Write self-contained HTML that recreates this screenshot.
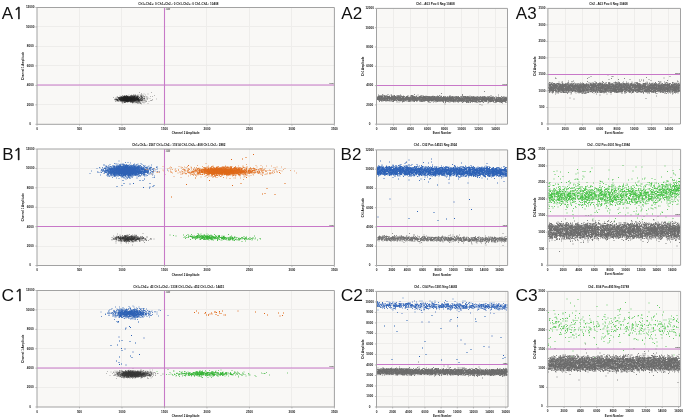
<!DOCTYPE html>
<html><head><meta charset="utf-8"><title>Droplet digital PCR plots</title>
<style>html,body{margin:0;padding:0;background:#fff;width:685px;height:419px;overflow:hidden}svg{display:block}</style>
</head><body><svg width="685" height="419" viewBox="0 0 685 419" font-family="'Liberation Sans', Arial, sans-serif"><defs><filter id="bl" x="-5%" y="-20%" width="110%" height="140%"><feGaussianBlur stdDeviation=".6"/></filter></defs><rect x="37" y="7.5" width="297.4" height="116.8" fill="#f9f8f6"/><path d="M79.5 7.5V124.3M121.5 7.5V124.3M164.5 7.5V124.3M206.5 7.5V124.3M249.5 7.5V124.3M291.5 7.5V124.3M37 104.5H334.4M37 85.5H334.4M37 65.5H334.4M37 46.5H334.4M37 26.5H334.4" stroke="#eeedeb" stroke-width="1" fill="none"/><text x="30.19" y="125.15" font-size="3.1" text-anchor="middle" fill="#1a1a1a" font-weight="bold">0</text><text x="30.19" y="105.68" font-size="3.1" text-anchor="middle" fill="#1a1a1a" font-weight="bold">2000</text><text x="30.19" y="86.22" font-size="3.1" text-anchor="middle" fill="#1a1a1a" font-weight="bold">4000</text><text x="30.19" y="66.75" font-size="3.1" text-anchor="middle" fill="#1a1a1a" font-weight="bold">6000</text><text x="30.19" y="47.28" font-size="3.1" text-anchor="middle" fill="#1a1a1a" font-weight="bold">8000</text><text x="30.19" y="27.82" font-size="3.1" text-anchor="middle" fill="#1a1a1a" font-weight="bold">10000</text><text x="30.19" y="8.35" font-size="3.1" text-anchor="middle" fill="#1a1a1a" font-weight="bold">12000</text><text x="37" y="129.95" font-size="3.1" text-anchor="middle" fill="#1a1a1a" font-weight="bold">0</text><text x="79.49" y="129.95" font-size="3.1" text-anchor="middle" fill="#1a1a1a" font-weight="bold">500</text><text x="121.97" y="129.95" font-size="3.1" text-anchor="middle" fill="#1a1a1a" font-weight="bold">1000</text><text x="164.46" y="129.95" font-size="3.1" text-anchor="middle" fill="#1a1a1a" font-weight="bold">1500</text><text x="206.94" y="129.95" font-size="3.1" text-anchor="middle" fill="#1a1a1a" font-weight="bold">2000</text><text x="249.43" y="129.95" font-size="3.1" text-anchor="middle" fill="#1a1a1a" font-weight="bold">2500</text><text x="291.91" y="129.95" font-size="3.1" text-anchor="middle" fill="#1a1a1a" font-weight="bold">3000</text><text x="334.4" y="129.95" font-size="3.1" text-anchor="middle" fill="#1a1a1a" font-weight="bold">3500</text><path d="M35.4 124.3h1.6M35.4 104.83h1.6M35.4 85.37h1.6M35.4 65.9h1.6M35.4 46.43h1.6M35.4 26.97h1.6M35.4 7.5h1.6M37 124.3v1.4M79.49 124.3v1.4M121.97 124.3v1.4M164.46 124.3v1.4M206.94 124.3v1.4M249.43 124.3v1.4M291.91 124.3v1.4M334.4 124.3v1.4" stroke="#9a9a9a" stroke-width=".7" fill="none"/><text x="178.4" y="4.8" font-size="3.4" text-anchor="middle" fill="#111" textLength="80.3" lengthAdjust="spacingAndGlyphs" font-weight="bold">Ch1+Ch2+: 0 Ch1+Ch2-: 0 Ch1-Ch2+: 0 Ch1-Ch2-: 10408</text><text x="185.7" y="134.3" font-size="3.1" text-anchor="middle" fill="#111" textLength="27.8" lengthAdjust="spacingAndGlyphs" font-weight="bold">Channel 2 Amplitude</text><text x="0" y="0" font-size="3.1" font-weight="bold" text-anchor="middle" fill="#111" transform="translate(24.4 65.9) rotate(-90)" textLength="28" lengthAdjust="spacingAndGlyphs">Channel 1 Amplitude</text><path transform="scale(.5)" filter="url(#bl)" d="M226 195h2m0 4h2m-1-1h2m-2 2h2m-1-1h2m-2 0h2m-2 1h2m-2 3h2m-1-8h2m-2 2h2m-2 1h2m-2 0h2m-2 4h2m-1-4h2m-2 1h2m-2 0h2m-2 0h2m-2 1h2m-1-6h2m-2 5h2m-2 0h2m-2 1h2m-2 0h2m-2 1h2m-2 1h2m-1-8h2m-2 0h2m-2 5h2m-2 0h2m-2 1h2m-2 0h2m-2 0h2m-2 1h2m-2 0h2m-2 0h2m-2 1h2m-1-7h2m-2 1h2m-2 2h2m-2 0h2m-2 1h2m-2 0h2m-2 3h2m-1-7h2m-2 1h2m-2 0h2m-2 1h2m-2 0h2m-2 2h2m-2 2h2m-2 0h2m-2 1h2m-1-7h2m-2 0h2m-2 0h2m-2 1h2m-2 1h2m-2 2h2m-2 3h2m-2 1h2m-1-8h2m-2 0h2m-2 1h2m-2 0h2m-2 0h2m-2 1h2m-2 0h2m-2 1h2m-2 0h2m-2 0h2m-2 0h2m-2 0h2m-2 1h2m-2 0h2m-2 0h2m-2 0h2m-2 0h2m-2 0h2m-2 1h2m-2 0h2m-1-8h2m-2 2h2m-2 1h2m-2 1h2m-2 1h2m-2 2h2m-2 1h2m-2 0h2m-2 0h2m-2 1h2m-1-7h2m-2 0h2m-2 1h2m-2 0h2m-2 0h2m-2 1h2m-2 1h2m-2 0h2m-2 0h2m-2 0h2m-2 1h2m-2 0h2m-2 0h2m-2 0h2m-2 1h2m-2 0h2m-2 0h2m-2 0h2m-2 0h2m-2 1h2m-2 0h2m-2 0h2m-2 0h2m-2 1h2m-2 0h2m-2 2h2m-1-9h2m-2 1h2m-2 1h2m-2 1h2m-2 1h2m-2 0h2m-2 0h2m-2 0h2m-2 1h2m-2 0h2m-2 0h2m-2 1h2m-2 0h2m-2 0h2m-2 1h2m-2 0h2m-2 2h2m-1-10h2m-2 1h2m-2 0h2m-2 0h2m-2 1h2m-2 0h2m-2 0h2m-2 0h2m-2 1h2m-2 0h2m-2 0h2m-2 0h2m-2 0h2m-2 1h2m-2 0h2m-2 0h2m-2 0h2m-2 0h2m-2 0h2m-2 1h2m-2 0h2m-2 0h2m-2 0h2m-2 0h2m-2 0h2m-2 1h2m-2 0h2m-2 0h2m-2 0h2m-2 1h2m-2 0h2m-2 0h2m-2 0h2m-2 1h2m-2 0h2m-2 0h2m-2 1h2m-2 2h2m-1-11h2m-2 2h2m-2 0h2m-2 0h2m-2 1h2m-2 0h2m-2 0h2m-2 0h2m-2 1h2m-2 0h2m-2 0h2m-2 0h2m-2 1h2m-2 0h2m-2 0h2m-2 0h2m-2 0h2m-2 1h2m-2 0h2m-2 0h2m-2 1h2m-2 0h2m-2 0h2m-2 1h2m-2 0h2m-2 0h2m-2 1h2m-2 0h2m-2 0h2m-2 1h2m-1-11h2m-2 0h2m-2 3h2m-2 0h2m-2 1h2m-2 0h2m-2 0h2m-2 0h2m-2 0h2m-2 1h2m-2 0h2m-2 1h2m-2 0h2m-2 0h2m-2 0h2m-2 0h2m-2 0h2m-2 0h2m-2 1h2m-2 0h2m-2 1h2m-2 0h2m-2 0h2m-2 0h2m-2 1h2m-2 0h2m-2 0h2m-2 1h2m-2 0h2m-2 0h2m-2 2h2m-2 2h2m-1-15h2m-2 2h2m-2 1h2m-2 0h2m-2 0h2m-2 1h2m-2 0h2m-2 0h2m-2 0h2m-2 0h2m-2 0h2m-2 0h2m-2 1h2m-2 0h2m-2 0h2m-2 0h2m-2 1h2m-2 0h2m-2 0h2m-2 0h2m-2 0h2m-2 0h2m-2 1h2m-2 0h2m-2 0h2m-2 0h2m-2 0h2m-2 0h2m-2 0h2m-2 0h2m-2 0h2m-2 0h2m-2 0h2m-2 0h2m-2 1h2m-2 0h2m-2 0h2m-2 0h2m-2 0h2m-2 0h2m-2 1h2m-2 0h2m-2 0h2m-2 0h2m-2 1h2m-2 0h2m-2 0h2m-2 2h2m-2 2h2m-2 1h2m-1-13h2m-2 0h2m-2 1h2m-2 0h2m-2 0h2m-2 0h2m-2 1h2m-2 0h2m-2 1h2m-2 0h2m-2 0h2m-2 0h2m-2 0h2m-2 1h2m-2 0h2m-2 0h2m-2 0h2m-2 0h2m-2 0h2m-2 0h2m-2 1h2m-2 0h2m-2 0h2m-2 0h2m-2 0h2m-2 1h2m-2 0h2m-2 0h2m-2 0h2m-2 0h2m-2 0h2m-2 0h2m-2 1h2m-2 1h2m-2 0h2m-2 0h2m-2 0h2m-2 0h2m-2 0h2m-2 1h2m-2 0h2m-2 1h2m-1-10h2m-2 1h2m-2 0h2m-2 1h2m-2 0h2m-2 0h2m-2 0h2m-2 0h2m-2 1h2m-2 0h2m-2 0h2m-2 0h2m-2 0h2m-2 0h2m-2 1h2m-2 0h2m-2 0h2m-2 0h2m-2 0h2m-2 0h2m-2 0h2m-2 1h2m-2 0h2m-2 0h2m-2 0h2m-2 0h2m-2 0h2m-2 0h2m-2 0h2m-2 1h2m-2 0h2m-2 0h2m-2 0h2m-2 0h2m-2 0h2m-2 0h2m-2 0h2m-2 0h2m-2 0h2m-2 1h2m-2 0h2m-2 0h2m-2 0h2m-2 0h2m-2 0h2m-2 0h2m-2 0h2m-2 1h2m-2 0h2m-2 0h2m-2 0h2m-2 0h2m-2 0h2m-2 0h2m-2 0h2m-2 2h2m-2 1h2m-1-13h2m-2 1h2m-2 0h2m-2 1h2m-2 0h2m-2 0h2m-2 0h2m-2 0h2m-2 0h2m-2 1h2m-2 0h2m-2 1h2m-2 0h2m-2 0h2m-2 0h2m-2 0h2m-2 0h2m-2 1h2m-2 0h2m-2 0h2m-2 0h2m-2 0h2m-2 0h2m-2 0h2m-2 0h2m-2 1h2m-2 0h2m-2 0h2m-2 0h2m-2 0h2m-2 0h2m-2 0h2m-2 0h2m-2 1h2m-2 0h2m-2 0h2m-2 0h2m-2 0h2m-2 1h2m-2 0h2m-2 0h2m-2 0h2m-2 0h2m-2 0h2m-2 0h2m-2 0h2m-2 0h2m-2 1h2m-2 0h2m-2 0h2m-2 0h2m-2 0h2m-2 1h2m-2 0h2m-2 1h2m-2 1h2m-2 1h2m-2 0h2m-2 1h2m-2 0h2m-1-12h2m-2 0h2m-2 1h2m-2 0h2m-2 0h2m-2 1h2m-2 0h2m-2 0h2m-2 0h2m-2 0h2m-2 0h2m-2 0h2m-2 0h2m-2 0h2m-2 0h2m-2 1h2m-2 0h2m-2 0h2m-2 0h2m-2 0h2m-2 0h2m-2 0h2m-2 1h2m-2 0h2m-2 0h2m-2 0h2m-2 0h2m-2 0h2m-2 0h2m-2 0h2m-2 0h2m-2 1h2m-2 0h2m-2 0h2m-2 0h2m-2 0h2m-2 0h2m-2 0h2m-2 0h2m-2 0h2m-2 0h2m-2 1h2m-2 0h2m-2 0h2m-2 0h2m-2 0h2m-2 0h2m-2 0h2m-2 0h2m-2 1h2m-2 0h2m-2 0h2m-2 0h2m-2 0h2m-2 1h2m-2 0h2m-2 0h2m-2 0h2m-2 0h2m-2 0h2m-2 1h2m-2 0h2m-2 0h2m-2 0h2m-2 1h2m-2 2h2m-2 0h2m-1-13h2m-2 1h2m-2 0h2m-2 1h2m-2 0h2m-2 0h2m-2 0h2m-2 0h2m-2 0h2m-2 1h2m-2 0h2m-2 0h2m-2 0h2m-2 0h2m-2 0h2m-2 1h2m-2 0h2m-2 0h2m-2 0h2m-2 0h2m-2 0h2m-2 0h2m-2 1h2m-2 0h2m-2 0h2m-2 0h2m-2 0h2m-2 0h2m-2 0h2m-2 0h2m-2 0h2m-2 0h2m-2 1h2m-2 0h2m-2 0h2m-2 0h2m-2 0h2m-2 0h2m-2 0h2m-2 0h2m-2 0h2m-2 0h2m-2 1h2m-2 0h2m-2 0h2m-2 1h2m-2 0h2m-2 0h2m-2 0h2m-2 0h2m-2 0h2m-2 0h2m-2 0h2m-2 1h2m-2 0h2m-2 0h2m-2 0h2m-2 0h2m-2 0h2m-2 0h2m-2 1h2m-2 1h2m-2 0h2m-2 1h2m-2 0h2m-2 0h2m-1-13h2m-2 2h2m-2 0h2m-2 1h2m-2 1h2m-2 0h2m-2 0h2m-2 1h2m-2 0h2m-2 0h2m-2 0h2m-2 0h2m-2 0h2m-2 0h2m-2 1h2m-2 0h2m-2 0h2m-2 0h2m-2 0h2m-2 0h2m-2 0h2m-2 0h2m-2 0h2m-2 0h2m-2 0h2m-2 0h2m-2 0h2m-2 0h2m-2 0h2m-2 1h2m-2 0h2m-2 0h2m-2 0h2m-2 0h2m-2 0h2m-2 0h2m-2 0h2m-2 0h2m-2 0h2m-2 0h2m-2 0h2m-2 0h2m-2 0h2m-2 0h2m-2 1h2m-2 0h2m-2 0h2m-2 0h2m-2 0h2m-2 0h2m-2 0h2m-2 0h2m-2 1h2m-2 0h2m-2 0h2m-2 0h2m-2 0h2m-2 0h2m-2 0h2m-2 1h2m-2 0h2m-2 0h2m-2 1h2m-2 2h2m-1-13h2m-2 1h2m-2 0h2m-2 1h2m-2 0h2m-2 0h2m-2 1h2m-2 1h2m-2 0h2m-2 0h2m-2 0h2m-2 1h2m-2 0h2m-2 0h2m-2 0h2m-2 0h2m-2 0h2m-2 0h2m-2 0h2m-2 1h2m-2 0h2m-2 0h2m-2 0h2m-2 0h2m-2 0h2m-2 0h2m-2 1h2m-2 0h2m-2 0h2m-2 0h2m-2 0h2m-2 0h2m-2 0h2m-2 0h2m-2 0h2m-2 0h2m-2 0h2m-2 0h2m-2 0h2m-2 0h2m-2 1h2m-2 0h2m-2 0h2m-2 0h2m-2 0h2m-2 0h2m-2 0h2m-2 0h2m-2 0h2m-2 0h2m-2 0h2m-2 0h2m-2 0h2m-2 0h2m-2 0h2m-2 0h2m-2 0h2m-2 1h2m-2 0h2m-2 0h2m-2 0h2m-2 0h2m-2 0h2m-2 1h2m-2 0h2m-2 0h2m-2 0h2m-2 0h2m-2 0h2m-2 0h2m-2 0h2m-2 0h2m-2 1h2m-2 0h2m-2 0h2m-2 0h2m-2 0h2m-2 0h2m-2 1h2m-2 0h2m-2 0h2m-1-12h2m-2 0h2m-2 2h2m-2 0h2m-2 1h2m-2 0h2m-2 1h2m-2 0h2m-2 0h2m-2 0h2m-2 0h2m-2 1h2m-2 0h2m-2 0h2m-2 0h2m-2 0h2m-2 0h2m-2 0h2m-2 0h2m-2 1h2m-2 0h2m-2 0h2m-2 0h2m-2 0h2m-2 0h2m-2 0h2m-2 0h2m-2 1h2m-2 0h2m-2 0h2m-2 0h2m-2 0h2m-2 0h2m-2 0h2m-2 0h2m-2 0h2m-2 0h2m-2 1h2m-2 0h2m-2 0h2m-2 0h2m-2 0h2m-2 0h2m-2 0h2m-2 0h2m-2 0h2m-2 0h2m-2 0h2m-2 0h2m-2 1h2m-2 0h2m-2 0h2m-2 0h2m-2 0h2m-2 0h2m-2 0h2m-2 0h2m-2 0h2m-2 1h2m-2 0h2m-2 0h2m-2 0h2m-2 0h2m-2 0h2m-2 1h2m-2 0h2m-2 0h2m-2 0h2m-2 0h2m-2 0h2m-2 1h2m-2 0h2m-2 1h2m-1-11h2m-2 0h2m-2 0h2m-2 0h2m-2 0h2m-2 0h2m-2 0h2m-2 1h2m-2 0h2m-2 0h2m-2 0h2m-2 0h2m-2 1h2m-2 0h2m-2 0h2m-2 0h2m-2 0h2m-2 0h2m-2 0h2m-2 0h2m-2 0h2m-2 0h2m-2 0h2m-2 0h2m-2 1h2m-2 0h2m-2 0h2m-2 0h2m-2 0h2m-2 0h2m-2 0h2m-2 0h2m-2 0h2m-2 0h2m-2 0h2m-2 0h2m-2 1h2m-2 0h2m-2 0h2m-2 0h2m-2 0h2m-2 0h2m-2 0h2m-2 0h2m-2 0h2m-2 0h2m-2 0h2m-2 0h2m-2 0h2m-2 1h2m-2 0h2m-2 0h2m-2 0h2m-2 0h2m-2 0h2m-2 0h2m-2 0h2m-2 0h2m-2 0h2m-2 0h2m-2 1h2m-2 0h2m-2 0h2m-2 0h2m-2 0h2m-2 0h2m-2 0h2m-2 0h2m-2 0h2m-2 0h2m-2 0h2m-2 0h2m-2 0h2m-2 1h2m-2 0h2m-2 0h2m-2 0h2m-2 0h2m-2 0h2m-2 0h2m-2 0h2m-2 0h2m-2 0h2m-2 0h2m-2 0h2m-2 0h2m-2 0h2m-2 0h2m-2 1h2m-2 0h2m-2 0h2m-2 0h2m-2 0h2m-2 0h2m-2 0h2m-2 1h2m-2 0h2m-2 0h2m-2 0h2m-2 0h2m-2 0h2m-2 0h2m-2 1h2m-2 1h2m-1-11h2m-2 0h2m-2 1h2m-2 1h2m-2 0h2m-2 1h2m-2 0h2m-2 0h2m-2 0h2m-2 0h2m-2 0h2m-2 1h2m-2 0h2m-2 0h2m-2 0h2m-2 0h2m-2 0h2m-2 0h2m-2 0h2m-2 0h2m-2 0h2m-2 1h2m-2 0h2m-2 0h2m-2 0h2m-2 0h2m-2 0h2m-2 0h2m-2 0h2m-2 0h2m-2 0h2m-2 0h2m-2 0h2m-2 0h2m-2 0h2m-2 1h2m-2 0h2m-2 0h2m-2 0h2m-2 0h2m-2 1h2m-2 0h2m-2 0h2m-2 0h2m-2 0h2m-2 0h2m-2 0h2m-2 0h2m-2 0h2m-2 2h2m-2 0h2m-2 0h2m-2 0h2m-2 0h2m-2 0h2m-2 1h2m-2 2h2m-1-13h2m-2 1h2m-2 1h2m-2 0h2m-2 0h2m-2 1h2m-2 0h2m-2 0h2m-2 0h2m-2 0h2m-2 1h2m-2 0h2m-2 0h2m-2 0h2m-2 0h2m-2 1h2m-2 0h2m-2 0h2m-2 0h2m-2 0h2m-2 0h2m-2 0h2m-2 0h2m-2 0h2m-2 0h2m-2 1h2m-2 0h2m-2 0h2m-2 0h2m-2 0h2m-2 0h2m-2 1h2m-2 0h2m-2 0h2m-2 0h2m-2 0h2m-2 0h2m-2 0h2m-2 0h2m-2 0h2m-2 1h2m-2 0h2m-2 0h2m-2 0h2m-2 0h2m-2 0h2m-2 0h2m-2 1h2m-2 0h2m-2 0h2m-2 1h2m-2 0h2m-2 0h2m-2 1h2m-2 0h2m-2 0h2m-1-13h2m-2 3h2m-2 1h2m-2 1h2m-2 0h2m-2 0h2m-2 0h2m-2 0h2m-2 1h2m-2 0h2m-2 0h2m-2 0h2m-2 1h2m-2 0h2m-2 0h2m-2 0h2m-2 0h2m-2 0h2m-2 1h2m-2 0h2m-2 0h2m-2 0h2m-2 0h2m-2 0h2m-2 1h2m-2 0h2m-2 0h2m-2 0h2m-2 1h2m-2 0h2m-2 0h2m-2 1h2m-2 0h2m-2 0h2m-2 0h2m-2 1h2m-2 0h2m-2 0h2m-2 1h2m-1-10h2m-2 0h2m-2 2h2m-2 0h2m-2 0h2m-2 1h2m-2 0h2m-2 0h2m-2 0h2m-2 0h2m-2 0h2m-2 1h2m-2 0h2m-2 0h2m-2 0h2m-2 0h2m-2 0h2m-2 0h2m-2 0h2m-2 0h2m-2 0h2m-2 1h2m-2 0h2m-2 0h2m-2 0h2m-2 0h2m-2 0h2m-2 0h2m-2 1h2m-2 0h2m-2 0h2m-2 0h2m-2 0h2m-2 0h2m-2 0h2m-2 0h2m-2 1h2m-2 0h2m-2 0h2m-2 0h2m-2 0h2m-2 1h2m-2 0h2m-2 0h2m-2 0h2m-2 0h2m-2 1h2m-2 0h2m-2 0h2m-1-9h2m-2 0h2m-2 1h2m-2 0h2m-2 0h2m-2 0h2m-2 0h2m-2 1h2m-2 0h2m-2 0h2m-2 0h2m-2 0h2m-2 0h2m-2 0h2m-2 0h2m-2 1h2m-2 0h2m-2 0h2m-2 0h2m-2 0h2m-2 1h2m-2 0h2m-2 0h2m-2 1h2m-2 0h2m-2 0h2m-2 0h2m-2 0h2m-2 0h2m-2 0h2m-2 0h2m-2 0h2m-2 1h2m-2 0h2m-2 0h2m-2 0h2m-2 0h2m-2 0h2m-2 0h2m-2 0h2m-2 0h2m-2 1h2m-2 0h2m-2 0h2m-2 0h2m-2 0h2m-2 0h2m-2 0h2m-2 1h2m-2 0h2m-2 0h2m-2 0h2m-2 1h2m-2 0h2m-2 1h2m-2 0h2m-2 1h2m-1-12h2m-2 0h2m-2 2h2m-2 1h2m-2 0h2m-2 0h2m-2 0h2m-2 0h2m-2 1h2m-2 0h2m-2 0h2m-2 0h2m-2 1h2m-2 0h2m-2 0h2m-2 0h2m-2 1h2m-2 0h2m-2 0h2m-2 0h2m-2 0h2m-2 0h2m-2 0h2m-2 0h2m-2 1h2m-2 0h2m-2 0h2m-2 1h2m-2 0h2m-2 1h2m-2 0h2m-2 0h2m-2 0h2m-2 0h2m-2 1h2m-2 0h2m-2 0h2m-2 0h2m-2 1h2m-2 0h2m-2 2h2m-1-13h2m-2 0h2m-2 0h2m-2 0h2m-2 2h2m-2 0h2m-2 0h2m-2 0h2m-2 0h2m-2 1h2m-2 0h2m-2 0h2m-2 0h2m-2 0h2m-2 0h2m-2 1h2m-2 0h2m-2 0h2m-2 0h2m-2 0h2m-2 1h2m-2 0h2m-2 0h2m-2 0h2m-2 0h2m-2 0h2m-2 0h2m-2 0h2m-2 0h2m-2 0h2m-2 1h2m-2 0h2m-2 0h2m-2 0h2m-2 0h2m-2 0h2m-2 0h2m-2 0h2m-2 0h2m-2 0h2m-2 0h2m-2 0h2m-2 1h2m-2 0h2m-2 0h2m-2 0h2m-2 0h2m-2 0h2m-2 0h2m-2 0h2m-2 1h2m-2 0h2m-2 0h2m-2 0h2m-2 0h2m-2 0h2m-2 0h2m-2 0h2m-2 1h2m-2 0h2m-2 0h2m-2 0h2m-2 1h2m-2 0h2m-2 0h2m-2 1h2m-2 2h2m-1-15h2m-2 2h2m-2 1h2m-2 1h2m-2 0h2m-2 1h2m-2 1h2m-2 0h2m-2 0h2m-2 0h2m-2 0h2m-2 1h2m-2 0h2m-2 0h2m-2 0h2m-2 0h2m-2 0h2m-2 1h2m-2 0h2m-2 0h2m-2 0h2m-2 0h2m-2 0h2m-2 1h2m-2 0h2m-2 0h2m-2 1h2m-2 0h2m-2 1h2m-2 0h2m-2 0h2m-2 1h2m-2 0h2m-2 0h2m-2 1h2m-2 0h2m-2 0h2m-2 1h2m-1-13h2m-2 1h2m-2 0h2m-2 0h2m-2 1h2m-2 0h2m-2 1h2m-2 1h2m-2 1h2m-2 0h2m-2 0h2m-2 1h2m-2 0h2m-2 0h2m-2 0h2m-2 1h2m-2 0h2m-2 1h2m-2 0h2m-2 0h2m-2 0h2m-2 0h2m-2 0h2m-2 0h2m-2 0h2m-2 0h2m-2 0h2m-2 1h2m-2 0h2m-2 1h2m-2 0h2m-2 1h2m-2 0h2m-2 1h2m-2 1h2m-2 1h2m-1-13h2m-2 1h2m-2 0h2m-2 0h2m-2 1h2m-2 1h2m-2 0h2m-2 0h2m-2 1h2m-2 0h2m-2 0h2m-2 0h2m-2 0h2m-2 1h2m-2 0h2m-2 0h2m-2 0h2m-2 1h2m-2 0h2m-2 0h2m-2 0h2m-2 0h2m-2 1h2m-2 0h2m-2 0h2m-2 0h2m-2 1h2m-2 0h2m-2 0h2m-2 0h2m-2 0h2m-2 1h2m-2 0h2m-2 1h2m-2 0h2m-2 0h2m-2 0h2m-2 0h2m-2 1h2m-2 0h2m-2 2h2m-2 0h2m-2 1h2m-1-14h2m-2 0h2m-2 1h2m-2 1h2m-2 0h2m-2 1h2m-2 0h2m-2 0h2m-2 1h2m-2 0h2m-2 0h2m-2 1h2m-2 0h2m-2 0h2m-2 1h2m-2 0h2m-2 0h2m-2 0h2m-2 0h2m-2 1h2m-2 0h2m-2 0h2m-2 0h2m-2 0h2m-2 0h2m-2 0h2m-2 1h2m-2 0h2m-2 0h2m-2 1h2m-2 1h2m-2 1h2m-2 1h2m-2 0h2m-2 2h2m-1-16h2m-2 1h2m-2 1h2m-2 1h2m-2 1h2m-2 0h2m-2 0h2m-2 0h2m-2 1h2m-2 0h2m-2 0h2m-2 1h2m-2 0h2m-2 0h2m-2 0h2m-2 0h2m-2 0h2m-2 0h2m-2 0h2m-2 0h2m-2 1h2m-2 1h2m-2 0h2m-2 0h2m-2 0h2m-2 1h2m-2 0h2m-2 0h2m-2 1h2m-2 0h2m-2 0h2m-2 0h2m-2 1h2m-2 0h2m-2 0h2m-2 1h2m-2 0h2m-2 0h2m-2 0h2m-2 1h2m-2 1h2m-2 0h2m-1-15h2m-2 3h2m-2 1h2m-2 0h2m-2 1h2m-2 0h2m-2 1h2m-2 0h2m-2 0h2m-2 0h2m-2 1h2m-2 0h2m-2 0h2m-2 0h2m-2 0h2m-2 1h2m-2 0h2m-2 0h2m-2 1h2m-2 0h2m-2 0h2m-2 0h2m-2 0h2m-2 0h2m-2 0h2m-2 1h2m-2 0h2m-2 0h2m-2 1h2m-2 0h2m-2 0h2m-2 1h2m-2 0h2m-2 1h2m-2 1h2m-2 1h2m-2 1h2m-1-13h2m-2 0h2m-2 0h2m-2 0h2m-2 1h2m-2 0h2m-2 1h2m-2 0h2m-2 0h2m-2 0h2m-2 0h2m-2 1h2m-2 1h2m-2 1h2m-2 0h2m-2 0h2m-2 0h2m-2 1h2m-2 0h2m-2 0h2m-2 0h2m-2 1h2m-2 0h2m-2 1h2m-2 0h2m-2 0h2m-2 0h2m-2 0h2m-2 0h2m-2 1h2m-2 0h2m-2 0h2m-2 0h2m-2 1h2m-2 0h2m-2 0h2m-2 1h2m-1-11h2m-2 0h2m-2 1h2m-2 1h2m-2 0h2m-2 0h2m-2 1h2m-2 0h2m-2 0h2m-2 1h2m-2 0h2m-2 0h2m-2 1h2m-2 0h2m-2 0h2m-2 1h2m-2 0h2m-2 0h2m-2 0h2m-2 0h2m-2 0h2m-2 1h2m-2 0h2m-2 0h2m-2 1h2m-2 0h2m-2 1h2m-2 0h2m-2 1h2m-2 0h2m-2 2h2m-2 2h2m-1-16h2m-2 0h2m-2 1h2m-2 1h2m-2 1h2m-2 1h2m-2 0h2m-2 2h2m-2 0h2m-2 1h2m-2 0h2m-2 1h2m-2 0h2m-2 0h2m-2 0h2m-2 1h2m-2 0h2m-2 0h2m-2 1h2m-2 0h2m-2 0h2m-2 1h2m-2 0h2m-2 0h2m-2 0h2m-2 1h2m-2 0h2m-2 3h2m-1-13h2m-2 3h2m-2 1h2m-2 0h2m-2 0h2m-2 0h2m-2 1h2m-2 0h2m-2 1h2m-2 0h2m-2 0h2m-2 0h2m-2 0h2m-2 0h2m-2 1h2m-2 1h2m-2 0h2m-2 1h2m-2 0h2m-2 1h2m-2 1h2m-2 0h2m-2 1h2m-1-12h2m-2 1h2m-2 1h2m-2 0h2m-2 1h2m-2 0h2m-2 0h2m-2 1h2m-2 0h2m-2 1h2m-2 0h2m-2 0h2m-2 1h2m-2 0h2m-2 0h2m-2 0h2m-2 1h2m-2 0h2m-2 0h2m-2 1h2m-2 0h2m-2 0h2m-2 0h2m-2 1h2m-2 0h2m-2 2h2m-2 2h2m-2 0h2m-1-14h2m-2 2h2m-2 1h2m-2 0h2m-2 1h2m-2 0h2m-2 0h2m-2 0h2m-2 1h2m-2 1h2m-2 0h2m-2 0h2m-2 0h2m-2 1h2m-2 0h2m-2 0h2m-2 0h2m-2 1h2m-2 0h2m-2 0h2m-2 1h2m-2 2h2m-2 0h2m-2 2h2m-2 2h2m-1-16h2m-2 2h2m-2 0h2m-2 1h2m-2 1h2m-2 0h2m-2 0h2m-2 0h2m-2 0h2m-2 1h2m-2 1h2m-2 1h2m-2 0h2m-2 1h2m-2 1h2m-2 0h2m-2 0h2m-2 0h2m-2 0h2m-2 0h2m-2 0h2m-2 0h2m-2 0h2m-2 0h2m-2 0h2m-2 0h2m-2 1h2m-2 0h2m-2 0h2m-2 1h2m-2 0h2m-2 2h2m-2 0h2m-2 2h2m-2 1h2m-2 0h2m-1-13h2m-2 1h2m-2 0h2m-2 1h2m-2 0h2m-2 1h2m-2 1h2m-2 0h2m-2 0h2m-2 0h2m-2 1h2m-2 0h2m-2 0h2m-2 1h2m-2 1h2m-2 0h2m-2 0h2m-2 1h2m-2 1h2m-1-12h2m-2 2h2m-2 1h2m-2 1h2m-2 2h2m-2 1h2m-2 0h2m-2 0h2m-2 1h2m-2 0h2m-2 0h2m-2 0h2m-2 1h2m-2 0h2m-2 0h2m-2 1h2m-2 0h2m-2 0h2m-2 1h2m-2 0h2m-2 1h2m-2 0h2m-2 2h2m-2 0h2m-2 0h2m-2 3h2m-1-10h2m-2 1h2m-2 0h2m-2 1h2m-2 1h2m-2 0h2m-2 1h2m-2 0h2m-2 0h2m-2 1h2m-2 0h2m-2 0h2m-2 0h2m-2 1h2m-2 2h2m-1-20h2m-2 10h2m-2 0h2m-2 0h2m-2 4h2m-2 2h2m-2 0h2m-2 1h2m-2 1h2m-2 2h2m-1-15h2m-2 4h2m-2 0h2m-2 2h2m-2 0h2m-2 2h2m-2 1h2m-2 0h2m-2 0h2m-2 0h2m-2 1h2m-2 0h2m-2 0h2m-2 1h2m-2 2h2m-2 2h2m-2 1h2m-2 1h2m-1-13h2m-2 3h2m-2 3h2m-2 0h2m-2 2h2m-2 3h2m-2 2h2m-1-17h2m-2 1h2m-2 1h2m-2 0h2m-2 0h2m-2 1h2m-2 4h2m-2 0h2m-2 0h2m-2 3h2m-2 0h2m-2 1h2m-2 0h2m-2 6h2m-1-20h2m-2 3h2m-2 3h2m-2 0h2m-2 0h2m-2 1h2m-2 1h2m-2 1h2m-2 0h2m-2 2h2m-2 0h2m-2 2h2m-2 0h2m-2 0h2m-2 1h2m-2 0h2m-2 1h2m-2 6h2m-1-19h2m-2 2h2m-2 2h2m-2 2h2m-2 1h2m-2 0h2m-2 1h2m-2 7h2m-1-10h2m-2 0h2m-2 1h2m-2 0h2m-2 2h2m-2 2h2m-2 0h2m-2 1h2m-2 0h2m-2 1h2m-1-10h2m-2 7h2m-2 1h2m-2 2h2m-2 1h2m-2 2h2m-2 1h2m-1-13h2m-2 1h2m-2 3h2m-2 1h2m-1-9h2m-2 9h2m-2 1h2m-2 3h2m-2 5h2m-1-13h2m-2 1h2m-2 0h2m-2 3h2m-2 0h2m-2 0h2m-2 3h2m-1-1h2m-2 3h2m-2 0h2m-2 3h2m-1-15h2m-1 3h2m-2 3h2m-2 6h2m-2 0h2m-1-6h2m-2 7h2m-1-10h2m-2 6h2m-1-3h2m-2 2h2m-1-10h2m-2 8h2m-2 11h2m0-4h2m0-6h2m-1-4h2m-2 8h2m0-16h2m-2 16h2m-1 0h2m-1-8h2m-2 6h2m2-8h2m2 7h2" stroke="#222" stroke-width="2" stroke-opacity=".3" fill="none"/><path d="M37 85H334.4" stroke="#c878c8" stroke-width="1.15" fill="none"/><text x="331.4" y="84.4" font-size="2.3" text-anchor="middle" fill="#3a3a3a" textLength="4.8" lengthAdjust="spacingAndGlyphs" font-weight="bold">4000</text><path d="M164.5 7.5V124.3" stroke="#c77ac7" stroke-width="1.1" fill="none"/><text x="167.9" y="10.1" font-size="2.7" text-anchor="middle" fill="#505050" textLength="4.6" lengthAdjust="spacingAndGlyphs" font-weight="bold">1500</text><path d="M37 7.5H334.4V124.3H37Z" stroke="#a2a2a2" stroke-width="1" fill="none"/><rect x="376.5" y="8.4" width="131" height="115.8" fill="#f9f8f6"/><path d="M393.5 8.4V124.2M410.5 8.4V124.2M427.5 8.4V124.2M444.5 8.4V124.2M461.5 8.4V124.2M478.5 8.4V124.2M495.5 8.4V124.2M376.5 104.5H507.5M376.5 85.5H507.5M376.5 66.5H507.5M376.5 47.5H507.5M376.5 27.5H507.5" stroke="#eeedeb" stroke-width="1" fill="none"/><text x="369.69" y="125.05" font-size="3.1" text-anchor="middle" fill="#1a1a1a" font-weight="bold">0</text><text x="369.69" y="105.75" font-size="3.1" text-anchor="middle" fill="#1a1a1a" font-weight="bold">2000</text><text x="369.69" y="86.45" font-size="3.1" text-anchor="middle" fill="#1a1a1a" font-weight="bold">4000</text><text x="369.69" y="67.15" font-size="3.1" text-anchor="middle" fill="#1a1a1a" font-weight="bold">6000</text><text x="369.69" y="47.85" font-size="3.1" text-anchor="middle" fill="#1a1a1a" font-weight="bold">8000</text><text x="369.69" y="28.55" font-size="3.1" text-anchor="middle" fill="#1a1a1a" font-weight="bold">10000</text><text x="369.69" y="9.25" font-size="3.1" text-anchor="middle" fill="#1a1a1a" font-weight="bold">12000</text><text x="376.5" y="129.85" font-size="3.1" text-anchor="middle" fill="#1a1a1a" font-weight="bold">0</text><text x="393.51" y="129.85" font-size="3.1" text-anchor="middle" fill="#1a1a1a" font-weight="bold">2000</text><text x="410.53" y="129.85" font-size="3.1" text-anchor="middle" fill="#1a1a1a" font-weight="bold">4000</text><text x="427.54" y="129.85" font-size="3.1" text-anchor="middle" fill="#1a1a1a" font-weight="bold">6000</text><text x="444.55" y="129.85" font-size="3.1" text-anchor="middle" fill="#1a1a1a" font-weight="bold">8000</text><text x="461.56" y="129.85" font-size="3.1" text-anchor="middle" fill="#1a1a1a" font-weight="bold">10000</text><text x="478.58" y="129.85" font-size="3.1" text-anchor="middle" fill="#1a1a1a" font-weight="bold">12000</text><text x="495.59" y="129.85" font-size="3.1" text-anchor="middle" fill="#1a1a1a" font-weight="bold">14000</text><path d="M374.9 124.2h1.6M374.9 104.9h1.6M374.9 85.6h1.6M374.9 66.3h1.6M374.9 47h1.6M374.9 27.7h1.6M374.9 8.4h1.6M376.5 124.2v1.4M393.51 124.2v1.4M410.53 124.2v1.4M427.54 124.2v1.4M444.55 124.2v1.4M461.56 124.2v1.4M478.58 124.2v1.4M495.59 124.2v1.4" stroke="#9a9a9a" stroke-width=".7" fill="none"/><text x="435.4" y="4.8" font-size="3.4" text-anchor="middle" fill="#111" textLength="38.6" lengthAdjust="spacingAndGlyphs" font-weight="bold">Ch1 - A03 Pos:0 Neg:10408</text><text x="442" y="134.2" font-size="3.1" text-anchor="middle" fill="#111" textLength="18.7" lengthAdjust="spacingAndGlyphs" font-weight="bold">Event Number</text><text x="0" y="0" font-size="3.1" font-weight="bold" text-anchor="middle" fill="#111" transform="translate(364.3 66.3) rotate(-90)" textLength="19.3" lengthAdjust="spacingAndGlyphs">Ch1 Amplitude</text><path transform="scale(.5)" filter="url(#bl)" d="M754 194h2m-2 2h2m-2 0h2m-2 0h2m-2 1h2m-2 0h2m-2 1h2m-2 0h2m-2 1h2m-2 0h2m-1-5h2m-2 1h2m-2 0h2m-2 3h2m-2 0h2m-2 0h2m-1-8h2m-2 3h2m-2 0h2m-2 1h2m-2 0h2m-2 0h2m-2 0h2m-2 2h2m-2 2h2m-2 1h2m-2 0h2m-2 1h2m-1-9h2m-2 3h2m-2 0h2m-2 2h2m-2 0h2m-2 1h2m-2 0h2m-2 1h2m-2 0h2m-2 0h2m-2 1h2m-2 0h2m-2 1h2m-1-7h2m-2 1h2m-2 0h2m-2 1h2m-2 0h2m-2 1h2m-2 0h2m-2 0h2m-2 1h2m-2 0h2m-2 1h2m-2 1h2m-2 1h2m-2 0h2m-2 2h2m-2 1h2m-1-11h2m-2 0h2m-2 1h2m-2 0h2m-2 0h2m-2 2h2m-2 3h2m-2 1h2m-2 0h2m-2 1h2m-1-7h2m-2 3h2m-2 1h2m-2 0h2m-2 1h2m-2 2h2m-2 0h2m-2 0h2m-1-9h2m-2 2h2m-2 1h2m-2 0h2m-2 0h2m-2 0h2m-2 1h2m-2 1h2m-2 1h2m-2 3h2m-1-8h2m-2 1h2m-2 0h2m-2 2h2m-2 0h2m-2 0h2m-2 0h2m-2 1h2m-2 0h2m-2 2h2m-2 1h2m-2 1h2m-2 1h2m-2 1h2m-1-9h2m-2 0h2m-2 0h2m-2 1h2m-2 1h2m-2 0h2m-2 1h2m-2 0h2m-2 1h2m-2 1h2m-2 0h2m-2 4h2m-1-12h2m-2 0h2m-2 3h2m-2 1h2m-2 0h2m-2 3h2m-2 2h2m-2 1h2m-1-10h2m-2 6h2m-2 2h2m-2 0h2m-2 1h2m-2 1h2m-2 1h2m-2 1h2m-1-8h2m-2 2h2m-2 1h2m-2 0h2m-2 1h2m-2 3h2m-1-10h2m-2 1h2m-2 3h2m-2 1h2m-2 1h2m-2 1h2m-2 1h2m-2 1h2m-2 1h2m-1-9h2m-2 1h2m-2 0h2m-2 1h2m-2 0h2m-2 2h2m-2 1h2m-2 2h2m-2 0h2m-2 1h2m-2 1h2m-1-9h2m-2 0h2m-2 0h2m-2 2h2m-2 0h2m-2 2h2m-2 0h2m-2 0h2m-2 0h2m-2 1h2m-2 4h2m-1-8h2m-2 1h2m-2 2h2m-2 2h2m-2 1h2m-2 2h2m-1-8h2m-2 1h2m-2 2h2m-2 1h2m-2 0h2m-2 0h2m-2 0h2m-2 1h2m-2 1h2m-2 2h2m-2 2h2m-1-11h2m-2 2h2m-2 0h2m-2 2h2m-2 1h2m-2 0h2m-2 1h2m-2 3h2m-1-10h2m-2 6h2m-2 2h2m-2 1h2m-2 0h2m-1-7h2m-2 0h2m-2 0h2m-2 1h2m-2 1h2m-2 0h2m-2 2h2m-2 0h2m-2 2h2m-2 0h2m-2 2h2m-2 0h2m-1-12h2m-2 4h2m-2 1h2m-2 1h2m-2 1h2m-2 0h2m-2 0h2m-2 4h2m-2 0h2m-2 1h2m-2 1h2m-1-9h2m-2 1h2m-2 0h2m-2 0h2m-2 1h2m-2 1h2m-2 0h2m-2 5h2m-1-7h2m-2 2h2m-2 1h2m-2 1h2m-2 0h2m-2 0h2m-1-6h2m-2 1h2m-2 0h2m-2 1h2m-2 1h2m-2 0h2m-2 1h2m-2 0h2m-2 1h2m-2 0h2m-2 2h2m-2 0h2m-2 1h2m-2 1h2m-1-7h2m-2 1h2m-2 0h2m-2 0h2m-2 2h2m-2 2h2m-2 2h2m-2 2h2m-1-8h2m-2 0h2m-2 1h2m-2 0h2m-2 1h2m-2 0h2m-2 3h2m-1-10h2m-2 5h2m-2 0h2m-2 0h2m-2 0h2m-2 0h2m-2 2h2m-2 0h2m-2 0h2m-2 0h2m-2 1h2m-2 1h2m-2 1h2m-1-10h2m-2 2h2m-2 1h2m-2 1h2m-2 0h2m-2 1h2m-2 2h2m-2 0h2m-2 2h2m-2 0h2m-2 3h2m-1-10h2m-2 0h2m-2 2h2m-2 0h2m-2 2h2m-2 3h2m-2 0h2m-2 1h2m-2 0h2m-2 1h2m-1-8h2m-2 1h2m-2 2h2m-2 0h2m-2 0h2m-2 2h2m-2 1h2m-2 4h2m-1-10h2m-2 1h2m-2 0h2m-2 1h2m-2 2h2m-2 0h2m-2 0h2m-2 1h2m-2 0h2m-2 0h2m-2 1h2m-2 0h2m-1-5h2m-2 0h2m-2 0h2m-2 3h2m-2 0h2m-2 1h2m-2 0h2m-2 0h2m-2 1h2m-2 1h2m-2 1h2m-2 1h2m-2 0h2m-2 1h2m-1-12h2m-2 1h2m-2 2h2m-2 1h2m-2 0h2m-2 1h2m-2 0h2m-2 0h2m-2 2h2m-2 1h2m-2 1h2m-2 1h2m-1-10h2m-2 1h2m-2 1h2m-2 0h2m-2 2h2m-2 2h2m-2 1h2m-2 0h2m-2 0h2m-2 0h2m-2 2h2m-2 1h2m-2 0h2m-1-8h2m-2 1h2m-2 1h2m-2 2h2m-2 0h2m-2 0h2m-2 1h2m-2 0h2m-2 1h2m-2 1h2m-2 1h2m-1-8h2m-2 0h2m-2 0h2m-2 2h2m-2 0h2m-2 1h2m-2 0h2m-2 1h2m-2 1h2m-2 1h2m-1-5h2m-2 1h2m-2 1h2m-2 0h2m-2 1h2m-2 0h2m-2 0h2m-2 1h2m-2 0h2m-2 1h2m-2 1h2m-2 1h2m-1-7h2m-2 1h2m-2 1h2m-2 0h2m-2 1h2m-2 4h2m-1-10h2m-2 2h2m-2 3h2m-2 2h2m-2 3h2m-2 1h2m-2 2h2m-1-11h2m-2 2h2m-2 0h2m-2 0h2m-2 0h2m-2 1h2m-2 0h2m-2 0h2m-2 0h2m-2 2h2m-2 1h2m-2 0h2m-1-8h2m-2 1h2m-2 3h2m-2 2h2m-2 2h2m-2 0h2m-2 0h2m-1-7h2m-2 1h2m-2 1h2m-2 0h2m-2 1h2m-2 2h2m-2 3h2m-2 0h2m-2 0h2m-2 0h2m-2 1h2m-2 0h2m-1-9h2m-2 2h2m-2 0h2m-2 2h2m-2 1h2m-2 2h2m-2 0h2m-2 0h2m-2 1h2m-2 0h2m-2 0h2m-2 4h2m-1-10h2m-2 0h2m-2 0h2m-2 1h2m-2 1h2m-2 1h2m-2 3h2m-2 0h2m-2 1h2m-1-10h2m-2 1h2m-2 3h2m-2 2h2m-2 4h2m-2 1h2m-1-12h2m-2 4h2m-2 0h2m-2 1h2m-2 0h2m-2 1h2m-2 1h2m-2 1h2m-2 0h2m-2 0h2m-2 1h2m-2 1h2m-2 1h2m-2 0h2m-1-8h2m-2 1h2m-2 1h2m-2 3h2m-2 0h2m-2 0h2m-2 1h2m-2 0h2m-2 1h2m-2 0h2m-2 2h2m-1-10h2m-2 1h2m-2 4h2m-2 0h2m-2 0h2m-2 2h2m-2 0h2m-2 1h2m-2 1h2m-1-7h2m-2 3h2m-2 0h2m-2 0h2m-2 1h2m-2 1h2m-1-5h2m-2 1h2m-2 1h2m-2 1h2m-2 0h2m-2 2h2m-2 1h2m-2 3h2m-2 1h2m-1-11h2m-2 0h2m-2 0h2m-2 1h2m-2 1h2m-2 0h2m-2 3h2m-2 1h2m-2 1h2m-2 1h2m-2 0h2m-1-9h2m-2 1h2m-2 1h2m-2 0h2m-2 1h2m-2 0h2m-2 1h2m-2 1h2m-2 0h2m-2 0h2m-2 0h2m-2 1h2m-2 0h2m-2 1h2m-2 1h2m-2 1h2m-2 2h2m-1-10h2m-2 2h2m-2 2h2m-2 1h2m-2 1h2m-2 0h2m-2 0h2m-2 3h2m-2 0h2m-1-9h2m-2 5h2m-2 0h2m-2 1h2m-2 0h2m-2 3h2m-1-8h2m-2 2h2m-2 1h2m-2 0h2m-2 0h2m-2 1h2m-2 1h2m-2 0h2m-2 0h2m-2 1h2m-2 0h2m-2 1h2m-1-6h2m-2 1h2m-2 1h2m-2 1h2m-2 1h2m-2 2h2m-1-6h2m-2 1h2m-2 0h2m-2 1h2m-2 0h2m-2 0h2m-2 2h2m-2 0h2m-2 3h2m-1-8h2m-2 0h2m-2 1h2m-2 0h2m-2 0h2m-2 1h2m-2 0h2m-2 0h2m-2 2h2m-2 0h2m-2 0h2m-2 0h2m-2 2h2m-2 0h2m-1-7h2m-2 0h2m-2 1h2m-2 0h2m-2 0h2m-2 2h2m-2 1h2m-2 0h2m-2 2h2m-2 0h2m-2 3h2m-1-10h2m-2 1h2m-2 0h2m-2 1h2m-2 0h2m-2 1h2m-2 1h2m-2 0h2m-2 1h2m-2 1h2m-2 0h2m-2 1h2m-2 0h2m-2 1h2m-1-5h2m-2 1h2m-2 0h2m-2 0h2m-2 2h2m-2 4h2m-1-10h2m-2 4h2m-2 0h2m-2 0h2m-2 0h2m-2 0h2m-2 1h2m-2 1h2m-2 1h2m-2 1h2m-2 2h2m-2 0h2m-1-7h2m-2 2h2m-2 0h2m-2 0h2m-2 0h2m-2 1h2m-2 0h2m-2 1h2m-2 0h2m-2 0h2m-2 0h2m-2 1h2m-2 2h2m-2 0h2m-1-6h2m-2 1h2m-2 1h2m-2 1h2m-2 0h2m-2 0h2m-2 1h2m-2 1h2m-2 2h2m-1-9h2m-2 2h2m-2 0h2m-2 0h2m-2 0h2m-2 0h2m-2 0h2m-2 2h2m-2 0h2m-2 0h2m-2 1h2m-2 0h2m-2 1h2m-2 1h2m-2 0h2m-2 0h2m-2 0h2m-1-7h2m-2 0h2m-2 1h2m-2 1h2m-2 1h2m-2 1h2m-2 0h2m-2 1h2m-2 3h2m-2 0h2m-1-11h2m-2 4h2m-2 0h2m-2 1h2m-2 0h2m-2 1h2m-2 0h2m-2 1h2m-2 1h2m-1-8h2m-2 1h2m-2 0h2m-2 2h2m-2 3h2m-2 1h2m-2 1h2m-2 1h2m-2 0h2m-2 2h2m-1-8h2m-2 0h2m-2 2h2m-1-5h2m-2 2h2m-2 0h2m-2 1h2m-2 1h2m-2 0h2m-2 0h2m-2 0h2m-2 1h2m-2 0h2m-2 0h2m-2 0h2m-2 1h2m-2 0h2m-2 1h2m-2 0h2m-2 0h2m-2 0h2m-2 1h2m-2 2h2m-2 1h2m-1-11h2m-2 3h2m-2 0h2m-2 1h2m-2 0h2m-2 2h2m-2 0h2m-2 1h2m-2 0h2m-2 0h2m-2 1h2m-2 1h2m-1-7h2m-2 1h2m-2 1h2m-2 1h2m-2 0h2m-2 0h2m-2 1h2m-2 0h2m-2 0h2m-2 1h2m-2 2h2m-2 0h2m-2 0h2m-2 2h2m-2 0h2m-1-8h2m-2 1h2m-2 0h2m-2 1h2m-2 1h2m-2 4h2m-1-12h2m-2 4h2m-2 0h2m-2 1h2m-2 1h2m-2 1h2m-2 0h2m-2 1h2m-2 1h2m-2 0h2m-2 0h2m-2 2h2m-2 0h2m-2 3h2m-2 0h2m-1-8h2m-2 0h2m-2 1h2m-2 0h2m-2 1h2m-2 1h2m-2 1h2m-2 0h2m-2 1h2m-2 0h2m-2 1h2m-2 0h2m-2 0h2m-1-7h2m-2 2h2m-2 0h2m-2 0h2m-2 0h2m-2 1h2m-2 0h2m-2 2h2m-2 0h2m-2 1h2m-1-7h2m-2 2h2m-2 2h2m-2 0h2m-2 0h2m-2 1h2m-2 1h2m-2 0h2m-2 2h2m-1-9h2m-2 1h2m-2 4h2m-2 2h2m-2 1h2m-2 0h2m-2 0h2m-2 0h2m-2 1h2m-2 1h2m-2 0h2m-1-8h2m-2 1h2m-2 0h2m-2 1h2m-2 1h2m-2 2h2m-2 1h2m-2 1h2m-2 0h2m-1-6h2m-2 0h2m-2 1h2m-2 0h2m-2 1h2m-2 1h2m-2 2h2m-2 0h2m-2 2h2m-1-12h2m-2 6h2m-2 0h2m-2 1h2m-2 0h2m-2 1h2m-2 1h2m-2 1h2m-2 1h2m-1-6h2m-2 4h2m-1-6h2m-2 2h2m-2 1h2m-2 0h2m-2 1h2m-2 0h2m-2 0h2m-2 2h2m-2 1h2m-1-7h2m-2 2h2m-2 1h2m-2 2h2m-2 1h2m-2 1h2m-2 2h2m-1-9h2m-2 0h2m-2 2h2m-2 0h2m-2 0h2m-2 1h2m-2 0h2m-2 0h2m-2 1h2m-2 1h2m-2 2h2m-2 1h2m-2 1h2m-1-9h2m-2 2h2m-2 4h2m-2 3h2m-2 0h2m-1-11h2m-2 2h2m-2 1h2m-2 0h2m-2 1h2m-2 0h2m-2 1h2m-2 1h2m-2 1h2m-2 0h2m-2 1h2m-2 1h2m-2 1h2m-1-9h2m-2 3h2m-2 0h2m-2 0h2m-2 4h2m-2 0h2m-2 1h2m-2 0h2m-2 1h2m-2 1h2m-2 1h2m-1-8h2m-2 0h2m-2 0h2m-2 2h2m-2 1h2m-2 0h2m-2 2h2m-2 0h2m-2 1h2m-2 0h2m-2 1h2m-1-10h2m-2 2h2m-2 1h2m-2 1h2m-2 0h2m-2 1h2m-2 1h2m-2 1h2m-2 1h2m-2 3h2m-1-8h2m-2 2h2m-2 0h2m-2 1h2m-2 0h2m-2 1h2m-2 3h2m-1-10h2m-2 1h2m-2 1h2m-2 1h2m-2 0h2m-2 0h2m-2 2h2m-2 1h2m-2 0h2m-2 1h2m-2 2h2m-2 0h2m-1-8h2m-2 1h2m-2 0h2m-2 0h2m-2 1h2m-2 0h2m-2 1h2m-2 2h2m-2 2h2m-2 1h2m-2 1h2m-2 1h2m-1-10h2m-2 1h2m-2 1h2m-2 0h2m-2 0h2m-2 0h2m-2 1h2m-2 1h2m-2 1h2m-2 2h2m-2 1h2m-1-8h2m-2 2h2m-2 0h2m-2 1h2m-2 2h2m-2 0h2m-2 0h2m-2 0h2m-2 1h2m-2 1h2m-2 0h2m-2 0h2m-2 1h2m-2 1h2m-1-8h2m-2 0h2m-2 1h2m-2 1h2m-2 0h2m-2 1h2m-2 0h2m-2 0h2m-2 0h2m-2 1h2m-2 0h2m-2 1h2m-2 1h2m-2 0h2m-2 0h2m-1-8h2m-2 1h2m-2 1h2m-2 1h2m-2 1h2m-2 0h2m-2 1h2m-2 1h2m-2 0h2m-2 1h2m-2 0h2m-2 1h2m-2 0h2m-1-7h2m-2 3h2m-2 1h2m-2 0h2m-2 3h2m-2 0h2m-2 1h2m-1-7h2m-2 0h2m-2 2h2m-2 0h2m-2 2h2m-2 3h2m-1-8h2m-2 1h2m-2 0h2m-2 0h2m-2 3h2m-2 2h2m-2 0h2m-2 1h2m-2 1h2m-2 0h2m-2 0h2m-2 0h2m-1-5h2m-2 1h2m-2 0h2m-2 0h2m-2 1h2m-2 0h2m-2 0h2m-2 3h2m-2 0h2m-2 1h2m-2 1h2m-1-10h2m-2 2h2m-2 1h2m-2 0h2m-2 1h2m-2 1h2m-2 0h2m-2 0h2m-2 2h2m-2 2h2m-2 0h2m-2 2h2m-1-11h2m-2 1h2m-2 1h2m-2 0h2m-2 0h2m-2 0h2m-2 1h2m-2 2h2m-2 1h2m-2 1h2m-2 0h2m-2 0h2m-2 3h2m-1-10h2m-2 2h2m-2 0h2m-2 1h2m-2 1h2m-2 1h2m-2 0h2m-2 3h2m-2 0h2m-1-6h2m-2 1h2m-2 1h2m-2 0h2m-2 1h2m-2 1h2m-2 0h2m-2 1h2m-2 0h2m-2 4h2m-2 1h2m-1-10h2m-2 0h2m-2 2h2m-2 0h2m-2 1h2m-2 0h2m-2 2h2m-2 0h2m-1-7h2m-2 0h2m-2 1h2m-2 0h2m-2 1h2m-2 0h2m-2 0h2m-2 4h2m-2 0h2m-2 0h2m-2 0h2m-2 1h2m-2 0h2m-2 1h2m-1-7h2m-2 2h2m-2 0h2m-2 0h2m-2 0h2m-2 0h2m-2 2h2m-2 0h2m-2 0h2m-2 2h2m-2 1h2m-2 0h2m-2 0h2m-2 1h2m-1-6h2m-2 0h2m-2 0h2m-2 4h2m-2 1h2m-2 0h2m-2 1h2m-1-9h2m-2 0h2m-2 1h2m-2 0h2m-2 0h2m-2 2h2m-2 1h2m-2 2h2m-2 0h2m-2 1h2m-2 0h2m-2 0h2m-2 1h2m-1-9h2m-2 1h2m-2 3h2m-2 3h2m-2 1h2m-2 0h2m-2 1h2m-2 0h2m-2 1h2m-1-8h2m-2 0h2m-2 1h2m-2 1h2m-2 1h2m-2 0h2m-2 1h2m-2 0h2m-2 0h2m-2 1h2m-2 0h2m-2 0h2m-2 0h2m-2 5h2m-1-10h2m-2 4h2m-2 0h2m-2 0h2m-2 0h2m-2 2h2m-2 1h2m-1-8h2m-2 0h2m-2 2h2m-2 0h2m-2 1h2m-2 1h2m-2 2h2m-2 0h2m-2 3h2m-1-8h2m-2 0h2m-2 0h2m-2 0h2m-2 2h2m-2 0h2m-2 0h2m-2 0h2m-2 0h2m-2 1h2m-2 0h2m-2 0h2m-2 1h2m-2 0h2m-2 0h2m-2 1h2m-2 0h2m-2 1h2m-2 3h2m-1-7h2m-2 1h2m-2 1h2m-2 0h2m-2 1h2m-2 0h2m-2 0h2m-2 1h2m-2 1h2m-2 0h2m-1-7h2m-2 3h2m-2 2h2m-2 0h2m-2 1h2m-2 0h2m-2 1h2m-2 0h2m-2 1h2m-2 2h2m-1-10h2m-2 0h2m-2 1h2m-2 2h2m-2 0h2m-2 2h2m-2 1h2m-2 1h2m-2 0h2m-2 1h2m-1-8h2m-2 2h2m-2 0h2m-2 3h2m-2 1h2m-2 1h2m-2 1h2m-2 0h2m-1-10h2m-2 1h2m-2 2h2m-2 1h2m-2 1h2m-2 2h2m-2 1h2m-2 1h2m-2 2h2m-1-8h2m-2 2h2m-2 0h2m-2 1h2m-2 0h2m-2 0h2m-2 1h2m-2 0h2m-2 1h2m-2 0h2m-2 2h2m-2 0h2m-1-9h2m-2 0h2m-2 1h2m-2 1h2m-2 1h2m-2 2h2m-2 0h2m-2 0h2m-2 2h2m-2 0h2m-2 1h2m-2 0h2m-2 1h2m-1-6h2m-2 2h2m-2 0h2m-2 1h2m-1-8h2m-2 4h2m-2 0h2m-2 1h2m-2 1h2m-2 3h2m-2 0h2m-2 1h2m-2 0h2m-2 1h2m-1-9h2m-2 4h2m-2 0h2m-2 2h2m-2 0h2m-2 1h2m-2 0h2m-2 3h2m-1-8h2m-2 0h2m-2 1h2m-2 0h2m-2 2h2m-2 1h2m-2 1h2m-2 0h2m-2 1h2m-1-9h2m-2 1h2m-2 4h2m-2 1h2m-2 2h2m-2 0h2m-2 0h2m-2 1h2m-2 0h2m-2 2h2m-1-16h2m-2 6h2m-2 1h2m-2 0h2m-2 3h2m-2 2h2m-2 1h2m-2 0h2m-2 0h2m-2 1h2m-1-6h2m-2 0h2m-2 3h2m-2 0h2m-2 0h2m-2 0h2m-2 0h2m-2 2h2m-2 2h2m-1-7h2m-2 3h2m-2 0h2m-2 1h2m-2 0h2m-2 1h2m-2 0h2m-2 1h2m-2 0h2m-2 1h2m-1-6h2m-2 0h2m-2 0h2m-2 0h2m-2 0h2m-2 2h2m-2 0h2m-2 0h2m-2 3h2m-2 1h2m-2 1h2m-1-10h2m-2 1h2m-2 0h2m-2 1h2m-2 1h2m-2 1h2m-2 0h2m-2 1h2m-2 0h2m-2 1h2m-2 1h2m-2 2h2m-2 0h2m-2 0h2m-2 3h2m-1-12h2m-2 2h2m-2 2h2m-2 0h2m-2 1h2m-2 1h2m-2 0h2m-2 0h2m-2 1h2m-2 2h2m-1-8h2m-2 1h2m-2 0h2m-2 1h2m-2 1h2m-2 0h2m-2 1h2m-2 0h2m-2 0h2m-2 0h2m-2 2h2m-2 0h2m-1-4h2m-2 1h2m-2 1h2m-2 1h2m-2 1h2m-2 0h2m-2 1h2m-2 7h2m-1-15h2m-2 2h2m-2 1h2m-2 1h2m-2 0h2m-2 1h2m-2 1h2m-2 0h2m-2 0h2m-2 1h2m-2 1h2m-2 0h2m-2 0h2m-2 1h2m-2 1h2m-2 1h2m-2 1h2m-1-9h2m-2 0h2m-2 1h2m-2 1h2m-2 1h2m-2 0h2m-2 3h2m-1-7h2m-2 3h2m-2 0h2m-2 0h2m-2 1h2m-2 0h2m-2 0h2m-2 1h2m-2 1h2m-2 1h2m-2 0h2m-1-8h2m-2 2h2m-2 0h2m-2 1h2m-2 1h2m-2 1h2m-2 0h2m-1-5h2m-2 0h2m-2 2h2m-2 0h2m-2 0h2m-2 1h2m-2 1h2m-2 0h2m-2 1h2m-2 0h2m-2 2h2m-2 1h2m-2 1h2m-1-7h2m-2 0h2m-2 1h2m-2 0h2m-2 1h2m-2 0h2m-2 1h2m-2 3h2m-1-8h2m-2 2h2m-2 1h2m-2 0h2m-2 2h2m-2 1h2m-2 1h2m-2 2h2m-1-8h2m-2 1h2m-2 0h2m-2 1h2m-2 1h2m-2 0h2m-2 0h2m-2 1h2m-2 0h2m-2 1h2m-2 2h2m-2 2h2m-1-12h2m-2 1h2m-2 1h2m-2 2h2m-2 1h2m-2 1h2m-2 0h2m-2 3h2m-1-8h2m-2 1h2m-2 0h2m-2 1h2m-2 1h2m-2 0h2m-2 0h2m-2 2h2m-2 2h2m-2 1h2m-2 0h2m-2 0h2m-2 1h2m-2 2h2m-1-12h2m-2 3h2m-2 0h2m-2 1h2m-2 0h2m-2 0h2m-2 0h2m-2 1h2m-2 0h2m-2 0h2m-2 1h2m-2 1h2m-2 0h2m-2 1h2m-2 0h2m-2 1h2m-2 0h2m-2 1h2m-2 0h2m-1-7h2m-2 0h2m-2 1h2m-2 0h2m-2 1h2m-2 1h2m-2 0h2m-2 0h2m-2 1h2m-2 2h2m-2 0h2m-2 0h2m-2 0h2m-1-7h2m-2 1h2m-2 2h2m-2 1h2m-2 1h2m-2 0h2m-2 0h2m-2 1h2m-2 1h2m-2 2h2m-1-10h2m-2 1h2m-2 2h2m-2 0h2m-2 1h2m-2 0h2m-2 1h2m-2 1h2m-2 0h2m-2 1h2m-2 0h2m-2 1h2m-2 0h2m-1-8h2m-2 2h2m-2 1h2m-2 0h2m-2 0h2m-2 1h2m-2 3h2m-2 1h2m-2 2h2m-1-9h2m-2 2h2m-2 0h2m-2 2h2m-2 0h2m-2 3h2m-2 1h2m-1-6h2m-2 0h2m-2 1h2m-2 0h2m-2 0h2m-2 1h2m-2 0h2m-2 1h2m-2 0h2m-2 0h2m-2 1h2m-2 0h2m-2 1h2m-2 0h2m-2 0h2m-2 1h2m-2 0h2m-2 0h2m-2 1h2m-2 1h2m-1-11h2m-2 1h2m-2 1h2m-2 1h2m-2 1h2m-2 2h2m-2 0h2m-2 1h2m-2 3h2m-1-8h2m-2 5h2m-2 1h2m-2 1h2m-1-7h2m-2 0h2m-2 2h2m-2 1h2m-2 1h2m-2 0h2m-2 1h2m-2 0h2m-2 1h2m-2 0h2m-2 1h2m-2 2h2m-1-10h2m-2 2h2m-2 1h2m-2 2h2m-2 2h2m-2 1h2m-2 0h2m-1-9h2m-2 1h2m-2 0h2m-2 3h2m-2 1h2m-2 0h2m-2 1h2m-2 2h2m-2 1h2m-1-8h2m-2 0h2m-2 2h2m-2 1h2m-2 1h2m-2 1h2m-2 1h2m-2 0h2m-1-6h2m-2 0h2m-2 1h2m-2 1h2m-2 0h2m-2 1h2m-2 0h2m-2 2h2m-2 1h2m-2 0h2m-2 3h2m-2 0h2m-1-8h2m-2 1h2m-2 1h2m-2 3h2m-2 1h2m-2 0h2m-2 1h2m-1-9h2m-2 1h2m-2 1h2m-2 0h2m-2 1h2m-2 0h2m-2 1h2m-2 1h2m-2 2h2m-2 1h2m-2 0h2m-2 1h2m-2 1h2m-2 0h2m-2 1h2m-1-11h2m-2 3h2m-2 1h2m-2 1h2m-2 2h2m-2 0h2m-2 0h2m-2 0h2m-2 0h2m-2 4h2m-1-8h2m-2 0h2m-2 0h2m-2 0h2m-2 0h2m-2 2h2m-2 1h2m-2 0h2m-2 2h2m-2 0h2m-1-6h2m-2 0h2m-2 2h2m-2 1h2m-2 0h2m-2 0h2m-2 1h2m-2 1h2m-2 1h2m-2 0h2m-2 0h2m-2 1h2m-1-6h2m-2 2h2m-2 0h2m-2 1h2m-2 1h2m-2 1h2m-2 0h2m-2 0h2m-2 1h2m-2 0h2m-2 1h2m-1-9h2m-2 0h2m-2 3h2m-2 0h2m-2 2h2m-2 0h2m-2 1h2m-2 0h2m-2 1h2m-1-3h2m-2 0h2m-2 1h2m-2 2h2m-1-8h2m-2 2h2m-2 2h2m-2 2h2m-2 0h2m-2 2h2m-2 0h2m-2 0h2m-2 0h2m-2 0h2m-2 2h2m-1-8h2m-2 2h2m-2 1h2m-2 0h2m-2 0h2m-2 1h2m-2 1h2m-2 1h2m-2 2h2m-1-14h2m-2 2h2m-2 3h2m-2 3h2m-2 0h2m-2 0h2m-2 1h2m-2 2h2m-2 0h2m-2 0h2m-2 1h2m-2 0h2m-2 0h2m-2 4h2m-1-12h2m-2 1h2m-2 2h2m-2 1h2m-2 1h2m-2 2h2m-2 2h2m-2 0h2m-2 2h2m-1-11h2m-2 1h2m-2 2h2m-2 2h2m-2 1h2m-2 0h2m-2 2h2m-2 2h2m-2 0h2m-1-8h2m-2 0h2m-2 0h2m-2 3h2m-2 0h2m-2 0h2m-2 3h2m-2 1h2m-2 0h2m-1-9h2m-2 4h2m-2 0h2m-2 1h2m-2 0h2m-2 2h2m-2 0h2m-2 1h2m-2 1h2m-1-9h2m-2 1h2m-2 0h2m-2 2h2m-2 0h2m-2 1h2m-2 1h2m-2 1h2m-2 1h2m-2 0h2m-2 1h2m-2 1h2m-1-8h2m-2 0h2m-2 0h2m-2 1h2m-2 0h2m-2 1h2m-2 0h2m-2 2h2m-2 5h2m-1-10h2m-2 1h2m-2 1h2m-2 0h2m-2 1h2m-2 1h2m-2 2h2m-2 1h2m-2 1h2m-2 2h2m-1-7h2m-2 0h2m-2 0h2m-2 0h2m-2 1h2m-2 0h2m-2 2h2m-2 1h2m-2 1h2m-2 0h2m-2 1h2m-2 0h2m-2 0h2m-2 2h2m-2 0h2m-2 1h2m-1-11h2m-2 2h2m-2 0h2m-2 2h2m-2 1h2m-2 2h2m-2 1h2m-1-9h2m-2 1h2m-2 1h2m-2 0h2m-2 1h2m-2 1h2m-2 0h2m-2 1h2m-2 3h2m-2 0h2m-2 2h2m-2 1h2m-2 0h2m-1-10h2m-2 1h2m-2 2h2m-2 0h2m-2 0h2m-2 1h2m-2 0h2m-2 1h2m-2 0h2m-2 1h2m-2 2h2m-2 0h2m-1-8h2m-2 0h2m-2 1h2m-2 2h2m-2 1h2m-2 3h2m-2 2h2m-2 1h2m-2 1h2m-1-11h2m-2 1h2m-2 1h2m-2 1h2m-2 1h2m-2 2h2m-2 0h2m-2 1h2m-2 1h2m-2 2h2m-1-10h2m-2 1h2m-2 2h2m-2 1h2m-2 0h2m-2 1h2m-2 0h2m-2 1h2m-2 0h2m-2 0h2m-2 0h2m-2 1h2m-2 0h2m-1-9h2m-2 4h2m-2 0h2m-2 1h2m-2 1h2m-2 1h2m-2 0h2m-2 1h2m-2 0h2m-2 2h2m-2 2h2m-1-9h2m-2 2h2m-2 1h2m-2 1h2m-2 0h2m-2 0h2m-2 2h2m-2 0h2m-2 0h2m-2 0h2m-2 1h2m-2 0h2m-2 3h2m-1-12h2m-2 3h2m-2 1h2m-2 1h2m-2 0h2m-2 3h2m-2 2h2m-1-9h2m-2 0h2m-2 2h2m-2 0h2m-2 0h2m-2 2h2m-2 3h2m-2 0h2m-2 0h2m-2 1h2m-2 0h2m-1-7h2m-2 0h2m-2 3h2m-2 0h2m-2 1h2m-2 1h2m-2 1h2m-2 0h2m-2 2h2m-2 0h2m-1-9h2m-2 1h2m-2 0h2m-2 2h2m-2 1h2m-2 0h2m-2 1h2m-2 0h2m-2 2h2m-2 1h2m-2 0h2m-2 2h2m-1-11h2m-2 2h2m-2 1h2m-2 1h2m-2 0h2m-2 1h2m-2 0h2m-2 1h2m-2 0h2m-2 0h2m-2 1h2m-2 0h2m-2 0h2m-2 0h2m-2 0h2m-2 2h2m-2 0h2m-1-9h2m-2 2h2m-2 0h2m-2 1h2m-2 0h2m-2 2h2m-2 0h2m-2 5h2m-2 0h2m-1-8h2m-2 1h2m-2 1h2m-2 0h2m-2 1h2m-2 3h2m-2 0h2m-2 1h2m-2 0h2m-2 1h2m-1-9h2m-2 1h2m-2 0h2m-2 1h2m-2 1h2m-2 0h2m-2 0h2m-2 0h2m-2 2h2m-2 0h2m-2 0h2m-2 0h2m-2 3h2m-1-8h2m-2 2h2m-2 0h2m-2 0h2m-2 2h2m-2 1h2m-2 2h2m-2 1h2m-2 1h2m-2 0h2m-2 1h2m-1-9h2m-2 0h2m-2 0h2m-2 2h2m-2 1h2m-2 1h2m-2 0h2m-2 3h2m-2 0h2m-2 0h2m-2 1h2m-1-9h2m-2 1h2m-2 1h2m-2 0h2m-2 1h2m-2 0h2m-2 0h2m-2 1h2m-2 0h2m-2 1h2m-2 1h2m-2 1h2m-2 3h2m-1-9h2m-2 2h2m-2 0h2m-2 0h2m-2 1h2m-2 0h2m-2 0h2m-2 0h2m-2 0h2m-2 1h2m-2 2h2m-2 1h2m-2 0h2m-2 1h2m-1-10h2m-2 2h2m-2 2h2m-2 0h2m-2 1h2m-2 0h2m-2 1h2m-2 0h2m-2 0h2m-2 1h2m-2 0h2m-2 4h2m-2 1h2m-1-11h2m-2 2h2m-2 1h2m-2 1h2m-2 0h2m-2 0h2m-2 2h2m-1-7h2m-2 2h2m-2 1h2m-2 2h2m-2 2h2m-2 1h2m-2 0h2m-2 1h2m-2 2h2m-1-9h2m-2 0h2m-2 1h2m-2 3h2m-2 0h2m-2 0h2m-2 0h2m-2 3h2m-2 1h2m-1-7h2m-2 0h2m-2 2h2m-2 0h2m-2 0h2m-2 1h2m-2 1h2m-2 0h2m-2 1h2m-2 1h2m-1-7h2m-2 0h2m-2 2h2m-2 0h2m-2 3h2m-2 4h2m-1-11h2m-2 4h2m-2 1h2m-2 1h2m-2 0h2m-2 0h2m-2 1h2m-2 3h2m-2 0h2m-2 0h2m-2 0h2m-2 0h2m-2 6h2m-1-15h2m-2 0h2m-2 2h2m-2 2h2m-2 0h2m-2 1h2m-2 4h2m-2 1h2m-1-10h2m-2 1h2m-2 1h2m-2 2h2m-2 1h2m-2 2h2m-1-6h2m-2 1h2m-2 2h2m-2 0h2m-2 2h2m-2 1h2m-2 1h2m-2 0h2m-2 1h2m-1-9h2m-2 1h2m-2 1h2m-2 2h2m-2 0h2m-2 1h2m-2 0h2m-2 0h2m-2 0h2m-2 1h2m-2 1h2m-2 1h2m-2 1h2m-2 7h2m-1-16h2m-2 1h2m-2 0h2m-2 0h2m-2 1h2m-2 0h2m-2 1h2m-2 0h2m-2 1h2m-2 1h2m-2 1h2m-2 1h2m-2 1h2m-2 0h2m-2 0h2m-2 1h2m-2 0h2m-1-10h2m-2 3h2m-2 0h2m-2 3h2m-2 0h2m-2 2h2m-2 3h2m-1-10h2m-2 2h2m-2 0h2m-2 0h2m-2 1h2m-2 0h2m-2 1h2m-2 0h2m-2 1h2m-2 0h2m-2 0h2m-2 6h2m-1-11h2m-2 2h2m-2 1h2m-2 0h2m-2 3h2m-2 0h2m-2 0h2m-2 1h2m-2 1h2m-2 0h2m-1-19h2m-2 10h2m-2 1h2m-2 1h2m-2 2h2m-2 1h2m-2 1h2m-2 1h2m-2 1h2m-2 1h2m-1-7h2m-2 1h2m-2 0h2m-2 0h2m-2 1h2m-2 0h2m-2 2h2m-2 1h2m-2 0h2m-2 1h2m-2 1h2m-2 0h2m-1-8h2m-2 1h2m-2 3h2m-2 2h2m-2 0h2m-2 1h2m-2 2h2m-1-9h2m-2 2h2m-2 0h2m-2 1h2m-2 1h2m-2 2h2m-2 0h2m-2 0h2m-2 0h2m-2 1h2m-2 0h2m-2 0h2m-2 1h2m-1-7h2m-2 2h2m-2 0h2m-2 1h2m-2 0h2m-2 0h2m-2 1h2m-2 0h2m-2 0h2m-2 1h2m-2 1h2m-2 0h2m-2 1h2m-2 0h2m-2 0h2m-2 0h2m-1-5h2m-2 2h2m-2 0h2m-2 1h2m-2 1h2m-2 2h2m-1-9h2m-2 0h2m-2 2h2m-2 1h2m-2 1h2m-2 1h2m-2 0h2m-2 0h2m-2 0h2m-1-4h2m-2 2h2m-2 0h2m-2 1h2m-2 2h2m-2 6h2m-1-12h2m-2 0h2m-2 1h2m-2 0h2m-2 2h2m-2 1h2m-2 0h2m-2 0h2m-2 1h2m-2 2h2m-2 3h2m-2 0h2m-1-8h2m-2 0h2m-2 0h2m-2 0h2m-2 1h2m-2 0h2m-2 1h2m-2 0h2m-2 0h2m-2 3h2m-2 0h2m-2 1h2m-1-9h2m-2 5h2m-2 1h2m-2 0h2m-2 1h2m-2 2h2m-2 1h2m-1-8h2m-2 1h2m-2 2h2m-2 1h2m-2 0h2m-2 1h2m-2 1h2m-2 0h2m-2 3h2m-1-10h2m-2 1h2m-2 1h2m-2 1h2m-2 0h2m-2 0h2m-2 1h2m-2 1h2m-2 0h2m-2 0h2m-2 1h2m-2 1h2m-2 1h2m-2 1h2m-2 0h2m-1-12h2m-2 5h2m-2 0h2m-2 2h2m-2 0h2m-2 0h2m-2 3h2m-2 1h2m-2 0h2m-1-7h2m-2 1h2m-2 0h2m-2 1h2m-2 0h2m-2 1h2m-2 2h2m-2 0h2m-2 0h2m-2 2h2m-2 0h2m-2 1h2m-1-10h2m-2 3h2m-2 0h2m-2 0h2m-2 1h2m-2 1h2m-2 1h2m-2 1h2m-2 0h2m-2 2h2m-2 1h2m-1-8h2m-2 0h2m-2 1h2m-2 0h2m-2 1h2m-2 1h2m-2 0h2m-2 1h2m-2 0h2m-2 1h2m-2 0h2m-2 0h2m-2 1h2m-2 0h2m-2 1h2m-1-8h2m-2 2h2m-2 0h2m-2 0h2m-2 0h2m-2 1h2m-2 2h2m-2 2h2m-2 0h2m-1-7h2m-2 4h2m-2 3h2m-2 0h2m-2 2h2m-2 0h2m-2 0h2m-1-6h2m-2 2h2m-2 1h2m-2 1h2m-2 0h2m-2 1h2m-2 3h2m-1-10h2m-2 1h2m-2 0h2m-2 2h2m-2 0h2m-1 0h2m-2 0h2m-2 2h2m-2 0h2m-2 5h2m-1-6h2m-2 1h2m-2 0h2m-2 0h2m-2 1h2m-2 0h2m-2 1h2m-2 0h2m-2 2h2m-1-10h2m-2 0h2m-2 3h2m-2 2h2m-2 0h2m-2 1h2m-2 1h2m-2 1h2m-2 0h2m-2 1h2m-2 1h2m-1-9h2m-2 2h2m-2 0h2m-2 1h2m-2 1h2m-2 0h2m-2 0h2m-2 0h2m-2 1h2m-2 1h2m-2 0h2m-2 1h2m-2 1h2m-2 0h2m-2 0h2m-2 1h2m-1-5h2m-2 0h2m-2 0h2m-2 1h2m-2 0h2m-2 1h2m-2 2h2m-1-8h2m-2 1h2m-2 2h2m-2 0h2m-2 1h2m-2 1h2m-2 1h2m-2 0h2m-2 1h2m-2 0h2m-2 1h2m-1-8h2m-2 3h2m-2 1h2m-2 1h2m-2 0h2m-2 0h2m-2 1h2m-2 1h2m-2 1h2m-1-13h2m-2 4h2m-2 3h2m-2 1h2m-2 0h2m-2 1h2m-2 1h2m-2 3h2m-2 0h2m-1-8h2m-2 0h2m-2 0h2m-2 1h2m-2 2h2m-2 1h2m-2 1h2m-2 1h2m-2 1h2m-1-6h2m-2 3h2m-2 1h2m-2 1h2m-2 2h2m-2 0h2m-2 1h2m-1-8h2m-2 0h2m-2 0h2m-2 0h2m-2 1h2m-2 0h2m-2 3h2m-2 0h2m-2 2h2m-2 1h2m-2 0h2m-1-7h2m-2 1h2m-2 1h2m-2 1h2m-2 0h2m-2 0h2m-2 0h2m-2 3h2m-2 1h2m-1-8h2m-2 1h2m-2 1h2m-2 3h2m-2 1h2m-2 0h2m-2 0h2m-2 0h2m-2 0h2m-2 1h2m-2 2h2m-2 1h2m-1-12h2m-2 4h2m-2 0h2m-2 1h2m-2 1h2m-2 1h2m-2 0h2m-2 1h2m-2 1h2m-2 0h2m-2 2h2m-2 1h2m-1-8h2m-2 0h2m-2 1h2m-2 0h2m-2 3h2m-2 0h2m-2 2h2m-2 1h2m-1-9h2m-2 0h2m-2 3h2m-2 2h2m-2 0h2m-2 2h2m-2 0h2m-2 1h2m-2 0h2m-2 0h2m-2 3h2m-1-12h2m-2 4h2m-2 2h2m-2 3h2m-1-9h2m-2 2h2m-2 3h2m-2 0h2m-2 1h2m-2 0h2m-2 1h2m-2 2h2m-1-8h2m-2 1h2m-2 1h2m-2 0h2m-2 3h2m-2 0h2m-2 1h2m-2 0h2m-2 1h2m-1-8h2m-2 3h2m-2 1h2m-2 0h2m-2 1h2m-2 1h2m-2 1h2m-2 1h2m-2 0h2m-2 1h2m-1-8h2m-2 2h2m-2 1h2m-2 1h2m-2 0h2m-2 0h2m-2 2h2m-2 0h2m-2 0h2m-2 1h2m-2 0h2m-1-7h2m-2 1h2m-2 1h2m-2 0h2m-2 1h2m-2 1h2m-2 1h2m-2 1h2m-2 0h2m-2 1h2m-2 0h2m-2 0h2m-2 2h2m-1-10h2m-2 3h2m-2 1h2m-2 0h2m-2 0h2m-2 1h2m-2 0h2m-2 1h2m-2 1h2m-2 0h2m-2 1h2m-2 2h2m-2 1h2m-1-10h2m-2 2h2m-2 0h2m-2 1h2m-2 0h2m-2 2h2m-2 0h2" stroke="#6c6c6c" stroke-width="2" stroke-opacity=".78" fill="none"/><path d="M376.5 85.5H507.5" stroke="#c878c8" stroke-width="1.15" fill="none"/><text x="504.5" y="84.9" font-size="2.3" text-anchor="middle" fill="#3a3a3a" textLength="4.8" lengthAdjust="spacingAndGlyphs" font-weight="bold">4000</text><path d="M376.5 8.4H507.5V124.2H376.5Z" stroke="#a2a2a2" stroke-width="1" fill="none"/><rect x="547.9" y="8.4" width="132.6" height="115.6" fill="#f9f8f6"/><path d="M565.5 8.4V124M582.5 8.4V124M599.5 8.4V124M617.5 8.4V124M634.5 8.4V124M651.5 8.4V124M668.5 8.4V124M547.9 107.5H680.5M547.9 90.5H680.5M547.9 74.5H680.5M547.9 57.5H680.5M547.9 41.5H680.5M547.9 24.5H680.5" stroke="#eeedeb" stroke-width="1" fill="none"/><text x="541.95" y="124.85" font-size="3.1" text-anchor="middle" fill="#1a1a1a" font-weight="bold">0</text><text x="541.95" y="108.34" font-size="3.1" text-anchor="middle" fill="#1a1a1a" font-weight="bold">500</text><text x="541.95" y="91.82" font-size="3.1" text-anchor="middle" fill="#1a1a1a" font-weight="bold">1000</text><text x="541.95" y="75.31" font-size="3.1" text-anchor="middle" fill="#1a1a1a" font-weight="bold">1500</text><text x="541.95" y="58.79" font-size="3.1" text-anchor="middle" fill="#1a1a1a" font-weight="bold">2000</text><text x="541.95" y="42.28" font-size="3.1" text-anchor="middle" fill="#1a1a1a" font-weight="bold">2500</text><text x="541.95" y="25.76" font-size="3.1" text-anchor="middle" fill="#1a1a1a" font-weight="bold">3000</text><text x="541.95" y="9.25" font-size="3.1" text-anchor="middle" fill="#1a1a1a" font-weight="bold">3500</text><text x="547.9" y="129.65" font-size="3.1" text-anchor="middle" fill="#1a1a1a" font-weight="bold">0</text><text x="565.18" y="129.65" font-size="3.1" text-anchor="middle" fill="#1a1a1a" font-weight="bold">2000</text><text x="582.45" y="129.65" font-size="3.1" text-anchor="middle" fill="#1a1a1a" font-weight="bold">4000</text><text x="599.73" y="129.65" font-size="3.1" text-anchor="middle" fill="#1a1a1a" font-weight="bold">6000</text><text x="617.01" y="129.65" font-size="3.1" text-anchor="middle" fill="#1a1a1a" font-weight="bold">8000</text><text x="634.28" y="129.65" font-size="3.1" text-anchor="middle" fill="#1a1a1a" font-weight="bold">10000</text><text x="651.56" y="129.65" font-size="3.1" text-anchor="middle" fill="#1a1a1a" font-weight="bold">12000</text><text x="668.84" y="129.65" font-size="3.1" text-anchor="middle" fill="#1a1a1a" font-weight="bold">14000</text><path d="M546.3 124h1.6M546.3 107.49h1.6M546.3 90.97h1.6M546.3 74.46h1.6M546.3 57.94h1.6M546.3 41.43h1.6M546.3 24.91h1.6M546.3 8.4h1.6M547.9 124v1.4M565.18 124v1.4M582.45 124v1.4M599.73 124v1.4M617.01 124v1.4M634.28 124v1.4M651.56 124v1.4M668.84 124v1.4" stroke="#9a9a9a" stroke-width=".7" fill="none"/><text x="608.5" y="4.8" font-size="3.4" text-anchor="middle" fill="#111" textLength="38.5" lengthAdjust="spacingAndGlyphs" font-weight="bold">Ch2 - A03 Pos:0 Neg:10408</text><text x="614.2" y="134" font-size="3.1" text-anchor="middle" fill="#111" textLength="18.7" lengthAdjust="spacingAndGlyphs" font-weight="bold">Event Number</text><text x="0" y="0" font-size="3.1" font-weight="bold" text-anchor="middle" fill="#111" transform="translate(535.7 66.2) rotate(-90)" textLength="19.3" lengthAdjust="spacingAndGlyphs">Ch2 Amplitude</text><path transform="scale(.5)" filter="url(#bl)" d="M1096 170h2m-2 5h2m-1-8h2m-2 1h2m-2 4h2m-2 2h2m-2 0h2m-2 2h2m-2 0h2m-2 1h2m-2 1h2m-2 3h2m-2 0h2m-2 0h2m-2 3h2m-1-19h2m-2 4h2m-2 0h2m-2 2h2m-2 0h2m-2 0h2m-2 6h2m-2 0h2m-2 0h2m-2 1h2m-2 0h2m-2 1h2m-2 0h2m-2 0h2m-2 2h2m-2 0h2m-2 1h2m-2 1h2m-2 2h2m-1-20h2m-2 1h2m-2 3h2m-2 1h2m-2 3h2m-2 0h2m-2 1h2m-2 0h2m-2 1h2m-2 1h2m-2 3h2m-2 0h2m-2 3h2m-2 0h2m-2 2h2m-1-15h2m-2 1h2m-2 1h2m-2 0h2m-2 0h2m-2 0h2m-2 1h2m-2 2h2m-2 1h2m-2 0h2m-2 1h2m-2 1h2m-2 0h2m-2 0h2m-2 1h2m-2 2h2m-2 1h2m-2 1h2m-1-15h2m-2 2h2m-2 0h2m-2 1h2m-2 0h2m-2 3h2m-2 1h2m-2 1h2m-2 1h2m-2 2h2m-2 0h2m-2 1h2m-2 0h2m-1-12h2m-2 1h2m-2 1h2m-2 1h2m-2 3h2m-2 1h2m-2 1h2m-2 0h2m-2 0h2m-2 1h2m-2 0h2m-2 2h2m-2 1h2m-2 1h2m-2 1h2m-2 3h2m-1-19h2m-2 4h2m-2 4h2m-2 4h2m-2 0h2m-2 0h2m-2 3h2m-2 0h2m-2 0h2m-2 1h2m-2 0h2m-2 0h2m-2 1h2m-1-16h2m-2 3h2m-2 1h2m-2 1h2m-2 1h2m-2 0h2m-2 3h2m-2 0h2m-2 1h2m-2 3h2m-2 1h2m-2 0h2m-2 2h2m-2 2h2m-2 0h2m-2 2h2m-1-18h2m-2 2h2m-2 0h2m-2 3h2m-2 3h2m-2 0h2m-2 0h2m-2 1h2m-2 4h2m-2 0h2m-2 1h2m-2 1h2m-2 1h2m-2 0h2m-1-17h2m-2 1h2m-2 2h2m-2 1h2m-2 1h2m-2 0h2m-2 1h2m-2 1h2m-2 1h2m-2 2h2m-2 1h2m-2 1h2m-2 0h2m-2 1h2m-2 0h2m-2 0h2m-2 0h2m-2 1h2m-2 2h2m-2 1h2m-1-17h2m-2 2h2m-2 2h2m-2 0h2m-2 2h2m-2 2h2m-2 1h2m-2 1h2m-2 1h2m-2 0h2m-2 2h2m-2 1h2m-2 0h2m-1-14h2m-2 0h2m-2 3h2m-2 3h2m-2 1h2m-2 0h2m-2 1h2m-2 1h2m-2 1h2m-2 0h2m-2 4h2m-1-13h2m-2 1h2m-2 1h2m-2 0h2m-2 0h2m-2 0h2m-2 1h2m-2 0h2m-2 0h2m-2 0h2m-2 1h2m-2 1h2m-2 2h2m-2 0h2m-2 1h2m-2 0h2m-2 1h2m-2 0h2m-2 0h2m-2 0h2m-2 3h2m-2 0h2m-2 0h2m-1-24h2m-2 13h2m-2 2h2m-2 0h2m-2 0h2m-2 1h2m-2 1h2m-2 2h2m-2 4h2m-2 0h2m-2 1h2m-2 1h2m-2 0h2m-2 1h2m-2 2h2m-2 4h2m-1-31h2m-2 11h2m-2 2h2m-2 0h2m-2 1h2m-2 2h2m-2 0h2m-2 1h2m-2 1h2m-2 0h2m-2 0h2m-2 0h2m-2 5h2m-2 2h2m-2 0h2m-2 2h2m-1-16h2m-2 0h2m-2 2h2m-2 0h2m-2 2h2m-2 0h2m-2 0h2m-2 1h2m-2 1h2m-2 1h2m-2 1h2m-2 1h2m-2 4h2m-2 2h2m-1-13h2m-2 2h2m-2 2h2m-2 1h2m-2 1h2m-2 2h2m-2 0h2m-2 1h2m-2 5h2m-2 2h2m-1-19h2m-2 0h2m-2 1h2m-2 3h2m-2 1h2m-2 1h2m-2 4h2m-2 0h2m-2 1h2m-2 0h2m-2 4h2m-2 2h2m-1-16h2m-2 2h2m-2 1h2m-2 2h2m-2 1h2m-2 1h2m-2 1h2m-2 3h2m-2 2h2m-2 1h2m-1-15h2m-2 1h2m-2 1h2m-2 5h2m-2 1h2m-2 1h2m-2 1h2m-2 0h2m-2 1h2m-2 1h2m-2 0h2m-2 1h2m-2 1h2m-2 0h2m-2 1h2m-2 1h2m-2 0h2m-2 1h2m-2 2h2m-1-22h2m-2 4h2m-2 1h2m-2 2h2m-2 1h2m-2 1h2m-2 2h2m-2 0h2m-2 0h2m-2 0h2m-2 3h2m-2 1h2m-2 0h2m-2 1h2m-2 2h2m-2 1h2m-2 0h2m-1-15h2m-2 4h2m-2 0h2m-2 1h2m-2 0h2m-2 0h2m-2 3h2m-2 1h2m-2 1h2m-2 0h2m-2 1h2m-2 0h2m-2 1h2m-2 1h2m-1-14h2m-2 2h2m-2 0h2m-2 1h2m-2 1h2m-2 1h2m-2 1h2m-2 1h2m-2 0h2m-2 1h2m-2 0h2m-2 3h2m-2 4h2m-2 0h2m-2 2h2m-1-15h2m-2 1h2m-2 0h2m-2 1h2m-2 1h2m-2 0h2m-2 0h2m-2 0h2m-2 1h2m-2 3h2m-2 1h2m-2 0h2m-2 1h2m-2 2h2m-2 0h2m-2 2h2m-1-13h2m-2 1h2m-2 1h2m-2 3h2m-2 1h2m-2 0h2m-2 0h2m-2 1h2m-2 2h2m-2 1h2m-2 0h2m-2 0h2m-2 1h2m-2 4h2m-2 1h2m-1-16h2m-2 2h2m-2 2h2m-2 0h2m-2 1h2m-2 0h2m-2 1h2m-2 2h2m-2 0h2m-2 1h2m-2 1h2m-2 1h2m-2 0h2m-2 1h2m-2 3h2m-1-20h2m-2 2h2m-2 5h2m-2 2h2m-2 0h2m-2 1h2m-2 0h2m-2 3h2m-2 0h2m-2 0h2m-2 2h2m-2 0h2m-2 5h2m-1-20h2m-2 3h2m-2 2h2m-2 0h2m-2 1h2m-2 1h2m-2 1h2m-2 1h2m-2 0h2m-2 1h2m-2 0h2m-2 1h2m-2 1h2m-2 0h2m-2 3h2m-2 0h2m-2 0h2m-2 1h2m-2 0h2m-2 1h2m-2 1h2m-2 0h2m-1-15h2m-2 2h2m-2 2h2m-2 0h2m-2 0h2m-2 1h2m-2 2h2m-2 0h2m-2 3h2m-2 0h2m-2 1h2m-2 0h2m-2 0h2m-2 2h2m-2 0h2m-2 1h2m-2 0h2m-2 1h2m-2 1h2m-2 2h2m-1-16h2m-2 2h2m-2 1h2m-2 1h2m-2 0h2m-2 2h2m-2 0h2m-2 1h2m-2 1h2m-2 0h2m-2 2h2m-2 1h2m-2 2h2m-2 0h2m-2 1h2m-2 0h2m-2 1h2m-2 1h2m-2 0h2m-1-15h2m-2 1h2m-2 2h2m-2 0h2m-2 1h2m-2 4h2m-2 0h2m-2 1h2m-2 1h2m-2 4h2m-2 0h2m-1-15h2m-2 0h2m-2 0h2m-2 1h2m-2 2h2m-2 0h2m-2 2h2m-2 3h2m-2 3h2m-2 1h2m-2 3h2m-2 1h2m-1-17h2m-2 1h2m-2 0h2m-2 1h2m-2 1h2m-2 1h2m-2 0h2m-2 1h2m-2 0h2m-2 3h2m-2 1h2m-2 0h2m-2 2h2m-2 1h2m-2 0h2m-2 0h2m-2 1h2m-2 1h2m-1-14h2m-2 1h2m-2 1h2m-2 2h2m-2 0h2m-2 0h2m-2 3h2m-2 0h2m-2 1h2m-2 1h2m-2 0h2m-2 0h2m-2 0h2m-2 0h2m-2 1h2m-2 0h2m-2 1h2m-2 1h2m-2 4h2m-1-16h2m-2 0h2m-2 0h2m-2 1h2m-2 2h2m-2 2h2m-2 0h2m-2 1h2m-2 4h2m-2 1h2m-2 0h2m-2 2h2m-2 3h2m-2 0h2m-2 0h2m-2 1h2m-1-15h2m-2 1h2m-2 2h2m-2 3h2m-2 0h2m-2 0h2m-2 2h2m-2 1h2m-2 1h2m-2 0h2m-2 0h2m-2 0h2m-2 1h2m-2 3h2m-1-16h2m-2 0h2m-2 1h2m-2 2h2m-2 3h2m-2 1h2m-2 0h2m-2 1h2m-2 1h2m-2 0h2m-2 0h2m-2 0h2m-2 1h2m-2 2h2m-2 0h2m-2 0h2m-2 1h2m-2 1h2m-2 0h2m-1-16h2m-2 2h2m-2 0h2m-2 2h2m-2 3h2m-2 1h2m-2 1h2m-2 4h2m-2 0h2m-2 1h2m-2 5h2m-2 2h2m-1-19h2m-2 3h2m-2 1h2m-2 1h2m-2 0h2m-2 1h2m-2 1h2m-2 1h2m-2 1h2m-2 0h2m-2 0h2m-2 1h2m-2 1h2m-2 2h2m-2 1h2m-1-20h2m-2 3h2m-2 3h2m-2 1h2m-2 2h2m-2 2h2m-2 1h2m-2 0h2m-2 0h2m-2 1h2m-2 0h2m-2 1h2m-2 0h2m-2 3h2m-2 0h2m-2 0h2m-2 3h2m-2 1h2m-2 1h2m-1-17h2m-2 4h2m-2 1h2m-2 0h2m-2 0h2m-2 1h2m-2 1h2m-2 0h2m-2 1h2m-2 1h2m-2 0h2m-2 0h2m-2 1h2m-2 3h2m-2 1h2m-2 0h2m-2 0h2m-2 0h2m-2 3h2m-2 0h2m-1-13h2m-2 0h2m-2 1h2m-2 1h2m-2 0h2m-2 0h2m-2 1h2m-2 1h2m-2 0h2m-2 1h2m-2 2h2m-2 0h2m-2 2h2m-2 1h2m-1-13h2m-2 1h2m-2 0h2m-2 1h2m-2 1h2m-2 0h2m-2 1h2m-2 0h2m-2 2h2m-2 0h2m-2 2h2m-2 1h2m-2 0h2m-2 2h2m-2 1h2m-2 1h2m-2 2h2m-2 13h2m-1-28h2m-2 2h2m-2 1h2m-2 1h2m-2 2h2m-2 1h2m-2 0h2m-2 0h2m-2 2h2m-2 0h2m-2 1h2m-2 1h2m-2 2h2m-1-13h2m-2 1h2m-2 0h2m-2 1h2m-2 4h2m-2 4h2m-2 0h2m-2 0h2m-2 1h2m-2 1h2m-2 0h2m-2 4h2m-2 1h2m-2 3h2m-1-21h2m-2 4h2m-2 0h2m-2 2h2m-2 4h2m-2 0h2m-2 1h2m-2 0h2m-2 1h2m-2 0h2m-2 1h2m-2 1h2m-2 0h2m-2 5h2m-1-23h2m-2 1h2m-2 5h2m-2 1h2m-2 2h2m-2 0h2m-2 0h2m-2 1h2m-2 0h2m-2 1h2m-2 1h2m-2 1h2m-2 1h2m-2 1h2m-2 1h2m-2 2h2m-2 0h2m-2 1h2m-2 1h2m-1-15h2m-2 1h2m-2 1h2m-2 1h2m-2 1h2m-2 1h2m-2 1h2m-2 0h2m-2 2h2m-2 6h2m-2 1h2m-2 0h2m-2 0h2m-1-15h2m-2 0h2m-2 1h2m-2 2h2m-2 0h2m-2 1h2m-2 1h2m-2 1h2m-2 0h2m-2 0h2m-2 2h2m-2 1h2m-2 1h2m-2 0h2m-2 0h2m-2 1h2m-2 1h2m-2 0h2m-2 0h2m-2 1h2m-2 0h2m-2 1h2m-1-20h2m-2 5h2m-2 1h2m-2 4h2m-2 1h2m-2 1h2m-2 1h2m-2 0h2m-2 1h2m-2 0h2m-2 0h2m-2 2h2m-2 0h2m-2 1h2m-2 1h2m-2 1h2m-2 0h2m-1-10h2m-2 1h2m-2 4h2m-2 1h2m-2 3h2m-2 0h2m-2 3h2m-2 15h2m-1-32h2m-2 5h2m-2 0h2m-2 2h2m-2 0h2m-2 1h2m-2 1h2m-2 1h2m-2 0h2m-2 4h2m-2 0h2m-2 1h2m-1-13h2m-2 2h2m-2 0h2m-2 0h2m-2 1h2m-2 1h2m-2 1h2m-2 2h2m-2 0h2m-2 1h2m-2 0h2m-2 1h2m-2 0h2m-2 1h2m-2 0h2m-2 1h2m-2 1h2m-2 1h2m-2 0h2m-2 1h2m-2 2h2m-1-16h2m-2 1h2m-2 1h2m-2 1h2m-2 1h2m-2 1h2m-2 0h2m-2 0h2m-2 1h2m-2 6h2m-2 1h2m-2 0h2m-2 0h2m-2 1h2m-2 0h2m-2 0h2m-1-14h2m-2 4h2m-2 2h2m-2 2h2m-2 0h2m-2 1h2m-2 1h2m-2 5h2m-2 3h2m-1-15h2m-2 0h2m-2 1h2m-2 1h2m-2 2h2m-2 2h2m-2 1h2m-2 1h2m-2 2h2m-2 2h2m-1-16h2m-2 2h2m-2 0h2m-2 1h2m-2 3h2m-2 0h2m-2 3h2m-2 1h2m-2 1h2m-2 1h2m-1-10h2m-2 2h2m-2 1h2m-2 0h2m-2 0h2m-2 1h2m-2 1h2m-2 1h2m-2 1h2m-2 0h2m-2 2h2m-2 1h2m-2 2h2m-2 0h2m-2 2h2m-1-16h2m-2 5h2m-2 1h2m-2 1h2m-2 1h2m-2 1h2m-2 3h2m-2 2h2m-2 1h2m-2 2h2m-2 1h2m-1-14h2m-2 1h2m-2 0h2m-2 1h2m-2 1h2m-2 1h2m-2 0h2m-2 0h2m-2 2h2m-2 0h2m-2 1h2m-2 1h2m-2 0h2m-2 1h2m-2 1h2m-2 1h2m-2 1h2m-1-15h2m-2 0h2m-2 0h2m-2 1h2m-2 1h2m-2 4h2m-2 1h2m-2 0h2m-2 0h2m-2 1h2m-2 1h2m-2 1h2m-2 0h2m-2 0h2m-2 4h2m-2 1h2m-2 2h2m-2 1h2m-1-16h2m-2 0h2m-2 1h2m-2 2h2m-2 1h2m-2 0h2m-2 1h2m-2 0h2m-2 1h2m-2 1h2m-2 0h2m-2 1h2m-2 1h2m-2 0h2m-2 2h2m-2 0h2m-2 1h2m-2 1h2m-2 0h2m-2 1h2m-1-13h2m-2 0h2m-2 2h2m-2 2h2m-2 1h2m-2 0h2m-2 2h2m-2 2h2m-2 1h2m-2 1h2m-2 1h2m-2 2h2m-1-19h2m-2 3h2m-2 0h2m-2 2h2m-2 1h2m-2 1h2m-2 1h2m-2 0h2m-2 1h2m-2 0h2m-2 2h2m-2 2h2m-2 0h2m-2 1h2m-2 0h2m-2 1h2m-2 0h2m-2 1h2m-2 1h2m-2 0h2m-2 0h2m-2 0h2m-2 1h2m-2 0h2m-1-17h2m-2 4h2m-2 1h2m-2 1h2m-2 2h2m-2 2h2m-2 1h2m-2 2h2m-2 1h2m-2 2h2m-1-15h2m-2 3h2m-2 0h2m-2 1h2m-2 1h2m-2 1h2m-2 1h2m-2 1h2m-2 5h2m-2 2h2m-2 0h2m-2 3h2m-1-17h2m-2 0h2m-2 1h2m-2 0h2m-2 0h2m-2 1h2m-2 1h2m-2 1h2m-2 1h2m-2 2h2m-2 0h2m-2 2h2m-2 0h2m-2 1h2m-2 1h2m-2 2h2m-2 2h2m-2 1h2m-1-19h2m-2 3h2m-2 4h2m-2 0h2m-2 1h2m-2 1h2m-2 0h2m-2 0h2m-2 1h2m-2 1h2m-2 1h2m-2 1h2m-2 0h2m-2 2h2m-2 0h2m-2 1h2m-2 2h2m-2 3h2m-1-20h2m-2 1h2m-2 1h2m-2 2h2m-2 0h2m-2 3h2m-2 0h2m-2 3h2m-2 0h2m-2 1h2m-2 0h2m-2 1h2m-2 0h2m-2 0h2m-2 0h2m-2 2h2m-2 1h2m-2 1h2m-1-16h2m-2 1h2m-2 1h2m-2 1h2m-2 0h2m-2 1h2m-2 1h2m-2 0h2m-2 1h2m-2 0h2m-2 2h2m-2 0h2m-2 2h2m-2 2h2m-2 1h2m-2 1h2m-2 0h2m-2 1h2m-2 0h2m-2 1h2m-2 1h2m-2 0h2m-2 2h2m-1-17h2m-2 0h2m-2 1h2m-2 1h2m-2 1h2m-2 1h2m-2 0h2m-2 1h2m-2 2h2m-2 1h2m-2 1h2m-2 4h2m-1-12h2m-2 1h2m-2 0h2m-2 0h2m-2 1h2m-2 0h2m-2 0h2m-2 2h2m-2 0h2m-2 4h2m-2 1h2m-2 2h2m-2 0h2m-2 1h2m-2 2h2m-2 3h2m-1-19h2m-2 1h2m-2 1h2m-2 0h2m-2 1h2m-2 2h2m-2 0h2m-2 2h2m-2 0h2m-2 1h2m-2 0h2m-2 0h2m-2 2h2m-2 2h2m-2 0h2m-2 0h2m-2 0h2m-2 1h2m-2 3h2m-1-13h2m-2 0h2m-2 2h2m-2 2h2m-2 0h2m-2 0h2m-2 0h2m-2 2h2m-2 1h2m-2 0h2m-2 4h2m-2 2h2m-2 2h2m-2 0h2m-1-17h2m-2 0h2m-2 2h2m-2 1h2m-2 0h2m-2 2h2m-2 0h2m-2 1h2m-2 2h2m-2 5h2m-2 0h2m-2 5h2m-1-20h2m-2 2h2m-2 1h2m-2 1h2m-2 0h2m-2 1h2m-2 0h2m-2 0h2m-2 1h2m-2 3h2m-2 2h2m-2 0h2m-2 1h2m-2 0h2m-2 1h2m-2 1h2m-2 0h2m-1-11h2m-2 0h2m-2 1h2m-2 0h2m-2 5h2m-2 1h2m-2 2h2m-2 0h2m-2 0h2m-2 0h2m-2 1h2m-2 1h2m-2 0h2m-2 1h2m-2 2h2m-2 1h2m-2 0h2m-1-28h2m-2 6h2m-2 7h2m-2 2h2m-2 2h2m-2 1h2m-2 0h2m-2 1h2m-2 2h2m-2 3h2m-2 3h2m-1-16h2m-2 0h2m-2 1h2m-2 1h2m-2 3h2m-2 0h2m-2 5h2m-2 0h2m-2 1h2m-2 0h2m-2 1h2m-2 1h2m-2 1h2m-2 0h2m-1-13h2m-2 2h2m-2 1h2m-2 0h2m-2 3h2m-2 2h2m-2 5h2m-2 3h2m-2 0h2m-1-30h2m-2 10h2m-2 6h2m-2 1h2m-2 0h2m-2 1h2m-2 0h2m-2 1h2m-2 0h2m-2 0h2m-2 3h2m-2 2h2m-2 0h2m-2 1h2m-2 0h2m-2 3h2m-2 1h2m-1-14h2m-2 3h2m-2 0h2m-2 2h2m-2 5h2m-1-13h2m-2 3h2m-2 0h2m-2 5h2m-2 0h2m-2 0h2m-2 2h2m-2 1h2m-2 1h2m-2 1h2m-2 2h2m-2 0h2m-1-15h2m-2 2h2m-2 1h2m-2 1h2m-2 4h2m-2 0h2m-2 2h2m-2 1h2m-2 1h2m-2 1h2m-2 2h2m-2 1h2m-2 0h2m-1-30h2m-2 13h2m-2 2h2m-2 1h2m-2 1h2m-2 1h2m-2 0h2m-2 0h2m-2 1h2m-2 1h2m-2 2h2m-2 0h2m-2 1h2m-2 2h2m-2 0h2m-2 0h2m-2 0h2m-2 0h2m-2 1h2m-2 0h2m-2 0h2m-2 5h2m-1-16h2m-2 1h2m-2 2h2m-2 0h2m-2 2h2m-2 1h2m-2 1h2m-2 1h2m-2 1h2m-2 2h2m-2 2h2m-2 1h2m-2 0h2m-2 1h2m-1-15h2m-2 1h2m-2 2h2m-2 0h2m-2 4h2m-2 5h2m-2 0h2m-2 3h2m-1-13h2m-2 0h2m-2 1h2m-2 1h2m-2 0h2m-2 0h2m-2 2h2m-2 1h2m-2 0h2m-2 2h2m-2 2h2m-2 2h2m-2 3h2m-2 1h2m-1-20h2m-2 2h2m-2 1h2m-2 1h2m-2 2h2m-2 1h2m-2 0h2m-2 0h2m-2 1h2m-2 0h2m-2 1h2m-2 1h2m-2 2h2m-2 0h2m-2 1h2m-2 0h2m-2 2h2m-2 1h2m-2 1h2m-1-15h2m-2 1h2m-2 1h2m-2 1h2m-2 0h2m-2 1h2m-2 1h2m-2 1h2m-2 0h2m-2 1h2m-2 2h2m-2 0h2m-2 3h2m-2 0h2m-2 0h2m-2 1h2m-2 0h2m-2 0h2m-2 2h2m-2 1h2m-1-13h2m-2 4h2m-2 0h2m-2 1h2m-2 1h2m-2 0h2m-2 0h2m-2 2h2m-2 2h2m-2 2h2m-2 1h2m-2 3h2m-1-19h2m-2 2h2m-2 2h2m-2 1h2m-2 0h2m-2 1h2m-2 0h2m-2 1h2m-2 0h2m-2 4h2m-2 2h2m-1-17h2m-2 5h2m-2 1h2m-2 0h2m-2 2h2m-2 1h2m-2 0h2m-2 4h2m-2 2h2m-2 0h2m-2 2h2m-2 0h2m-2 0h2m-2 0h2m-2 1h2m-2 1h2m-2 0h2m-2 1h2m-1-17h2m-2 2h2m-2 1h2m-2 0h2m-2 2h2m-2 0h2m-2 1h2m-2 0h2m-2 1h2m-2 0h2m-2 3h2m-2 2h2m-2 4h2m-2 2h2m-2 1h2m-1-19h2m-2 2h2m-2 2h2m-2 0h2m-2 1h2m-2 1h2m-2 1h2m-2 0h2m-2 0h2m-2 1h2m-2 1h2m-2 1h2m-2 5h2m-2 1h2m-2 0h2m-1-17h2m-2 2h2m-2 5h2m-2 1h2m-2 1h2m-2 0h2m-2 1h2m-2 0h2m-2 2h2m-2 0h2m-2 1h2m-2 1h2m-2 0h2m-2 2h2m-2 7h2m-1-18h2m-2 1h2m-2 0h2m-2 0h2m-2 1h2m-2 0h2m-2 3h2m-2 1h2m-2 1h2m-2 1h2m-2 1h2m-2 2h2m-2 2h2m-2 1h2m-2 0h2m-1-16h2m-2 2h2m-2 0h2m-2 1h2m-2 3h2m-2 0h2m-2 1h2m-2 4h2m-2 3h2m-2 1h2m-2 2h2m-1-17h2m-2 0h2m-2 1h2m-2 2h2m-2 4h2m-2 0h2m-2 1h2m-2 0h2m-2 0h2m-2 2h2m-2 2h2m-2 1h2m-2 1h2m-2 3h2m-1-18h2m-2 1h2m-2 1h2m-2 2h2m-2 0h2m-2 1h2m-2 1h2m-2 1h2m-2 0h2m-2 0h2m-2 1h2m-2 1h2m-2 0h2m-2 0h2m-2 2h2m-2 0h2m-2 1h2m-2 1h2m-1-10h2m-2 1h2m-2 2h2m-2 2h2m-2 2h2m-2 3h2m-2 0h2m-2 1h2m-2 0h2m-2 0h2m-2 0h2m-2 2h2m-1-17h2m-2 2h2m-2 0h2m-2 1h2m-2 2h2m-2 1h2m-2 3h2m-2 0h2m-2 1h2m-2 1h2m-2 1h2m-2 2h2m-2 1h2m-2 0h2m-2 2h2m-1-17h2m-2 1h2m-2 1h2m-2 0h2m-2 1h2m-2 0h2m-2 1h2m-2 1h2m-2 0h2m-2 2h2m-2 1h2m-2 0h2m-2 2h2m-2 0h2m-2 0h2m-2 0h2m-2 0h2m-2 1h2m-2 1h2m-2 1h2m-2 2h2m-2 0h2m-2 3h2m-2 0h2m-2 1h2m-2 5h2m-1-23h2m-2 1h2m-2 0h2m-2 1h2m-2 0h2m-2 1h2m-2 0h2m-2 4h2m-2 1h2m-2 0h2m-2 2h2m-2 1h2m-2 0h2m-2 0h2m-2 1h2m-2 0h2m-2 1h2m-2 1h2m-2 1h2m-2 0h2m-2 3h2m-1-19h2m-2 2h2m-2 1h2m-2 2h2m-2 2h2m-2 0h2m-2 3h2m-2 1h2m-2 3h2m-2 1h2m-2 2h2m-2 0h2m-2 0h2m-2 2h2m-1-16h2m-2 2h2m-2 2h2m-2 1h2m-2 1h2m-2 1h2m-2 1h2m-2 0h2m-2 1h2m-2 0h2m-2 4h2m-2 0h2m-2 0h2m-2 0h2m-2 1h2m-2 1h2m-2 1h2m-1-18h2m-2 1h2m-2 0h2m-2 2h2m-2 0h2m-2 2h2m-2 0h2m-2 1h2m-2 0h2m-2 2h2m-2 0h2m-2 0h2m-2 1h2m-2 0h2m-2 0h2m-2 1h2m-2 3h2m-2 1h2m-2 2h2m-1-20h2m-2 4h2m-2 2h2m-2 0h2m-2 1h2m-2 0h2m-2 0h2m-2 0h2m-2 1h2m-2 0h2m-2 0h2m-2 1h2m-2 0h2m-2 1h2m-2 0h2m-2 1h2m-2 0h2m-2 1h2m-2 1h2m-2 0h2m-2 0h2m-2 1h2m-2 1h2m-2 2h2m-2 0h2m-2 0h2m-2 3h2m-2 1h2m-2 0h2m-1-19h2m-2 4h2m-2 1h2m-2 1h2m-2 2h2m-2 1h2m-2 1h2m-2 0h2m-2 0h2m-2 1h2m-2 0h2m-2 1h2m-2 3h2m-2 2h2m-2 1h2m-1-18h2m-2 5h2m-2 2h2m-2 0h2m-2 0h2m-2 0h2m-2 2h2m-2 4h2m-2 0h2m-2 4h2m-2 1h2m-2 1h2m-2 0h2m-1-16h2m-2 1h2m-2 1h2m-2 2h2m-2 0h2m-2 2h2m-2 0h2m-2 1h2m-2 1h2m-2 1h2m-2 2h2m-2 1h2m-2 1h2m-2 1h2m-2 1h2m-2 0h2m-2 0h2m-2 3h2m-1-16h2m-2 0h2m-2 0h2m-2 2h2m-2 2h2m-2 4h2m-2 0h2m-2 1h2m-2 0h2m-2 0h2m-2 0h2m-2 6h2m-1-18h2m-2 1h2m-2 1h2m-2 1h2m-2 1h2m-2 1h2m-2 0h2m-2 1h2m-2 1h2m-2 1h2m-2 0h2m-2 2h2m-2 0h2m-2 0h2m-2 0h2m-2 1h2m-2 0h2m-2 1h2m-2 1h2m-2 0h2m-2 0h2m-2 0h2m-2 1h2m-2 2h2m-2 0h2m-1-15h2m-2 2h2m-2 1h2m-2 1h2m-2 0h2m-2 4h2m-2 1h2m-2 0h2m-2 2h2m-2 0h2m-2 0h2m-2 0h2m-2 1h2m-2 0h2m-2 1h2m-2 0h2m-2 1h2m-2 1h2m-2 0h2m-1-18h2m-2 6h2m-2 0h2m-2 1h2m-2 0h2m-2 0h2m-2 1h2m-2 0h2m-2 0h2m-2 1h2m-2 2h2m-2 1h2m-2 0h2m-2 2h2m-2 0h2m-2 2h2m-2 0h2m-2 1h2m-2 1h2m-2 1h2m-2 0h2m-2 1h2m-1-19h2m-2 3h2m-2 1h2m-2 0h2m-2 1h2m-2 4h2m-2 2h2m-2 1h2m-2 0h2m-2 1h2m-2 0h2m-2 2h2m-1-12h2m-2 0h2m-2 1h2m-2 1h2m-2 1h2m-2 0h2m-2 3h2m-2 0h2m-2 1h2m-2 1h2m-2 2h2m-2 2h2m-2 0h2m-2 2h2m-2 5h2m-1-18h2m-2 2h2m-2 0h2m-2 0h2m-2 1h2m-2 1h2m-2 1h2m-2 1h2m-2 0h2m-2 0h2m-2 1h2m-2 1h2m-2 2h2m-2 0h2m-2 2h2m-2 0h2m-1-32h2m-2 20h2m-2 1h2m-2 1h2m-2 2h2m-2 0h2m-2 0h2m-2 2h2m-2 0h2m-2 1h2m-2 2h2m-2 1h2m-1-15h2m-2 2h2m-2 1h2m-2 2h2m-2 1h2m-2 1h2m-2 0h2m-2 2h2m-2 1h2m-2 0h2m-2 0h2m-2 1h2m-2 0h2m-2 0h2m-2 1h2m-2 0h2m-2 1h2m-2 2h2m-2 1h2m-2 2h2m-2 1h2m-1-25h2m-2 8h2m-2 2h2m-2 1h2m-2 1h2m-2 2h2m-2 0h2m-2 2h2m-2 0h2m-2 1h2m-2 0h2m-2 1h2m-2 2h2m-1-14h2m-2 2h2m-2 2h2m-2 0h2m-2 1h2m-2 2h2m-2 0h2m-2 1h2m-2 0h2m-2 1h2m-2 0h2m-2 2h2m-2 2h2m-2 0h2m-2 3h2m-2 0h2m-2 3h2m-1-18h2m-2 1h2m-2 1h2m-2 1h2m-2 1h2m-2 0h2m-2 1h2m-2 2h2m-2 0h2m-2 0h2m-2 1h2m-2 1h2m-2 1h2m-2 1h2m-2 1h2m-2 2h2m-2 2h2m-2 0h2m-2 0h2m-1-12h2m-2 0h2m-2 3h2m-2 0h2m-2 4h2m-2 0h2m-2 0h2m-2 0h2m-2 1h2m-2 2h2m-2 1h2m-2 0h2m-2 1h2m-2 2h2m-2 1h2m-1-15h2m-2 3h2m-2 0h2m-2 1h2m-2 0h2m-2 1h2m-2 0h2m-2 2h2m-2 0h2m-2 2h2m-2 0h2m-2 1h2m-2 0h2m-2 1h2m-2 1h2m-2 0h2m-2 6h2m-1-31h2m-2 11h2m-2 0h2m-2 1h2m-2 1h2m-2 2h2m-2 1h2m-2 1h2m-2 2h2m-2 0h2m-2 0h2m-2 1h2m-2 3h2m-2 1h2m-2 2h2m-2 2h2m-1-32h2m-2 15h2m-2 1h2m-2 1h2m-2 2h2m-2 1h2m-2 0h2m-2 0h2m-2 0h2m-2 3h2m-2 4h2m-2 1h2m-2 0h2m-2 0h2m-2 1h2m-1-15h2m-2 2h2m-2 2h2m-2 1h2m-2 1h2m-2 0h2m-2 1h2m-2 3h2m-2 1h2m-2 2h2m-2 0h2m-2 2h2m-1-29h2m-2 16h2m-2 1h2m-2 0h2m-2 2h2m-2 3h2m-2 0h2m-2 2h2m-2 0h2m-2 1h2m-2 1h2m-2 0h2m-2 2h2m-2 1h2m-2 0h2m-2 1h2m-2 0h2m-2 0h2m-1-17h2m-2 4h2m-2 1h2m-2 0h2m-2 1h2m-2 1h2m-2 1h2m-2 0h2m-2 0h2m-2 1h2m-2 2h2m-2 0h2m-2 0h2m-2 2h2m-2 1h2m-2 0h2m-2 0h2m-2 0h2m-2 1h2m-1-12h2m-2 0h2m-2 2h2m-2 0h2m-2 3h2m-2 3h2m-2 2h2m-2 0h2m-2 1h2m-2 0h2m-2 0h2m-2 0h2m-2 1h2m-2 1h2m-2 0h2m-2 1h2m-1-17h2m-2 6h2m-2 0h2m-2 1h2m-2 2h2m-2 2h2m-2 0h2m-2 1h2m-2 0h2m-2 2h2m-2 1h2m-2 1h2m-2 0h2m-2 0h2m-2 1h2m-2 1h2m-1-19h2m-2 5h2m-2 2h2m-2 0h2m-2 1h2m-2 2h2m-2 0h2m-2 3h2m-2 0h2m-2 1h2m-2 0h2m-2 0h2m-2 0h2m-2 1h2m-2 0h2m-2 1h2m-2 0h2m-2 0h2m-2 0h2m-2 1h2m-2 2h2m-2 0h2m-1-20h2m-2 1h2m-2 3h2m-2 0h2m-2 2h2m-2 1h2m-2 0h2m-2 1h2m-2 1h2m-2 0h2m-2 1h2m-2 0h2m-2 1h2m-2 1h2m-2 1h2m-2 1h2m-2 0h2m-2 1h2m-2 0h2m-2 0h2m-2 0h2m-2 1h2m-2 1h2m-2 0h2m-2 0h2m-2 2h2m-2 1h2m-1-18h2m-2 1h2m-2 2h2m-2 0h2m-2 2h2m-2 2h2m-2 0h2m-2 0h2m-2 0h2m-2 1h2m-2 0h2m-2 0h2m-2 1h2m-2 0h2m-2 1h2m-2 0h2m-2 0h2m-2 1h2m-2 1h2m-2 1h2m-2 1h2m-2 0h2m-2 0h2m-2 1h2m-2 0h2m-2 0h2m-2 1h2m-2 0h2m-2 0h2m-1-17h2m-2 3h2m-2 1h2m-2 0h2m-2 1h2m-2 2h2m-2 0h2m-2 0h2m-2 1h2m-2 2h2m-2 0h2m-2 5h2m-2 0h2m-2 1h2m-2 0h2m-2 3h2m-2 1h2m-1-17h2m-2 0h2m-2 1h2m-2 0h2m-2 1h2m-2 3h2m-2 0h2m-2 1h2m-2 1h2m-2 0h2m-2 1h2m-2 2h2m-2 1h2m-2 0h2m-2 0h2m-2 0h2m-2 1h2m-2 0h2m-2 3h2m-2 0h2m-2 0h2m-2 0h2m-2 1h2m-2 0h2m-2 1h2m-1-19h2m-2 2h2m-2 0h2m-2 1h2m-2 2h2m-2 2h2m-2 1h2m-2 1h2m-2 0h2m-2 1h2m-2 0h2m-2 2h2m-2 0h2m-2 0h2m-2 2h2m-1-14h2m-2 4h2m-2 4h2m-2 0h2m-2 1h2m-2 1h2m-2 2h2m-2 1h2m-2 1h2m-2 3h2m-2 0h2m-2 0h2m-2 1h2m-2 0h2m-2 1h2m-1-26h2m-2 5h2m-2 2h2m-2 2h2m-2 2h2m-2 1h2m-2 2h2m-2 1h2m-2 0h2m-2 0h2m-2 1h2m-2 1h2m-2 1h2m-2 2h2m-2 1h2m-2 0h2m-2 1h2m-2 1h2m-2 1h2m-1-16h2m-2 1h2m-2 0h2m-2 1h2m-2 2h2m-2 0h2m-2 0h2m-2 1h2m-2 1h2m-2 3h2m-2 3h2m-2 0h2m-2 1h2m-2 1h2m-2 1h2m-2 0h2m-1-17h2m-2 1h2m-2 1h2m-2 2h2m-2 0h2m-2 1h2m-2 2h2m-2 0h2m-2 2h2m-2 0h2m-2 4h2m-2 0h2m-2 1h2m-2 0h2m-2 3h2m-2 1h2m-2 0h2m-2 0h2m-2 1h2m-1-16h2m-2 1h2m-2 0h2m-2 1h2m-2 0h2m-2 1h2m-2 0h2m-2 1h2m-2 0h2m-2 0h2m-2 2h2m-2 0h2m-2 2h2m-2 0h2m-2 1h2m-2 1h2m-2 0h2m-2 0h2m-2 1h2m-2 1h2m-2 1h2m-2 1h2m-2 0h2m-2 1h2m-1-15h2m-2 1h2m-2 1h2m-2 2h2m-2 3h2m-2 0h2m-2 2h2m-2 0h2m-2 0h2m-2 1h2m-2 0h2m-2 1h2m-2 0h2m-2 3h2m-1-15h2m-2 2h2m-2 1h2m-2 0h2m-2 1h2m-2 1h2m-2 1h2m-2 1h2m-2 1h2m-2 0h2m-2 0h2m-2 3h2m-2 0h2m-2 1h2m-2 2h2m-2 0h2m-2 1h2m-2 1h2m-2 0h2m-2 1h2m-2 0h2m-1-16h2m-2 2h2m-2 1h2m-2 2h2m-2 0h2m-2 2h2m-2 1h2m-2 0h2m-2 1h2m-2 0h2m-2 0h2m-2 0h2m-2 1h2m-2 0h2m-2 0h2m-2 1h2m-2 1h2m-2 1h2m-2 3h2m-1-17h2m-2 2h2m-2 1h2m-2 0h2m-2 0h2m-2 1h2m-2 2h2m-2 0h2m-2 1h2m-2 2h2m-2 3h2m-2 0h2m-2 1h2m-2 0h2m-2 0h2m-2 1h2m-2 1h2m-2 1h2m-2 0h2m-2 4h2m-1-21h2m-2 4h2m-2 0h2m-2 4h2m-2 0h2m-2 1h2m-2 0h2m-2 1h2m-2 2h2m-2 0h2m-2 1h2m-2 1h2m-2 1h2m-2 0h2m-2 2h2m-2 0h2m-2 1h2m-1-13h2m-2 2h2m-2 1h2m-2 0h2m-2 4h2m-2 1h2m-2 0h2m-2 1h2m-2 0h2m-2 1h2m-2 1h2m-1-18h2m-2 3h2m-2 0h2m-2 2h2m-2 2h2m-2 1h2m-2 0h2m-2 1h2m-2 0h2m-2 2h2m-2 1h2m-2 0h2m-1-9h2m-2 2h2m-2 0h2m-2 1h2m-2 2h2m-2 0h2m-2 3h2m-2 1h2m-2 3h2m-2 1h2m-2 0h2m-2 0h2m-1-23h2m-2 10h2m-2 2h2m-2 0h2m-2 3h2m-2 1h2m-2 0h2m-2 1h2m-2 0h2m-2 1h2m-2 0h2m-2 1h2m-2 0h2m-2 0h2m-2 2h2m-2 0h2m-2 1h2m-2 3h2m-2 1h2m-2 0h2m-1-16h2m-2 1h2m-2 1h2m-2 0h2m-2 0h2m-2 2h2m-2 0h2m-2 1h2m-2 1h2m-2 0h2m-2 2h2m-2 0h2m-2 1h2m-2 2h2m-2 0h2m-2 0h2m-2 1h2m-2 0h2m-2 4h2m-2 0h2m-2 0h2m-2 1h2m-2 0h2m-2 1h2m-2 2h2m-1-18h2m-2 2h2m-2 0h2m-2 0h2m-2 3h2m-2 2h2m-2 0h2m-2 1h2m-2 2h2m-2 1h2m-2 0h2m-1-12h2m-2 0h2m-2 2h2m-2 1h2m-2 0h2m-2 1h2m-2 0h2m-2 5h2m-2 0h2m-2 1h2m-2 3h2m-2 0h2m-2 1h2m-2 1h2m-1-19h2m-2 3h2m-2 3h2m-2 3h2m-2 0h2m-2 0h2m-2 1h2m-2 0h2m-2 1h2m-2 0h2m-2 1h2m-2 0h2m-2 1h2m-2 2h2m-2 0h2m-2 1h2m-2 1h2m-2 0h2m-2 4h2m-1-19h2m-2 1h2m-2 1h2m-2 0h2m-2 1h2m-2 1h2m-2 0h2m-2 1h2m-2 2h2m-2 1h2m-2 1h2m-2 0h2m-2 4h2m-2 0h2m-2 2h2m-1-13h2m-2 3h2m-2 1h2m-2 2h2m-2 0h2m-2 0h2m-2 1h2m-2 1h2m-2 3h2m-2 3h2m-1-14h2m-2 2h2m-2 2h2m-2 0h2m-2 3h2m-2 0h2m-2 1h2m-2 0h2m-2 0h2m-2 1h2m-2 1h2m-2 0h2m-2 2h2m-2 0h2m-2 2h2m-2 0h2m-1-16h2m-2 2h2m-2 1h2m-2 1h2m-2 1h2m-2 1h2m-2 0h2m-2 3h2m-2 1h2m-2 1h2m-2 0h2m-2 4h2m-2 0h2m-2 0h2m-2 1h2m-1-14h2m-2 1h2m-2 2h2m-2 2h2m-2 1h2m-2 1h2m-2 0h2m-2 0h2m-2 3h2m-2 0h2m-2 2h2m-2 1h2m-2 1h2m-2 1h2m-2 1h2m-1-12h2m-2 0h2m-2 1h2m-2 0h2m-2 0h2m-2 1h2m-2 0h2m-2 0h2m-2 0h2m-2 2h2m-2 0h2m-2 0h2m-2 1h2m-2 0h2m-2 3h2m-2 0h2m-2 1h2m-2 0h2m-2 2h2m-2 1h2m-2 0h2m-1-25h2m-2 9h2m-2 2h2m-2 1h2m-2 3h2m-2 1h2m-2 2h2m-2 1h2m-2 0h2m-2 0h2m-2 1h2m-2 1h2m-2 0h2m-2 4h2m-2 0h2m-1-16h2m-2 1h2m-2 2h2m-2 1h2m-2 1h2m-2 1h2m-2 0h2m-2 0h2m-2 2h2m-2 1h2m-2 0h2m-2 1h2m-2 1h2m-2 3h2m-2 1h2m-2 1h2m-1-16h2m-2 0h2m-2 0h2m-2 1h2m-2 1h2m-2 2h2m-2 4h2m-2 1h2m-2 0h2m-2 1h2m-2 1h2m-2 0h2m-2 1h2m-2 1h2m-2 1h2m-1-15h2m-2 0h2m-2 2h2m-2 2h2m-2 0h2m-2 5h2m-2 0h2m-2 3h2m-2 1h2m-2 0h2m-2 1h2m-2 5h2m-1-22h2m-2 2h2m-2 4h2m-2 0h2m-2 1h2m-2 1h2m-2 1h2m-2 3h2m-2 0h2m-2 3h2m-2 1h2m-2 1h2m-2 2h2m-1-15h2m-2 2h2m-2 0h2m-2 1h2m-2 1h2m-2 2h2m-2 0h2m-2 1h2m-2 3h2m-2 1h2m-2 3h2m-2 0h2m-2 3h2m-2 0h2m-1-15h2m-2 0h2m-2 1h2m-2 2h2m-2 1h2m-2 0h2m-2 1h2m-2 0h2m-2 1h2m-2 3h2m-2 2h2m-2 2h2m-2 0h2m-2 2h2m-1-17h2m-2 1h2m-2 1h2m-2 1h2m-2 1h2m-2 4h2m-2 3h2m-2 1h2m-2 1h2m-2 0h2m-2 0h2m-2 2h2m-2 1h2m-1-13h2m-2 2h2m-2 0h2m-2 6h2m-2 2h2m-2 1h2m-1-14h2m-2 0h2m-2 3h2m-2 1h2m-2 1h2m-2 1h2m-2 2h2m-2 0h2m-2 0h2m-2 1h2m-2 0h2m-2 0h2m-2 1h2m-2 3h2m-2 0h2m-1-16h2m-2 4h2m-2 0h2m-2 1h2m-2 0h2m-2 1h2m-2 0h2m-2 3h2m-2 1h2m-2 1h2m-2 0h2m-2 0h2m-2 0h2m-2 2h2m-2 0h2m-2 1h2m-2 1h2m-2 0h2m-2 2h2m-1-13h2m-2 2h2m-2 0h2m-2 2h2m-2 1h2m-2 0h2m-2 1h2m-2 1h2m-2 4h2m-2 0h2m-2 1h2m-2 1h2m-2 1h2m-1-18h2m-2 2h2m-2 3h2m-2 2h2m-2 1h2m-2 1h2m-2 0h2m-2 1h2m-2 0h2m-2 1h2m-2 2h2m-2 2h2m-2 1h2m-2 1h2m-2 1h2m-1-17h2m-2 0h2m-2 5h2m-2 0h2m-2 1h2m-2 1h2m-2 2h2m-2 4h2m-2 1h2m-2 4h2m-1-16h2m-2 2h2m-2 1h2m-2 1h2m-2 0h2m-2 0h2m-2 2h2m-2 4h2m-2 0h2m-2 0h2m-2 0h2m-2 2h2m-2 0h2m-2 1h2m-2 0h2m-2 4h2m-1-20h2m-2 2h2m-2 0h2m-2 2h2m-2 0h2m-2 1h2m-2 1h2m-2 3h2m-2 0h2m-2 2h2m-2 2h2m-2 1h2m-2 0h2m-2 1h2m-2 2h2m-2 2h2m-2 0h2m-1-16h2m-2 0h2m-2 2h2m-2 1h2m-2 0h2m-2 2h2m-2 0h2m-2 1h2m-2 0h2m-2 0h2m-2 5h2m-2 0h2m-2 0h2m-2 1h2m-2 0h2m-2 0h2m-2 1h2m-1-14h2m-2 3h2m-2 0h2m-2 1h2m-2 0h2m-2 2h2m-2 1h2m-2 1h2m-2 0h2m-2 2h2m-2 1h2m-2 1h2m-2 2h2m-2 0h2m-2 1h2m-2 0h2m-2 1h2m-2 0h2m-2 1h2m-1-15h2m-2 1h2m-2 0h2m-2 1h2m-2 0h2m-2 1h2m-2 0h2m-2 0h2m-2 3h2m-2 0h2m-2 0h2m-2 0h2m-2 1h2m-2 1h2m-2 0h2m-2 1h2m-2 1h2m-2 1h2m-2 1h2m-1-21h2m-2 7h2m-2 1h2m-2 1h2m-2 0h2m-2 1h2m-2 2h2m-2 0h2m-2 1h2m-2 1h2m-2 1h2m-2 0h2m-2 0h2m-2 0h2m-2 1h2m-2 0h2m-2 0h2m-2 1h2m-2 0h2m-2 1h2m-2 1h2m-2 1h2m-2 1h2m-2 1h2m-2 1h2m-2 0h2m-1-20h2m-2 9h2m-2 1h2m-2 0h2m-2 1h2m-2 2h2m-2 3h2m-2 0h2m-2 0h2m-2 2h2m-2 1h2m-2 0h2m-2 1h2m-2 1h2m-1-16h2m-2 2h2m-2 0h2m-2 0h2m-2 0h2m-2 1h2m-2 0h2m-2 1h2m-2 0h2m-2 1h2m-2 2h2m-2 0h2m-2 0h2m-2 1h2m-2 0h2m-2 1h2m-2 0h2m-2 0h2m-2 1h2m-2 1h2m-2 4h2m-2 1h2m-1-10h2m-2 0h2m-2 1h2m-2 2h2m-2 1h2m-2 0h2m-2 1h2m-2 0h2m-2 2h2m-2 2h2m-1-23h2m-2 10h2m-2 2h2m-2 2h2m-2 2h2m-2 3h2m-2 0h2m-2 0h2m-2 0h2m-2 4h2m-2 2h2m-1-16h2m-2 1h2m-2 1h2m-2 1h2m-2 1h2m-2 0h2m-2 0h2m-2 2h2m-2 0h2m-2 4h2m-2 0h2m-2 0h2m-2 2h2m-1-10h2m-2 1h2m-2 0h2m-2 1h2m-2 1h2m-2 1h2m-2 1h2m-2 1h2m-2 0h2m-2 0h2m-2 0h2m-2 0h2m-2 1h2m-2 2h2m-2 2h2m-2 1h2m-2 0h2m-1-15h2m-2 0h2m-2 3h2m-2 2h2m-2 6h2m-2 0h2m-2 5h2m-2 0h2m-1-24h2m-2 2h2m-2 5h2m-2 0h2m-2 1h2m-2 1h2m-2 1h2m-2 1h2m-2 0h2m-2 2h2m-2 1h2m-2 3h2m-2 8h2m-2 1h2m-2 0h2m-1-18h2m-2 2h2m-2 1h2m-2 0h2m-2 1h2m-2 1h2m-2 0h2m-2 1h2m-2 0h2m-2 1h2m-2 1h2m-2 1h2m-2 0h2m-2 0h2m-2 2h2m-2 2h2m-2 0h2m-2 1h2m-2 1h2m-1-16h2m-2 0h2m-2 1h2m-2 4h2m-2 1h2m-2 0h2m-2 0h2m-2 0h2m-2 2h2m-2 0h2m-2 1h2m-2 0h2m-2 1h2m-2 3h2m-2 1h2m-2 1h2m-2 1h2m-1-14h2m-2 1h2m-2 0h2m-2 0h2m-2 0h2m-2 1h2m-2 1h2m-2 0h2m-2 0h2m-2 1h2m-2 4h2m-2 0h2m-2 0h2m-2 1h2m-2 1h2m-2 2h2m-2 0h2m-2 0h2m-2 1h2m-2 0h2m-1-16h2m-2 1h2m-2 1h2m-2 2h2m-2 2h2m-2 1h2m-2 1h2m-2 1h2m-2 1h2m-2 3h2m-2 1h2m-2 2h2m-2 1h2m-2 1h2m-1-17h2m-2 2h2m-2 0h2m-2 1h2m-2 3h2m-2 1h2m-2 0h2m-2 5h2m-2 1h2m-2 0h2m-2 1h2m-2 1h2m-2 1h2m-2 14h2m-1-42h2m-2 19h2m-2 0h2m-2 1h2m-2 1h2m-2 0h2m-2 2h2m-2 2h2m-2 0h2m-2 0h2m-2 2h2m-2 0h2m-2 0h2m-2 0h2m-2 0h2m-2 1h2m-2 1h2m-1-20h2m-2 2h2m-2 1h2m-2 5h2m-2 2h2m-2 0h2m-2 0h2m-2 4h2m-2 0h2m-2 2h2m-2 0h2m-2 0h2m-2 1h2m-2 1h2m-2 1h2m-2 1h2m-1-18h2m-2 4h2m-2 2h2m-2 2h2m-2 0h2m-2 2h2m-2 1h2m-2 1h2m-2 0h2m-2 0h2m-2 3h2m-2 1h2m-2 4h2m-1-18h2m-2 2h2m-2 0h2m-2 3h2m-2 1h2m-2 0h2m-2 4h2m-2 1h2m-2 0h2m-2 3h2m-2 1h2m-2 0h2m-2 1h2m-1-14h2m-2 2h2m-2 2h2m-2 0h2m-2 0h2m-2 2h2m-2 0h2m-2 1h2m-2 1h2m-2 1h2m-2 0h2m-2 0h2m-2 4h2m-1-24h2m-2 11h2m-2 4h2m-2 0h2m-2 1h2m-2 1h2m-2 1h2m-2 1h2m-2 2h2m-2 0h2m-2 0h2m-2 1h2m-2 0h2m-2 0h2m-2 2h2m-2 2h2m-2 1h2m-1-20h2m-2 1h2m-2 3h2m-2 1h2m-2 1h2m-2 0h2m-2 0h2m-2 2h2m-2 0h2m-2 1h2m-2 1h2m-2 0h2m-2 3h2m-2 0h2m-2 2h2m-2 0h2m-2 2h2m-2 3h2m-1-19h2m-2 1h2m-2 2h2m-2 2h2m-2 0h2m-2 0h2m-2 3h2m-2 2h2m-2 0h2m-2 0h2m-2 3h2m-2 2h2m-1-13h2m-2 1h2m-2 0h2m-2 0h2m-2 2h2m-2 0h2m-2 2h2m-2 1h2m-2 1h2m-2 0h2m-2 1h2m-2 3h2m-2 2h2m-2 0h2m-2 0h2m-2 1h2m-1-22h2m-2 9h2m-2 2h2m-2 3h2m-2 1h2m-2 0h2m-2 1h2m-2 1h2m-2 0h2m-2 3h2m-2 0h2m-2 1h2m-1-15h2m-2 2h2m-2 1h2m-2 0h2m-2 1h2m-2 0h2m-2 1h2m-2 3h2m-2 1h2m-2 1h2m-2 1h2m-2 0h2m-2 0h2m-2 1h2m-2 1h2m-2 1h2m-2 2h2m-2 0h2m-2 1h2m-2 0h2m-1-13h2m-2 2h2m-2 0h2m-2 1h2m-2 0h2m-2 0h2m-2 0h2m-2 2h2m-2 2h2m-2 4h2m-2 1h2m-1-16h2m-2 2h2m-2 1h2m-2 1h2m-2 1h2m-2 2h2m-2 1h2m-2 3h2m-2 0h2m-2 0h2m-2 1h2m-2 0h2m-2 4h2m-2 1h2m-1-18h2m-2 4h2m-2 1h2m-2 0h2m-2 0h2m-2 2h2m-2 1h2m-2 0h2m-2 2h2m-2 1h2m-2 0h2m-2 2h2m-2 1h2m-2 1h2m-2 2h2m-2 0h2m-2 0h2m-2 0h2m-2 2h2m-1-15h2m-2 0h2m-2 1h2m-2 3h2m-2 0h2m-2 1h2m-2 0h2m-2 1h2m-2 0h2m-2 1h2m-2 0h2m-2 3h2m-2 0h2m-2 2h2m-2 1h2m-2 1h2m-2 0h2m-1-16h2m-2 0h2m-2 2h2m-2 0h2m-2 3h2m-2 0h2m-2 3h2m-2 0h2m-2 2h2m-2 3h2m-2 0h2m-2 0h2m-2 4h2m-1-17h2m-2 1h2m-2 0h2m-2 1h2m-2 2h2m-2 0h2m-2 1h2m-2 2h2m-2 0h2m-2 1h2m-2 0h2m-2 1h2m-2 0h2m-2 1h2m-2 2h2m-2 1h2m-2 2h2m-1-16h2m-2 0h2m-2 1h2m-2 0h2m-2 1h2m-2 0h2m-2 0h2m-2 1h2m-2 0h2m-2 0h2m-2 1h2m-2 0h2m-2 3h2m-2 2h2m-2 0h2m-2 1h2m-2 1h2m-2 0h2m-2 1h2m-2 1h2m-2 0h2m-2 0h2m-2 1h2m-2 0h2m-2 0h2m-2 3h2m-1-19h2m-2 0h2m-2 4h2m-2 0h2m-2 3h2m-2 3h2m-2 0h2m-2 1h2m-2 0h2m-2 5h2m-2 0h2m-2 2h2m-2 0h2m-2 1h2m-2 1h2m-1-16h2m-2 1h2m-2 1h2m-2 0h2m-2 2h2m-2 1h2m-2 0h2m-2 1h2m-2 0h2m-2 1h2m-2 1h2m-2 0h2m-2 0h2m-2 2h2m-2 0h2m-2 0h2m-2 3h2m-2 5h2m-1-20h2m-2 3h2m-2 0h2m-2 0h2m-2 0h2m-2 3h2m-2 0h2m-2 1h2m-2 0h2m-2 1h2m-2 2h2m-2 0h2m-2 1h2m-2 1h2m-2 4h2m-2 0h2m-2 9h2m-1-24h2m-2 2h2m-2 0h2m-2 1h2m-2 2h2m-2 2h2m-2 1h2m-2 2h2m-2 0h2m-2 4h2m-2 0h2m-2 0h2m-2 5h2m-1-11h2m-2 1h2m-2 0h2m-2 0h2m-2 2h2m-2 1h2m-2 1h2m-2 1h2m-1-13h2m-2 0h2m-2 1h2m-2 0h2m-2 1h2m-2 1h2m-2 0h2m-2 1h2m-2 1h2m-2 0h2m-2 0h2m-2 4h2m-2 5h2m-1-20h2m-2 8h2m-2 0h2m-2 0h2m-2 1h2m-2 1h2m-2 0h2m-2 0h2m-2 1h2m-2 0h2m-2 2h2m-2 0h2m-2 0h2m-2 0h2m-2 2h2m-2 0h2m-2 2h2m-2 0h2m-2 1h2m-2 0h2m-1-14h2m-2 0h2m-2 1h2m-2 1h2m-2 2h2m-2 0h2m-2 2h2m-2 0h2m-2 3h2m-2 1h2m-2 0h2m-2 1h2m-2 2h2m-2 0h2m-2 1h2m-2 1h2m-2 0h2m-2 0h2m-2 2h2m-1-18h2m-2 4h2m-2 1h2m-2 1h2m-2 0h2m-2 0h2m-2 1h2m-2 1h2m-2 2h2m-2 0h2m-2 1h2m-2 1h2m-2 1h2m-2 2h2m-1-18h2m-2 2h2m-2 3h2m-2 3h2m-2 3h2m-2 0h2m-2 1h2m-2 0h2m-2 1h2m-2 1h2m-2 0h2m-2 2h2m-2 2h2m-2 0h2m-2 1h2m-2 1h2m-1-13h2m-2 1h2m-2 1h2m-2 1h2m-2 0h2m-2 1h2m-2 1h2m-2 1h2m-2 0h2m-2 1h2m-2 2h2m-2 0h2m-2 0h2m-2 2h2m-2 0h2m-2 1h2m-2 3h2m-1-21h2m-2 4h2m-2 2h2m-2 0h2m-2 3h2m-2 2h2m-2 0h2m-2 0h2m-2 0h2m-2 1h2m-2 0h2m-2 1h2m-2 3h2m-2 0h2m-2 3h2m-2 0h2m-2 0h2m-1-14h2m-2 1h2m-2 1h2m-2 0h2m-2 1h2m-2 0h2m-2 3h2m-2 0h2m-2 0h2m-2 2h2m-2 0h2m-2 1h2m-2 1h2m-2 1h2m-2 4h2m-1-17h2m-2 3h2m-2 0h2m-2 2h2m-2 1h2m-2 0h2m-2 1h2m-2 0h2m-2 4h2m-2 1h2m-2 0h2m-2 1h2m-2 1h2m-2 1h2m-2 1h2m-1-16h2m-2 3h2m-2 1h2m-2 1h2m-2 2h2m-2 1h2m-2 3h2m-2 1h2m-2 1h2m-2 2h2m-2 0h2m-2 3h2m-1-16h2m-2 0h2m-2 2h2m-2 1h2m-2 2h2m-2 0h2m-2 1h2m-2 1h2m-2 0h2m-2 1h2m-2 0h2m-2 0h2m-2 1h2m-2 1h2m-2 1h2m-2 1h2m-2 1h2m-2 0h2m-1-13h2m-2 0h2m-2 1h2m-2 2h2m-2 0h2m-2 1h2m-2 0h2m-2 2h2m-2 2h2m-2 0h2m-2 0h2m-2 1h2m-2 4h2m-2 0h2m-2 2h2m-2 1h2m-1-29h2m-2 14h2m-2 0h2m-2 0h2m-2 2h2m-2 0h2m-2 3h2m-2 1h2m-2 0h2m-2 2h2m-2 1h2m-2 0h2m-2 0h2m-2 1h2m-1-16h2m-2 4h2m-2 1h2m-2 1h2m-2 3h2m-2 2h2m-2 2h2m-2 2h2m-2 1h2m-2 1h2m-2 0h2m-2 2h2m-2 3h2m-1-17h2m-2 1h2m-2 0h2m-2 0h2m-2 1h2m-2 0h2m-2 1h2m-2 1h2m-2 1h2m-2 1h2m-2 1h2m-2 1h2m-2 1h2m-2 2h2m-2 0h2m-1-14h2m-2 2h2m-2 0h2m-2 2h2m-2 4h2m-2 2h2m-2 0h2m-2 1h2m-2 2h2m-2 1h2m-2 1h2m-2 2h2m-2 1h2m-2 2h2m-1-18h2m-2 1h2m-2 2h2m-2 0h2m-2 2h2m-2 2h2m-2 1h2m-2 0h2m-2 2h2m-2 1h2m-2 1h2m-2 3h2m-1-18h2m-2 4h2m-2 2h2m-2 3h2m-2 1h2m-2 1h2m-2 1h2m-2 0h2m-2 1h2m-2 0h2m-2 0h2m-2 1h2m-2 4h2m-2 0h2m-2 4h2m-1-22h2m-2 1h2m-2 3h2m-2 2h2m-2 2h2m-2 1h2m-2 1h2m-2 0h2m-2 2h2m-2 4h2m-2 1h2m-2 0h2m-2 1h2m-1-22h2m-2 7h2m-2 0h2m-2 1h2m-2 0h2m-2 0h2m-2 1h2m-2 1h2m-2 1h2m-2 0h2m-2 1h2m-2 0h2m-2 0h2m-2 3h2m-2 0h2m-2 1h2m-2 0h2m-2 0h2m-2 0h2m-2 2h2m-2 0h2m-2 0h2m-2 0h2m-2 0h2m-2 1h2m-2 0h2m-2 2h2m-2 1h2m-2 1h2m-2 0h2m-1-16h2m-2 3h2m-2 3h2m-2 2h2m-2 0h2m-2 1h2m-2 2h2m-2 1h2m-2 0h2m-2 1h2m-2 0h2m-2 1h2m-2 1h2m-1-14h2m-2 1h2m-2 1h2m-2 1h2m-2 2h2m-2 1h2m-2 2h2m-2 0h2m-2 2h2m-2 0h2m-2 0h2m-2 1h2m-2 2h2m-2 4h2m-1-18h2m-2 0h2m-2 1h2m-2 0h2m-2 1h2m-2 0h2m-2 1h2m-2 0h2m-2 1h2m-2 0h2m-2 0h2m-2 1h2m-2 1h2m-2 0h2m-2 1h2m-2 0h2m-2 3h2m-2 2h2m-2 0h2m-2 3h2m-1-16h2m-2 1h2m-2 1h2m-2 1h2m-2 1h2m-2 1h2m-2 0h2m-2 1h2m-2 0h2m-2 1h2m-2 1h2m-2 1h2m-2 1h2m-2 2h2m-2 2h2m-2 1h2m-2 2h2m-2 0h2m-1-31h2m-2 17h2m-2 1h2m-2 2h2m-2 0h2m-2 1h2m-2 2h2m-2 0h2m-2 0h2m-2 4h2m-2 1h2m-2 2h2m-1-16h2m-2 6h2m-2 0h2m-2 1h2m-2 0h2m-2 1h2m-2 1h2m-2 0h2m-2 0h2m-2 0h2m-2 2h2m-2 0h2m-2 1h2m-2 0h2m-2 3h2m-2 0h2m-2 4h2m-1-16h2m-2 1h2m-2 2h2m-2 1h2m-2 1h2m-2 2h2m-2 0h2m-2 1h2m-2 1h2m-2 6h2m-1-16h2m-2 0h2m-2 0h2m-2 3h2m-2 0h2m-2 0h2m-2 1h2m-2 6h2m-2 1h2m-2 2h2m-2 0h2m-1-13h2m-2 1h2m-2 1h2m-2 0h2m-2 1h2m-2 0h2m-2 1h2m-2 0h2m-2 1h2m-2 1h2m-2 0h2m-2 0h2m-2 1h2m-2 0h2m-2 0h2m-2 1h2m-1-12h2m-2 1h2m-2 4h2m-2 1h2m-2 1h2m-2 0h2m-2 0h2m-2 1h2m-2 2h2m-2 3h2m-2 1h2m-2 0h2m-2 0h2m-2 1h2m-2 2h2m-2 0h2m-2 1h2m-2 0h2m-2 0h2m-2 1h2m-2 4h2m-1-23h2m-2 1h2m-2 2h2m-2 1h2m-2 3h2m-2 0h2m-2 1h2m-2 1h2m-2 0h2m-2 0h2m-2 0h2m-2 2h2m-2 2h2m-2 0h2m-2 1h2m-2 2h2m-2 1h2m-2 1h2m-2 2h2m-2 2h2m-1-18h2m-2 2h2m-2 3h2m-2 1h2m-2 1h2m-2 1h2m-2 1h2m-2 0h2m-2 2h2m-2 1h2m-1-13h2m-2 1h2m-2 1h2m-2 0h2m-2 1h2m-2 2h2m-2 1h2m-2 2h2m-2 1h2m-2 0h2m-2 1h2m-2 0h2m-2 2h2m-2 0h2m-2 1h2m-2 0h2m-2 0h2m-2 1h2m-1-15h2m-2 2h2m-2 3h2m-2 0h2m-2 2h2m-2 0h2m-2 1h2m-2 0h2m-2 1h2m-2 0h2m-2 1h2m-2 0h2m-2 1h2m-2 0h2m-2 1h2m-2 0h2m-2 1h2m-2 0h2m-2 3h2m-2 1h2m-2 1h2m-1-19h2m-2 2h2m-2 1h2m-2 2h2m-2 1h2m-2 1h2m-2 1h2m-2 0h2m-2 1h2m-2 0h2m-2 2h2m-2 0h2m-2 0h2m-2 2h2m-2 0h2m-2 1h2m-2 0h2m-2 1h2m-2 0h2m-2 4h2m-1-17h2m-2 0h2m-2 5h2m-2 0h2m-2 2h2m-2 2h2m-2 0h2m-2 2h2m-2 0h2m-2 0h2m-2 1h2m-2 1h2m-2 1h2m-2 1h2m-2 1h2m-2 2h2m-1-17h2m-2 0h2m-2 1h2m-2 1h2m-2 1h2m-2 0h2m-2 0h2m-2 1h2m-2 1h2m-2 1h2m-2 1h2m-2 3h2m-2 0h2m-2 1h2m-2 0h2m-2 1h2m-2 0h2m-1-14h2m-2 3h2m-2 2h2m-2 0h2m-2 0h2m-2 2h2m-2 1h2m-2 0h2m-2 0h2m-2 1h2m-2 0h2m-2 0h2m-2 1h2m-2 5h2m-2 2h2m-2 0h2m-1-18h2m-2 2h2m-2 3h2m-2 0h2m-2 1h2m-2 2h2m-2 4h2m-2 0h2m-2 0h2m-2 1h2m-2 0h2m-2 2h2m-2 0h2m-2 1h2m-2 1h2m-2 0h2m-2 1h2m-1-22h2m-2 7h2m-2 3h2m-2 1h2m-2 2h2m-2 1h2m-2 1h2m-2 1h2m-1-15h2m-2 5h2m-2 1h2m-2 1h2m-2 1h2m-2 1h2m-2 2h2m-2 1h2m-2 0h2m-2 2h2m-2 0h2m-2 0h2m-2 1h2m-2 0h2m-2 0h2m-2 0h2m-2 2h2m-2 2h2m-2 1h2m-2 1h2m-2 2h2m-1-19h2m-2 4h2m-2 1h2m-2 0h2m-2 1h2m-2 1h2m-2 1h2m-2 0h2m-2 0h2m-2 1h2m-2 0h2m-2 3h2m-2 1h2m-2 2h2m-2 0h2m-2 0h2m-1-16h2m-2 2h2m-2 0h2m-2 1h2m-2 2h2m-2 2h2m-2 2h2m-2 2h2m-2 0h2m-2 1h2m-2 2h2m-2 1h2m-2 1h2m-2 0h2m-2 0h2m-1-12h2m-2 0h2m-2 1h2m-2 0h2m-2 3h2m-2 0h2m-2 2h2m-2 4h2m-2 0h2m-2 2h2" stroke="#6c6c6c" stroke-width="2" stroke-opacity=".78" fill="none"/><path d="M547.9 74.5H680.5" stroke="#c878c8" stroke-width="1.15" fill="none"/><text x="677.5" y="73.9" font-size="2.3" text-anchor="middle" fill="#3a3a3a" textLength="4.8" lengthAdjust="spacingAndGlyphs" font-weight="bold">1500</text><path d="M547.9 8.4H680.5V124H547.9Z" stroke="#a2a2a2" stroke-width="1" fill="none"/><rect x="37" y="149" width="297.4" height="116.5" fill="#f9f8f6"/><path d="M79.5 149V265.5M121.5 149V265.5M164.5 149V265.5M206.5 149V265.5M249.5 149V265.5M291.5 149V265.5M37 246.5H334.4M37 226.5H334.4M37 207.5H334.4M37 187.5H334.4M37 168.5H334.4" stroke="#eeedeb" stroke-width="1" fill="none"/><text x="30.19" y="266.35" font-size="3.1" text-anchor="middle" fill="#1a1a1a" font-weight="bold">0</text><text x="30.19" y="246.93" font-size="3.1" text-anchor="middle" fill="#1a1a1a" font-weight="bold">2000</text><text x="30.19" y="227.52" font-size="3.1" text-anchor="middle" fill="#1a1a1a" font-weight="bold">4000</text><text x="30.19" y="208.1" font-size="3.1" text-anchor="middle" fill="#1a1a1a" font-weight="bold">6000</text><text x="30.19" y="188.68" font-size="3.1" text-anchor="middle" fill="#1a1a1a" font-weight="bold">8000</text><text x="30.19" y="169.27" font-size="3.1" text-anchor="middle" fill="#1a1a1a" font-weight="bold">10000</text><text x="30.19" y="149.85" font-size="3.1" text-anchor="middle" fill="#1a1a1a" font-weight="bold">12000</text><text x="37" y="271.15" font-size="3.1" text-anchor="middle" fill="#1a1a1a" font-weight="bold">0</text><text x="79.49" y="271.15" font-size="3.1" text-anchor="middle" fill="#1a1a1a" font-weight="bold">500</text><text x="121.97" y="271.15" font-size="3.1" text-anchor="middle" fill="#1a1a1a" font-weight="bold">1000</text><text x="164.46" y="271.15" font-size="3.1" text-anchor="middle" fill="#1a1a1a" font-weight="bold">1500</text><text x="206.94" y="271.15" font-size="3.1" text-anchor="middle" fill="#1a1a1a" font-weight="bold">2000</text><text x="249.43" y="271.15" font-size="3.1" text-anchor="middle" fill="#1a1a1a" font-weight="bold">2500</text><text x="291.91" y="271.15" font-size="3.1" text-anchor="middle" fill="#1a1a1a" font-weight="bold">3000</text><text x="334.4" y="271.15" font-size="3.1" text-anchor="middle" fill="#1a1a1a" font-weight="bold">3500</text><path d="M35.4 265.5h1.6M35.4 246.08h1.6M35.4 226.67h1.6M35.4 207.25h1.6M35.4 187.83h1.6M35.4 168.42h1.6M35.4 149h1.6M37 265.5v1.4M79.49 265.5v1.4M121.97 265.5v1.4M164.46 265.5v1.4M206.94 265.5v1.4M249.43 265.5v1.4M291.91 265.5v1.4M334.4 265.5v1.4" stroke="#9a9a9a" stroke-width=".7" fill="none"/><text x="178.7" y="146.3" font-size="3.4" text-anchor="middle" fill="#111" textLength="93.6" lengthAdjust="spacingAndGlyphs" font-weight="bold">Ch1+Ch2+: 2567 Ch1+Ch2-: 11914 Ch1-Ch2+: 408 Ch1-Ch2-: 2882</text><text x="185.7" y="275.5" font-size="3.1" text-anchor="middle" fill="#111" textLength="27.8" lengthAdjust="spacingAndGlyphs" font-weight="bold">Channel 2 Amplitude</text><text x="0" y="0" font-size="3.1" font-weight="bold" text-anchor="middle" fill="#111" transform="translate(24.4 207.25) rotate(-90)" textLength="28" lengthAdjust="spacingAndGlyphs">Channel 1 Amplitude</text><path transform="scale(.5)" filter="url(#bl)" d="M179 347h2m1-5h2m9-5h2m-1 7h2m-1 0h2m0 1h2m-1-10h2m-1 1h2m-1 14h2m-1-8h2m-2 3h2m-1-6h2m-2 2h2m-2 4h2m-1-6h2m-1-4h2m-2 6h2m-2 2h2m-1-5h2m-2 0h2m-1-8h2m-2 9h2m-2 2h2m-1 1h2m-2 0h2m-2 0h2m-2 5h2m-1-17h2m-2 7h2m-2 0h2m-2 6h2m-2 3h2m-1-10h2m-2 0h2m-2 5h2m-2 3h2m-2 1h2m-1-8h2m-2 1h2m-2 0h2m-2 3h2m-2 1h2m-2 1h2m-2 2h2m-1-13h2m-2 0h2m-2 2h2m-2 2h2m-2 2h2m-2 2h2m-2 2h2m-2 3h2m-1-12h2m-2 1h2m-2 4h2m-2 3h2m-2 0h2m-2 1h2m-2 2h2m-2 1h2m-1-4h2m-2 0h2m-2 3h2m-2 0h2m-2 4h2m-2 3h2m-1-17h2m-2 2h2m-2 3h2m-2 1h2m-2 1h2m-2 1h2m-2 7h2m-2 3h2m-1-16h2m-2 0h2m-2 4h2m-2 1h2m-2 0h2m-2 2h2m-2 1h2m-2 0h2m-2 3h2m-2 0h2m-2 1h2m-2 1h2m-1-17h2m-2 4h2m-2 2h2m-2 2h2m-2 2h2m-2 1h2m-2 2h2m-2 1h2m-2 2h2m-2 2h2m-2 0h2m-1-18h2m-2 3h2m-2 1h2m-2 2h2m-2 1h2m-2 1h2m-2 2h2m-2 0h2m-2 3h2m-2 3h2m-2 5h2m-1-16h2m-2 0h2m-2 1h2m-2 1h2m-2 5h2m-2 0h2m-2 2h2m-2 0h2m-2 6h2m-1-23h2m-2 4h2m-2 2h2m-2 2h2m-2 2h2m-2 1h2m-2 0h2m-2 0h2m-2 1h2m-2 1h2m-2 1h2m-2 0h2m-2 0h2m-2 1h2m-2 2h2m-2 0h2m-2 1h2m-2 5h2m-1-19h2m-2 5h2m-2 0h2m-2 1h2m-2 1h2m-2 0h2m-2 0h2m-2 0h2m-2 1h2m-2 1h2m-2 2h2m-2 0h2m-2 0h2m-2 0h2m-2 1h2m-2 0h2m-2 1h2m-2 2h2m-2 2h2m-1-17h2m-2 3h2m-2 1h2m-2 0h2m-2 0h2m-2 2h2m-2 1h2m-2 1h2m-2 3h2m-2 0h2m-2 0h2m-2 2h2m-2 0h2m-2 0h2m-2 1h2m-2 1h2m-2 1h2m-2 1h2m-1-16h2m-2 2h2m-2 2h2m-2 1h2m-2 0h2m-2 1h2m-2 1h2m-2 1h2m-2 0h2m-2 1h2m-2 0h2m-2 0h2m-2 2h2m-2 0h2m-2 2h2m-2 1h2m-2 2h2m-1-15h2m-2 2h2m-2 0h2m-2 0h2m-2 1h2m-2 1h2m-2 2h2m-2 2h2m-2 0h2m-2 0h2m-2 1h2m-2 0h2m-2 1h2m-2 1h2m-2 1h2m-2 1h2m-2 2h2m-2 1h2m-2 1h2m-1-15h2m-2 0h2m-2 1h2m-2 0h2m-2 1h2m-2 1h2m-2 1h2m-2 0h2m-2 1h2m-2 0h2m-2 1h2m-2 0h2m-2 0h2m-2 0h2m-2 1h2m-2 0h2m-2 0h2m-2 1h2m-2 0h2m-2 1h2m-2 9h2m-1-24h2m-2 1h2m-2 1h2m-2 2h2m-2 3h2m-2 0h2m-2 1h2m-2 1h2m-2 0h2m-2 0h2m-2 1h2m-2 2h2m-2 2h2m-2 0h2m-2 1h2m-2 1h2m-2 1h2m-2 0h2m-2 0h2m-1-14h2m-2 2h2m-2 0h2m-2 1h2m-2 2h2m-2 1h2m-2 0h2m-2 0h2m-2 0h2m-2 3h2m-2 0h2m-2 1h2m-2 0h2m-2 1h2m-2 1h2m-2 1h2m-2 2h2m-2 0h2m-2 0h2m-2 3h2m-1-20h2m-2 1h2m-2 0h2m-2 2h2m-2 3h2m-2 0h2m-2 0h2m-2 2h2m-2 1h2m-2 0h2m-2 0h2m-2 2h2m-2 0h2m-2 0h2m-2 0h2m-2 0h2m-2 1h2m-2 1h2m-2 1h2m-2 0h2m-2 1h2m-2 3h2m-2 1h2m-1-24h2m-2 5h2m-2 1h2m-2 0h2m-2 2h2m-2 1h2m-2 0h2m-2 1h2m-2 0h2m-2 1h2m-2 1h2m-2 1h2m-2 0h2m-2 0h2m-2 1h2m-2 0h2m-2 0h2m-2 0h2m-2 2h2m-2 1h2m-2 1h2m-2 1h2m-2 0h2m-2 0h2m-2 0h2m-2 0h2m-2 0h2m-2 1h2m-2 1h2m-2 1h2m-2 0h2m-2 1h2m-2 0h2m-2 1h2m-2 1h2m-2 0h2m-1-18h2m-2 1h2m-2 2h2m-2 0h2m-2 1h2m-2 2h2m-2 0h2m-2 0h2m-2 1h2m-2 0h2m-2 0h2m-2 1h2m-2 0h2m-2 0h2m-2 2h2m-2 0h2m-2 1h2m-2 0h2m-2 0h2m-2 1h2m-2 1h2m-2 1h2m-2 1h2m-2 2h2m-2 1h2m-2 1h2m-1-17h2m-2 0h2m-2 2h2m-2 0h2m-2 0h2m-2 1h2m-2 1h2m-2 1h2m-2 0h2m-2 0h2m-2 0h2m-2 1h2m-2 2h2m-2 0h2m-2 1h2m-2 1h2m-2 0h2m-2 1h2m-2 2h2m-2 2h2m-1-24h2m-2 3h2m-2 3h2m-2 0h2m-2 3h2m-2 0h2m-2 1h2m-2 1h2m-2 2h2m-2 0h2m-2 1h2m-2 1h2m-2 1h2m-2 0h2m-2 0h2m-2 1h2m-2 0h2m-2 1h2m-2 0h2m-2 0h2m-2 1h2m-2 0h2m-2 2h2m-2 1h2m-2 3h2m-1-20h2m-2 2h2m-2 0h2m-2 1h2m-2 1h2m-2 0h2m-2 0h2m-2 1h2m-2 0h2m-2 2h2m-2 0h2m-2 0h2m-2 1h2m-2 0h2m-2 0h2m-2 0h2m-2 1h2m-2 0h2m-2 0h2m-2 2h2m-2 0h2m-2 0h2m-2 0h2m-2 0h2m-2 1h2m-2 0h2m-2 1h2m-2 1h2m-2 0h2m-2 1h2m-2 1h2m-2 1h2m-2 2h2m-2 5h2m-1-26h2m-2 3h2m-2 1h2m-2 1h2m-2 0h2m-2 1h2m-2 0h2m-2 1h2m-2 0h2m-2 0h2m-2 1h2m-2 1h2m-2 1h2m-2 0h2m-2 0h2m-2 1h2m-2 0h2m-2 0h2m-2 2h2m-2 0h2m-2 0h2m-2 0h2m-2 1h2m-2 2h2m-2 0h2m-2 1h2m-2 1h2m-1-16h2m-2 2h2m-2 0h2m-2 3h2m-2 1h2m-2 0h2m-2 0h2m-2 1h2m-2 0h2m-2 0h2m-2 0h2m-2 1h2m-2 0h2m-2 0h2m-2 1h2m-2 0h2m-2 1h2m-2 0h2m-2 0h2m-2 1h2m-2 0h2m-2 1h2m-2 0h2m-2 0h2m-2 1h2m-2 0h2m-2 0h2m-2 1h2m-2 0h2m-2 1h2m-2 1h2m-2 0h2m-2 3h2m-1-23h2m-2 4h2m-2 0h2m-2 2h2m-2 1h2m-2 1h2m-2 1h2m-2 0h2m-2 1h2m-2 0h2m-2 0h2m-2 0h2m-2 0h2m-2 2h2m-2 0h2m-2 0h2m-2 0h2m-2 0h2m-2 0h2m-2 0h2m-2 1h2m-2 0h2m-2 0h2m-2 1h2m-2 0h2m-2 0h2m-2 1h2m-2 0h2m-2 0h2m-2 1h2m-2 0h2m-2 0h2m-2 0h2m-2 1h2m-2 0h2m-2 2h2m-2 1h2m-2 0h2m-2 1h2m-2 4h2m-1-21h2m-2 1h2m-2 0h2m-2 1h2m-2 1h2m-2 1h2m-2 0h2m-2 1h2m-2 1h2m-2 0h2m-2 1h2m-2 0h2m-2 2h2m-2 0h2m-2 0h2m-2 0h2m-2 1h2m-2 0h2m-2 0h2m-2 1h2m-2 1h2m-2 0h2m-2 0h2m-2 0h2m-2 0h2m-2 1h2m-2 0h2m-2 0h2m-2 1h2m-2 1h2m-2 1h2m-2 1h2m-2 0h2m-2 2h2m-1-29h2m-2 10h2m-2 0h2m-2 1h2m-2 0h2m-2 1h2m-2 1h2m-2 1h2m-2 0h2m-2 0h2m-2 1h2m-2 0h2m-2 0h2m-2 1h2m-2 0h2m-2 1h2m-2 0h2m-2 1h2m-2 0h2m-2 0h2m-2 0h2m-2 1h2m-2 0h2m-2 1h2m-2 1h2m-2 0h2m-2 0h2m-2 1h2m-2 0h2m-2 0h2m-2 1h2m-2 0h2m-2 1h2m-2 0h2m-2 1h2m-2 0h2m-2 0h2m-2 1h2m-2 9h2m-1-27h2m-2 2h2m-2 2h2m-2 1h2m-2 0h2m-2 0h2m-2 0h2m-2 1h2m-2 0h2m-2 1h2m-2 0h2m-2 0h2m-2 1h2m-2 0h2m-2 0h2m-2 1h2m-2 0h2m-2 0h2m-2 1h2m-2 1h2m-2 0h2m-2 1h2m-2 0h2m-2 0h2m-2 1h2m-2 0h2m-2 0h2m-2 0h2m-2 0h2m-2 1h2m-2 0h2m-2 1h2m-2 0h2m-2 0h2m-2 0h2m-2 1h2m-2 0h2m-2 0h2m-2 2h2m-2 0h2m-2 0h2m-2 1h2m-2 1h2m-2 0h2m-2 0h2m-2 1h2m-2 0h2m-1-22h2m-2 1h2m-2 2h2m-2 0h2m-2 1h2m-2 2h2m-2 1h2m-2 0h2m-2 1h2m-2 0h2m-2 1h2m-2 0h2m-2 0h2m-2 1h2m-2 0h2m-2 0h2m-2 1h2m-2 0h2m-2 0h2m-2 1h2m-2 1h2m-2 0h2m-2 0h2m-2 0h2m-2 0h2m-2 1h2m-2 0h2m-2 0h2m-2 2h2m-2 1h2m-2 0h2m-2 0h2m-2 0h2m-2 1h2m-2 0h2m-2 0h2m-1-17h2m-2 1h2m-2 2h2m-2 0h2m-2 0h2m-2 1h2m-2 4h2m-2 0h2m-2 1h2m-2 0h2m-2 0h2m-2 0h2m-2 1h2m-2 0h2m-2 0h2m-2 0h2m-2 0h2m-2 0h2m-2 1h2m-2 0h2m-2 0h2m-2 0h2m-2 0h2m-2 0h2m-2 0h2m-2 1h2m-2 0h2m-2 0h2m-2 0h2m-2 1h2m-2 0h2m-2 0h2m-2 0h2m-2 0h2m-2 0h2m-2 0h2m-2 0h2m-2 1h2m-2 0h2m-2 0h2m-2 0h2m-2 0h2m-2 1h2m-2 0h2m-2 1h2m-2 0h2m-2 1h2m-2 1h2m-2 2h2m-2 1h2m-2 1h2m-1-24h2m-2 4h2m-2 0h2m-2 2h2m-2 0h2m-2 1h2m-2 0h2m-2 2h2m-2 0h2m-2 1h2m-2 0h2m-2 1h2m-2 0h2m-2 0h2m-2 0h2m-2 1h2m-2 0h2m-2 0h2m-2 0h2m-2 1h2m-2 0h2m-2 0h2m-2 0h2m-2 0h2m-2 0h2m-2 1h2m-2 0h2m-2 0h2m-2 0h2m-2 1h2m-2 0h2m-2 0h2m-2 1h2m-2 0h2m-2 1h2m-2 0h2m-2 1h2m-2 0h2m-2 0h2m-2 0h2m-2 1h2m-2 0h2m-2 1h2m-2 1h2m-2 2h2m-2 0h2m-1-18h2m-2 1h2m-2 2h2m-2 1h2m-2 0h2m-2 0h2m-2 0h2m-2 1h2m-2 0h2m-2 0h2m-2 0h2m-2 0h2m-2 1h2m-2 1h2m-2 0h2m-2 0h2m-2 0h2m-2 0h2m-2 0h2m-2 1h2m-2 0h2m-2 0h2m-2 0h2m-2 1h2m-2 0h2m-2 0h2m-2 0h2m-2 0h2m-2 0h2m-2 1h2m-2 0h2m-2 0h2m-2 0h2m-2 1h2m-2 0h2m-2 0h2m-2 0h2m-2 1h2m-2 0h2m-2 0h2m-2 1h2m-2 0h2m-2 0h2m-2 2h2m-2 0h2m-2 0h2m-2 1h2m-2 0h2m-2 2h2m-2 1h2m-2 2h2m-1-25h2m-2 4h2m-2 0h2m-2 1h2m-2 1h2m-2 0h2m-2 1h2m-2 0h2m-2 1h2m-2 0h2m-2 0h2m-2 0h2m-2 1h2m-2 0h2m-2 0h2m-2 0h2m-2 1h2m-2 0h2m-2 0h2m-2 0h2m-2 0h2m-2 0h2m-2 1h2m-2 0h2m-2 0h2m-2 1h2m-2 0h2m-2 1h2m-2 0h2m-2 0h2m-2 0h2m-2 1h2m-2 0h2m-2 0h2m-2 1h2m-2 0h2m-2 0h2m-2 0h2m-2 1h2m-2 1h2m-2 0h2m-2 0h2m-2 0h2m-2 0h2m-2 0h2m-2 1h2m-2 0h2m-2 1h2m-2 0h2m-2 0h2m-2 1h2m-2 0h2m-2 3h2m-1-22h2m-2 3h2m-2 3h2m-2 0h2m-2 0h2m-2 2h2m-2 0h2m-2 1h2m-2 0h2m-2 1h2m-2 0h2m-2 0h2m-2 1h2m-2 0h2m-2 0h2m-2 0h2m-2 0h2m-2 0h2m-2 0h2m-2 0h2m-2 1h2m-2 0h2m-2 0h2m-2 1h2m-2 0h2m-2 0h2m-2 0h2m-2 0h2m-2 0h2m-2 1h2m-2 0h2m-2 0h2m-2 0h2m-2 1h2m-2 0h2m-2 1h2m-2 0h2m-2 1h2m-2 3h2m-2 1h2m-2 2h2m-2 0h2m-1-25h2m-2 0h2m-2 4h2m-2 1h2m-2 1h2m-2 0h2m-2 1h2m-2 0h2m-2 2h2m-2 0h2m-2 0h2m-2 0h2m-2 0h2m-2 1h2m-2 1h2m-2 0h2m-2 0h2m-2 0h2m-2 0h2m-2 0h2m-2 0h2m-2 0h2m-2 0h2m-2 0h2m-2 1h2m-2 0h2m-2 0h2m-2 0h2m-2 0h2m-2 1h2m-2 0h2m-2 0h2m-2 1h2m-2 0h2m-2 0h2m-2 1h2m-2 0h2m-2 0h2m-2 0h2m-2 0h2m-2 0h2m-2 0h2m-2 1h2m-2 0h2m-2 1h2m-2 0h2m-2 0h2m-2 0h2m-2 0h2m-2 1h2m-2 0h2m-2 1h2m-2 1h2m-2 0h2m-2 3h2m-2 4h2m-1-25h2m-2 1h2m-2 1h2m-2 1h2m-2 2h2m-2 2h2m-2 0h2m-2 0h2m-2 0h2m-2 1h2m-2 0h2m-2 0h2m-2 0h2m-2 1h2m-2 0h2m-2 1h2m-2 0h2m-2 0h2m-2 0h2m-2 0h2m-2 1h2m-2 0h2m-2 0h2m-2 0h2m-2 1h2m-2 0h2m-2 0h2m-2 0h2m-2 0h2m-2 0h2m-2 0h2m-2 1h2m-2 0h2m-2 0h2m-2 0h2m-2 0h2m-2 0h2m-2 0h2m-2 0h2m-2 1h2m-2 0h2m-2 0h2m-2 0h2m-2 1h2m-2 0h2m-2 0h2m-2 0h2m-2 1h2m-2 0h2m-2 0h2m-2 0h2m-2 1h2m-2 0h2m-2 0h2m-2 0h2m-2 1h2m-2 0h2m-2 1h2m-2 0h2m-2 1h2m-2 1h2m-2 0h2m-2 1h2m-1-23h2m-2 0h2m-2 4h2m-2 1h2m-2 1h2m-2 0h2m-2 0h2m-2 1h2m-2 1h2m-2 0h2m-2 0h2m-2 0h2m-2 1h2m-2 0h2m-2 0h2m-2 1h2m-2 0h2m-2 0h2m-2 0h2m-2 0h2m-2 0h2m-2 1h2m-2 0h2m-2 0h2m-2 0h2m-2 0h2m-2 1h2m-2 0h2m-2 1h2m-2 0h2m-2 0h2m-2 0h2m-2 0h2m-2 0h2m-2 0h2m-2 1h2m-2 1h2m-2 1h2m-2 0h2m-2 0h2m-2 0h2m-2 1h2m-2 0h2m-2 1h2m-2 0h2m-2 0h2m-2 1h2m-2 0h2m-2 1h2m-2 0h2m-2 1h2m-2 1h2m-2 0h2m-2 3h2m-2 0h2m-2 2h2m-1-24h2m-2 0h2m-2 2h2m-2 1h2m-2 0h2m-2 1h2m-2 0h2m-2 0h2m-2 1h2m-2 1h2m-2 0h2m-2 0h2m-2 0h2m-2 0h2m-2 0h2m-2 1h2m-2 1h2m-2 0h2m-2 0h2m-2 0h2m-2 0h2m-2 0h2m-2 0h2m-2 0h2m-2 1h2m-2 0h2m-2 0h2m-2 0h2m-2 0h2m-2 0h2m-2 0h2m-2 1h2m-2 0h2m-2 0h2m-2 0h2m-2 0h2m-2 0h2m-2 0h2m-2 1h2m-2 0h2m-2 0h2m-2 0h2m-2 1h2m-2 0h2m-2 0h2m-2 0h2m-2 0h2m-2 1h2m-2 0h2m-2 1h2m-2 0h2m-2 0h2m-2 0h2m-2 0h2m-2 0h2m-2 0h2m-2 2h2m-2 1h2m-2 0h2m-2 1h2m-1-20h2m-2 0h2m-2 1h2m-2 1h2m-2 0h2m-2 1h2m-2 1h2m-2 1h2m-2 1h2m-2 1h2m-2 0h2m-2 0h2m-2 1h2m-2 0h2m-2 1h2m-2 0h2m-2 0h2m-2 0h2m-2 0h2m-2 0h2m-2 1h2m-2 0h2m-2 0h2m-2 0h2m-2 1h2m-2 0h2m-2 1h2m-2 0h2m-2 0h2m-2 1h2m-2 0h2m-2 0h2m-2 0h2m-2 1h2m-2 0h2m-2 1h2m-2 0h2m-2 0h2m-2 0h2m-2 0h2m-2 0h2m-2 0h2m-2 1h2m-2 0h2m-2 0h2m-2 0h2m-2 0h2m-2 0h2m-2 1h2m-2 1h2m-2 0h2m-2 1h2m-2 0h2m-2 1h2m-2 0h2m-2 0h2m-2 0h2m-2 6h2m-1-31h2m-2 7h2m-2 0h2m-2 1h2m-2 0h2m-2 2h2m-2 0h2m-2 1h2m-2 0h2m-2 0h2m-2 0h2m-2 0h2m-2 1h2m-2 0h2m-2 0h2m-2 0h2m-2 1h2m-2 1h2m-2 0h2m-2 0h2m-2 1h2m-2 0h2m-2 0h2m-2 0h2m-2 1h2m-2 0h2m-2 1h2m-2 0h2m-2 0h2m-2 0h2m-2 0h2m-2 0h2m-2 0h2m-2 1h2m-2 0h2m-2 0h2m-2 0h2m-2 0h2m-2 0h2m-2 0h2m-2 0h2m-2 1h2m-2 0h2m-2 0h2m-2 0h2m-2 1h2m-2 0h2m-2 1h2m-2 0h2m-2 0h2m-2 1h2m-2 0h2m-2 0h2m-2 0h2m-2 1h2m-2 1h2m-2 1h2m-2 0h2m-2 1h2m-2 0h2m-2 1h2m-2 0h2m-1-21h2m-2 0h2m-2 1h2m-2 0h2m-2 1h2m-2 2h2m-2 0h2m-2 1h2m-2 0h2m-2 0h2m-2 1h2m-2 0h2m-2 0h2m-2 0h2m-2 1h2m-2 1h2m-2 0h2m-2 0h2m-2 1h2m-2 0h2m-2 0h2m-2 1h2m-2 0h2m-2 0h2m-2 0h2m-2 0h2m-2 0h2m-2 0h2m-2 1h2m-2 0h2m-2 0h2m-2 0h2m-2 1h2m-2 0h2m-2 0h2m-2 1h2m-2 0h2m-2 0h2m-2 0h2m-2 1h2m-2 0h2m-2 1h2m-2 0h2m-2 0h2m-2 2h2m-2 1h2m-2 1h2m-2 0h2m-2 2h2m-2 1h2m-1-24h2m-2 2h2m-2 2h2m-2 0h2m-2 1h2m-2 1h2m-2 0h2m-2 1h2m-2 0h2m-2 0h2m-2 1h2m-2 0h2m-2 0h2m-2 0h2m-2 0h2m-2 0h2m-2 0h2m-2 0h2m-2 1h2m-2 0h2m-2 0h2m-2 0h2m-2 1h2m-2 0h2m-2 0h2m-2 0h2m-2 1h2m-2 1h2m-2 0h2m-2 1h2m-2 0h2m-2 0h2m-2 0h2m-2 1h2m-2 1h2m-2 0h2m-2 0h2m-2 1h2m-2 0h2m-2 0h2m-2 0h2m-2 1h2m-2 0h2m-2 1h2m-2 0h2m-2 0h2m-2 1h2m-2 1h2m-2 0h2m-2 0h2m-2 0h2m-1-19h2m-2 2h2m-2 1h2m-2 1h2m-2 0h2m-2 1h2m-2 1h2m-2 1h2m-2 1h2m-2 1h2m-2 0h2m-2 0h2m-2 1h2m-2 1h2m-2 0h2m-2 0h2m-2 1h2m-2 0h2m-2 1h2m-2 1h2m-2 0h2m-2 0h2m-2 1h2m-2 0h2m-2 1h2m-2 0h2m-2 1h2m-2 0h2m-2 0h2m-2 1h2m-2 0h2m-2 0h2m-2 1h2m-2 6h2m-2 0h2m-1-24h2m-2 0h2m-2 2h2m-2 0h2m-2 1h2m-2 0h2m-2 0h2m-2 1h2m-2 0h2m-2 1h2m-2 0h2m-2 2h2m-2 0h2m-2 0h2m-2 0h2m-2 0h2m-2 0h2m-2 0h2m-2 1h2m-2 0h2m-2 1h2m-2 0h2m-2 1h2m-2 0h2m-2 0h2m-2 0h2m-2 0h2m-2 1h2m-2 0h2m-2 0h2m-2 0h2m-2 0h2m-2 1h2m-2 0h2m-2 0h2m-2 0h2m-2 1h2m-2 0h2m-2 0h2m-2 1h2m-2 1h2m-2 0h2m-2 0h2m-2 0h2m-2 0h2m-2 0h2m-2 0h2m-2 1h2m-2 2h2m-2 2h2m-2 6h2m-1-32h2m-2 6h2m-2 1h2m-2 1h2m-2 0h2m-2 1h2m-2 1h2m-2 0h2m-2 1h2m-2 0h2m-2 0h2m-2 0h2m-2 0h2m-2 1h2m-2 1h2m-2 0h2m-2 0h2m-2 0h2m-2 1h2m-2 0h2m-2 0h2m-2 0h2m-2 0h2m-2 0h2m-2 0h2m-2 1h2m-2 0h2m-2 0h2m-2 1h2m-2 0h2m-2 0h2m-2 2h2m-2 0h2m-2 0h2m-2 0h2m-2 0h2m-2 1h2m-2 0h2m-2 0h2m-2 0h2m-2 0h2m-2 1h2m-2 0h2m-2 1h2m-2 0h2m-2 0h2m-2 0h2m-2 1h2m-2 3h2m-2 0h2m-2 3h2m-1-22h2m-2 3h2m-2 1h2m-2 0h2m-2 0h2m-2 1h2m-2 1h2m-2 0h2m-2 1h2m-2 0h2m-2 0h2m-2 1h2m-2 0h2m-2 0h2m-2 0h2m-2 0h2m-2 1h2m-2 0h2m-2 0h2m-2 0h2m-2 1h2m-2 0h2m-2 1h2m-2 0h2m-2 0h2m-2 0h2m-2 0h2m-2 0h2m-2 1h2m-2 0h2m-2 1h2m-2 0h2m-2 1h2m-2 0h2m-2 1h2m-2 0h2m-2 0h2m-2 0h2m-2 0h2m-2 1h2m-2 0h2m-2 1h2m-2 0h2m-2 0h2m-2 1h2m-2 0h2m-2 0h2m-2 1h2m-2 1h2m-2 1h2m-2 2h2m-2 0h2m-1-24h2m-2 2h2m-2 2h2m-2 1h2m-2 1h2m-2 0h2m-2 1h2m-2 1h2m-2 0h2m-2 1h2m-2 0h2m-2 0h2m-2 1h2m-2 0h2m-2 1h2m-2 0h2m-2 0h2m-2 0h2m-2 0h2m-2 1h2m-2 0h2m-2 1h2m-2 0h2m-2 0h2m-2 1h2m-2 0h2m-2 0h2m-2 0h2m-2 0h2m-2 0h2m-2 1h2m-2 1h2m-2 1h2m-2 0h2m-2 1h2m-2 0h2m-2 0h2m-2 2h2m-2 0h2m-2 1h2m-2 0h2m-2 1h2m-2 2h2m-2 0h2m-1-24h2m-2 3h2m-2 1h2m-2 0h2m-2 0h2m-2 0h2m-2 1h2m-2 1h2m-2 0h2m-2 0h2m-2 0h2m-2 1h2m-2 1h2m-2 0h2m-2 0h2m-2 0h2m-2 0h2m-2 0h2m-2 0h2m-2 1h2m-2 0h2m-2 0h2m-2 1h2m-2 0h2m-2 0h2m-2 0h2m-2 1h2m-2 1h2m-2 0h2m-2 0h2m-2 0h2m-2 1h2m-2 0h2m-2 1h2m-2 0h2m-2 0h2m-2 0h2m-2 0h2m-2 0h2m-2 0h2m-2 1h2m-2 0h2m-2 0h2m-2 1h2m-2 0h2m-2 1h2m-2 0h2m-2 0h2m-2 1h2m-2 0h2m-2 1h2m-2 1h2m-2 0h2m-2 2h2m-2 3h2m-1-21h2m-2 1h2m-2 1h2m-2 0h2m-2 0h2m-2 0h2m-2 1h2m-2 0h2m-2 0h2m-2 1h2m-2 1h2m-2 0h2m-2 0h2m-2 0h2m-2 0h2m-2 1h2m-2 0h2m-2 0h2m-2 0h2m-2 1h2m-2 0h2m-2 0h2m-2 0h2m-2 0h2m-2 1h2m-2 2h2m-2 0h2m-2 0h2m-2 0h2m-2 1h2m-2 0h2m-2 1h2m-2 2h2m-2 1h2m-2 0h2m-2 0h2m-1-23h2m-2 6h2m-2 0h2m-2 3h2m-2 0h2m-2 1h2m-2 0h2m-2 0h2m-2 0h2m-2 1h2m-2 0h2m-2 1h2m-2 0h2m-2 0h2m-2 0h2m-2 1h2m-2 0h2m-2 0h2m-2 1h2m-2 0h2m-2 1h2m-2 0h2m-2 1h2m-2 0h2m-2 0h2m-2 0h2m-2 0h2m-2 1h2m-2 0h2m-2 0h2m-2 0h2m-2 0h2m-2 0h2m-2 1h2m-2 0h2m-2 0h2m-2 0h2m-2 0h2m-2 1h2m-2 1h2m-2 0h2m-2 0h2m-2 1h2m-2 1h2m-2 1h2m-2 1h2m-2 1h2m-2 0h2m-2 0h2m-2 3h2m-1-24h2m-2 1h2m-2 1h2m-2 1h2m-2 0h2m-2 3h2m-2 1h2m-2 0h2m-2 0h2m-2 1h2m-2 0h2m-2 0h2m-2 1h2m-2 0h2m-2 0h2m-2 0h2m-2 1h2m-2 0h2m-2 0h2m-2 1h2m-2 0h2m-2 0h2m-2 1h2m-2 0h2m-2 0h2m-2 1h2m-2 0h2m-2 0h2m-2 0h2m-2 0h2m-2 1h2m-2 0h2m-2 0h2m-2 1h2m-2 0h2m-2 1h2m-2 0h2m-2 0h2m-2 0h2m-2 1h2m-2 0h2m-2 1h2m-2 1h2m-2 0h2m-2 4h2m-1-21h2m-2 1h2m-2 2h2m-2 1h2m-2 1h2m-2 0h2m-2 0h2m-2 1h2m-2 0h2m-2 0h2m-2 1h2m-2 0h2m-2 0h2m-2 0h2m-2 0h2m-2 1h2m-2 0h2m-2 0h2m-2 0h2m-2 1h2m-2 0h2m-2 1h2m-2 0h2m-2 0h2m-2 0h2m-2 0h2m-2 1h2m-2 0h2m-2 0h2m-2 0h2m-2 1h2m-2 1h2m-2 0h2m-2 0h2m-2 1h2m-2 0h2m-2 1h2m-2 0h2m-2 0h2m-2 3h2m-2 0h2m-2 2h2m-1-20h2m-2 0h2m-2 1h2m-2 0h2m-2 1h2m-2 0h2m-2 1h2m-2 0h2m-2 1h2m-2 0h2m-2 1h2m-2 0h2m-2 1h2m-2 0h2m-2 0h2m-2 0h2m-2 1h2m-2 0h2m-2 0h2m-2 0h2m-2 0h2m-2 1h2m-2 0h2m-2 0h2m-2 0h2m-2 1h2m-2 0h2m-2 0h2m-2 0h2m-2 1h2m-2 0h2m-2 0h2m-2 1h2m-2 0h2m-2 0h2m-2 0h2m-2 0h2m-2 1h2m-2 0h2m-2 0h2m-2 2h2m-2 0h2m-2 1h2m-2 1h2m-2 0h2m-2 0h2m-2 2h2m-2 2h2m-2 3h2m-1-24h2m-2 4h2m-2 0h2m-2 0h2m-2 0h2m-2 1h2m-2 0h2m-2 1h2m-2 0h2m-2 1h2m-2 0h2m-2 0h2m-2 1h2m-2 0h2m-2 1h2m-2 0h2m-2 0h2m-2 0h2m-2 1h2m-2 0h2m-2 1h2m-2 0h2m-2 0h2m-2 1h2m-2 0h2m-2 0h2m-2 0h2m-2 0h2m-2 1h2m-2 0h2m-2 0h2m-2 0h2m-2 0h2m-2 1h2m-2 0h2m-2 1h2m-2 1h2m-2 1h2m-2 1h2m-2 0h2m-2 1h2m-2 4h2m-1-21h2m-2 3h2m-2 1h2m-2 1h2m-2 0h2m-2 0h2m-2 0h2m-2 1h2m-2 1h2m-2 1h2m-2 0h2m-2 0h2m-2 1h2m-2 0h2m-2 0h2m-2 0h2m-2 0h2m-2 1h2m-2 1h2m-2 1h2m-2 0h2m-2 1h2m-2 0h2m-2 1h2m-2 0h2m-2 0h2m-2 0h2m-2 1h2m-2 0h2m-2 1h2m-2 1h2m-2 0h2m-2 2h2m-1-23h2m-2 3h2m-2 0h2m-2 0h2m-2 4h2m-2 0h2m-2 0h2m-2 1h2m-2 0h2m-2 0h2m-2 0h2m-2 2h2m-2 1h2m-2 1h2m-2 0h2m-2 0h2m-2 1h2m-2 0h2m-2 0h2m-2 0h2m-2 1h2m-2 0h2m-2 1h2m-2 0h2m-2 0h2m-2 1h2m-2 1h2m-2 0h2m-2 0h2m-2 0h2m-2 1h2m-1-16h2m-2 1h2m-2 2h2m-2 0h2m-2 0h2m-2 1h2m-2 0h2m-2 1h2m-2 1h2m-2 1h2m-2 0h2m-2 0h2m-2 1h2m-2 0h2m-2 0h2m-2 0h2m-2 0h2m-2 0h2m-2 1h2m-2 0h2m-2 0h2m-2 0h2m-2 1h2m-2 1h2m-2 0h2m-2 0h2m-2 2h2m-2 0h2m-2 1h2m-2 0h2m-2 1h2m-2 2h2m-2 1h2m-2 1h2m-2 1h2m-1-23h2m-2 2h2m-2 3h2m-2 0h2m-2 1h2m-2 0h2m-2 0h2m-2 1h2m-2 0h2m-2 2h2m-2 1h2m-2 1h2m-2 0h2m-2 0h2m-2 0h2m-2 1h2m-2 0h2m-2 1h2m-2 0h2m-2 0h2m-2 0h2m-2 0h2m-2 0h2m-2 1h2m-2 0h2m-2 0h2m-2 1h2m-2 0h2m-2 0h2m-2 0h2m-2 1h2m-2 1h2m-2 2h2m-2 0h2m-2 2h2m-1-17h2m-2 1h2m-2 2h2m-2 0h2m-2 0h2m-2 1h2m-2 0h2m-2 0h2m-2 0h2m-2 0h2m-2 0h2m-2 1h2m-2 0h2m-2 1h2m-2 0h2m-2 1h2m-2 0h2m-2 0h2m-2 0h2m-2 0h2m-2 1h2m-2 0h2m-2 1h2m-2 0h2m-2 0h2m-2 0h2m-2 1h2m-2 0h2m-2 0h2m-2 1h2m-2 0h2m-2 0h2m-2 1h2m-2 0h2m-2 0h2m-2 1h2m-2 0h2m-2 1h2m-2 1h2m-2 0h2m-2 0h2m-2 1h2m-2 0h2m-2 1h2m-2 2h2m-1-19h2m-2 2h2m-2 3h2m-2 1h2m-2 0h2m-2 1h2m-2 0h2m-2 1h2m-2 2h2m-2 1h2m-2 0h2m-2 2h2m-2 0h2m-2 0h2m-2 0h2m-2 1h2m-2 0h2m-2 1h2m-2 1h2m-2 1h2m-2 2h2m-1-21h2m-2 2h2m-2 1h2m-2 1h2m-2 1h2m-2 1h2m-2 1h2m-2 0h2m-2 0h2m-2 1h2m-2 0h2m-2 1h2m-2 1h2m-2 0h2m-2 1h2m-2 0h2m-2 0h2m-2 1h2m-2 0h2m-2 1h2m-2 5h2m-2 0h2m-2 0h2m-2 0h2m-2 0h2m-2 0h2m-2 1h2m-2 1h2m-1-20h2m-2 4h2m-2 1h2m-2 0h2m-2 0h2m-2 2h2m-2 0h2m-2 0h2m-2 0h2m-2 4h2m-2 1h2m-2 0h2m-2 1h2m-2 1h2m-2 1h2m-2 0h2m-2 1h2m-2 0h2m-2 1h2m-2 0h2m-2 0h2m-2 2h2m-1-20h2m-2 6h2m-2 0h2m-2 1h2m-2 0h2m-2 0h2m-2 0h2m-2 2h2m-2 1h2m-2 0h2m-2 0h2m-2 1h2m-2 0h2m-2 1h2m-2 1h2m-2 0h2m-2 0h2m-2 1h2m-2 0h2m-2 0h2m-2 1h2m-2 0h2m-2 0h2m-2 1h2m-2 1h2m-2 4h2m-2 1h2m-2 1h2m-1-20h2m-2 1h2m-2 1h2m-2 0h2m-2 2h2m-2 2h2m-2 0h2m-2 0h2m-2 1h2m-2 0h2m-2 2h2m-2 0h2m-2 0h2m-2 2h2m-2 0h2m-2 0h2m-2 1h2m-2 0h2m-2 1h2m-2 0h2m-2 4h2m-1-21h2m-2 7h2m-2 0h2m-2 0h2m-2 0h2m-2 1h2m-2 0h2m-2 1h2m-2 1h2m-2 0h2m-2 2h2m-2 2h2m-2 0h2m-2 1h2m-2 1h2m-2 0h2m-2 1h2m-2 1h2m-2 0h2m-2 1h2m-2 0h2m-2 1h2m-2 0h2m-2 1h2m-2 0h2m-1-18h2m-2 2h2m-2 0h2m-2 1h2m-2 2h2m-2 0h2m-2 0h2m-2 1h2m-2 1h2m-2 1h2m-2 2h2m-2 1h2m-2 1h2m-2 1h2m-2 0h2m-2 1h2m-2 0h2m-2 0h2m-2 1h2m-2 0h2m-2 1h2m-2 0h2m-2 0h2m-2 0h2m-2 1h2m-2 5h2m-1-21h2m-2 3h2m-2 1h2m-2 1h2m-2 1h2m-2 0h2m-2 0h2m-2 2h2m-2 0h2m-2 1h2m-2 1h2m-2 1h2m-2 0h2m-2 0h2m-2 1h2m-2 0h2m-2 1h2m-2 0h2m-2 1h2m-2 0h2m-2 2h2m-2 3h2m-2 1h2m-1-20h2m-2 1h2m-2 1h2m-2 1h2m-2 3h2m-2 0h2m-2 1h2m-2 0h2m-2 0h2m-2 1h2m-2 0h2m-2 0h2m-2 1h2m-2 1h2m-2 1h2m-2 0h2m-2 1h2m-2 2h2m-2 1h2m-2 3h2m-1-19h2m-2 4h2m-2 1h2m-2 2h2m-2 2h2m-2 0h2m-2 1h2m-2 2h2m-2 0h2m-2 0h2m-2 0h2m-2 1h2m-2 1h2m-2 1h2m-2 1h2m-2 0h2m-2 4h2m-2 1h2m-1-21h2m-2 3h2m-2 0h2m-2 2h2m-2 2h2m-2 2h2m-2 0h2m-2 2h2m-2 3h2m-2 0h2m-2 0h2m-2 1h2m-2 1h2m-2 5h2m-1-25h2m-2 10h2m-2 0h2m-2 3h2m-2 2h2m-2 1h2m-2 0h2m-2 1h2m-2 0h2m-2 0h2m-2 1h2m-2 1h2m-2 0h2m-2 0h2m-2 0h2m-2 0h2m-2 1h2m-1-14h2m-2 1h2m-2 1h2m-2 2h2m-2 0h2m-2 1h2m-2 0h2m-2 1h2m-2 0h2m-2 0h2m-2 3h2m-2 1h2m-2 1h2m-2 0h2m-2 0h2m-2 1h2m-2 0h2m-2 2h2m-2 2h2m-2 1h2m-1-21h2m-2 6h2m-2 1h2m-2 1h2m-2 0h2m-2 0h2m-2 1h2m-2 2h2m-2 1h2m-2 2h2m-2 0h2m-2 0h2m-2 3h2m-2 2h2m-1-11h2m-2 2h2m-2 0h2m-2 0h2m-2 1h2m-2 3h2m-2 1h2m-2 3h2m-1-13h2m-2 2h2m-2 0h2m-2 1h2m-2 0h2m-2 2h2m-2 0h2m-2 0h2m-2 1h2m-2 1h2m-2 2h2m-2 1h2m-2 0h2m-2 1h2m-2 2h2m-2 0h2m-2 3h2m-1-19h2m-2 4h2m-2 2h2m-2 2h2m-2 3h2m-2 2h2m-2 0h2m-2 1h2m-2 0h2m-2 3h2m-2 1h2m-1-15h2m-2 3h2m-2 2h2m-2 1h2m-2 3h2m-2 2h2m-2 0h2m-2 0h2m-2 1h2m-2 0h2m-2 2h2m-2 1h2m-2 2h2m-1-18h2m-2 3h2m-2 2h2m-2 1h2m-2 1h2m-2 0h2m-2 1h2m-2 0h2m-2 1h2m-2 1h2m-2 0h2m-2 2h2m-2 1h2m-2 0h2m-2 3h2m-2 3h2m-1-21h2m-2 10h2m-2 0h2m-2 0h2m-2 1h2m-2 2h2m-2 0h2m-2 1h2m-2 0h2m-2 1h2m-2 3h2m-2 1h2m-1-15h2m-2 3h2m-2 1h2m-2 0h2m-2 1h2m-2 0h2m-2 0h2m-2 1h2m-2 0h2m-2 1h2m-2 0h2m-2 0h2m-2 1h2m-2 1h2m-2 1h2m-1-11h2m-2 1h2m-2 5h2m-2 1h2m-2 1h2m-2 1h2m-2 2h2m-2 7h2m-1-17h2m-2 1h2m-2 2h2m-2 6h2m-2 0h2m-2 6h2m-1-12h2m-2 2h2m-2 1h2m-2 0h2m-2 0h2m-2 2h2m-2 0h2m-2 1h2m-2 0h2m-2 1h2m-1-10h2m-2 2h2m-2 3h2m-2 4h2m-2 1h2m-2 2h2m-2 4h2m-1-18h2m-2 10h2m-2 1h2m-2 0h2m-2 0h2m-2 2h2m-1-6h2m-2 1h2m-2 2h2m-2 1h2m-1-12h2m-2 4h2m-2 2h2m-2 2h2m-2 6h2m-2 2h2m-2 0h2m-1-12h2m-2 1h2m-1-1h2m-2 1h2m-2 1h2m-2 0h2m-2 0h2m-1-3h2m-2 6h2m-2 4h2m-2 1h2m-1-12h2m-2 2h2m-2 3h2m-2 3h2m-2 6h2m-1-18h2m-2 5h2m-1 8h2m-2 0h2m-2 3h2m-1-7h2m-2 5h2m-2 6h2m-1-12h2m-2 0h2m-2 5h2m-2 1h2m-2 4h2m-2 7h2m-1-17h2m-2 3h2m-2 3h2m-1-7h2m-1 15h2m-2 3h2m-1-13h2m0-3h2m-1-5h2m-2 1h2m0-1h2m-2 4h2m-2 5h2m2 1h2m14-4h2" stroke="#2e62b5" stroke-width="2" stroke-opacity=".7" fill="none"/><path transform="scale(.5)" filter="url(#bl)" d="M233 373h2m8-2h2m0-10h2m0 6h2m2-9h2m6-1h2m-2 11h2m5-1h2m5-11h2m4 5h2m4 0h2m-1 14h2m0-17h2m8 18h2m-1-9h2m-2 7h2m4-1h2m0-2h2" stroke="#2e62b5" stroke-width="2" fill="none"/><path transform="scale(.5)" filter="url(#bl)" d="M382 338h2m-2 7h2m-1-1h2m-2 2h2m0-2h2m-2 1h2m-1-6h2m-2 5h2m-1-1h2m0-1h2m-2 1h2m-1-2h2m0 1h2m-2 10h2m-1-15h2m-2 2h2m-2 7h2m-1-1h2m-1 3h2m-1-11h2m-1 3h2m-2 8h2m-1-7h2m-1-4h2m-2 5h2m-2 2h2m-1 5h2m-1-7h2m-2 0h2m-2 0h2m-2 3h2m-1-4h2m-2 1h2m-2 0h2m-2 1h2m-2 1h2m-2 0h2m-2 1h2m-1-6h2m-2 3h2m-2 1h2m-2 2h2m-1-3h2m-2 1h2m-2 1h2m-2 5h2m-1-11h2m-2 3h2m-2 1h2m-2 2h2m-2 1h2m-2 0h2m-1-6h2m-1 0h2m-2 0h2m-2 2h2m-2 2h2m-2 1h2m-2 0h2m-2 2h2m-1-11h2m-2 3h2m-2 3h2m-2 0h2m-2 2h2m-2 2h2m-2 1h2m-2 2h2m-2 0h2m-1-11h2m-2 1h2m-2 1h2m-2 0h2m-2 0h2m-2 1h2m-2 0h2m-2 3h2m-2 1h2m-2 2h2m-1-8h2m-2 2h2m-2 1h2m-2 0h2m-2 3h2m-2 3h2m-1-12h2m-2 1h2m-2 6h2m-2 0h2m-2 2h2m-2 0h2m-2 0h2m-2 1h2m-1-7h2m-2 0h2m-2 2h2m-2 1h2m-2 1h2m-2 1h2m-2 4h2m-2 0h2m-2 0h2m-1-7h2m-2 0h2m-2 1h2m-2 1h2m-2 1h2m-2 0h2m-2 7h2m-1-11h2m-2 1h2m-2 0h2m-2 1h2m-2 2h2m-2 0h2m-2 2h2m-2 2h2m-2 1h2m-2 1h2m-1-15h2m-2 3h2m-2 2h2m-2 1h2m-2 2h2m-2 0h2m-2 1h2m-2 0h2m-2 1h2m-2 0h2m-2 1h2m-2 0h2m-2 2h2m-2 1h2m-1-11h2m-2 0h2m-2 1h2m-2 0h2m-2 1h2m-2 1h2m-2 1h2m-2 1h2m-2 1h2m-2 1h2m-2 0h2m-2 2h2m-2 0h2m-2 1h2m-2 1h2m-2 0h2m-1-12h2m-2 1h2m-2 1h2m-2 1h2m-2 1h2m-2 0h2m-2 1h2m-2 1h2m-2 1h2m-2 1h2m-2 1h2m-2 0h2m-1-5h2m-2 1h2m-2 1h2m-2 1h2m-2 0h2m-2 0h2m-2 1h2m-2 1h2m-2 0h2m-2 1h2m-2 0h2m-2 1h2m-2 0h2m-1-9h2m-2 2h2m-2 0h2m-2 2h2m-2 1h2m-2 0h2m-2 0h2m-2 1h2m-2 1h2m-2 0h2m-2 0h2m-2 1h2m-2 0h2m-2 1h2m-2 5h2m-1-16h2m-2 2h2m-2 0h2m-2 0h2m-2 1h2m-2 0h2m-2 5h2m-2 2h2m-2 0h2m-2 1h2m-1-12h2m-2 1h2m-2 1h2m-2 0h2m-2 1h2m-2 0h2m-2 0h2m-2 1h2m-2 1h2m-2 1h2m-2 0h2m-2 0h2m-2 0h2m-2 1h2m-2 0h2m-2 1h2m-2 0h2m-2 1h2m-2 1h2m-2 0h2m-2 0h2m-2 1h2m-1-13h2m-2 3h2m-2 2h2m-2 1h2m-2 2h2m-2 1h2m-2 0h2m-2 1h2m-2 1h2m-2 0h2m-2 0h2m-2 1h2m-2 1h2m-2 0h2m-2 1h2m-2 0h2m-2 0h2m-2 2h2m-2 1h2m-2 2h2m-1-15h2m-2 0h2m-2 1h2m-2 0h2m-2 1h2m-2 2h2m-2 1h2m-2 0h2m-2 0h2m-2 1h2m-2 0h2m-2 1h2m-2 0h2m-2 1h2m-2 1h2m-2 0h2m-2 0h2m-2 0h2m-2 0h2m-2 0h2m-2 0h2m-1-8h2m-2 0h2m-2 1h2m-2 0h2m-2 0h2m-2 1h2m-2 1h2m-2 0h2m-2 1h2m-2 0h2m-2 1h2m-2 0h2m-2 2h2m-2 0h2m-2 0h2m-2 0h2m-2 0h2m-2 3h2m-2 0h2m-2 1h2m-2 2h2m-2 3h2m-1-22h2m-2 6h2m-2 0h2m-2 1h2m-2 0h2m-2 0h2m-2 0h2m-2 2h2m-2 0h2m-2 1h2m-2 1h2m-2 0h2m-2 1h2m-2 1h2m-2 1h2m-2 0h2m-2 0h2m-2 1h2m-2 1h2m-2 0h2m-2 1h2m-1-14h2m-2 3h2m-2 1h2m-2 1h2m-2 1h2m-2 0h2m-2 1h2m-2 0h2m-2 0h2m-2 0h2m-2 1h2m-2 0h2m-2 0h2m-2 0h2m-2 0h2m-2 1h2m-2 0h2m-2 2h2m-2 0h2m-2 1h2m-2 0h2m-2 1h2m-2 0h2m-1-12h2m-2 1h2m-2 1h2m-2 0h2m-2 1h2m-2 0h2m-2 2h2m-2 0h2m-2 1h2m-2 1h2m-2 1h2m-2 0h2m-2 1h2m-2 0h2m-2 1h2m-2 0h2m-2 0h2m-2 1h2m-2 2h2m-1-13h2m-2 1h2m-2 1h2m-2 0h2m-2 1h2m-2 0h2m-2 1h2m-2 0h2m-2 0h2m-2 1h2m-2 0h2m-2 0h2m-2 1h2m-2 0h2m-2 0h2m-2 0h2m-2 0h2m-2 0h2m-2 1h2m-2 0h2m-2 0h2m-2 1h2m-2 0h2m-2 0h2m-2 0h2m-2 1h2m-2 0h2m-2 0h2m-2 1h2m-2 1h2m-2 0h2m-2 0h2m-2 0h2m-2 1h2m-2 3h2m-1-15h2m-2 2h2m-2 1h2m-2 1h2m-2 1h2m-2 0h2m-2 0h2m-2 0h2m-2 1h2m-2 0h2m-2 0h2m-2 0h2m-2 1h2m-2 0h2m-2 1h2m-2 0h2m-2 1h2m-2 0h2m-2 0h2m-2 0h2m-2 2h2m-1-9h2m-2 1h2m-2 0h2m-2 0h2m-2 0h2m-2 2h2m-2 0h2m-2 1h2m-2 0h2m-2 1h2m-2 2h2m-2 1h2m-2 0h2m-2 0h2m-2 0h2m-2 4h2m-2 0h2m-2 4h2m-1-18h2m-2 1h2m-2 0h2m-2 1h2m-2 0h2m-2 0h2m-2 1h2m-2 1h2m-2 0h2m-2 0h2m-2 1h2m-2 0h2m-2 1h2m-2 0h2m-2 0h2m-2 0h2m-2 1h2m-2 0h2m-2 0h2m-2 1h2m-2 0h2m-2 0h2m-2 0h2m-2 1h2m-2 1h2m-2 1h2m-1-10h2m-2 1h2m-2 1h2m-2 1h2m-2 0h2m-2 0h2m-2 1h2m-2 1h2m-2 0h2m-2 0h2m-2 0h2m-2 1h2m-2 0h2m-2 1h2m-2 0h2m-2 0h2m-2 1h2m-2 0h2m-2 1h2m-2 0h2m-2 0h2m-2 1h2m-2 1h2m-2 1h2m-2 1h2m-2 1h2m-1-16h2m-2 1h2m-2 1h2m-2 1h2m-2 1h2m-2 0h2m-2 1h2m-2 0h2m-2 0h2m-2 0h2m-2 0h2m-2 1h2m-2 0h2m-2 1h2m-2 0h2m-2 0h2m-2 1h2m-2 1h2m-2 0h2m-2 0h2m-2 0h2m-2 0h2m-2 1h2m-2 0h2m-2 0h2m-2 0h2m-2 1h2m-2 1h2m-2 0h2m-2 1h2m-2 3h2m-2 4h2m-1-17h2m-2 0h2m-2 1h2m-2 0h2m-2 0h2m-2 1h2m-2 1h2m-2 0h2m-2 1h2m-2 0h2m-2 0h2m-2 0h2m-2 0h2m-2 1h2m-2 0h2m-2 0h2m-2 0h2m-2 0h2m-2 0h2m-2 1h2m-2 1h2m-2 0h2m-2 0h2m-2 0h2m-2 1h2m-2 0h2m-2 1h2m-2 4h2m-1-14h2m-2 1h2m-2 2h2m-2 2h2m-2 0h2m-2 0h2m-2 0h2m-2 1h2m-2 0h2m-2 0h2m-2 1h2m-2 0h2m-2 0h2m-2 0h2m-2 1h2m-2 0h2m-2 0h2m-2 0h2m-2 1h2m-2 0h2m-2 0h2m-2 4h2m-1-14h2m-2 1h2m-2 0h2m-2 1h2m-2 0h2m-2 1h2m-2 0h2m-2 1h2m-2 1h2m-2 0h2m-2 0h2m-2 0h2m-2 1h2m-2 0h2m-2 1h2m-2 0h2m-2 0h2m-2 1h2m-2 2h2m-2 0h2m-2 0h2m-2 0h2m-2 1h2m-2 1h2m-1-10h2m-2 0h2m-2 0h2m-2 0h2m-2 1h2m-2 0h2m-2 1h2m-2 2h2m-2 0h2m-2 0h2m-2 1h2m-2 0h2m-2 0h2m-2 1h2m-2 0h2m-2 2h2m-2 0h2m-2 1h2m-2 0h2m-2 0h2m-2 2h2m-1-13h2m-2 2h2m-2 0h2m-2 1h2m-2 0h2m-2 0h2m-2 1h2m-2 1h2m-2 0h2m-2 0h2m-2 1h2m-2 0h2m-2 0h2m-2 1h2m-2 0h2m-2 0h2m-2 0h2m-2 0h2m-2 0h2m-2 0h2m-2 1h2m-2 1h2m-2 0h2m-2 1h2m-2 0h2m-2 0h2m-2 1h2m-2 1h2m-2 0h2m-2 3h2m-1-15h2m-2 2h2m-2 0h2m-2 1h2m-2 0h2m-2 0h2m-2 0h2m-2 0h2m-2 1h2m-2 0h2m-2 1h2m-2 0h2m-2 0h2m-2 1h2m-2 0h2m-2 0h2m-2 0h2m-2 1h2m-2 0h2m-2 0h2m-2 0h2m-2 1h2m-2 0h2m-2 0h2m-2 0h2m-2 0h2m-2 0h2m-2 1h2m-2 0h2m-2 1h2m-2 1h2m-2 0h2m-2 0h2m-2 1h2m-1-12h2m-2 0h2m-2 3h2m-2 0h2m-2 1h2m-2 0h2m-2 0h2m-2 0h2m-2 0h2m-2 0h2m-2 0h2m-2 1h2m-2 0h2m-2 0h2m-2 0h2m-2 1h2m-2 0h2m-2 0h2m-2 1h2m-2 0h2m-2 0h2m-2 1h2m-2 0h2m-2 0h2m-2 0h2m-2 0h2m-2 1h2m-2 0h2m-2 0h2m-2 1h2m-2 0h2m-2 1h2m-2 0h2m-2 0h2m-2 1h2m-1-12h2m-2 2h2m-2 0h2m-2 0h2m-2 0h2m-2 1h2m-2 0h2m-2 1h2m-2 0h2m-2 2h2m-2 0h2m-2 1h2m-2 0h2m-2 0h2m-2 0h2m-2 0h2m-2 0h2m-2 0h2m-2 0h2m-2 0h2m-2 1h2m-2 1h2m-2 0h2m-2 0h2m-2 0h2m-2 1h2m-2 1h2m-2 0h2m-2 1h2m-2 5h2m-1-17h2m-2 1h2m-2 0h2m-2 1h2m-2 0h2m-2 1h2m-2 0h2m-2 1h2m-2 0h2m-2 0h2m-2 0h2m-2 1h2m-2 0h2m-2 1h2m-2 0h2m-2 0h2m-2 1h2m-2 0h2m-2 1h2m-2 1h2m-2 1h2m-2 1h2m-2 3h2m-1-15h2m-2 2h2m-2 3h2m-2 0h2m-2 0h2m-2 0h2m-2 0h2m-2 0h2m-2 1h2m-2 0h2m-2 0h2m-2 0h2m-2 0h2m-2 1h2m-2 0h2m-2 0h2m-2 0h2m-2 1h2m-2 0h2m-2 0h2m-2 0h2m-2 0h2m-2 1h2m-2 0h2m-2 0h2m-2 0h2m-2 1h2m-2 0h2m-2 0h2m-2 0h2m-2 1h2m-2 1h2m-2 0h2m-2 2h2m-2 0h2m-2 1h2m-1-13h2m-2 2h2m-2 0h2m-2 1h2m-2 1h2m-2 0h2m-2 1h2m-2 0h2m-2 0h2m-2 1h2m-2 0h2m-2 1h2m-2 1h2m-2 0h2m-2 0h2m-2 0h2m-2 1h2m-2 0h2m-2 0h2m-2 0h2m-2 2h2m-2 0h2m-2 2h2m-1-16h2m-2 3h2m-2 1h2m-2 2h2m-2 0h2m-2 0h2m-2 1h2m-2 0h2m-2 1h2m-2 0h2m-2 0h2m-2 1h2m-2 0h2m-2 1h2m-2 1h2m-2 1h2m-2 1h2m-2 1h2m-1-14h2m-2 1h2m-2 2h2m-2 3h2m-2 0h2m-2 1h2m-2 0h2m-2 1h2m-2 0h2m-2 0h2m-2 0h2m-2 0h2m-2 0h2m-2 0h2m-2 0h2m-2 1h2m-2 0h2m-2 0h2m-2 0h2m-2 1h2m-2 1h2m-2 0h2m-2 0h2m-2 1h2m-2 0h2m-2 9h2m-1-20h2m-2 0h2m-2 3h2m-2 2h2m-2 0h2m-2 0h2m-2 2h2m-2 1h2m-2 0h2m-2 0h2m-2 0h2m-2 0h2m-2 1h2m-2 1h2m-2 0h2m-2 2h2m-2 2h2m-1-14h2m-2 3h2m-2 1h2m-2 1h2m-2 1h2m-2 0h2m-2 1h2m-2 0h2m-2 0h2m-2 0h2m-2 1h2m-2 0h2m-2 0h2m-2 0h2m-2 1h2m-2 0h2m-2 0h2m-2 0h2m-2 0h2m-2 0h2m-2 1h2m-2 1h2m-2 0h2m-2 0h2m-2 0h2m-2 1h2m-2 0h2m-2 1h2m-2 0h2m-1-15h2m-2 3h2m-2 1h2m-2 1h2m-2 0h2m-2 1h2m-2 0h2m-2 0h2m-2 1h2m-2 0h2m-2 0h2m-2 1h2m-2 0h2m-2 1h2m-2 1h2m-2 0h2m-2 0h2m-2 0h2m-2 1h2m-2 0h2m-2 0h2m-2 0h2m-2 1h2m-2 0h2m-2 0h2m-2 0h2m-2 1h2m-2 1h2m-2 2h2m-2 0h2m-1-17h2m-2 2h2m-2 3h2m-2 1h2m-2 0h2m-2 0h2m-2 1h2m-2 0h2m-2 0h2m-2 0h2m-2 0h2m-2 1h2m-2 1h2m-2 1h2m-2 0h2m-2 0h2m-2 1h2m-2 0h2m-2 0h2m-2 0h2m-2 1h2m-2 0h2m-2 1h2m-2 1h2m-2 0h2m-2 0h2m-2 0h2m-2 0h2m-1-11h2m-2 1h2m-2 1h2m-2 2h2m-2 1h2m-2 0h2m-2 0h2m-2 0h2m-2 2h2m-2 0h2m-2 1h2m-2 0h2m-2 0h2m-2 0h2m-2 0h2m-2 1h2m-2 0h2m-2 0h2m-2 1h2m-2 0h2m-2 0h2m-2 1h2m-2 1h2m-2 1h2m-2 0h2m-2 0h2m-1-14h2m-2 1h2m-2 2h2m-2 2h2m-2 1h2m-2 0h2m-2 1h2m-2 0h2m-2 0h2m-2 2h2m-2 1h2m-2 1h2m-2 0h2m-2 1h2m-2 0h2m-2 1h2m-2 1h2m-2 1h2m-2 1h2m-1-12h2m-2 1h2m-2 1h2m-2 0h2m-2 1h2m-2 1h2m-2 0h2m-2 0h2m-2 1h2m-2 0h2m-2 0h2m-2 1h2m-2 0h2m-2 1h2m-2 0h2m-2 2h2m-2 1h2m-1-14h2m-2 1h2m-2 1h2m-2 3h2m-2 0h2m-2 1h2m-2 0h2m-2 1h2m-2 1h2m-2 0h2m-2 0h2m-2 0h2m-2 1h2m-2 0h2m-2 1h2m-2 0h2m-2 0h2m-2 0h2m-2 1h2m-2 2h2m-2 0h2m-2 2h2m-2 1h2m-1-16h2m-2 5h2m-2 1h2m-2 0h2m-2 0h2m-2 1h2m-2 0h2m-2 0h2m-2 0h2m-2 1h2m-2 0h2m-2 0h2m-2 1h2m-2 0h2m-2 1h2m-2 0h2m-2 1h2m-2 0h2m-2 2h2m-2 0h2m-2 0h2m-2 1h2m-2 1h2m-2 1h2m-1-15h2m-2 2h2m-2 2h2m-2 1h2m-2 1h2m-2 0h2m-2 0h2m-2 1h2m-2 0h2m-2 0h2m-2 0h2m-2 1h2m-2 0h2m-2 1h2m-2 0h2m-2 0h2m-2 0h2m-2 1h2m-2 0h2m-2 0h2m-2 1h2m-2 1h2m-2 2h2m-2 1h2m-1-13h2m-2 2h2m-2 1h2m-2 0h2m-2 0h2m-2 0h2m-2 1h2m-2 0h2m-2 1h2m-2 0h2m-2 0h2m-2 1h2m-2 0h2m-2 1h2m-2 0h2m-2 1h2m-2 0h2m-2 1h2m-2 3h2m-2 1h2m-1-11h2m-2 0h2m-2 1h2m-2 0h2m-2 2h2m-2 1h2m-2 0h2m-2 0h2m-2 0h2m-2 1h2m-2 0h2m-2 0h2m-2 0h2m-2 0h2m-2 0h2m-2 1h2m-2 0h2m-2 1h2m-2 1h2m-2 1h2m-2 0h2m-2 1h2m-2 0h2m-1-15h2m-2 3h2m-2 3h2m-2 0h2m-2 0h2m-2 1h2m-2 1h2m-2 1h2m-2 0h2m-2 1h2m-2 0h2m-2 0h2m-2 3h2m-2 1h2m-2 2h2m-2 7h2m-1-20h2m-2 1h2m-2 1h2m-2 0h2m-2 1h2m-2 0h2m-2 0h2m-2 1h2m-2 0h2m-2 0h2m-2 2h2m-2 1h2m-2 0h2m-2 0h2m-2 0h2m-2 1h2m-2 1h2m-2 0h2m-2 2h2m-1-11h2m-2 5h2m-2 0h2m-2 0h2m-2 0h2m-2 1h2m-2 1h2m-2 0h2m-2 0h2m-2 0h2m-2 0h2m-2 1h2m-2 0h2m-2 0h2m-2 2h2m-2 0h2m-1-12h2m-2 3h2m-2 0h2m-2 2h2m-2 1h2m-2 1h2m-2 1h2m-2 2h2m-2 1h2m-2 0h2m-1-9h2m-2 1h2m-2 1h2m-2 0h2m-2 1h2m-2 1h2m-2 0h2m-2 0h2m-2 0h2m-2 1h2m-2 0h2m-2 0h2m-2 1h2m-2 1h2m-2 0h2m-2 2h2m-2 2h2m-1-9h2m-2 1h2m-2 1h2m-2 1h2m-2 0h2m-2 1h2m-2 0h2m-2 1h2m-2 1h2m-2 1h2m-2 1h2m-2 0h2m-2 1h2m-1-11h2m-2 4h2m-2 0h2m-2 1h2m-2 0h2m-2 0h2m-2 0h2m-2 1h2m-2 0h2m-2 1h2m-2 0h2m-2 0h2m-2 0h2m-2 1h2m-2 0h2m-2 1h2m-2 0h2m-2 1h2m-2 1h2m-2 3h2m-1-14h2m-2 2h2m-2 2h2m-2 1h2m-2 0h2m-2 0h2m-2 0h2m-2 0h2m-2 0h2m-2 1h2m-2 0h2m-2 1h2m-2 0h2m-2 1h2m-2 0h2m-2 2h2m-2 0h2m-2 4h2m-1-14h2m-2 4h2m-2 0h2m-2 2h2m-2 0h2m-2 0h2m-2 1h2m-2 0h2m-2 1h2m-2 0h2m-2 1h2m-2 1h2m-2 0h2m-2 0h2m-1-12h2m-2 3h2m-2 3h2m-2 0h2m-2 0h2m-2 3h2m-2 3h2m-2 1h2m-1-13h2m-2 1h2m-2 0h2m-2 3h2m-2 0h2m-2 1h2m-2 2h2m-2 1h2m-2 3h2m-2 0h2m-2 3h2m-1-13h2m-2 1h2m-2 4h2m-2 0h2m-2 1h2m-2 1h2m-2 1h2m-2 1h2m-2 1h2m-1-9h2m-2 2h2m-2 1h2m-2 1h2m-2 0h2m-2 1h2m-2 0h2m-2 0h2m-2 0h2m-2 1h2m-2 0h2m-2 2h2m-2 1h2m-2 1h2m-2 1h2m-1-12h2m-2 1h2m-2 2h2m-2 2h2m-2 0h2m-2 0h2m-2 1h2m-2 0h2m-2 0h2m-2 0h2m-2 1h2m-2 1h2m-2 0h2m-2 2h2m-2 0h2m-2 1h2m-1-8h2m-2 1h2m-2 0h2m-2 1h2m-2 2h2m-2 0h2m-2 0h2m-2 1h2m-2 0h2m-2 1h2m-2 2h2m-1-8h2m-2 2h2m-2 1h2m-2 0h2m-2 0h2m-2 2h2m-2 2h2m-2 1h2m-2 1h2m-1-10h2m-2 0h2m-2 1h2m-2 1h2m-2 0h2m-2 2h2m-2 1h2m-2 1h2m-2 1h2m-2 0h2m-2 0h2m-2 1h2m-2 0h2m-2 1h2m-1-11h2m-2 4h2m-2 0h2m-2 1h2m-2 1h2m-2 1h2m-2 2h2m-2 1h2m-2 3h2m-1-12h2m-2 2h2m-2 0h2m-2 0h2m-2 2h2m-2 0h2m-2 1h2m-2 2h2m-2 1h2m-2 5h2m-1-11h2m-2 0h2m-2 1h2m-2 2h2m-2 1h2m-2 1h2m-2 0h2m-2 1h2m-2 5h2m-1-11h2m-2 2h2m-2 0h2m-2 0h2m-2 0h2m-2 0h2m-2 3h2m-2 3h2m-2 0h2m-1-4h2m-2 0h2m-2 1h2m-2 4h2m-1-9h2m-2 3h2m-2 1h2m-2 2h2m-2 2h2m-1-8h2m-2 0h2m-2 2h2m-2 1h2m-2 1h2m-2 0h2m-1-7h2m-2 4h2m-2 1h2m-2 0h2m-2 2h2m-2 1h2m-2 1h2m-1-8h2m-2 5h2m-2 2h2m-1-12h2m-2 10h2m-2 0h2m-2 1h2m-2 1h2m-2 1h2m-2 0h2m-2 1h2m-2 3h2m-1-14h2m-2 6h2m-2 1h2m-2 2h2m-1-9h2m-2 8h2m-2 2h2m-2 3h2m-1-5h2m-2 0h2m-2 1h2m-1-3h2m-2 1h2m-2 2h2m-2 1h2m-2 0h2m-2 1h2m-2 0h2m-1 0h2m-2 3h2m-1-6h2m-2 2h2m-2 0h2m-1-5h2m-2 3h2m-2 0h2m-2 1h2m-2 6h2m-1-12h2m-2 3h2m-2 2h2m1-2h2m-2 1h2m-2 1h2m-1-5h2m-2 3h2m-2 0h2m-2 2h2m-1-3h2m-2 5h2m-2 2h2m-1-10h2m-1 1h2m-2 6h2m-1 1h2m-2 0h2m0-1h2m-1-3h2m-2 0h2m-1 4h2m-2 3h2m-1-11h2m-2 3h2m-1 1h2m-1-1h2m-2 6h2m9-1h2m2-7h2" stroke="#e0691a" stroke-width="2" stroke-opacity=".7" fill="none"/><path transform="scale(.5)" filter="url(#bl)" d="M290 339h2m2 0h2m7 9h2m1-5h2m0-5h2m2 6h2m0 1h2m0-1h2m0 0h2m5-11h2m-2 7h2m0 2h2m0 7h2m4-12h2m-1 5h2m0-6h2m0-2h2m-2 6h2m-2 4h2m-1-6h2m-2 5h2m-1-8h2m-2 10h2m0-6h2m-2 7h2m1 7h2m0-13h2m-1-2h2m-2 5h2m-1-1h2m-1 0h2m1 4h2m-1-7h2m-2 2h2m-1-8h2m0 10h2m-2 2h2m0-11h2m-2 12h2m-2 3h2m-2 6h2m-1-19h2m-2 6h2m0-7h2m-2 8h2m-2 1h2m-2 3h2m-2 1h2m-1-9h2m-2 0h2m-1-1h2m-2 8h2m-1-4h2m-1-8h2m-2 5h2m-2 1h2m-2 6h2m-1-7h2m-2 2h2m-2 0h2m-2 3h2m-1 3h2m-1-12h2m-2 7h2m-2 5h2m-2 1h2m-1-1h2m-1-11h2m-1-3h2m-2 8h2m-2 2h2m-1-4h2m-2 3h2m-2 3h2m-2 0h2m-1-8h2m-2 4h2m-2 11h2m-1-14h2m-2 1h2m-2 4h2m-2 2h2m-2 0h2m-2 0h2m-2 1h2m-1-7h2m-2 7h2m0-1h2m-2 2h2m-2 3h2m-1-16h2m-2 8h2m-2 6h2m-1-13h2m-2 9h2m-1 0h2m-2 5h2m-1-7h2m-2 1h2m-2 6h2m-1-6h2m-2 6h2m-1-11h2m-2 5h2m-2 5h2m-2 3h2m-1-10h2m-2 1h2m-2 4h2m-1-11h2m-2 5h2m-2 6h2m-2 2h2m-1-11h2m-2 12h2m-1-10h2m-2 1h2m-2 1h2m-2 3h2m-2 7h2m-1-11h2m-2 9h2m-1-14h2m-2 6h2m-2 1h2m-1-2h2m-2 3h2m-1-12h2m-2 6h2m-2 1h2m-2 1h2m-2 4h2m-2 4h2m-2 1h2m-1-7h2m-2 0h2m-2 4h2m-2 3h2m-2 2h2m-1-12h2m-2 6h2m-2 1h2m-2 1h2m-2 1h2m-2 0h2m-1-11h2m-2 2h2m-2 4h2m-2 0h2m-1-3h2m-2 0h2m-2 1h2m-2 0h2m-2 1h2m-2 2h2m-2 0h2m-2 0h2m-2 3h2m-2 0h2m-2 2h2m-1-7h2m-1-1h2m-2 0h2m-2 2h2m-2 3h2m-2 2h2m-1-8h2m-2 15h2m-1-14h2m-1-2h2m-2 1h2m-2 0h2m-2 6h2m-2 4h2m-2 0h2m-1-16h2m-2 9h2m-2 1h2m-2 2h2m-2 0h2m-2 4h2m-1-10h2m-2 1h2m-2 0h2m-2 6h2m-2 2h2m-1-13h2m-2 4h2m-2 2h2m-1-5h2m-2 5h2m-2 2h2m-2 0h2m-1-4h2m-1-1h2m-2 3h2m-2 2h2m-2 0h2m-2 3h2m-2 7h2m-1-17h2m-2 1h2m-2 3h2m-1-13h2m-2 10h2m-2 3h2m-2 0h2m-2 1h2m-2 2h2m-2 1h2m-2 1h2m-2 6h2m-1-10h2m-2 1h2m-2 5h2m-1-13h2m-2 5h2m-2 1h2m-2 3h2m-2 1h2m-2 1h2m-2 2h2m-2 4h2m-1-15h2m-2 3h2m-2 1h2m-2 0h2m-2 0h2m-2 15h2m-1-14h2m-2 0h2m-2 3h2m-1-12h2m-2 4h2m-2 1h2m-2 0h2m-2 1h2m-2 2h2m-2 0h2m-2 5h2m-2 4h2m-2 3h2m-1-10h2m-2 0h2m-2 2h2m-2 0h2m-2 1h2m-2 1h2m-2 4h2m-1-10h2m-2 0h2m-2 9h2m-1-13h2m-2 4h2m-2 1h2m-2 1h2m-2 2h2m-2 4h2m-1-10h2m-2 1h2m-2 1h2m-2 0h2m-2 7h2m-1-9h2m-2 1h2m-2 3h2m-2 5h2m-1-8h2m-2 4h2m-2 2h2m-2 0h2m-1-9h2m-2 0h2m-2 7h2m-2 0h2m-2 7h2m-1-17h2m-2 8h2m-2 0h2m-2 0h2m-2 2h2m-2 2h2m-1-6h2m-2 3h2m-2 1h2m-2 5h2m-1-14h2m-2 6h2m-2 3h2m-2 3h2m-2 7h2m-2 1h2m-1-15h2m-2 1h2m-2 0h2m-2 1h2m-2 1h2m-2 1h2m-2 2h2m-2 2h2m-1-10h2m-2 1h2m-2 1h2m-2 8h2m-2 1h2m-2 1h2m-2 1h2m-2 3h2m-1-16h2m-2 6h2m-2 2h2m-1-8h2m-2 5h2m-2 3h2m-2 2h2m-2 4h2m-2 2h2m-1-13h2m-2 2h2m-2 1h2m-2 0h2m-1-9h2m-2 1h2m-2 0h2m-2 6h2m-2 0h2m-2 2h2m-1-8h2m-2 1h2m-2 5h2m-2 0h2m-2 1h2m-2 1h2m-2 1h2m-2 1h2m-2 2h2m-2 2h2m-1-14h2m-2 3h2m-2 3h2m-2 1h2m-2 1h2m-2 0h2m-2 8h2m-1-18h2m-2 0h2m-2 7h2m-2 3h2m-2 0h2m-2 5h2m-1-14h2m-2 4h2m-2 1h2m-2 3h2m-2 0h2m-2 1h2m-2 2h2m-1-8h2m-2 3h2m-2 0h2m-2 1h2m-2 3h2m-2 1h2m-2 7h2m-1-16h2m-2 4h2m-2 3h2m-2 1h2m-2 0h2m-1-7h2m-2 1h2m-2 1h2m-2 2h2m-2 1h2m-2 0h2m-2 1h2m-1 0h2m-2 3h2m-2 2h2m-2 0h2m-2 5h2m-1-16h2m-2 1h2m-2 3h2m-2 0h2m-2 4h2m-2 1h2m-1-10h2m-2 6h2m-2 0h2m-2 0h2m-2 1h2m-2 4h2m-2 1h2m-1-14h2m-2 3h2m-2 4h2m-2 0h2m-2 1h2m-2 0h2m-2 4h2m-2 0h2m-2 2h2m-1-14h2m-2 1h2m-2 4h2m-2 2h2m-2 1h2m-2 2h2m-2 0h2m-1-3h2m-2 1h2m-2 0h2m-1-4h2m-2 3h2m-2 5h2m-1-9h2m-2 1h2m-2 1h2m-2 0h2m-2 1h2m-2 2h2m-2 0h2m-2 1h2m-2 5h2m-2 2h2m-1-12h2m-2 1h2m-2 0h2m-2 0h2m-2 1h2m-2 0h2m-2 4h2m-2 2h2m-2 0h2m-2 2h2m-2 1h2m-1-12h2m-2 3h2m-2 1h2m-2 1h2m-2 2h2m-2 0h2m-1-5h2m-2 5h2m-2 3h2m-2 1h2m-2 0h2m-1-8h2m-2 4h2m-2 2h2m-1-5h2m-2 0h2m-2 0h2m-2 1h2m-2 6h2m-2 1h2m-2 1h2m-2 6h2m-1-15h2m-2 2h2m-2 3h2m-2 1h2m-2 1h2m-2 1h2m-2 3h2m-1-15h2m-2 2h2m-2 1h2m-2 1h2m-2 1h2m-2 0h2m-2 3h2m-2 2h2m-2 1h2m-1-14h2m-2 1h2m-2 4h2m-2 2h2m-2 1h2m-2 1h2m-2 1h2m-2 0h2m-2 1h2m-2 0h2m-2 3h2m-1-9h2m-2 4h2m-2 0h2m-2 0h2m-2 4h2m-2 1h2m-1-7h2m-2 5h2m-2 0h2m-1-11h2m-2 2h2m-2 3h2m-2 2h2m-1-3h2m-2 2h2m-2 2h2m-2 1h2m-2 3h2m-2 0h2m-1-13h2m-2 1h2m-2 2h2m-2 1h2m-2 0h2m-2 1h2m-2 0h2m-2 1h2m-2 4h2m-2 1h2m-1-12h2m-2 1h2m-2 0h2m-2 2h2m-2 1h2m-2 0h2m-2 2h2m-2 1h2m-2 2h2m-2 0h2m-2 2h2m-2 0h2m-2 4h2m-2 1h2m-2 1h2m-1-15h2m-2 0h2m-2 3h2m-2 4h2m-2 2h2m-2 1h2m-2 1h2m-2 1h2m-2 0h2m-1-14h2m-2 7h2m-2 2h2m-2 0h2m-2 0h2m-2 3h2m-1-7h2m-2 4h2m-2 0h2m-2 0h2m-2 0h2m-2 0h2m-2 3h2m-2 7h2m-1-13h2m-2 2h2m-2 1h2m-2 1h2m-2 2h2m-2 4h2m-2 1h2m-1-14h2m-2 5h2m-2 5h2m-2 0h2m-2 2h2m-2 2h2m-1-12h2m-2 0h2m-2 0h2m-2 1h2m-2 3h2m-2 2h2m-2 3h2m-2 9h2m-1-21h2m-2 2h2m-2 3h2m-2 2h2m-2 3h2m-1-8h2m-2 1h2m-2 4h2m-2 1h2m-2 2h2m-2 1h2m-2 4h2m-2 1h2m-1-18h2m-2 1h2m-2 3h2m-2 3h2m-2 0h2m-2 0h2m-2 3h2m-2 2h2m-2 1h2m-2 6h2m-2 4h2m-1-15h2m-2 1h2m-2 3h2m-2 2h2m-2 4h2m-1-14h2m-2 1h2m-2 2h2m-2 3h2m-2 2h2m-2 3h2m-1-13h2m-2 3h2m-2 3h2m-2 2h2m-1-3h2m-2 1h2m-2 0h2m-2 2h2m-2 3h2m-2 1h2m-1-12h2m-2 2h2m-2 1h2m-2 1h2m-2 7h2m-1-14h2m-2 5h2m-2 0h2m-2 2h2m-2 8h2m-2 2h2m-2 0h2m-1-11h2m-2 2h2m-2 1h2m-2 2h2m-2 5h2m-2 2h2m-1-14h2m-2 2h2m-2 3h2m-2 2h2m-2 1h2m-2 2h2m-2 3h2m-2 0h2m-1-14h2m-2 1h2m-2 1h2m-2 3h2m-2 1h2m-2 3h2m-2 1h2m-2 1h2m-2 4h2m-2 2h2m-1-9h2m-2 1h2m-2 0h2m-2 1h2m-2 0h2m-2 1h2m-2 4h2m-2 6h2m-1-19h2m-2 1h2m-2 1h2m-2 1h2m-2 5h2m-2 1h2m-1-9h2m-2 0h2m-2 1h2m-2 6h2m-2 1h2m-2 0h2m-2 0h2m-2 2h2m-2 1h2m-1-9h2m-2 5h2m-1-4h2m-2 2h2m-2 1h2m-2 4h2m-1-13h2m-2 8h2m-2 1h2m-2 0h2m-2 1h2m-2 1h2m-2 1h2m-2 3h2m-1-6h2m-2 0h2m-2 16h2m-1-19h2m-2 0h2m-2 3h2m-2 4h2m-2 1h2m-2 3h2m-2 3h2m-1-18h2m-2 3h2m-2 0h2m-2 3h2m-2 1h2m-2 5h2m-1-7h2m-2 1h2m-2 3h2m-2 2h2m-2 6h2m-1-13h2m-2 1h2m-2 3h2m-2 4h2m-2 2h2m-1-15h2m-2 2h2m-2 1h2m-2 1h2m-2 1h2m-2 1h2m-2 1h2m-2 6h2m-1-19h2m-2 8h2m-2 0h2m-2 2h2m-1-5h2m-2 0h2m-2 9h2m-2 3h2m-2 1h2m-2 4h2m-1-6h2m-2 3h2m-1-6h2m-2 3h2m-1-3h2m-2 0h2m-2 2h2m-2 2h2m-2 0h2m-1-6h2m-2 0h2m-2 5h2m-2 2h2m-2 5h2m-1-14h2m-2 4h2m-2 0h2m-2 0h2m-1-5h2m-2 5h2m-2 2h2m-2 2h2m-2 0h2m-1-11h2m-2 6h2m-2 1h2m-2 1h2m-2 1h2m-1-7h2m-2 3h2m-2 2h2m-2 4h2m-2 5h2m-1-13h2m-2 0h2m-2 4h2m-2 2h2m-2 0h2m-2 2h2m-1-6h2m-2 3h2m-2 0h2m-2 1h2m-1-7h2m-2 6h2m-1 3h2m-1-10h2m-2 5h2m-2 9h2m-1-13h2m-2 4h2m-2 1h2m-2 0h2m-2 3h2m-2 0h2m-1-8h2m-2 0h2m-1 2h2m-2 1h2m-2 0h2m-2 2h2m-2 2h2m-2 2h2m-1-8h2m-2 6h2m-2 1h2m-1-14h2m-2 10h2m-1-2h2m-2 0h2m-2 5h2m-1-10h2m-2 5h2m-1 4h2m-2 0h2m-2 1h2m-2 0h2m-2 2h2m-1-4h2m-2 3h2m-1-6h2m-2 1h2m-2 6h2m-2 1h2m-1-5h2m-2 2h2m-2 0h2m-2 2h2m-1-6h2m-2 3h2m-2 0h2m-2 2h2m-1-8h2m-2 1h2m-2 9h2m-1-9h2m-1-7h2m-2 6h2m-2 3h2m-2 1h2m-2 8h2m-1-9h2m-2 3h2m-1-6h2m-2 3h2m-2 6h2m-1-12h2m-2 7h2m-2 3h2m-2 2h2m-2 4h2m-2 1h2m-1-7h2m-2 1h2m-1-4h2m-2 5h2m-1-7h2m-2 0h2m0-2h2m-2 4h2m-2 8h2m-1-7h2m-1 0h2m-2 1h2m-2 5h2m-1-16h2m-2 10h2m-1 6h2m-1-2h2m-1-5h2m1-1h2m-2 6h2m-1-5h2m-2 5h2m-2 1h2m-2 1h2m-1-7h2m-2 5h2m0-14h2m-2 14h2m0-4h2m-2 3h2m-1 2h2m0-12h2m-2 6h2m-2 2h2m-1 2h2m-1-6h2m-1-3h2m-1 3h2m-1 3h2m-1-8h2m-2 10h2m-1 0h2m1-3h2m0 0h2m-1 6h2m0-13h2m-1 8h2m1-3h2m1-2h2m9 4h2m6 1h2m2 4h2" stroke="#e0691a" stroke-width="2" stroke-opacity=".55" fill="none"/><path transform="scale(.5)" filter="url(#bl)" d="M342 394h2m28-25h2m2-38h2m12 25h2m6-11h2m18 16h2m42-42h2m0 52h2m13-35h2m0 31h2m1-49h2m5-3h2m-1 40h2m12-46h2m16 79h2m3-1h2m2-10h2m14 12h2m7-44h2m9 22h2" stroke="#e0691a" stroke-width="2" fill="none"/><path transform="scale(.5)" filter="url(#bl)" d="M223 475h2m-2 4h2m-2 1h2m0-4h2m-1-4h2m-2 6h2m-2 0h2m-2 0h2m-1-1h2m-1 1h2m-1-4h2m-2 2h2m-2 0h2m-2 3h2m-2 0h2m-1-4h2m-2 1h2m-2 1h2m-1 0h2m-2 1h2m-2 0h2m-2 2h2m-2 3h2m-2 3h2m-1-12h2m-2 1h2m-2 2h2m-2 1h2m-2 0h2m-2 1h2m-2 1h2m-1-8h2m-2 1h2m-2 1h2m-2 1h2m-2 0h2m-2 0h2m-1-7h2m-2 6h2m-1 1h2m-2 2h2m-2 0h2m-2 2h2m-2 2h2m-1-8h2m-2 0h2m-2 0h2m-2 1h2m-2 1h2m-2 0h2m-2 1h2m-2 4h2m-2 2h2m-1-8h2m-2 1h2m-2 1h2m-2 1h2m-2 1h2m-2 3h2m-1-5h2m-2 0h2m-2 1h2m-2 0h2m-2 0h2m-2 1h2m-2 2h2m-2 1h2m-1-11h2m-2 2h2m-2 2h2m-2 1h2m-2 1h2m-2 1h2m-2 0h2m-2 6h2m-1-9h2m-2 0h2m-2 1h2m-2 1h2m-2 1h2m-2 0h2m-2 1h2m-2 0h2m-2 0h2m-2 1h2m-2 0h2m-2 1h2m-2 0h2m-2 1h2m-2 1h2m-1-9h2m-2 1h2m-2 2h2m-2 0h2m-2 0h2m-2 0h2m-2 0h2m-2 2h2m-2 1h2m-2 0h2m-2 7h2m-1-10h2m-2 4h2m-2 1h2m-2 1h2m-2 0h2m-1-8h2m-2 1h2m-2 1h2m-2 0h2m-2 1h2m-2 0h2m-2 0h2m-2 0h2m-2 1h2m-2 0h2m-2 0h2m-2 2h2m-2 2h2m-2 1h2m-1-12h2m-2 1h2m-2 2h2m-2 1h2m-2 0h2m-2 1h2m-2 0h2m-2 1h2m-2 0h2m-2 1h2m-1-4h2m-2 1h2m-2 0h2m-2 1h2m-2 0h2m-2 1h2m-2 1h2m-2 1h2m-2 1h2m-2 1h2m-1-8h2m-2 2h2m-2 0h2m-2 1h2m-2 0h2m-2 0h2m-2 0h2m-2 1h2m-2 1h2m-2 0h2m-2 0h2m-2 0h2m-2 3h2m-2 1h2m-1-8h2m-2 1h2m-2 1h2m-2 0h2m-2 0h2m-2 2h2m-2 4h2m-1-11h2m-2 1h2m-2 2h2m-2 0h2m-2 1h2m-2 1h2m-2 1h2m-2 0h2m-2 1h2m-2 0h2m-2 0h2m-2 1h2m-2 0h2m-2 2h2m-2 0h2m-2 1h2m-2 0h2m-2 0h2m-2 1h2m-1-12h2m-2 2h2m-2 0h2m-2 1h2m-2 0h2m-2 2h2m-2 0h2m-2 1h2m-2 1h2m-2 1h2m-2 0h2m-2 2h2m-2 1h2m-1-11h2m-2 1h2m-2 1h2m-2 0h2m-2 0h2m-2 2h2m-2 0h2m-2 0h2m-2 1h2m-2 1h2m-2 1h2m-2 0h2m-2 1h2m-2 1h2m-2 1h2m-2 0h2m-2 0h2m-2 1h2m-2 2h2m-1-13h2m-2 2h2m-2 0h2m-2 0h2m-2 1h2m-2 1h2m-2 1h2m-2 0h2m-2 1h2m-2 0h2m-2 1h2m-2 0h2m-2 1h2m-2 0h2m-2 0h2m-2 0h2m-2 1h2m-2 0h2m-2 0h2m-2 1h2m-2 2h2m-1-12h2m-2 2h2m-2 4h2m-2 1h2m-2 0h2m-2 0h2m-2 0h2m-2 0h2m-2 0h2m-2 1h2m-2 0h2m-2 4h2m-2 1h2m-2 2h2m-1-16h2m-2 3h2m-2 1h2m-2 0h2m-2 1h2m-2 0h2m-2 1h2m-2 0h2m-2 0h2m-2 0h2m-2 1h2m-2 0h2m-2 0h2m-2 0h2m-2 0h2m-2 1h2m-2 0h2m-2 0h2m-2 1h2m-2 0h2m-2 0h2m-2 0h2m-2 2h2m-2 0h2m-2 0h2m-2 0h2m-2 1h2m-2 1h2m-1-11h2m-2 3h2m-2 0h2m-2 0h2m-2 0h2m-2 0h2m-2 1h2m-2 0h2m-2 1h2m-2 0h2m-2 1h2m-2 0h2m-2 0h2m-2 1h2m-2 0h2m-2 0h2m-2 0h2m-2 0h2m-2 1h2m-2 0h2m-2 0h2m-2 2h2m-1-12h2m-2 1h2m-2 0h2m-2 2h2m-2 0h2m-2 2h2m-2 1h2m-2 0h2m-2 2h2m-2 0h2m-2 1h2m-2 0h2m-2 0h2m-2 0h2m-2 1h2m-2 0h2m-2 0h2m-2 2h2m-2 1h2m-1-8h2m-2 0h2m-2 0h2m-2 1h2m-2 0h2m-2 1h2m-2 0h2m-2 1h2m-2 0h2m-2 0h2m-2 0h2m-2 1h2m-2 0h2m-2 0h2m-2 1h2m-2 0h2m-2 1h2m-2 0h2m-2 1h2m-2 0h2m-2 4h2m-1-13h2m-2 0h2m-2 1h2m-2 2h2m-2 2h2m-2 0h2m-2 0h2m-2 1h2m-2 1h2m-2 2h2m-1-13h2m-2 4h2m-2 1h2m-2 1h2m-2 0h2m-2 0h2m-2 2h2m-2 1h2m-2 1h2m-2 0h2m-2 1h2m-2 2h2m-2 1h2m-2 0h2m-1-10h2m-2 1h2m-2 1h2m-2 1h2m-2 0h2m-2 1h2m-2 0h2m-2 0h2m-2 1h2m-2 0h2m-2 0h2m-2 0h2m-2 1h2m-2 0h2m-2 1h2m-2 0h2m-2 1h2m-1-8h2m-2 1h2m-2 0h2m-2 2h2m-2 2h2m-2 0h2m-2 0h2m-2 0h2m-2 0h2m-2 1h2m-2 0h2m-1-8h2m-2 2h2m-2 1h2m-2 1h2m-2 1h2m-2 0h2m-2 1h2m-2 2h2m-2 0h2m-2 0h2m-2 1h2m-2 0h2m-2 0h2m-2 2h2m-2 2h2m-1-13h2m-2 2h2m-2 0h2m-2 1h2m-2 1h2m-2 0h2m-2 1h2m-2 0h2m-2 0h2m-2 1h2m-2 0h2m-2 1h2m-2 1h2m-2 1h2m-2 1h2m-2 1h2m-1-10h2m-2 1h2m-2 1h2m-2 0h2m-2 0h2m-2 2h2m-2 0h2m-2 1h2m-2 1h2m-2 0h2m-2 1h2m-2 0h2m-2 0h2m-2 1h2m-2 0h2m-2 0h2m-2 1h2m-2 1h2m-1-12h2m-2 3h2m-2 1h2m-2 0h2m-2 1h2m-2 0h2m-2 2h2m-2 0h2m-2 0h2m-2 0h2m-2 0h2m-2 1h2m-2 1h2m-2 0h2m-2 0h2m-2 1h2m-2 3h2m-2 0h2m-2 7h2m-1-18h2m-2 1h2m-2 3h2m-2 1h2m-2 0h2m-2 1h2m-2 1h2m-2 0h2m-2 0h2m-2 2h2m-2 2h2m-2 2h2m-1-13h2m-2 2h2m-2 2h2m-2 0h2m-2 0h2m-2 1h2m-2 1h2m-2 0h2m-2 1h2m-2 0h2m-2 0h2m-2 0h2m-2 0h2m-2 1h2m-2 3h2m-1-10h2m-2 1h2m-2 1h2m-2 0h2m-2 0h2m-2 1h2m-2 0h2m-2 0h2m-2 0h2m-2 2h2m-2 1h2m-2 0h2m-2 3h2m-1-12h2m-2 3h2m-2 2h2m-2 1h2m-2 0h2m-2 1h2m-2 0h2m-2 0h2m-2 1h2m-2 2h2m-1-9h2m-2 2h2m-2 0h2m-2 2h2m-2 0h2m-2 0h2m-2 2h2m-2 0h2m-2 1h2m-2 1h2m-2 1h2m-2 1h2m-2 0h2m-2 1h2m-2 1h2m-1-9h2m-2 0h2m-2 0h2m-2 3h2m-2 1h2m-2 1h2m-2 1h2m-2 0h2m-2 1h2m-1-11h2m-2 1h2m-2 4h2m-2 3h2m-2 2h2m-2 0h2m-2 2h2m-1-11h2m-2 2h2m-2 1h2m-2 1h2m-2 3h2m-2 0h2m-2 1h2m-2 0h2m-2 1h2m-2 0h2m-1-6h2m-2 2h2m-2 0h2m-2 0h2m-2 1h2m-2 1h2m-2 1h2m-2 0h2m-2 0h2m-2 0h2m-2 1h2m-2 3h2m-1-10h2m-2 2h2m-2 1h2m-2 1h2m-2 0h2m-2 0h2m-2 1h2m-1-4h2m-2 3h2m-2 1h2m-2 0h2m-2 0h2m-2 0h2m-2 1h2m-2 0h2m-1-5h2m-2 2h2m-2 2h2m-2 0h2m-2 0h2m-1-3h2m-2 1h2m-2 0h2m-2 1h2m-2 0h2m-2 1h2m-2 0h2m-2 3h2m-1-5h2m-2 1h2m-2 0h2m-2 1h2m-2 1h2m-2 1h2m-2 1h2m-2 2h2m-1-5h2m-2 0h2m-2 3h2m-2 2h2m-1-9h2m-2 2h2m-2 2h2m-2 0h2m-1-5h2m-2 1h2m-2 1h2m-2 1h2m-2 5h2m-1-3h2m-2 2h2m-1-5h2m-2 1h2m-2 1h2m-2 0h2m-2 1h2m-1-5h2m-2 1h2m-2 3h2m-2 3h2m-1-13h2m-2 9h2m-2 1h2m-2 1h2m-2 3h2m-1-6h2m-2 0h2m-2 1h2m-2 1h2m-2 5h2m-1-6h2m-1 2h2m-2 2h2m-2 5h2m-1-8h2m-1 1h2m-2 0h2m-2 1h2m-1-1h2m-2 3h2m-1-1h2m-2 1h2m-1-7h2m-2 0h2m1 7h2m1-2h2m-1-2h2m-1 1h2m-1 0h2m3 0h2" stroke="#333" stroke-width="2" stroke-opacity=".42" fill="none"/><path transform="scale(.5)" filter="url(#bl)" d="M339 470h2m5 1h2m3 1h2m13-2h2m-1 5h2m0-2h2m-1 4h2m-1-2h2m-1-4h2m-1 4h2m0-6h2m-1 3h2m-2 3h2m-1-3h2m-2 1h2m1-1h2m-2 1h2m-2 0h2m-2 0h2m-2 6h2m0-10h2m-2 4h2m-1-1h2m-2 1h2m-2 1h2m-2 0h2m-1 1h2m-2 2h2m-1-5h2m-2 2h2m-2 2h2m-1-2h2m-2 1h2m-1 1h2m-1-4h2m-2 2h2m-1 1h2m-2 0h2m-2 1h2m-2 0h2m-1-3h2m-2 6h2m-1-5h2m-2 2h2m-2 1h2m-1-5h2m-2 1h2m-2 0h2m-2 3h2m-1-3h2m-2 0h2m-2 2h2m-2 1h2m-1-5h2m-2 0h2m-2 3h2m-2 0h2m-2 1h2m-2 1h2m-1-9h2m-2 4h2m-2 1h2m-2 2h2m-2 0h2m-2 1h2m-1-6h2m-2 3h2m-1 0h2m-2 3h2m-2 1h2m-1-4h2m-2 3h2m-1-5h2m-2 1h2m-2 2h2m-2 1h2m-2 2h2m-2 3h2m-1-6h2m-2 1h2m-2 5h2m-1-11h2m-2 5h2m-2 3h2m-2 1h2m-2 1h2m-1-7h2m-2 4h2m-2 2h2m-1-5h2m-2 1h2m-2 0h2m-2 1h2m-2 2h2m-2 1h2m-1-4h2m-2 0h2m-2 0h2m-2 1h2m-2 1h2m-2 2h2m-2 0h2m-1-6h2m-2 1h2m-2 0h2m-2 3h2m-2 1h2m-2 0h2m-1-3h2m-2 1h2m-2 1h2m-2 0h2m-2 1h2m-2 3h2m-1-9h2m-2 4h2m-2 1h2m-2 3h2m-1-8h2m-2 1h2m-2 3h2m-2 2h2m-2 1h2m-2 1h2m-2 1h2m-1-7h2m-2 2h2m-2 1h2m-2 0h2m-1-2h2m-2 0h2m-2 0h2m-2 5h2m-2 0h2m-1-7h2m-2 1h2m-2 1h2m-2 0h2m-2 0h2m-2 1h2m-2 0h2m-2 5h2m-1-6h2m-2 1h2m-2 0h2m-2 1h2m-2 1h2m-2 1h2m-1-9h2m-2 4h2m-2 0h2m-2 2h2m-2 0h2m-2 2h2m-2 0h2m-2 0h2m-2 2h2m-2 0h2m-1-6h2m-2 0h2m-2 1h2m-2 2h2m-2 0h2m-2 1h2m-2 0h2m-2 2h2m-2 0h2m-1-5h2m-2 0h2m-2 1h2m-2 1h2m-2 0h2m-2 2h2m-1-7h2m-2 3h2m-2 0h2m-2 5h2m-2 0h2m-1-4h2m-2 0h2m-2 1h2m-2 0h2m-2 1h2m-2 0h2m-2 1h2m-2 3h2m-1-9h2m-2 2h2m-2 1h2m-2 1h2m-2 1h2m-2 0h2m-2 0h2m-1-4h2m-2 5h2m-1-2h2m-2 1h2m-2 1h2m-2 0h2m-1-7h2m-2 1h2m-2 1h2m-2 1h2m-2 2h2m-2 1h2m-2 1h2m-2 1h2m-2 1h2m-1-5h2m-2 0h2m-2 1h2m-2 2h2m-2 2h2m-1-8h2m-2 4h2m-2 2h2m-2 3h2m-1-7h2m-2 1h2m-2 2h2m-2 3h2m-1-6h2m-2 0h2m-2 2h2m-2 2h2m-2 0h2m-1-3h2m-2 1h2m-2 0h2m-2 5h2m-1-6h2m-2 1h2m-1-6h2m-2 5h2m-2 1h2m-2 1h2m-2 0h2m-2 0h2m-1-1h2m-2 2h2m-2 1h2m-1-7h2m-2 3h2m-2 0h2m-2 1h2m-2 1h2m-2 0h2m-1 0h2m-1-3h2m-2 1h2m-2 3h2m-1-5h2m-2 4h2m-1-1h2m-2 3h2m-2 0h2m-2 2h2m-2 1h2m-1-5h2m-2 0h2m-2 3h2m-1-7h2m-2 0h2m-2 1h2m-2 0h2m-2 3h2m-1-4h2m-2 3h2m-2 2h2m-1-6h2m-2 1h2m-2 1h2m-2 0h2m-2 1h2m-2 5h2m-1-4h2m-1 0h2m-1 0h2m-2 5h2m-1-4h2m-2 0h2m-2 1h2m-1-5h2m-2 2h2m-2 1h2m-2 1h2m-2 4h2m-1-5h2m-2 2h2m-2 0h2m-1-2h2m-2 1h2m-2 1h2m-2 0h2m-2 0h2m-2 1h2m-1-5h2m-2 0h2m-2 0h2m-2 2h2m-2 4h2m-1-7h2m-2 1h2m-2 1h2m-2 1h2m-2 3h2m-1-3h2m-2 0h2m-2 1h2m-2 1h2m-1-2h2m-2 1h2m-2 1h2m-2 2h2m-1-4h2m-1 1h2m-2 2h2m-2 1h2m-1-3h2m-2 1h2m-1 3h2m0-5h2m-2 1h2m-2 1h2m-1-8h2m-2 7h2m-2 3h2m-2 1h2m-1-3h2m-2 2h2m-1-3h2m-2 4h2m-1-6h2m-2 1h2m-2 3h2m-2 1h2m-2 1h2m-1-6h2m-2 2h2m-2 1h2m-2 2h2m-1-5h2m-2 3h2m-1-5h2m-2 4h2m-1-2h2m-2 2h2m-2 2h2m-2 0h2m-1-3h2m-2 0h2m-2 2h2m-2 1h2m-2 0h2m-2 2h2m-1-5h2m-2 2h2m-2 1h2m-2 0h2m-1-1h2m-1 1h2m-2 3h2m-1-7h2m-2 1h2m-2 6h2m-1-7h2m-2 1h2m-2 3h2m-1 1h2m-1 0h2m-1-3h2m-1-1h2m-2 5h2m0-1h2m-1-2h2m-2 1h2m-1-2h2m-2 5h2m-1-3h2m-2 1h2m-1-2h2m-1 0h2m-2 1h2m0-3h2m-1 2h2m-2 1h2m-2 5h2m-1-8h2m-1 1h2m0-3h2m-2 4h2m-2 0h2m-1 1h2m-2 1h2m-1-3h2m-1 0h2m-2 1h2m-2 5h2m-1-7h2m-2 4h2m-1-5h2m-2 3h2m-1 1h2m0 1h2m-1-2h2m0-1h2m-1 3h2m-2 0h2m-1-3h2m0 1h2m-1 3h2m-1-4h2m-2 2h2m0-2h2m0-4h2m-1 6h2m-1-2h2m2 4h2m3-3h2m-1 1h2" stroke="#36b436" stroke-width="2" stroke-opacity=".75" fill="none"/><path d="M37 226.5H334.4" stroke="#c878c8" stroke-width="1.15" fill="none"/><text x="331.4" y="225.9" font-size="2.3" text-anchor="middle" fill="#3a3a3a" textLength="4.8" lengthAdjust="spacingAndGlyphs" font-weight="bold">4000</text><path d="M164.5 149V265.5" stroke="#c77ac7" stroke-width="1.1" fill="none"/><text x="167.9" y="151.6" font-size="2.7" text-anchor="middle" fill="#505050" textLength="4.6" lengthAdjust="spacingAndGlyphs" font-weight="bold">1500</text><path d="M37 149H334.4V265.5H37Z" stroke="#a2a2a2" stroke-width="1" fill="none"/><rect x="376.5" y="149.9" width="131.1" height="115.6" fill="#f9f8f6"/><path d="M391.5 149.9V265.5M407.5 149.9V265.5M422.5 149.9V265.5M438.5 149.9V265.5M453.5 149.9V265.5M468.5 149.9V265.5M484.5 149.9V265.5M499.5 149.9V265.5M376.5 246.5H507.6M376.5 226.5H507.6M376.5 207.5H507.6M376.5 188.5H507.6M376.5 169.5H507.6" stroke="#eeedeb" stroke-width="1" fill="none"/><text x="369.69" y="266.35" font-size="3.1" text-anchor="middle" fill="#1a1a1a" font-weight="bold">0</text><text x="369.69" y="247.08" font-size="3.1" text-anchor="middle" fill="#1a1a1a" font-weight="bold">2000</text><text x="369.69" y="227.82" font-size="3.1" text-anchor="middle" fill="#1a1a1a" font-weight="bold">4000</text><text x="369.69" y="208.55" font-size="3.1" text-anchor="middle" fill="#1a1a1a" font-weight="bold">6000</text><text x="369.69" y="189.28" font-size="3.1" text-anchor="middle" fill="#1a1a1a" font-weight="bold">8000</text><text x="369.69" y="170.02" font-size="3.1" text-anchor="middle" fill="#1a1a1a" font-weight="bold">10000</text><text x="369.69" y="150.75" font-size="3.1" text-anchor="middle" fill="#1a1a1a" font-weight="bold">12000</text><text x="376.5" y="271.15" font-size="3.1" text-anchor="middle" fill="#1a1a1a" font-weight="bold">0</text><text x="391.88" y="271.15" font-size="3.1" text-anchor="middle" fill="#1a1a1a" font-weight="bold">2000</text><text x="407.26" y="271.15" font-size="3.1" text-anchor="middle" fill="#1a1a1a" font-weight="bold">4000</text><text x="422.63" y="271.15" font-size="3.1" text-anchor="middle" fill="#1a1a1a" font-weight="bold">6000</text><text x="438.01" y="271.15" font-size="3.1" text-anchor="middle" fill="#1a1a1a" font-weight="bold">8000</text><text x="453.39" y="271.15" font-size="3.1" text-anchor="middle" fill="#1a1a1a" font-weight="bold">10000</text><text x="468.77" y="271.15" font-size="3.1" text-anchor="middle" fill="#1a1a1a" font-weight="bold">12000</text><text x="484.15" y="271.15" font-size="3.1" text-anchor="middle" fill="#1a1a1a" font-weight="bold">14000</text><text x="499.53" y="271.15" font-size="3.1" text-anchor="middle" fill="#1a1a1a" font-weight="bold">16000</text><path d="M374.9 265.5h1.6M374.9 246.23h1.6M374.9 226.97h1.6M374.9 207.7h1.6M374.9 188.43h1.6M374.9 169.17h1.6M374.9 149.9h1.6M376.5 265.5v1.4M391.88 265.5v1.4M407.26 265.5v1.4M422.63 265.5v1.4M438.01 265.5v1.4M453.39 265.5v1.4M468.77 265.5v1.4M484.15 265.5v1.4M499.53 265.5v1.4" stroke="#9a9a9a" stroke-width=".7" fill="none"/><text x="435.4" y="146.3" font-size="3.4" text-anchor="middle" fill="#111" textLength="43.2" lengthAdjust="spacingAndGlyphs" font-weight="bold">Ch1 - C02 Pos:14521 Neg:2924</text><text x="442.05" y="275.5" font-size="3.1" text-anchor="middle" fill="#111" textLength="18.7" lengthAdjust="spacingAndGlyphs" font-weight="bold">Event Number</text><text x="0" y="0" font-size="3.1" font-weight="bold" text-anchor="middle" fill="#111" transform="translate(364.3 207.7) rotate(-90)" textLength="19.3" lengthAdjust="spacingAndGlyphs">Ch1 Amplitude</text><path transform="scale(.5)" filter="url(#bl)" d="M754 334h2m-2 3h2m-2 0h2m-2 0h2m-2 1h2m-2 0h2m-2 0h2m-2 0h2m-2 1h2m-2 1h2m-2 2h2m-2 2h2m-2 0h2m-2 1h2m-2 0h2m-2 2h2m-2 2h2m-1-14h2m-2 0h2m-2 1h2m-2 0h2m-2 1h2m-2 0h2m-2 2h2m-2 1h2m-2 0h2m-2 1h2m-2 0h2m-2 1h2m-2 0h2m-2 1h2m-2 0h2m-2 2h2m-2 1h2m-2 0h2m-2 1h2m-2 0h2m-2 1h2m-1-16h2m-2 3h2m-2 1h2m-2 0h2m-2 0h2m-2 1h2m-2 1h2m-2 1h2m-2 0h2m-2 0h2m-2 0h2m-2 5h2m-2 0h2m-2 1h2m-2 3h2m-2 0h2m-2 1h2m-2 1h2m-2 2h2m-1-20h2m-2 1h2m-2 4h2m-2 0h2m-2 2h2m-2 4h2m-2 3h2m-2 2h2m-1-15h2m-2 2h2m-2 0h2m-2 1h2m-2 0h2m-2 2h2m-2 0h2m-2 4h2m-2 0h2m-2 0h2m-2 1h2m-2 2h2m-2 1h2m-2 0h2m-2 4h2m-1-16h2m-2 2h2m-2 2h2m-2 1h2m-2 2h2m-2 0h2m-2 1h2m-2 0h2m-2 1h2m-2 0h2m-2 1h2m-2 0h2m-2 0h2m-2 2h2m-2 1h2m-2 1h2m-2 2h2m-1-28h2m-2 12h2m-2 2h2m-2 0h2m-2 4h2m-2 2h2m-2 1h2m-2 1h2m-2 2h2m-2 1h2m-2 2h2m-1-15h2m-2 5h2m-2 1h2m-2 1h2m-2 1h2m-2 1h2m-2 1h2m-2 1h2m-2 1h2m-2 1h2m-2 1h2m-2 1h2m-1-15h2m-2 2h2m-2 2h2m-2 1h2m-2 0h2m-2 2h2m-2 0h2m-2 0h2m-2 4h2m-2 1h2m-2 1h2m-1-17h2m-2 2h2m-2 2h2m-2 2h2m-2 1h2m-2 1h2m-2 1h2m-2 2h2m-2 1h2m-2 0h2m-2 1h2m-2 2h2m-2 1h2m-1-11h2m-2 1h2m-2 1h2m-2 0h2m-2 2h2m-2 1h2m-2 1h2m-2 2h2m-2 0h2m-2 4h2m-1-13h2m-2 1h2m-2 1h2m-2 0h2m-2 0h2m-2 2h2m-2 0h2m-2 1h2m-2 2h2m-2 0h2m-2 2h2m-2 1h2m-2 0h2m-2 2h2m-2 3h2m-2 0h2m-1-15h2m-2 4h2m-2 0h2m-2 0h2m-2 1h2m-2 1h2m-2 4h2m-2 0h2m-2 1h2m-2 2h2m-2 1h2m-1-11h2m-2 1h2m-2 1h2m-2 1h2m-2 2h2m-2 1h2m-2 1h2m-2 0h2m-2 5h2m-2 8h2m-1-21h2m-2 2h2m-2 2h2m-2 1h2m-2 0h2m-2 0h2m-2 2h2m-2 1h2m-2 0h2m-2 0h2m-2 1h2m-2 2h2m-2 0h2m-2 3h2m-1-12h2m-2 1h2m-2 0h2m-2 1h2m-2 1h2m-2 1h2m-2 1h2m-2 2h2m-2 1h2m-2 2h2m-2 0h2m-2 0h2m-2 1h2m-2 2h2m-1-16h2m-2 1h2m-2 3h2m-2 1h2m-2 2h2m-2 1h2m-2 1h2m-2 1h2m-2 3h2m-1-14h2m-2 2h2m-2 5h2m-2 1h2m-2 2h2m-2 2h2m-2 0h2m-2 2h2m-2 0h2m-1-16h2m-2 1h2m-2 2h2m-2 1h2m-2 0h2m-2 1h2m-2 2h2m-2 3h2m-2 0h2m-2 1h2m-2 0h2m-2 4h2m-2 1h2m-2 0h2m-2 0h2m-2 1h2m-1-15h2m-2 0h2m-2 1h2m-2 0h2m-2 1h2m-2 0h2m-2 2h2m-2 1h2m-2 0h2m-2 1h2m-2 0h2m-2 0h2m-2 1h2m-2 0h2m-2 2h2m-2 0h2m-2 5h2m-1-12h2m-2 0h2m-2 2h2m-2 2h2m-2 1h2m-2 2h2m-2 0h2m-2 4h2m-2 0h2m-1-12h2m-2 0h2m-2 4h2m-2 2h2m-2 0h2m-2 1h2m-2 3h2m-2 2h2m-2 2h2m-2 1h2m-1-16h2m-2 3h2m-2 2h2m-2 4h2m-2 1h2m-2 2h2m-1-12h2m-2 0h2m-2 3h2m-2 1h2m-2 1h2m-2 3h2m-2 0h2m-2 1h2m-2 0h2m-2 0h2m-2 2h2m-2 0h2m-2 0h2m-2 1h2m-1-22h2m-2 9h2m-2 1h2m-2 1h2m-2 2h2m-2 0h2m-2 1h2m-2 3h2m-2 0h2m-2 5h2m-2 0h2m-2 4h2m-2 1h2m-1-14h2m-2 1h2m-2 1h2m-2 0h2m-2 1h2m-2 1h2m-2 1h2m-2 4h2m-2 1h2m-2 1h2m-2 0h2m-2 1h2m-2 0h2m-2 2h2m-1-16h2m-2 0h2m-2 1h2m-2 2h2m-2 1h2m-2 0h2m-2 0h2m-2 0h2m-2 1h2m-2 0h2m-2 1h2m-2 0h2m-2 1h2m-2 0h2m-2 3h2m-2 0h2m-2 0h2m-1-11h2m-2 1h2m-2 1h2m-2 0h2m-2 1h2m-2 1h2m-2 0h2m-2 2h2m-2 0h2m-2 2h2m-2 0h2m-2 0h2m-2 2h2m-2 1h2m-2 0h2m-2 2h2m-2 1h2m-2 0h2m-2 0h2m-2 1h2m-1-14h2m-2 1h2m-2 3h2m-2 0h2m-2 1h2m-2 2h2m-2 4h2m-2 1h2m-2 2h2m-2 1h2m-1-17h2m-2 1h2m-2 1h2m-2 0h2m-2 4h2m-2 1h2m-2 0h2m-2 1h2m-2 1h2m-2 1h2m-2 1h2m-2 1h2m-2 0h2m-2 0h2m-2 1h2m-2 0h2m-2 1h2m-2 0h2m-2 2h2m-1-14h2m-2 4h2m-2 1h2m-2 1h2m-2 0h2m-2 0h2m-2 3h2m-2 0h2m-2 2h2m-2 2h2m-1-18h2m-2 1h2m-2 7h2m-2 2h2m-2 3h2m-2 0h2m-2 1h2m-2 1h2m-2 0h2m-2 1h2m-2 1h2m-2 8h2m-1-23h2m-2 4h2m-2 0h2m-2 2h2m-2 1h2m-2 0h2m-2 0h2m-2 2h2m-2 1h2m-2 1h2m-2 0h2m-2 0h2m-2 3h2m-2 3h2m-2 1h2m-1-17h2m-2 1h2m-2 3h2m-2 1h2m-2 3h2m-2 0h2m-2 0h2m-2 3h2m-2 0h2m-2 2h2m-2 1h2m-2 1h2m-1-11h2m-2 2h2m-2 0h2m-2 1h2m-2 2h2m-2 0h2m-2 2h2m-2 0h2m-2 1h2m-2 0h2m-2 0h2m-2 1h2m-2 0h2m-2 0h2m-2 1h2m-2 5h2m-1-16h2m-2 3h2m-2 0h2m-2 4h2m-2 4h2m-2 2h2m-2 0h2m-1-15h2m-2 1h2m-2 2h2m-2 0h2m-2 4h2m-2 2h2m-2 0h2m-2 1h2m-2 0h2m-2 3h2m-2 1h2m-2 1h2m-2 0h2m-2 3h2m-1-21h2m-2 1h2m-2 5h2m-2 2h2m-2 1h2m-2 0h2m-2 0h2m-2 0h2m-2 1h2m-2 2h2m-2 1h2m-2 1h2m-2 0h2m-2 0h2m-2 1h2m-2 0h2m-2 2h2m-2 0h2m-2 1h2m-1-15h2m-2 2h2m-2 0h2m-2 2h2m-2 0h2m-2 2h2m-2 1h2m-2 1h2m-2 0h2m-2 3h2m-2 1h2m-2 2h2m-2 0h2m-1-14h2m-2 0h2m-2 1h2m-2 2h2m-2 2h2m-2 0h2m-2 3h2m-2 0h2m-2 1h2m-2 1h2m-2 1h2m-2 1h2m-2 1h2m-2 0h2m-2 1h2m-2 0h2m-2 0h2m-1-10h2m-2 0h2m-2 1h2m-2 0h2m-2 2h2m-2 3h2m-2 0h2m-2 0h2m-2 6h2m-2 0h2m-1-13h2m-2 1h2m-2 0h2m-2 0h2m-2 1h2m-2 2h2m-2 2h2m-2 1h2m-2 4h2m-2 2h2m-2 2h2m-1-21h2m-2 4h2m-2 4h2m-2 1h2m-2 0h2m-2 2h2m-2 1h2m-2 4h2m-2 11h2m-1-26h2m-2 4h2m-2 1h2m-2 1h2m-2 1h2m-2 2h2m-2 2h2m-1-9h2m-2 1h2m-2 2h2m-2 0h2m-2 3h2m-2 0h2m-2 0h2m-2 2h2m-2 1h2m-2 0h2m-2 1h2m-2 1h2m-2 1h2m-2 0h2m-2 2h2m-2 2h2m-1-20h2m-2 2h2m-2 0h2m-2 4h2m-2 0h2m-2 0h2m-2 1h2m-2 0h2m-2 0h2m-2 2h2m-2 1h2m-2 1h2m-2 0h2m-2 0h2m-2 0h2m-2 2h2m-2 0h2m-2 3h2m-2 0h2m-2 0h2m-2 1h2m-2 5h2m-1-19h2m-2 1h2m-2 1h2m-2 1h2m-2 1h2m-2 1h2m-2 0h2m-2 1h2m-2 0h2m-2 2h2m-2 0h2m-2 2h2m-2 0h2m-2 2h2m-2 0h2m-2 1h2m-2 3h2m-1-20h2m-2 5h2m-2 1h2m-2 2h2m-2 1h2m-2 1h2m-2 3h2m-2 0h2m-2 0h2m-2 1h2m-2 1h2m-2 0h2m-2 2h2m-2 1h2m-2 1h2m-2 0h2m-2 1h2m-1-16h2m-2 3h2m-2 3h2m-2 0h2m-2 0h2m-2 1h2m-2 1h2m-2 2h2m-2 4h2m-2 2h2m-1-16h2m-2 4h2m-2 0h2m-2 1h2m-2 7h2m-2 0h2m-2 0h2m-2 0h2m-2 1h2m-1-11h2m-2 1h2m-2 0h2m-2 1h2m-2 0h2m-2 1h2m-2 0h2m-2 1h2m-2 1h2m-2 1h2m-2 1h2m-2 0h2m-2 2h2m-1-9h2m-2 0h2m-2 1h2m-2 1h2m-2 0h2m-2 1h2m-2 0h2m-2 1h2m-2 2h2m-2 1h2m-2 0h2m-2 0h2m-2 0h2m-2 1h2m-2 1h2m-2 3h2m-2 3h2m-1-14h2m-2 1h2m-2 1h2m-2 1h2m-2 0h2m-2 0h2m-2 2h2m-2 1h2m-2 0h2m-2 2h2m-2 9h2m-1-21h2m-2 4h2m-2 0h2m-2 0h2m-2 3h2m-2 1h2m-2 1h2m-2 0h2m-2 0h2m-2 0h2m-2 2h2m-2 2h2m-2 1h2m-2 1h2m-2 0h2m-1-14h2m-2 5h2m-2 4h2m-2 1h2m-2 1h2m-2 0h2m-2 1h2m-2 2h2m-2 2h2m-2 0h2m-2 1h2m-1-23h2m-2 7h2m-2 2h2m-2 1h2m-2 4h2m-2 3h2m-2 1h2m-2 3h2m-2 0h2m-2 0h2m-1-16h2m-2 3h2m-2 3h2m-2 2h2m-2 0h2m-2 2h2m-2 1h2m-2 1h2m-2 0h2m-2 1h2m-2 0h2m-2 2h2m-2 0h2m-2 0h2m-2 2h2m-2 1h2m-1-25h2m-2 11h2m-2 3h2m-2 0h2m-2 0h2m-2 1h2m-2 2h2m-2 2h2m-2 1h2m-2 1h2m-2 2h2m-2 1h2m-1-25h2m-2 8h2m-2 2h2m-2 1h2m-2 2h2m-2 1h2m-2 2h2m-2 1h2m-2 0h2m-2 1h2m-2 1h2m-2 3h2m-2 1h2m-2 1h2m-2 1h2m-2 0h2m-1-18h2m-2 2h2m-2 2h2m-2 2h2m-2 1h2m-2 1h2m-2 1h2m-2 0h2m-2 1h2m-2 0h2m-2 0h2m-2 0h2m-2 0h2m-2 0h2m-2 2h2m-2 1h2m-2 1h2m-2 0h2m-2 1h2m-2 3h2m-2 1h2m-1-16h2m-2 1h2m-2 0h2m-2 2h2m-2 0h2m-2 1h2m-2 1h2m-2 0h2m-2 1h2m-2 4h2m-2 3h2m-2 1h2m-2 1h2m-2 1h2m-1-16h2m-2 1h2m-2 0h2m-2 1h2m-2 0h2m-2 1h2m-2 1h2m-2 0h2m-2 2h2m-2 1h2m-2 1h2m-2 0h2m-2 1h2m-2 2h2m-2 2h2m-2 0h2m-1-12h2m-2 2h2m-2 2h2m-2 0h2m-2 2h2m-2 1h2m-2 1h2m-2 1h2m-2 0h2m-2 0h2m-2 2h2m-2 0h2m-2 3h2m-1-29h2m-2 9h2m-2 2h2m-2 6h2m-2 2h2m-2 2h2m-2 1h2m-2 3h2m-2 0h2m-2 0h2m-2 1h2m-2 0h2m-2 1h2m-2 0h2m-2 6h2m-2 7h2m-1-26h2m-2 2h2m-2 1h2m-2 2h2m-2 3h2m-2 0h2m-2 1h2m-2 0h2m-2 2h2m-2 0h2m-2 1h2m-2 1h2m-2 1h2m-2 0h2m-2 1h2m-2 2h2m-1-16h2m-2 1h2m-2 2h2m-2 0h2m-2 2h2m-2 3h2m-2 0h2m-2 1h2m-2 0h2m-2 5h2m-1-13h2m-2 0h2m-2 2h2m-2 2h2m-2 1h2m-2 1h2m-2 0h2m-2 0h2m-2 3h2m-2 0h2m-2 1h2m-2 4h2m-1-19h2m-2 5h2m-2 1h2m-2 0h2m-2 1h2m-2 2h2m-2 0h2m-2 2h2m-2 2h2m-2 0h2m-2 0h2m-2 0h2m-2 1h2m-2 0h2m-2 0h2m-2 2h2m-2 2h2m-2 2h2m-2 2h2m-1-16h2m-2 1h2m-2 0h2m-2 2h2m-2 0h2m-2 2h2m-2 2h2m-2 1h2m-2 0h2m-2 1h2m-2 0h2m-2 2h2m-1-19h2m-2 6h2m-2 1h2m-2 2h2m-2 1h2m-2 0h2m-2 0h2m-2 2h2m-2 0h2m-2 0h2m-2 1h2m-2 1h2m-2 2h2m-2 2h2m-2 0h2m-2 1h2m-2 3h2m-1-15h2m-2 2h2m-2 0h2m-2 1h2m-2 3h2m-2 2h2m-2 2h2m-2 1h2m-1-8h2m-2 1h2m-2 1h2m-2 0h2m-2 1h2m-2 2h2m-2 1h2m-2 0h2m-2 2h2m-2 0h2m-2 3h2m-1-14h2m-2 2h2m-2 0h2m-2 1h2m-2 6h2m-2 4h2m-2 1h2m-1-15h2m-2 0h2m-2 3h2m-2 1h2m-2 0h2m-2 1h2m-2 1h2m-2 1h2m-2 1h2m-2 0h2m-2 1h2m-2 0h2m-2 4h2m-2 4h2m-1-19h2m-2 1h2m-2 2h2m-2 3h2m-2 1h2m-2 1h2m-2 0h2m-2 0h2m-2 1h2m-2 0h2m-2 1h2m-2 2h2m-2 5h2m-2 1h2m-1-17h2m-2 3h2m-2 2h2m-2 2h2m-2 0h2m-2 0h2m-2 1h2m-2 0h2m-2 6h2m-2 0h2m-1-12h2m-2 1h2m-2 0h2m-2 0h2m-2 1h2m-2 1h2m-2 2h2m-2 4h2m-2 0h2m-2 2h2m-2 0h2m-2 0h2m-1-14h2m-2 1h2m-2 2h2m-2 1h2m-2 3h2m-2 1h2m-2 0h2m-2 0h2m-2 1h2m-2 1h2m-2 2h2m-2 1h2m-2 0h2m-2 2h2m-2 2h2m-1-16h2m-2 0h2m-2 1h2m-2 4h2m-2 0h2m-2 0h2m-2 1h2m-2 0h2m-2 1h2m-2 1h2m-2 1h2m-2 1h2m-2 1h2m-2 1h2m-2 1h2m-2 2h2m-1-20h2m-2 7h2m-2 1h2m-2 1h2m-2 1h2m-2 1h2m-2 2h2m-2 1h2m-2 1h2m-2 2h2m-1-14h2m-2 6h2m-2 2h2m-2 1h2m-2 3h2m-2 0h2m-2 0h2m-2 9h2m-1-20h2m-2 4h2m-2 1h2m-2 0h2m-2 1h2m-2 4h2m-2 1h2m-2 2h2m-2 1h2m-2 0h2m-2 1h2m-1-12h2m-2 1h2m-2 1h2m-2 1h2m-2 2h2m-2 1h2m-2 1h2m-2 2h2m-2 4h2m-1-13h2m-2 3h2m-2 3h2m-2 1h2m-2 0h2m-2 0h2m-2 3h2m-2 3h2m-2 1h2m-2 2h2m-1-20h2m-2 5h2m-2 0h2m-2 1h2m-2 1h2m-2 2h2m-2 0h2m-2 1h2m-2 1h2m-2 0h2m-2 1h2m-2 1h2m-2 2h2m-2 1h2m-2 1h2m-2 1h2m-2 0h2m-2 11h2m-1-24h2m-2 0h2m-2 1h2m-2 0h2m-2 0h2m-2 1h2m-2 0h2m-2 2h2m-2 1h2m-2 2h2m-2 0h2m-2 4h2m-1-13h2m-2 1h2m-2 2h2m-2 0h2m-2 1h2m-2 1h2m-2 2h2m-2 1h2m-2 0h2m-2 0h2m-2 1h2m-2 0h2m-2 0h2m-2 0h2m-2 2h2m-2 1h2m-2 0h2m-2 0h2m-2 0h2m-2 2h2m-2 0h2m-2 0h2m-1-12h2m-2 7h2m-2 0h2m-2 0h2m-2 1h2m-2 3h2m-2 0h2m-2 1h2m-2 1h2m-2 8h2m-1-27h2m-2 4h2m-2 2h2m-2 1h2m-2 1h2m-2 1h2m-2 1h2m-2 1h2m-2 0h2m-2 3h2m-2 1h2m-2 5h2m-1-18h2m-2 1h2m-2 1h2m-2 5h2m-2 4h2m-2 1h2m-2 1h2m-2 2h2m-2 0h2m-2 0h2m-2 3h2m-1-18h2m-2 1h2m-2 3h2m-2 2h2m-2 4h2m-2 0h2m-2 1h2m-2 3h2m-2 1h2m-1-15h2m-2 3h2m-2 3h2m-2 1h2m-2 0h2m-2 0h2m-2 1h2m-2 0h2m-2 2h2m-2 0h2m-2 1h2m-2 1h2m-2 1h2m-1-21h2m-2 17h2m-2 1h2m-2 0h2m-2 2h2m-2 1h2m-2 2h2m-2 2h2m-1-16h2m-2 4h2m-2 0h2m-2 0h2m-2 2h2m-2 0h2m-2 1h2m-2 1h2m-2 0h2m-2 2h2m-2 0h2m-2 0h2m-2 2h2m-2 2h2m-2 1h2m-1-10h2m-2 2h2m-2 0h2m-2 6h2m-2 2h2m-2 0h2m-2 1h2m-2 9h2m-1-23h2m-2 0h2m-2 0h2m-2 1h2m-2 1h2m-2 0h2m-2 1h2m-2 0h2m-2 2h2m-2 0h2m-2 1h2m-2 2h2m-2 1h2m-2 4h2m-2 2h2m-2 3h2m-1-20h2m-2 3h2m-2 4h2m-2 1h2m-2 1h2m-2 0h2m-2 4h2m-2 0h2m-2 1h2m-2 2h2m-1-16h2m-2 5h2m-2 1h2m-2 1h2m-2 0h2m-2 1h2m-2 0h2m-2 0h2m-2 3h2m-2 0h2m-2 1h2m-2 1h2m-2 4h2m-1-15h2m-2 3h2m-2 1h2m-2 1h2m-2 1h2m-2 1h2m-2 0h2m-2 1h2m-2 0h2m-1-10h2m-2 2h2m-2 2h2m-2 1h2m-2 2h2m-2 1h2m-2 0h2m-2 2h2m-2 5h2m-2 2h2m-1-15h2m-2 0h2m-2 1h2m-2 1h2m-2 4h2m-2 1h2m-2 5h2m-2 1h2m-2 5h2m-1-17h2m-2 2h2m-2 0h2m-2 0h2m-2 1h2m-2 0h2m-2 2h2m-2 0h2m-2 1h2m-2 0h2m-2 0h2m-2 2h2m-2 0h2m-2 1h2m-2 1h2m-2 2h2m-2 1h2m-1-24h2m-2 7h2m-2 3h2m-2 2h2m-2 2h2m-2 2h2m-2 1h2m-2 0h2m-2 1h2m-2 0h2m-2 1h2m-2 0h2m-2 1h2m-2 1h2m-2 1h2m-2 0h2m-2 1h2m-2 0h2m-2 15h2m-1-28h2m-2 1h2m-2 1h2m-2 2h2m-2 2h2m-2 1h2m-2 1h2m-2 3h2m-2 1h2m-2 1h2m-1-14h2m-2 1h2m-2 2h2m-2 2h2m-2 1h2m-2 0h2m-2 0h2m-2 2h2m-2 2h2m-2 1h2m-2 0h2m-2 0h2m-2 1h2m-2 4h2m-2 7h2m-1-18h2m-2 3h2m-2 0h2m-2 1h2m-2 0h2m-2 3h2m-2 0h2m-2 0h2m-2 3h2m-1-16h2m-2 2h2m-2 3h2m-2 0h2m-2 2h2m-2 0h2m-2 0h2m-2 2h2m-2 2h2m-2 1h2m-2 1h2m-2 1h2m-2 1h2m-2 8h2m-1-20h2m-2 0h2m-2 2h2m-2 1h2m-2 0h2m-2 0h2m-2 0h2m-2 2h2m-2 1h2m-2 1h2m-2 0h2m-2 2h2m-2 1h2m-2 3h2m-2 2h2m-1-34h2m-2 6h2m-2 11h2m-2 1h2m-2 1h2m-2 0h2m-2 1h2m-2 1h2m-2 6h2m-2 0h2m-2 4h2m-2 1h2m-1-15h2m-2 2h2m-2 2h2m-2 0h2m-2 0h2m-2 2h2m-2 4h2m-2 2h2m-1-17h2m-2 3h2m-2 5h2m-2 1h2m-2 0h2m-2 1h2m-2 1h2m-2 1h2m-2 3h2m-2 4h2m-2 0h2m-2 3h2m-1-16h2m-2 1h2m-2 0h2m-2 0h2m-2 0h2m-2 1h2m-2 1h2m-2 1h2m-2 1h2m-2 1h2m-2 1h2m-2 3h2m-2 0h2m-2 0h2m-2 0h2m-2 1h2m-2 2h2m-2 0h2m-1-12h2m-2 0h2m-2 1h2m-2 0h2m-2 2h2m-2 1h2m-2 4h2m-2 4h2m-2 2h2m-1-14h2m-2 0h2m-2 3h2m-2 1h2m-2 2h2m-2 1h2m-2 1h2m-2 2h2m-2 0h2m-2 1h2m-2 0h2m-2 0h2m-2 1h2m-2 1h2m-2 0h2m-1-16h2m-2 4h2m-2 1h2m-2 5h2m-2 1h2m-2 0h2m-2 4h2m-2 1h2m-1-16h2m-2 2h2m-2 4h2m-2 3h2m-2 0h2m-2 0h2m-2 2h2m-2 2h2m-2 0h2m-2 0h2m-2 5h2m-1-15h2m-2 1h2m-2 0h2m-2 0h2m-2 1h2m-2 0h2m-2 1h2m-2 1h2m-2 0h2m-2 2h2m-2 0h2m-2 2h2m-2 0h2m-2 1h2m-2 0h2m-2 1h2m-2 1h2m-2 1h2m-2 1h2m-2 1h2m-2 1h2m-1-18h2m-2 5h2m-2 0h2m-2 0h2m-2 3h2m-2 0h2m-2 1h2m-2 1h2m-2 0h2m-2 1h2m-2 2h2m-2 1h2m-2 0h2m-2 2h2m-2 1h2m-1-17h2m-2 1h2m-2 2h2m-2 0h2m-2 2h2m-2 2h2m-2 1h2m-2 0h2m-2 1h2m-2 1h2m-2 2h2m-2 2h2m-1-9h2m-2 0h2m-2 1h2m-2 1h2m-2 0h2m-2 2h2m-2 0h2m-2 1h2m-2 0h2m-2 2h2m-2 1h2m-2 0h2m-2 1h2m-1-11h2m-2 2h2m-2 0h2m-2 1h2m-2 2h2m-2 1h2m-2 0h2m-2 1h2m-2 1h2m-2 0h2m-2 1h2m-2 4h2m-1-16h2m-2 4h2m-2 0h2m-2 1h2m-2 2h2m-2 1h2m-2 1h2m-2 2h2m-2 2h2m-2 0h2m-2 1h2m-1-11h2m-2 1h2m-2 0h2m-2 3h2m-2 0h2m-2 1h2m-2 1h2m-2 3h2m-2 0h2m-2 0h2m-2 2h2m-2 0h2m-2 1h2m-2 0h2m-1-13h2m-2 1h2m-2 0h2m-2 0h2m-2 1h2m-2 1h2m-2 0h2m-2 3h2m-2 2h2m-2 3h2m-2 0h2m-2 0h2m-2 0h2m-2 0h2m-2 1h2m-2 1h2m-2 3h2m-1-16h2m-2 1h2m-2 1h2m-2 3h2m-2 1h2m-2 3h2m-2 1h2m-2 1h2m-2 1h2m-2 2h2m-1-15h2m-2 3h2m-2 0h2m-2 4h2m-2 0h2m-2 1h2m-2 0h2m-2 1h2m-2 1h2m-2 0h2m-2 1h2m-2 0h2m-2 2h2m-2 1h2m-1-14h2m-2 3h2m-2 0h2m-2 3h2m-2 1h2m-2 1h2m-2 1h2m-2 1h2m-2 0h2m-2 2h2m-2 0h2m-1-12h2m-2 4h2m-2 0h2m-2 1h2m-2 2h2m-2 0h2m-2 1h2m-2 1h2m-2 1h2m-2 0h2m-2 1h2m-2 3h2m-1-17h2m-2 3h2m-2 1h2m-2 5h2m-2 0h2m-2 0h2m-2 3h2m-2 0h2m-2 3h2m-2 0h2m-2 1h2m-2 0h2m-1-11h2m-2 1h2m-2 0h2m-2 4h2m-2 0h2m-2 1h2m-2 0h2m-2 0h2m-2 0h2m-2 1h2m-2 0h2m-2 1h2m-2 1h2m-2 2h2m-2 2h2m-2 0h2m-2 1h2m-1-16h2m-2 1h2m-2 0h2m-2 1h2m-2 1h2m-2 1h2m-2 0h2m-2 0h2m-2 1h2m-2 0h2m-2 1h2m-2 3h2m-2 4h2m-2 1h2m-2 0h2m-2 1h2m-1-10h2m-2 0h2m-2 0h2m-2 2h2m-2 2h2m-2 1h2m-2 2h2m-2 0h2m-1-13h2m-2 4h2m-2 0h2m-2 0h2m-2 4h2m-2 0h2m-2 1h2m-2 0h2m-2 3h2m-2 0h2m-2 1h2m-2 0h2m-2 1h2m-2 2h2m-1-11h2m-2 1h2m-2 2h2m-2 3h2m-2 2h2m-2 2h2m-2 1h2m-2 0h2m-2 1h2m-1-16h2m-2 3h2m-2 0h2m-2 1h2m-2 0h2m-2 1h2m-2 1h2m-2 0h2m-2 0h2m-2 1h2m-2 1h2m-2 1h2m-2 0h2m-2 0h2m-2 2h2m-2 1h2m-2 1h2m-1-12h2m-2 0h2m-2 3h2m-2 4h2m-2 0h2m-2 3h2m-2 2h2m-2 2h2m-2 2h2m-1-18h2m-2 2h2m-2 1h2m-2 0h2m-2 2h2m-2 0h2m-2 2h2m-2 1h2m-2 0h2m-2 1h2m-2 0h2m-2 0h2m-2 0h2m-2 1h2m-2 2h2m-1-13h2m-2 2h2m-2 2h2m-2 0h2m-2 2h2m-2 2h2m-2 1h2m-2 1h2m-2 0h2m-2 0h2m-2 1h2m-2 0h2m-2 0h2m-2 8h2m-1-18h2m-2 1h2m-2 4h2m-2 1h2m-2 2h2m-2 0h2m-2 0h2m-2 1h2m-2 0h2m-2 1h2m-2 0h2m-2 1h2m-2 1h2m-2 0h2m-2 2h2m-2 0h2m-2 6h2m-1-15h2m-2 1h2m-2 0h2m-2 0h2m-2 1h2m-2 0h2m-2 0h2m-2 4h2m-2 1h2m-2 0h2m-2 2h2m-1-14h2m-2 1h2m-2 6h2m-2 0h2m-2 2h2m-2 3h2m-2 1h2m-2 0h2m-2 1h2m-2 1h2m-2 3h2m-1-15h2m-2 2h2m-2 0h2m-2 0h2m-2 1h2m-2 0h2m-2 0h2m-2 0h2m-2 0h2m-2 6h2m-2 2h2m-1-13h2m-2 0h2m-2 1h2m-2 1h2m-2 2h2m-2 1h2m-2 0h2m-2 0h2m-2 4h2m-2 1h2m-2 0h2m-2 1h2m-2 0h2m-2 1h2m-2 1h2m-2 1h2m-1-15h2m-2 4h2m-2 2h2m-2 1h2m-2 1h2m-2 1h2m-2 1h2m-2 0h2m-2 0h2m-2 2h2m-2 0h2m-2 13h2m-1-21h2m-2 2h2m-2 1h2m-2 2h2m-2 0h2m-2 1h2m-2 2h2m-2 1h2m-2 0h2m-2 1h2m-2 0h2m-2 1h2m-2 2h2m-2 1h2m-2 4h2m-1-20h2m-2 1h2m-2 3h2m-2 1h2m-2 1h2m-2 0h2m-2 2h2m-2 0h2m-2 0h2m-2 4h2m-2 4h2m-1-14h2m-2 0h2m-2 1h2m-2 2h2m-2 0h2m-2 3h2m-2 0h2m-2 1h2m-2 0h2m-2 1h2m-2 2h2m-2 0h2m-2 0h2m-2 1h2m-2 0h2m-2 0h2m-2 1h2m-2 0h2m-2 1h2m-1-16h2m-2 1h2m-2 2h2m-2 1h2m-2 2h2m-2 1h2m-2 1h2m-2 0h2m-2 1h2m-2 1h2m-2 0h2m-2 1h2m-2 1h2m-2 2h2m-2 1h2m-2 2h2m-1-15h2m-2 2h2m-2 3h2m-2 0h2m-2 1h2m-2 0h2m-2 1h2m-2 2h2m-2 3h2m-1-11h2m-2 0h2m-2 2h2m-2 1h2m-2 1h2m-2 5h2m-1-18h2m-2 8h2m-2 3h2m-2 0h2m-2 2h2m-2 0h2m-2 2h2m-2 6h2m-1-14h2m-2 0h2m-2 2h2m-2 3h2m-2 1h2m-2 1h2m-2 1h2m-2 3h2m-2 0h2m-2 1h2m-1-13h2m-2 0h2m-2 2h2m-2 0h2m-2 2h2m-2 0h2m-2 1h2m-2 0h2m-2 5h2m-2 1h2m-2 1h2m-2 1h2m-2 3h2m-1-16h2m-2 2h2m-2 1h2m-2 3h2m-2 0h2m-2 1h2m-2 0h2m-2 1h2m-2 0h2m-2 0h2m-2 1h2m-2 1h2m-2 2h2m-2 1h2m-1-17h2m-2 7h2m-2 1h2m-2 1h2m-2 0h2m-2 0h2m-2 4h2m-2 1h2m-2 0h2m-2 0h2m-2 0h2m-2 0h2m-2 1h2m-2 3h2m-2 1h2m-1-18h2m-2 1h2m-2 1h2m-2 4h2m-2 0h2m-2 4h2m-2 2h2m-2 1h2m-2 1h2m-2 2h2m-2 0h2m-1-14h2m-2 4h2m-2 0h2m-2 2h2m-2 1h2m-2 1h2m-2 2h2m-1-9h2m-2 1h2m-2 1h2m-2 1h2m-2 1h2m-2 3h2m-2 0h2m-2 2h2m-2 2h2m-2 1h2m-2 1h2m-2 4h2m-1-15h2m-2 1h2m-2 1h2m-2 2h2m-2 1h2m-2 0h2m-2 2h2m-2 1h2m-2 0h2m-2 1h2m-2 2h2m-2 1h2m-2 2h2m-2 0h2m-2 2h2m-1-14h2m-2 0h2m-2 0h2m-2 1h2m-2 1h2m-2 1h2m-2 1h2m-2 0h2m-2 1h2m-2 0h2m-2 2h2m-2 3h2m-2 0h2m-2 2h2m-1-17h2m-2 3h2m-2 1h2m-2 0h2m-2 0h2m-2 1h2m-2 0h2m-2 6h2m-2 2h2m-2 1h2m-2 1h2m-2 0h2m-1-13h2m-2 0h2m-2 4h2m-2 0h2m-2 1h2m-2 2h2m-2 1h2m-2 3h2m-2 0h2m-2 1h2m-2 0h2m-2 2h2m-2 2h2m-1-14h2m-2 2h2m-2 1h2m-2 1h2m-2 0h2m-2 3h2m-2 1h2m-2 1h2m-2 1h2m-2 5h2m-2 5h2m-1-23h2m-2 0h2m-2 3h2m-2 1h2m-2 1h2m-2 1h2m-2 1h2m-2 1h2m-2 1h2m-2 2h2m-2 0h2m-2 0h2m-2 1h2m-2 8h2m-1-19h2m-2 1h2m-2 0h2m-2 1h2m-2 1h2m-2 0h2m-2 0h2m-2 2h2m-2 2h2m-2 1h2m-2 0h2m-2 1h2m-2 1h2m-2 1h2m-2 1h2m-2 0h2m-2 0h2m-2 1h2m-2 0h2m-1-15h2m-2 4h2m-2 0h2m-2 1h2m-2 1h2m-2 1h2m-2 1h2m-2 0h2m-2 3h2m-2 2h2m-2 1h2m-2 0h2m-2 6h2m-2 0h2m-1-18h2m-2 2h2m-2 2h2m-2 0h2m-2 2h2m-2 1h2m-2 0h2m-2 1h2m-2 2h2m-2 3h2m-2 1h2m-1-17h2m-2 3h2m-2 2h2m-2 3h2m-2 1h2m-2 0h2m-2 3h2m-2 1h2m-2 1h2m-2 1h2m-2 1h2m-2 2h2m-2 2h2m-1-27h2m-2 11h2m-2 1h2m-2 1h2m-2 1h2m-2 0h2m-2 1h2m-2 1h2m-2 2h2m-2 2h2m-2 1h2m-2 2h2m-2 1h2m-1-16h2m-2 4h2m-2 0h2m-2 4h2m-2 2h2m-2 3h2m-2 0h2m-2 2h2m-2 0h2m-2 0h2m-2 1h2m-2 3h2m-1-14h2m-2 1h2m-2 2h2m-2 0h2m-2 1h2m-2 0h2m-2 2h2m-2 2h2m-2 1h2m-2 0h2m-2 1h2m-1-16h2m-2 2h2m-2 1h2m-2 4h2m-2 0h2m-2 2h2m-2 1h2m-2 0h2m-2 0h2m-2 1h2m-2 2h2m-2 0h2m-2 1h2m-2 2h2m-2 2h2m-1-17h2m-2 2h2m-2 3h2m-2 0h2m-2 1h2m-2 3h2m-2 2h2m-2 1h2m-2 0h2m-2 0h2m-2 0h2m-2 0h2m-2 1h2m-2 2h2m-2 2h2m-1-16h2m-2 4h2m-2 1h2m-2 0h2m-2 1h2m-2 1h2m-2 1h2m-2 1h2m-2 1h2m-2 0h2m-2 0h2m-2 1h2m-2 1h2m-2 0h2m-2 0h2m-2 0h2m-2 6h2m-1-18h2m-2 0h2m-2 1h2m-2 2h2m-2 0h2m-2 2h2m-2 0h2m-2 2h2m-2 3h2m-2 4h2m-2 1h2m-1-12h2m-2 0h2m-2 2h2m-2 2h2m-2 5h2m-2 0h2m-1-15h2m-2 2h2m-2 3h2m-2 1h2m-2 0h2m-2 1h2m-2 0h2m-2 0h2m-2 4h2m-2 2h2m-2 0h2m-2 0h2m-2 2h2m-2 1h2m-2 5h2m-1-19h2m-2 4h2m-2 1h2m-2 3h2m-2 0h2m-2 1h2m-2 2h2m-2 1h2m-2 0h2m-2 1h2m-2 4h2m-2 1h2m-1-15h2m-2 1h2m-2 1h2m-2 3h2m-2 0h2m-2 1h2m-2 0h2m-2 0h2m-2 2h2m-2 1h2m-2 0h2m-2 1h2m-2 0h2m-2 0h2m-2 5h2m-1-17h2m-2 0h2m-2 3h2m-2 3h2m-2 1h2m-2 1h2m-2 1h2m-2 0h2m-2 2h2m-2 1h2m-2 0h2m-2 1h2m-2 1h2m-2 2h2m-1-16h2m-2 9h2m-2 0h2m-2 1h2m-2 0h2m-2 1h2m-2 1h2m-2 2h2m-1-14h2m-2 2h2m-2 3h2m-2 1h2m-2 2h2m-2 0h2m-2 1h2m-2 0h2m-2 0h2m-2 2h2m-2 0h2m-2 1h2m-2 19h2m-1-32h2m-2 1h2m-2 3h2m-2 1h2m-2 0h2m-2 1h2m-2 0h2m-2 3h2m-2 0h2m-2 3h2m-2 1h2m-2 2h2m-2 2h2m-2 3h2m-1-18h2m-2 2h2m-2 3h2m-2 0h2m-2 0h2m-2 4h2m-2 7h2m-1-18h2m-2 1h2m-2 1h2m-2 1h2m-2 0h2m-2 0h2m-2 1h2m-2 1h2m-2 0h2m-2 1h2m-2 0h2m-2 2h2m-2 0h2m-2 2h2m-2 0h2m-2 0h2m-2 1h2m-2 0h2m-2 0h2m-2 0h2m-2 0h2m-2 2h2m-2 0h2m-2 1h2m-2 1h2m-2 2h2m-1-12h2m-2 0h2m-2 1h2m-2 2h2m-2 1h2m-2 0h2m-2 2h2m-2 1h2m-2 1h2m-2 2h2m-1-11h2m-2 0h2m-2 1h2m-2 1h2m-2 0h2m-2 1h2m-2 0h2m-2 1h2m-2 3h2m-2 2h2m-2 1h2m-2 0h2m-2 1h2m-2 2h2m-1-20h2m-2 4h2m-2 0h2m-2 1h2m-2 0h2m-2 2h2m-2 1h2m-2 0h2m-2 3h2m-2 1h2m-2 1h2m-2 1h2m-2 2h2m-2 0h2m-2 3h2m-1-16h2m-2 5h2m-2 8h2m-2 0h2m-2 1h2m-2 1h2m-2 0h2m-2 0h2m-2 2h2m-2 0h2m-2 1h2m-1-18h2m-2 5h2m-2 0h2m-2 1h2m-2 1h2m-2 3h2m-2 0h2m-2 2h2m-2 4h2m-1-15h2m-2 1h2m-2 2h2m-2 0h2m-2 1h2m-2 4h2m-2 0h2m-2 0h2m-2 0h2m-2 2h2m-2 0h2m-2 0h2m-2 1h2m-2 0h2m-2 2h2m-2 0h2m-2 2h2m-1-15h2m-2 2h2m-2 1h2m-2 2h2m-2 0h2m-2 1h2m-2 2h2m-2 1h2m-2 0h2m-2 1h2m-2 0h2m-2 0h2m-2 1h2m-2 1h2m-2 1h2m-2 1h2m-1-16h2m-2 4h2m-2 0h2m-2 1h2m-2 2h2m-2 2h2m-2 0h2m-2 0h2m-2 3h2m-2 3h2m-2 2h2m-2 1h2m-2 1h2m-2 1h2m-1-18h2m-2 1h2m-2 1h2m-2 2h2m-2 2h2m-2 2h2m-2 0h2m-2 1h2m-2 1h2m-2 1h2m-2 2h2m-2 0h2m-2 0h2m-2 2h2m-1-15h2m-2 1h2m-2 2h2m-2 1h2m-2 1h2m-2 0h2m-2 0h2m-2 2h2m-2 0h2m-2 3h2m-2 0h2m-2 1h2m-2 1h2m-2 1h2m-2 3h2m-1-15h2m-2 3h2m-2 0h2m-2 3h2m-2 1h2m-2 3h2m-2 0h2m-2 0h2m-2 1h2m-2 1h2m-2 4h2m-1-13h2m-2 1h2m-2 0h2m-2 0h2m-2 0h2m-2 0h2m-2 2h2m-2 3h2m-2 0h2m-2 2h2m-2 1h2m-2 0h2m-2 1h2m-2 0h2m-2 1h2m-2 3h2m-1-16h2m-2 2h2m-2 1h2m-2 0h2m-2 1h2m-2 0h2m-2 0h2m-2 0h2m-2 3h2m-2 2h2m-2 2h2m-2 2h2m-2 0h2m-2 1h2m-2 2h2m-1-17h2m-2 2h2m-2 1h2m-2 2h2m-2 1h2m-2 0h2m-2 1h2m-2 2h2m-2 0h2m-2 1h2m-2 2h2m-2 0h2m-1-10h2m-2 2h2m-2 1h2m-2 0h2m-2 1h2m-2 0h2m-2 0h2m-2 1h2m-2 0h2m-2 2h2m-2 1h2m-2 2h2m-2 1h2m-1-10h2m-2 1h2m-2 1h2m-2 2h2m-2 1h2m-2 4h2m-2 3h2m-2 1h2m-2 0h2m-2 3h2m-1-21h2m-2 2h2m-2 0h2m-2 1h2m-2 1h2m-2 0h2m-2 2h2m-2 1h2m-2 0h2m-2 1h2m-2 1h2m-2 2h2m-2 0h2m-2 0h2m-2 1h2m-2 1h2m-2 1h2m-2 4h2m-1-15h2m-2 3h2m-2 1h2m-2 3h2m-2 1h2m-2 1h2m-2 1h2m-2 0h2m-2 3h2m-2 1h2m-2 0h2m-1-8h2m-2 1h2m-2 1h2m-2 1h2m-2 1h2m-2 0h2m-2 1h2m-2 3h2m-1-16h2m-2 1h2m-2 2h2m-2 1h2m-2 0h2m-2 1h2m-2 1h2m-2 0h2m-2 1h2m-2 2h2m-2 0h2m-2 1h2m-2 0h2m-2 1h2m-2 2h2m-2 1h2m-2 1h2m-2 1h2m-2 4h2m-1-18h2m-2 0h2m-2 2h2m-2 1h2m-2 0h2m-2 0h2m-2 2h2m-2 0h2m-2 0h2m-2 1h2m-2 4h2m-2 0h2m-2 1h2m-2 2h2m-2 0h2m-1-14h2m-2 2h2m-2 0h2m-2 2h2m-2 1h2m-2 2h2m-2 0h2m-2 1h2m-2 0h2m-2 4h2m-2 1h2m-2 3h2m-1-16h2m-2 0h2m-2 2h2m-2 0h2m-2 1h2m-2 0h2m-2 0h2m-2 1h2m-2 0h2m-2 0h2m-2 3h2m-2 3h2m-2 1h2m-2 2h2m-1-13h2m-2 0h2m-2 1h2m-2 3h2m-2 1h2m-2 1h2m-2 0h2m-2 1h2m-2 0h2m-2 3h2m-2 2h2m-1-14h2m-2 3h2m-2 1h2m-2 0h2m-2 2h2m-2 2h2m-2 0h2m-2 1h2m-2 1h2m-2 1h2m-2 0h2m-2 1h2m-2 2h2m-2 1h2m-2 7h2m-1-18h2m-2 1h2m-2 2h2m-2 2h2m-2 1h2m-2 1h2m-2 0h2m-2 2h2m-2 2h2m-1-14h2m-2 1h2m-2 2h2m-2 2h2m-2 1h2m-2 1h2m-2 0h2m-2 3h2m-2 1h2m-2 3h2m-2 2h2m-1-14h2m-2 4h2m-2 3h2m-2 1h2m-2 1h2m-2 0h2m-2 0h2m-2 2h2m-2 0h2m-2 2h2m-2 0h2m-2 2h2m-1-15h2m-2 1h2m-2 1h2m-2 0h2m-2 0h2m-2 1h2m-2 1h2m-2 0h2m-2 1h2m-2 5h2m-2 1h2m-2 2h2m-2 1h2m-1-17h2m-2 2h2m-2 1h2m-2 2h2m-2 3h2m-2 2h2m-2 1h2m-2 3h2m-2 3h2m-2 2h2m-1-17h2m-2 4h2m-2 0h2m-2 1h2m-2 1h2m-2 1h2m-2 0h2m-2 0h2m-2 0h2m-2 2h2m-2 1h2m-2 6h2m-1-15h2m-2 0h2m-2 9h2m-2 1h2m-2 1h2m-2 1h2m-2 3h2m-2 1h2m-2 1h2m-1-22h2m-2 4h2m-2 4h2m-2 1h2m-2 2h2m-2 2h2m-2 3h2m-2 0h2m-1-14h2m-2 2h2m-2 1h2m-2 1h2m-2 0h2m-2 0h2m-2 2h2m-2 1h2m-2 3h2m-2 1h2m-2 1h2m-2 2h2m-2 1h2m-1-22h2m-2 8h2m-2 1h2m-2 2h2m-2 1h2m-2 1h2m-2 1h2m-2 1h2m-2 1h2m-2 0h2m-2 0h2m-2 2h2m-2 0h2m-2 3h2m-2 0h2m-1-14h2m-2 1h2m-2 2h2m-2 1h2m-2 1h2m-2 1h2m-2 1h2m-2 2h2m-2 0h2m-2 3h2m-2 1h2m-2 0h2m-2 3h2m-2 1h2m-2 7h2m-1-25h2m-2 8h2m-2 3h2m-2 0h2m-2 2h2m-2 3h2m-2 1h2m-2 2h2m-1-15h2m-2 0h2m-2 1h2m-2 1h2m-2 2h2m-2 2h2m-2 1h2m-2 1h2m-2 1h2m-2 1h2m-2 1h2m-2 0h2m-2 1h2m-2 1h2m-2 0h2m-2 2h2m-1-15h2m-2 1h2m-2 4h2m-2 1h2m-2 0h2m-2 0h2m-2 1h2m-2 0h2m-2 3h2m-2 0h2m-2 2h2m-2 3h2m-1-18h2m-2 1h2m-2 3h2m-2 0h2m-2 0h2m-2 0h2m-2 1h2m-2 0h2m-2 0h2m-2 0h2m-2 1h2m-2 0h2m-2 1h2m-2 1h2m-2 2h2m-2 2h2m-2 0h2m-2 1h2m-2 0h2m-2 3h2m-2 1h2m-2 1h2m-2 1h2m-1-18h2m-2 0h2m-2 4h2m-2 1h2m-2 1h2m-2 2h2m-2 0h2m-2 0h2m-2 1h2m-2 2h2m-2 2h2m-2 1h2m-2 2h2m-2 1h2m-1-12h2m-2 5h2m-2 2h2m-2 1h2m-2 0h2m-2 4h2m-1-13h2m-2 0h2m-2 2h2m-2 1h2m-2 0h2m-2 0h2m-2 2h2m-2 2h2m-1-9h2m-2 2h2m-2 3h2m-2 2h2m-2 0h2m-2 2h2m-2 4h2m-2 4h2m-1-15h2m-2 1h2m-2 0h2m-2 3h2m-2 0h2m-2 1h2m-2 1h2m-2 1h2m-2 1h2m-2 0h2m-2 3h2m-2 0h2m-1-13h2m-2 0h2m-2 2h2m-2 1h2m-2 0h2m-2 0h2m-2 2h2m-2 1h2m-2 0h2m-2 2h2m-2 0h2m-2 0h2m-2 1h2m-2 1h2m-2 1h2m-2 2h2m-2 1h2m-2 1h2m-1-17h2m-2 2h2m-2 2h2m-2 2h2m-2 0h2m-2 1h2m-2 0h2m-2 1h2m-2 0h2m-2 1h2m-2 0h2m-2 0h2m-2 2h2m-2 1h2m-2 0h2m-2 0h2m-2 2h2m-2 0h2m-2 1h2m-2 0h2m-2 2h2m-2 1h2m-1-18h2m-2 3h2m-2 0h2m-2 1h2m-2 5h2m-2 0h2m-2 1h2m-2 0h2m-2 1h2m-2 0h2m-2 1h2m-2 1h2m-2 2h2m-2 1h2m-1-13h2m-2 0h2m-2 3h2m-2 0h2m-2 0h2m-2 0h2m-2 0h2m-2 1h2m-2 0h2m-2 0h2m-2 0h2m-2 0h2m-2 1h2m-2 0h2m-2 3h2m-2 0h2m-2 0h2m-2 1h2m-2 1h2m-2 2h2m-2 2h2m-1-13h2m-2 2h2m-2 0h2m-2 2h2m-2 0h2m-2 3h2m-2 0h2m-2 2h2m-2 1h2m-2 2h2m-2 6h2m-1-20h2m-2 1h2m-2 4h2m-2 2h2m-2 0h2m-2 2h2m-2 3h2m-1-12h2m-2 2h2m-2 1h2m-2 0h2m-2 2h2m-2 1h2m-2 1h2m-2 0h2m-2 2h2m-2 0h2m-2 2h2m-2 0h2m-2 1h2m-1-12h2m-2 0h2m-2 1h2m-2 1h2m-2 1h2m-2 1h2m-2 2h2m-2 0h2m-2 0h2m-2 0h2m-2 0h2m-2 1h2m-2 1h2m-2 1h2m-2 2h2m-2 3h2m-1-15h2m-2 1h2m-2 2h2m-2 1h2m-2 0h2m-2 1h2m-2 0h2m-2 2h2m-2 1h2m-2 1h2m-2 0h2m-2 0h2m-2 0h2m-2 0h2m-2 0h2m-2 1h2m-2 1h2m-2 1h2m-2 0h2m-2 1h2m-2 3h2m-1-16h2m-2 0h2m-2 2h2m-2 0h2m-2 2h2m-2 0h2m-2 1h2m-2 0h2m-2 1h2m-2 2h2m-2 0h2m-2 1h2m-2 1h2m-2 1h2m-2 1h2m-2 0h2m-2 2h2m-1-9h2m-2 3h2m-2 0h2m-2 1h2m-2 2h2m-2 3h2m-2 1h2m-2 0h2m-2 15h2m-1-31h2m-2 0h2m-2 4h2m-2 1h2m-2 1h2m-2 1h2m-2 0h2m-2 1h2m-2 2h2m-2 0h2m-2 0h2m-2 0h2m-2 2h2m-2 0h2m-2 1h2m-2 1h2m-1-13h2m-2 5h2m-2 1h2m-2 2h2m-2 2h2m-2 1h2m-2 0h2m-2 0h2m-2 5h2m-1-14h2m-2 0h2m-2 4h2m-2 0h2m-2 1h2m-2 0h2m-2 1h2m-2 0h2m-2 2h2m-2 5h2m-2 2h2m-1-17h2m-2 2h2m-2 1h2m-2 1h2m-2 2h2m-2 0h2m-2 1h2m-2 1h2m-2 1h2m-2 1h2m-2 1h2m-2 0h2m-2 1h2m-2 3h2m-1-13h2m-2 0h2m-2 1h2m-2 1h2m-2 0h2m-2 2h2m-2 0h2m-2 2h2m-2 0h2m-2 2h2m-2 0h2m-2 1h2m-2 0h2m-2 0h2m-2 0h2m-2 1h2m-2 1h2m-2 1h2m-2 2h2m-1-14h2m-2 2h2m-2 1h2m-2 1h2m-2 0h2m-2 1h2m-2 1h2m-2 1h2m-2 0h2m-2 0h2m-2 2h2m-2 1h2m-2 1h2m-2 0h2m-2 0h2m-2 2h2m-2 0h2m-1-12h2m-2 0h2m-2 1h2m-2 1h2m-2 2h2m-2 2h2m-2 0h2m-2 2h2m-2 0h2m-2 1h2m-2 0h2m-2 0h2m-2 1h2m-2 3h2m-1-16h2m-2 4h2m-2 0h2m-2 0h2m-2 1h2m-2 1h2m-2 2h2m-2 0h2m-2 0h2m-2 1h2m-2 4h2m-2 4h2m-2 3h2m-1-17h2m-2 1h2m-2 1h2m-2 1h2m-2 2h2m-2 1h2m-2 0h2m-2 0h2m-2 1h2m-2 1h2m-2 1h2m-2 1h2m-2 0h2m-2 1h2m-1-11h2m-2 0h2m-2 1h2m-2 0h2m-2 7h2m-2 2h2m-1-9h2m-2 3h2m-2 1h2m-2 2h2m-2 1h2m-2 0h2m-2 1h2m-2 0h2m-2 2h2m-2 0h2m-2 2h2m-2 2h2m-1-15h2m-2 2h2m-2 8h2m-1-16h2m-2 1h2m-2 5h2m-2 0h2m-2 1h2m-2 0h2m-2 0h2m-2 3h2m-2 2h2m-2 1h2m-2 0h2m-2 1h2m-2 1h2m-2 1h2m-2 0h2m-2 1h2m-2 2h2m-2 11h2m-1-26h2m-2 1h2m-2 1h2m-2 1h2m-2 1h2m-1-3h2m-2 2h2m-2 0h2m-2 0h2m-2 1h2m-2 0h2m-2 2h2m-2 1h2m-2 0h2m-2 2h2m-2 0h2m-2 3h2m-2 0h2m-2 2h2m-2 2h2m-1-17h2m-2 0h2m-2 2h2m-2 1h2m-2 2h2m-2 1h2m-2 2h2m-2 3h2m-2 0h2m-2 1h2m-2 1h2m-2 1h2m-2 0h2m-2 2h2m-1-17h2m-2 0h2m-2 1h2m-2 3h2m-2 0h2m-2 1h2m-2 0h2m-2 1h2m-2 1h2m-2 0h2m-2 1h2m-2 3h2m-2 1h2m-2 0h2m-2 1h2m-2 2h2m-1-8h2m-2 1h2m-2 0h2m-2 1h2m-2 3h2m-2 2h2m-2 2h2m-2 1h2m-2 0h2m-1-10h2m-2 2h2m-2 0h2" stroke="#2e62b5" stroke-width="2" stroke-opacity=".85" fill="none"/><path transform="scale(.5)" filter="url(#bl)" d="M755 434h2m22-36h2m36 39h2m15-14h2m31 2h2m5-55h2m-1 71h2m15-3h2m3-72h2m8 38h2m-1 33h2m28-38h2m2 20h2" stroke="#2e62b5" stroke-width="2" fill="none"/><path transform="scale(.5)" filter="url(#bl)" d="M754 476h2m-2 4h2m-1-5h2m-2 4h2m-1-5h2m-2 0h2m-2 1h2m-2 1h2m-2 1h2m-2 1h2m-2 1h2m-1-4h2m-2 1h2m-2 2h2m-2 2h2m-2 2h2m-1-10h2m-2 1h2m-2 0h2m-2 2h2m-2 0h2m-2 1h2m-2 0h2m-2 1h2m-2 1h2m-2 0h2m-2 1h2m-1-3h2m-2 0h2m-2 1h2m-2 2h2m-1-6h2m-2 2h2m-2 1h2m-1 0h2m-2 2h2m-1-4h2m-2 1h2m-2 2h2m-2 2h2m-2 1h2m-1-4h2m-2 0h2m-2 2h2m-2 1h2m-2 0h2m-2 2h2m-1-9h2m-2 2h2m-2 1h2m-2 1h2m-2 1h2m-2 2h2m-1-5h2m-2 0h2m-2 0h2m-2 8h2m-1-8h2m-2 3h2m-1-6h2m-2 3h2m-2 0h2m-2 1h2m-2 3h2m-2 1h2m-1-8h2m-2 3h2m-2 1h2m-2 4h2m-2 2h2m-1-7h2m-2 3h2m-2 4h2m-1-8h2m-2 3h2m-2 3h2m-1-6h2m-2 0h2m-2 3h2m-2 1h2m-2 0h2m-2 3h2m-2 0h2m-1-8h2m-2 1h2m-2 2h2m-2 1h2m-2 2h2m-2 0h2m-2 1h2m-2 2h2m-1-5h2m-2 1h2m-2 2h2m-2 1h2m-2 1h2m-2 1h2m-1-9h2m-2 0h2m-2 4h2m-2 3h2m-1-3h2m-2 1h2m-2 1h2m-2 2h2m-1-6h2m-2 1h2m-2 1h2m-2 1h2m-2 1h2m-1-6h2m-2 0h2m-2 3h2m-1 2h2m-2 1h2m-2 0h2m-2 0h2m-2 2h2m-1-5h2m-2 0h2m-2 0h2m-2 1h2m-2 0h2m-2 0h2m-2 3h2m-2 1h2m-1-4h2m-2 3h2m-2 1h2m-2 1h2m-1-7h2m-2 1h2m-2 1h2m-2 0h2m-2 1h2m-2 1h2m-1-4h2m-2 1h2m-2 0h2m-2 3h2m-2 1h2m-2 2h2m-1-6h2m-2 1h2m-2 0h2m-2 2h2m-1-12h2m-2 6h2m-2 1h2m-2 1h2m-2 1h2m-2 1h2m-2 1h2m-2 3h2m-1-7h2m-2 1h2m-2 0h2m-2 2h2m-2 1h2m-2 1h2m-1-5h2m-2 1h2m-2 1h2m-2 1h2m-2 1h2m-2 1h2m-2 1h2m-1-7h2m-2 5h2m-2 0h2m-2 2h2m-2 0h2m-2 2h2m-1-11h2m-2 1h2m-2 2h2m-2 1h2m-2 1h2m-2 0h2m-2 1h2m-2 2h2m-1-4h2m-2 6h2m-2 0h2m-1-7h2m-2 3h2m-2 0h2m-2 1h2m-2 1h2m-2 1h2m-1-7h2m-2 3h2m-1-5h2m-2 5h2m-2 1h2m-2 1h2m-2 2h2m-1-5h2m-2 2h2m-2 5h2m-1-8h2m-2 2h2m-2 1h2m-2 0h2m-2 1h2m-2 1h2m-2 2h2m-2 1h2m-1-8h2m-2 2h2m-2 1h2m-2 2h2m-2 0h2m-1-4h2m-2 2h2m-2 1h2m-1-5h2m-2 3h2m-2 0h2m-2 1h2m-2 2h2m-2 2h2m-1-6h2m-2 1h2m-1-4h2m-2 2h2m-2 5h2m-2 2h2m-2 1h2m-1-8h2m-2 1h2m-2 1h2m-2 1h2m-2 3h2m-1-4h2m-2 0h2m-2 1h2m-2 2h2m-2 0h2m-1-7h2m-2 0h2m-2 2h2m-2 2h2m-2 0h2m-1-3h2m-2 1h2m-2 2h2m-2 2h2m-2 2h2m-2 2h2m-1-8h2m-2 1h2m-2 4h2m-1-3h2m-2 0h2m-2 0h2m-2 1h2m-2 5h2m-1-9h2m-2 2h2m-2 0h2m-2 1h2m-2 2h2m-2 1h2m-1-3h2m-2 2h2m-2 1h2m-2 6h2m-1-10h2m-2 1h2m-2 1h2m-2 1h2m-2 3h2m-1-7h2m-2 1h2m-2 0h2m-2 0h2m-2 1h2m-2 1h2m-2 2h2m-2 2h2m-1-4h2m-2 5h2m-1-7h2m-2 2h2m-2 0h2m-2 1h2m-1-6h2m-2 2h2m-2 5h2m-2 1h2m-1-8h2m-2 4h2m-2 0h2m-2 0h2m-2 2h2m-2 1h2m-2 2h2m-2 1h2m-1-6h2m-2 0h2m-2 2h2m-2 1h2m-1-4h2m-2 0h2m-2 2h2m-2 0h2m-2 2h2m-1-5h2m-2 1h2m-2 1h2m-2 1h2m-2 0h2m-2 4h2m-1-7h2m-2 2h2m-1-9h2m-2 7h2m-2 4h2m-2 1h2m-2 0h2m-2 2h2m-1-4h2m-2 5h2m-1-7h2m-2 3h2m-2 1h2m-2 0h2m-2 1h2m-1-4h2m-2 0h2m-2 1h2m-2 2h2m-2 1h2m-2 0h2m-2 1h2m-1-5h2m-2 0h2m-2 0h2m-2 0h2m-2 1h2m-2 0h2m-2 2h2m-2 3h2m-1-8h2m-2 3h2m-2 1h2m-2 3h2m-1-6h2m-2 1h2m-2 2h2m-2 1h2m-2 0h2m-2 1h2m-2 1h2m-2 1h2m-1-7h2m-2 1h2m-2 1h2m-2 1h2m-2 2h2m-1-10h2m-2 3h2m-2 3h2m-2 0h2m-2 1h2m-1-1h2m-2 0h2m-2 1h2m-2 6h2m-1-13h2m-2 5h2m-2 1h2m-2 0h2m-2 1h2m-2 0h2m-2 1h2m-2 2h2m-1-6h2m-2 6h2m-2 2h2m-1-9h2m-2 3h2m-2 1h2m-2 1h2m-2 1h2m-1-3h2m-2 1h2m-2 1h2m-2 0h2m-2 0h2m-2 1h2m-1-4h2m-2 0h2m-2 1h2m-2 2h2m-2 0h2m-1-3h2m-2 5h2m-2 0h2m-1-8h2m-2 5h2m-2 0h2m-2 1h2m-2 1h2m-2 0h2m-2 1h2m-2 2h2m-1-5h2m-2 1h2m-2 2h2m-1-2h2m-2 1h2m-2 0h2m-2 4h2m-1-10h2m-2 3h2m-2 3h2m-1-5h2m-2 9h2m-1-5h2m-2 0h2m-2 5h2m-2 3h2m-1-9h2m-2 0h2m-2 0h2m-2 0h2m-2 3h2m-2 1h2m-2 0h2m-1-4h2m-2 1h2m-2 0h2m-2 0h2m-2 2h2m-1-5h2m-2 2h2m-2 2h2m-2 1h2m-2 5h2m-1-9h2m-2 3h2m-2 1h2m-2 1h2m-1-8h2m-2 2h2m-2 0h2m-2 4h2m-2 1h2m-2 0h2m-1-5h2m-2 2h2m-2 1h2m-2 2h2m-1-6h2m-2 3h2m-2 3h2m-1-10h2m-2 3h2m-2 0h2m-2 5h2m-2 0h2m-2 0h2m-2 0h2m-2 1h2m-2 2h2m-2 0h2m-2 1h2m-1-8h2m-2 0h2m-2 2h2m-2 1h2m-2 4h2m-1-8h2m-2 2h2m-2 0h2m-2 1h2m-2 0h2m-1 0h2m-2 1h2m-2 0h2m-2 2h2m-2 1h2m-1-3h2m-2 1h2m-1-6h2m-2 5h2m-2 2h2m-2 1h2m-2 0h2m-2 1h2m-1-4h2m-2 3h2m-2 2h2m-1-7h2m-2 1h2m-2 0h2m-2 2h2m-2 1h2m-2 0h2m-1-5h2m-2 0h2m-2 2h2m-2 0h2m-2 1h2m-2 4h2m-2 0h2m-2 1h2m-1-2h2m-1-5h2m-2 1h2m-2 3h2m-2 0h2m-2 1h2m-1-5h2m-1-1h2m-2 2h2m-2 1h2m-2 1h2m-2 1h2m-2 0h2m-1-3h2m-2 3h2m-2 0h2m-2 1h2m-1-4h2m-2 0h2m-2 1h2m-2 1h2m-2 1h2m-2 0h2m-2 2h2m-2 0h2m-2 0h2m-2 0h2m-2 1h2m-1-6h2m-2 0h2m-2 0h2m-2 3h2m-2 1h2m-1-6h2m-2 1h2m-2 1h2m-2 4h2m-1-5h2m-2 4h2m-2 1h2m-2 0h2m-2 0h2m-2 1h2m-1-6h2m-2 7h2m-1-6h2m-2 2h2m-2 0h2m-2 1h2m-2 0h2m-1-4h2m-2 1h2m-2 0h2m-2 2h2m-2 2h2m-2 2h2m-1-6h2m-2 0h2m-2 1h2m-2 0h2m-2 1h2m-2 2h2m-1-4h2m-2 0h2m-2 4h2m-1-5h2m-2 0h2m-2 0h2m-2 1h2m-2 2h2m-2 3h2m-1-7h2m-2 1h2m-2 0h2m-2 0h2m-2 1h2m-2 2h2m-1 0h2m-2 2h2m-2 0h2m-2 2h2m-1-7h2m-2 7h2m-1-5h2m-2 1h2m-2 2h2m-1-6h2m-2 1h2m-2 1h2m-2 0h2m-2 3h2m-2 0h2m-2 1h2m-2 1h2m-1-7h2m-2 0h2m-2 3h2m-2 1h2m-2 0h2m-2 0h2m-2 2h2m-2 1h2m-1-7h2m-2 2h2m-2 1h2m-1-2h2m-2 4h2m-2 2h2m-2 1h2m-1-4h2m-2 2h2m-1-4h2m-2 0h2m-2 4h2m-2 2h2m-2 0h2m-1-7h2m-2 1h2m-2 1h2m-2 1h2m-2 1h2m-2 1h2m-2 2h2m-1-7h2m-2 2h2m-2 1h2m-2 1h2m-2 1h2m-1-7h2m-2 1h2m-2 1h2m-2 0h2m-2 5h2m-2 0h2m-1-8h2m-2 2h2m-2 1h2m-2 5h2m-2 2h2m-1-5h2m-2 7h2m-1-8h2m-2 0h2m-2 1h2m-2 0h2m-1-4h2m-2 4h2m-2 1h2m-2 1h2m-2 1h2m-2 2h2m-1-7h2m-2 4h2m-2 1h2m-2 0h2m-2 0h2m-1-3h2m-2 1h2m-2 1h2m-2 1h2m-2 0h2m-1-6h2m-2 1h2m-2 2h2m-2 1h2m-2 2h2m-1-4h2m-2 0h2m-2 0h2m-1-1h2m-2 2h2m-2 1h2m-2 1h2m-2 1h2m-1-5h2m-2 1h2m-2 3h2m-2 1h2m-1-2h2m-2 1h2m-2 2h2m-2 0h2m-1-7h2m-2 2h2m-2 2h2m-2 0h2m-2 3h2m-2 1h2m-1-7h2m-2 0h2m-2 2h2m-2 0h2m-2 0h2m-2 1h2m-2 0h2m-2 2h2m-2 2h2m-1-11h2m-2 4h2m-2 2h2m-2 0h2m-2 0h2m-2 1h2m-2 1h2m-2 3h2m-1-5h2m-2 1h2m-2 1h2m-2 1h2m-2 1h2m-2 4h2m-1-9h2m-2 2h2m-2 0h2m-2 0h2m-2 1h2m-2 0h2m-2 1h2m-2 0h2m-2 2h2m-1-12h2m-2 5h2m-2 3h2m-2 2h2m-2 0h2m-2 1h2m-1-7h2m-2 2h2m-2 1h2m-2 1h2m-2 0h2m-2 1h2m-2 1h2m-2 4h2m-1-9h2m-2 2h2m-2 1h2m-2 1h2m-2 0h2m-2 0h2m-2 1h2m-1-4h2m-2 1h2m-2 3h2m-1-3h2m-2 1h2m-1-8h2m-2 3h2m-2 3h2m-2 1h2m-2 1h2m-2 0h2m-2 0h2m-2 0h2m-2 1h2m-2 1h2m-2 3h2m-1-6h2m-2 0h2m-2 2h2m-2 0h2m-1-1h2m-2 2h2m-2 2h2m-1-9h2m-2 2h2m-2 5h2m-2 0h2m-1-5h2m-2 4h2m-2 0h2m-2 2h2m-1-3h2m-2 3h2m-2 1h2m-1-7h2m-2 1h2m-2 1h2m-2 1h2m-2 0h2m-2 0h2m-2 2h2m-1-7h2m-2 0h2m-2 5h2m-2 1h2m-2 2h2m-1-10h2m-1 3h2m-2 3h2m-2 1h2m-1-4h2m-2 1h2m-2 0h2m-2 1h2m-2 2h2m-2 1h2m-2 3h2m-1-8h2m-2 3h2m-2 3h2m-2 5h2m-1-9h2m-2 1h2m-2 0h2m-2 1h2m-2 3h2m-2 1h2m-1-12h2m-2 8h2m-2 0h2m-2 0h2m-2 2h2m-1-5h2m-2 6h2m-1-6h2m-2 1h2m-2 0h2m-2 1h2m-2 2h2m-2 1h2m-2 1h2m-2 0h2m-1-5h2m-2 0h2m-2 2h2m-2 0h2m-2 3h2m-1-3h2m-2 1h2m-2 1h2m-2 0h2m-2 1h2m-2 2h2m-1-6h2m-2 5h2m-1-7h2m-2 5h2m-2 3h2m-1-7h2m-2 7h2m-1-8h2m-2 1h2m-2 0h2m-2 0h2m-2 1h2m-2 2h2m-2 1h2m-2 1h2m-2 5h2m-1-13h2m-2 3h2m-2 1h2m-2 1h2m-2 1h2m-2 3h2m-1-7h2m-2 4h2m-2 2h2m-2 1h2m-1-4h2m-2 1h2m-2 0h2m-2 1h2m-1-2h2m-2 0h2m-2 1h2m-2 1h2m-2 1h2m-1-6h2m-2 3h2m-2 2h2m-2 0h2m-2 1h2m-1-5h2m-2 1h2m-2 1h2m-2 0h2m-2 1h2m-2 1h2m-1-6h2m-2 2h2m-2 0h2m-1 3h2m-1 2h2m-2 0h2m-2 1h2m-1-7h2m-2 1h2m-2 3h2m-2 4h2m-1-6h2m-2 1h2m-2 0h2m-2 3h2m-2 1h2m-2 0h2m-1-5h2m-2 3h2m-2 0h2m-2 0h2m-2 1h2m-2 2h2m-1-4h2m-2 1h2m-2 0h2m-2 1h2m-2 1h2m-1-3h2m-2 0h2m-2 1h2m-2 1h2m-1-5h2m-2 0h2m-2 5h2m-2 2h2m-1-7h2m-2 2h2m-2 0h2m-2 1h2m-2 5h2m-2 2h2m-1-11h2m-2 5h2m-2 0h2m-2 8h2m-1-12h2m-2 2h2m-2 2h2m-2 0h2m-2 0h2m-2 1h2m-1-5h2m-2 1h2m-2 2h2m-2 1h2m-2 1h2m-2 1h2m-1-7h2m-2 5h2m-2 0h2m-1-5h2m-2 3h2m-2 1h2m-2 2h2m-2 0h2m-2 1h2m-1-7h2m-2 0h2m-2 2h2m-2 1h2m-2 0h2m-2 2h2m-2 0h2m-1-4h2m-2 0h2m-2 0h2m-2 4h2m-2 2h2m-1-9h2m-2 3h2m-2 0h2m-2 1h2m-2 0h2m-2 0h2m-2 1h2m-2 1h2m-2 0h2m-2 1h2m-1-2h2m-2 0h2m-2 0h2m-2 2h2m-2 0h2m-2 4h2m-1-7h2m-2 1h2m-2 0h2m-2 0h2m-2 1h2m-2 0h2m-2 1h2m-2 0h2m-2 4h2m-1-3h2m-2 1h2m-2 1h2m-2 3h2m-1-11h2m-2 4h2m-2 0h2m-1-4h2m-2 0h2m-2 1h2m-2 2h2m-2 2h2m-2 2h2m-2 0h2m-1-7h2m-2 3h2m-2 2h2m-1-7h2m-2 5h2m-2 0h2m-2 4h2m-1-6h2m-2 6h2m-2 0h2m0-7h2m-2 3h2m-2 0h2m-2 1h2m-2 1h2m-2 1h2m-2 2h2m-2 1h2m-1-8h2m-2 2h2m-2 1h2m-2 1h2m-2 1h2m-2 2h2m-1-5h2m-2 8h2m-1-10h2m-2 0h2m-2 3h2m-2 1h2m-2 2h2m-2 1h2m-2 0h2m-1-8h2m-2 3h2m-2 1h2m-2 3h2m-2 0h2m-1-6h2m-2 2h2m-2 1h2m-2 2h2m-2 0h2m-1-3h2m-2 0h2m-2 1h2m-1-3h2m-2 3h2m-2 4h2m-1-2h2m-2 0h2m-1-4h2m-2 0h2m-2 1h2m-2 2h2m-2 0h2m-2 0h2m-2 1h2m-1-9h2m-2 4h2m-2 0h2m-2 0h2m-2 1h2m-2 1h2m-2 0h2m-2 1h2m-2 1h2m-2 0h2m-2 7h2m-1-9h2m-2 2h2m-2 3h2m-2 2h2m-2 5h2m-1-15h2m-2 4h2m-2 1h2m-2 3h2m-2 0h2m-2 1h2m-1-8h2m-2 1h2m-2 0h2m-2 1h2m-2 1h2m-1-2h2m-2 1h2m-2 1h2m-2 1h2m-2 0h2m-2 2h2m-1-6h2m-2 6h2m-2 0h2m-1-8h2m-2 4h2m-2 0h2m-2 2h2m-2 2h2m-2 3h2m-1-11h2m-2 6h2m-2 0h2m-2 1h2m-2 1h2m-1-5h2m-2 1h2m-2 1h2m-2 0h2m-2 0h2m-2 1h2m-2 1h2m-2 1h2m-1-7h2m-2 1h2m-2 1h2m-2 1h2m-1-4h2m-2 5h2m-1 1h2m-1-3h2m-2 2h2m-2 1h2m-2 1h2m-2 1h2m-2 0h2m-2 1h2m-1-9h2m-2 1h2m-2 0h2m-2 1h2m-2 2h2m-2 1h2m-2 5h2m-1-9h2m-2 2h2m-2 1h2m-2 3h2m-2 1h2m-1-4h2m-2 4h2m-1-5h2m-2 1h2m-2 0h2m-2 2h2m-2 0h2m-2 2h2m-1-6h2m-2 0h2m-2 1h2m-2 1h2m-2 6h2m-1-10h2m-2 1h2m-2 1h2m-2 1h2m-2 4h2m-2 1h2m-2 1h2m-1-8h2m-2 3h2m-2 0h2m-2 2h2m-2 1h2m-2 2h2m-2 2h2m-1-10h2m-2 1h2m-2 2h2m-2 1h2m-2 1h2m-2 1h2m-2 1h2m-2 2h2m-1-7h2m-2 2h2m-2 1h2m-2 1h2m-1-3h2m-2 0h2m-2 0h2m-2 1h2m-2 0h2m-1-4h2m-2 9h2m-1-7h2m-2 0h2m-2 1h2m-2 2h2m-2 1h2m-2 2h2m-1-5h2m-2 5h2m-1-7h2m-2 1h2m-2 3h2m-1-2h2m-2 0h2m-2 1h2m-2 0h2m-2 2h2m-1-6h2m-2 2h2m-2 1h2m-2 2h2m-1-4h2m-2 0h2m-2 5h2m-2 2h2m-1-6h2m-2 1h2m-2 2h2m-1-5h2m-2 0h2m-2 5h2m-2 0h2m-2 0h2m-2 0h2m-1-3h2m-2 1h2m-2 1h2m-2 5h2m-1-10h2m-2 3h2m-2 1h2m-2 2h2m-2 1h2m-2 0h2m-2 2h2m-1-7h2m-2 1h2m-2 1h2m-2 1h2m-2 1h2m-1-13h2m-2 11h2m-2 3h2m-2 1h2m-2 9h2m-1-13h2m-2 1h2m-2 0h2m-2 0h2m-2 3h2m-1-7h2m-2 2h2m-2 3h2m-2 3h2m-1-7h2m-2 3h2m-2 1h2m-2 0h2m-2 1h2m-2 3h2m-1-10h2m-2 3h2m-2 0h2m-2 3h2m-2 0h2m-2 1h2m-2 0h2m-2 0h2m-1-4h2m-2 1h2m-2 1h2m-2 2h2m-2 2h2m-1-10h2m-2 4h2m-2 2h2m-2 0h2m-2 0h2m-2 1h2m-1-3h2m-2 0h2m-2 5h2" stroke="#6c6c6c" stroke-width="2" stroke-opacity=".7" fill="none"/><path d="M376.5 226.5H507.6" stroke="#c878c8" stroke-width="1.15" fill="none"/><text x="504.6" y="225.9" font-size="2.3" text-anchor="middle" fill="#3a3a3a" textLength="4.8" lengthAdjust="spacingAndGlyphs" font-weight="bold">4000</text><path d="M376.5 149.9H507.6V265.5H376.5Z" stroke="#a2a2a2" stroke-width="1" fill="none"/><rect x="547.7" y="149.4" width="132.9" height="115.9" fill="#f9f8f6"/><path d="M563.5 149.4V265.3M578.5 149.4V265.3M594.5 149.4V265.3M609.5 149.4V265.3M625.5 149.4V265.3M641.5 149.4V265.3M656.5 149.4V265.3M672.5 149.4V265.3M547.7 248.5H680.6M547.7 232.5H680.6M547.7 215.5H680.6M547.7 199.5H680.6M547.7 182.5H680.6M547.7 165.5H680.6" stroke="#eeedeb" stroke-width="1" fill="none"/><text x="541.75" y="266.15" font-size="3.1" text-anchor="middle" fill="#1a1a1a" font-weight="bold">0</text><text x="541.75" y="249.59" font-size="3.1" text-anchor="middle" fill="#1a1a1a" font-weight="bold">500</text><text x="541.75" y="233.04" font-size="3.1" text-anchor="middle" fill="#1a1a1a" font-weight="bold">1000</text><text x="541.75" y="216.48" font-size="3.1" text-anchor="middle" fill="#1a1a1a" font-weight="bold">1500</text><text x="541.75" y="199.92" font-size="3.1" text-anchor="middle" fill="#1a1a1a" font-weight="bold">2000</text><text x="541.75" y="183.36" font-size="3.1" text-anchor="middle" fill="#1a1a1a" font-weight="bold">2500</text><text x="541.75" y="166.81" font-size="3.1" text-anchor="middle" fill="#1a1a1a" font-weight="bold">3000</text><text x="541.75" y="150.25" font-size="3.1" text-anchor="middle" fill="#1a1a1a" font-weight="bold">3500</text><text x="547.7" y="270.95" font-size="3.1" text-anchor="middle" fill="#1a1a1a" font-weight="bold">0</text><text x="563.27" y="270.95" font-size="3.1" text-anchor="middle" fill="#1a1a1a" font-weight="bold">2000</text><text x="578.84" y="270.95" font-size="3.1" text-anchor="middle" fill="#1a1a1a" font-weight="bold">4000</text><text x="594.41" y="270.95" font-size="3.1" text-anchor="middle" fill="#1a1a1a" font-weight="bold">6000</text><text x="609.98" y="270.95" font-size="3.1" text-anchor="middle" fill="#1a1a1a" font-weight="bold">8000</text><text x="625.56" y="270.95" font-size="3.1" text-anchor="middle" fill="#1a1a1a" font-weight="bold">10000</text><text x="641.13" y="270.95" font-size="3.1" text-anchor="middle" fill="#1a1a1a" font-weight="bold">12000</text><text x="656.7" y="270.95" font-size="3.1" text-anchor="middle" fill="#1a1a1a" font-weight="bold">14000</text><text x="672.27" y="270.95" font-size="3.1" text-anchor="middle" fill="#1a1a1a" font-weight="bold">16000</text><path d="M546.1 265.3h1.6M546.1 248.74h1.6M546.1 232.19h1.6M546.1 215.63h1.6M546.1 199.07h1.6M546.1 182.51h1.6M546.1 165.96h1.6M546.1 149.4h1.6M547.7 265.3v1.4M563.27 265.3v1.4M578.84 265.3v1.4M594.41 265.3v1.4M609.98 265.3v1.4M625.56 265.3v1.4M641.13 265.3v1.4M656.7 265.3v1.4M672.27 265.3v1.4" stroke="#9a9a9a" stroke-width=".7" fill="none"/><text x="608.5" y="145.8" font-size="3.4" text-anchor="middle" fill="#111" textLength="42.9" lengthAdjust="spacingAndGlyphs" font-weight="bold">Ch2 - C02 Pos:3001 Neg:13984</text><text x="614.15" y="275.3" font-size="3.1" text-anchor="middle" fill="#111" textLength="18.7" lengthAdjust="spacingAndGlyphs" font-weight="bold">Event Number</text><text x="0" y="0" font-size="3.1" font-weight="bold" text-anchor="middle" fill="#111" transform="translate(535.5 207.35) rotate(-90)" textLength="19.3" lengthAdjust="spacingAndGlyphs">Ch2 Amplitude</text><path transform="scale(.5)" filter="url(#bl)" d="M1096 373h2m-2 19h2m-1-25h2m-2 11h2m-2 3h2m-2 4h2m-2 2h2m-2 1h2m-2 2h2m-2 5h2m-2 1h2m-2 9h2m-2 5h2m-2 7h2m-1-51h2m-2 7h2m-2 7h2m-2 8h2m-2 3h2m-2 3h2m-2 3h2m-2 0h2m-2 1h2m-2 3h2m-2 3h2m-2 9h2m-1-48h2m-2 5h2m-2 8h2m-2 5h2m-2 0h2m-2 12h2m-2 0h2m-2 4h2m-1-17h2m-2 1h2m-2 6h2m-2 1h2m-2 1h2m-2 3h2m-2 3h2m-2 5h2m-2 0h2m-2 21h2m-1-42h2m-2 8h2m-2 2h2m-2 1h2m-2 2h2m-2 1h2m-2 10h2m-1-19h2m-2 0h2m-2 1h2m-2 3h2m-2 0h2m-2 1h2m-2 2h2m-2 1h2m-2 5h2m-2 1h2m-2 5h2m-1-17h2m-2 1h2m-2 0h2m-2 4h2m-2 2h2m-2 1h2m-2 1h2m-2 2h2m-2 14h2m-1-31h2m-2 5h2m-2 6h2m-2 0h2m-2 2h2m-2 6h2m-1-30h2m-2 11h2m-2 2h2m-2 2h2m-2 2h2m-2 2h2m-2 2h2m-2 7h2m-2 3h2m-2 14h2m-1-45h2m-2 7h2m-2 2h2m-2 8h2m-2 13h2m-2 1h2m-1-59h2m-2 15h2m-2 13h2m-2 11h2m-2 4h2m-2 2h2m-2 0h2m-2 8h2m-2 2h2m-2 0h2m-2 9h2m-1-30h2m-2 5h2m-2 2h2m-2 3h2m-2 1h2m-2 0h2m-2 4h2m-2 0h2m-2 0h2m-2 2h2m-2 5h2m-2 4h2m-2 2h2m-2 8h2m-1-64h2m-2 30h2m-2 3h2m-2 6h2m-2 5h2m-1-25h2m-2 12h2m-2 8h2m-2 4h2m-1-11h2m-2 5h2m-2 8h2m-2 6h2m-2 1h2m-2 5h2m-1-30h2m-2 9h2m-2 1h2m-2 2h2m-2 1h2m-2 4h2m-2 9h2m-1-60h2m-2 40h2m-2 1h2m-2 3h2m-2 1h2m-2 1h2m-2 10h2m-2 10h2m-1-24h2m-2 1h2m-2 1h2m-2 6h2m-2 3h2m-2 4h2m-2 0h2m-2 6h2m-1-37h2m-2 15h2m-2 5h2m-2 0h2m-2 1h2m-2 1h2m-2 2h2m-2 1h2m-2 4h2m-2 2h2m-2 2h2m-2 13h2m-1-61h2m-2 16h2m-2 6h2m-2 9h2m-2 3h2m-2 3h2m-2 2h2m-2 0h2m-2 0h2m-2 1h2m-2 6h2m-2 2h2m-1-28h2m-2 6h2m-2 6h2m-2 0h2m-2 9h2m-2 2h2m-2 1h2m-2 1h2m-2 1h2m-2 7h2m-1-29h2m-2 4h2m-2 2h2m-2 4h2m-2 5h2m-2 3h2m-2 2h2m-2 3h2m-2 1h2m-2 5h2m-1-33h2m-2 6h2m-2 3h2m-2 1h2m-2 7h2m-2 1h2m-2 2h2m-2 2h2m-2 4h2m-2 5h2m-1-60h2m-2 14h2m-2 18h2m-2 3h2m-2 4h2m-2 1h2m-2 4h2m-2 1h2m-2 2h2m-2 1h2m-2 1h2m-2 7h2m-2 11h2m-1-24h2m-2 2h2m-2 6h2m-2 2h2m-2 6h2m-2 4h2m-1-42h2m-2 17h2m-2 7h2m-2 3h2m-2 3h2m-2 0h2m-2 1h2m-2 2h2m-2 1h2m-2 4h2m-2 0h2m-2 5h2m-2 1h2m-1-23h2m-2 1h2m-2 0h2m-2 1h2m-2 0h2m-2 3h2m-2 3h2m-2 7h2m-1-18h2m-2 0h2m-2 8h2m-2 3h2m-2 4h2m-2 5h2m-2 1h2m-1-51h2m-2 20h2m-2 6h2m-2 1h2m-2 4h2m-2 5h2m-2 6h2m-2 0h2m-2 2h2m-2 10h2m-1-28h2m-2 8h2m-2 9h2m-2 3h2m-2 5h2m-1-24h2m-2 4h2m-2 0h2m-2 7h2m-1-14h2m-2 3h2m-2 7h2m-2 1h2m-2 1h2m-2 1h2m-2 1h2m-2 3h2m-2 3h2m-2 3h2m-1-26h2m-2 12h2m-2 7h2m-2 0h2m-2 5h2m-2 3h2m-2 7h2m-2 1h2m-1-26h2m-2 0h2m-2 7h2m-2 4h2m-2 1h2m-2 3h2m-2 11h2m-1-33h2m-2 8h2m-2 0h2m-2 18h2m-2 2h2m-2 15h2m-1-54h2m-2 13h2m-2 2h2m-2 8h2m-2 4h2m-2 3h2m-2 2h2m-2 1h2m-2 1h2m-2 0h2m-2 13h2m-2 2h2m-1-35h2m-2 11h2m-2 4h2m-2 7h2m-2 2h2m-2 23h2m-1-53h2m-2 11h2m-2 4h2m-2 1h2m-2 1h2m-2 1h2m-2 0h2m-2 4h2m-2 6h2m-2 4h2m-2 4h2m-2 6h2m-1-38h2m-2 1h2m-2 12h2m-2 0h2m-2 3h2m-2 0h2m-2 4h2m-2 12h2m-2 3h2m-1-67h2m-2 18h2m-2 14h2m-2 9h2m-2 1h2m-2 0h2m-2 1h2m-2 1h2m-2 0h2m-2 1h2m-2 3h2m-2 0h2m-2 6h2m-2 0h2m-2 1h2m-1-30h2m-2 14h2m-2 6h2m-2 1h2m-2 0h2m-2 6h2m-2 1h2m-1-36h2m-2 13h2m-2 11h2m-2 1h2m-2 0h2m-2 1h2m-2 5h2m-2 0h2m-2 2h2m-2 1h2m-2 1h2m-2 1h2m-1-32h2m-2 19h2m-2 4h2m-2 5h2m-2 0h2m-2 5h2m-2 3h2m-1-36h2m-2 11h2m-2 5h2m-2 1h2m-2 3h2m-2 1h2m-2 0h2m-2 4h2m-2 2h2m-2 1h2m-2 1h2m-2 5h2m-2 6h2m-1-24h2m-2 5h2m-2 2h2m-2 2h2m-2 5h2m-2 10h2m-2 3h2m-1-33h2m-2 22h2m-2 0h2m-2 1h2m-2 12h2m-1-34h2m-2 5h2m-2 2h2m-2 7h2m-2 2h2m-2 1h2m-2 0h2m-2 3h2m-1-21h2m-2 11h2m-2 1h2m-2 9h2m-2 3h2m-2 1h2m-2 4h2m-2 17h2m-1-41h2m-2 0h2m-2 1h2m-2 2h2m-2 4h2m-2 8h2m-2 2h2m-2 6h2m-2 25h2m-1-59h2m-2 6h2m-2 11h2m-2 1h2m-2 7h2m-2 1h2m-2 0h2m-2 2h2m-2 6h2m-2 13h2m-2 19h2m-1-68h2m-2 15h2m-2 4h2m-2 0h2m-2 3h2m-2 1h2m-2 11h2m-1-27h2m-2 13h2m-2 1h2m-2 1h2m-2 1h2m-2 5h2m-2 8h2m-1-45h2m-2 19h2m-2 3h2m-2 0h2m-2 5h2m-2 2h2m-2 4h2m-2 5h2m-2 1h2m-2 0h2m-1-28h2m-2 9h2m-2 13h2m-2 2h2m-2 4h2m-2 0h2m-2 5h2m-2 10h2m-1-65h2m-2 10h2m-2 15h2m-2 12h2m-2 4h2m-2 2h2m-2 3h2m-2 13h2m-2 8h2m-1-33h2m-1-5h2m-2 7h2m-2 4h2m-1-49h2m-2 19h2m-2 23h2m-2 6h2m-2 4h2m-2 2h2m-2 1h2m-2 2h2m-1-50h2m-2 13h2m-2 8h2m-2 4h2m-2 1h2m-2 5h2m-2 9h2m-2 0h2m-2 7h2m-2 4h2m-1-19h2m-2 0h2m-2 13h2m-2 8h2m-2 10h2m-1-45h2m-2 5h2m-2 15h2m-2 2h2m-2 0h2m-2 1h2m-2 10h2m-2 1h2m-1-29h2m-2 5h2m-2 3h2m-2 21h2m-2 5h2m-2 7h2m-1-29h2m-2 5h2m-2 4h2m-2 2h2m-2 4h2m-2 13h2m-1-33h2m-2 6h2m-2 1h2m-2 5h2m-2 6h2m-2 1h2m-2 2h2m-2 0h2m-2 8h2m-1-32h2m-2 3h2m-2 3h2m-2 3h2m-2 1h2m-2 7h2m-2 3h2m-2 2h2m-2 3h2m-2 0h2m-1-6h2m-2 0h2m-2 3h2m-2 1h2m-2 4h2m-2 11h2m-1-30h2m-2 6h2m-2 1h2m-2 0h2m-2 5h2m-2 7h2m-2 0h2m-2 5h2m-2 5h2m-1-52h2m-2 16h2m-2 8h2m-2 0h2m-2 8h2m-2 1h2m-2 2h2m-2 2h2m-2 1h2m-2 0h2m-2 2h2m-2 2h2m-2 1h2m-2 4h2m-2 4h2m-2 6h2m-1-72h2m-2 9h2m-2 34h2m-2 0h2m-2 2h2m-2 4h2m-2 1h2m-2 2h2m-2 1h2m-2 0h2m-2 14h2m-1-33h2m-2 4h2m-2 2h2m-2 0h2m-2 0h2m-2 16h2m-1-45h2m-2 41h2m-2 3h2m-2 5h2m-1-24h2m-2 2h2m-2 4h2m-2 4h2m-2 2h2m-2 7h2m-2 4h2m-2 3h2m-2 2h2m-1-64h2m-2 34h2m-2 3h2m-2 0h2m-2 1h2m-2 9h2m-2 3h2m-2 3h2m-2 1h2m-2 1h2m-2 0h2m-2 5h2m-2 6h2m-2 0h2m-2 9h2m-1-44h2m-2 0h2m-2 3h2m-2 1h2m-2 9h2m-2 4h2m-2 1h2m-2 2h2m-2 2h2m-2 1h2m-2 6h2m-1-30h2m-2 1h2m-2 4h2m-2 1h2m-2 6h2m-2 1h2m-2 2h2m-2 0h2m-2 4h2m-2 1h2m-2 1h2m-2 1h2m-2 3h2m-2 1h2m-2 6h2m-2 26h2m-1-48h2m-2 3h2m-2 2h2m-2 0h2m-2 5h2m-2 1h2m-2 0h2m-2 6h2m-2 4h2m-2 0h2m-2 8h2m-2 0h2m-1-47h2m-2 14h2m-2 5h2m-2 10h2m-2 1h2m-2 1h2m-2 3h2m-2 1h2m-1-28h2m-2 12h2m-2 2h2m-2 1h2m-2 3h2m-2 9h2m-2 2h2m-2 6h2m-1-26h2m-2 5h2m-2 0h2m-2 6h2m-2 1h2m-2 2h2m-2 1h2m-1-7h2m-2 0h2m-2 0h2m-2 3h2m-2 2h2m-2 1h2m-2 2h2m-2 3h2m-2 5h2m-2 3h2m-2 4h2m-2 19h2m-1-56h2m-2 5h2m-2 2h2m-2 1h2m-2 1h2m-2 5h2m-2 2h2m-2 1h2m-2 4h2m-2 1h2m-2 3h2m-1-15h2m-2 2h2m-2 6h2m-2 3h2m-2 5h2m-2 1h2m-2 3h2m-1-61h2m-2 35h2m-2 5h2m-2 0h2m-2 0h2m-2 6h2m-2 0h2m-2 1h2m-2 3h2m-2 2h2m-1-53h2m-2 30h2m-2 1h2m-2 7h2m-2 8h2m-2 2h2m-2 9h2m-2 9h2m-2 0h2m-2 1h2m-1-39h2m-2 2h2m-2 12h2m-2 0h2m-2 3h2m-2 2h2m-2 4h2m-2 3h2m-2 2h2m-2 7h2m-2 24h2m-1-50h2m-2 4h2m-2 4h2m-2 2h2m-2 0h2m-2 0h2m-2 1h2m-2 5h2m-2 1h2m-2 9h2m-1-70h2m-2 43h2m-2 2h2m-2 4h2m-2 3h2m-2 0h2m-2 3h2m-2 3h2m-2 6h2m-2 5h2m-1-32h2m-2 7h2m-2 4h2m-2 4h2m-2 5h2m-2 1h2m-2 2h2m-2 0h2m-2 4h2m-2 5h2m-1-17h2m-2 11h2m-2 39h2m-1-72h2m-2 15h2m-2 6h2m-2 9h2m-2 0h2m-2 2h2m-2 11h2m-1-25h2m-2 1h2m-2 1h2m-2 4h2m-2 3h2m-2 1h2m-2 4h2m-2 7h2m-1-29h2m-2 3h2m-2 4h2m-2 1h2m-2 3h2m-2 1h2m-2 2h2m-2 2h2m-2 4h2m-2 16h2m-1-24h2m-2 2h2m-2 6h2m-2 20h2m-2 9h2m-1-49h2m-2 12h2m-2 2h2m-2 1h2m-2 2h2m-1-16h2m-2 7h2m-2 0h2m-2 5h2m-2 1h2m-2 6h2m-2 0h2m-2 3h2m-1-22h2m-2 14h2m-2 2h2m-2 6h2m-2 10h2m-2 13h2m-1-44h2m-2 1h2m-2 2h2m-2 13h2m-1 6h2m-2 4h2m-2 4h2m-2 4h2m-2 13h2m-1-47h2m-2 4h2m-2 2h2m-2 5h2m-2 2h2m-2 5h2m-2 4h2m-2 0h2m-2 10h2m-1-32h2m-2 2h2m-2 1h2m-2 9h2m-2 3h2m-2 3h2m-2 3h2m-2 3h2m-2 1h2m-2 9h2m-1-33h2m-2 12h2m-2 1h2m-2 1h2m-2 4h2m-2 11h2m-2 11h2m-1-44h2m-2 7h2m-2 2h2m-2 3h2m-2 3h2m-2 13h2m-2 0h2m-2 3h2m-1-44h2m-2 5h2m-2 4h2m-2 3h2m-2 5h2m-2 2h2m-2 7h2m-2 2h2m-2 4h2m-2 2h2m-2 0h2m-1-33h2m-2 17h2m-2 1h2m-2 4h2m-2 1h2m-2 0h2m-2 1h2m-2 9h2m-2 2h2m-2 0h2m-2 14h2m-1-49h2m-2 13h2m-2 4h2m-2 2h2m-2 2h2m-2 4h2m-2 0h2m-2 3h2m-2 0h2m-2 7h2m-2 0h2m-2 1h2m-2 10h2m-2 0h2m-1-33h2m-2 3h2m-2 3h2m-2 1h2m-2 2h2m-2 4h2m-2 2h2m-2 0h2m-2 5h2m-2 2h2m-2 4h2m-2 5h2m-2 3h2m-2 1h2m-1-29h2m-2 2h2m-2 2h2m-2 1h2m-2 2h2m-2 6h2m-2 7h2m-2 6h2m-1-44h2m-2 9h2m-2 10h2m-2 7h2m-2 7h2m-2 2h2m-1-11h2m-2 1h2m-2 0h2m-2 0h2m-2 1h2m-2 4h2m-2 2h2m-2 1h2m-2 1h2m-2 0h2m-1-31h2m-2 25h2m-2 1h2m-2 1h2m-1-10h2m-2 2h2m-2 5h2m-2 11h2m-1-27h2m-2 6h2m-2 6h2m-2 2h2m-2 1h2m-2 4h2m-2 5h2m-2 1h2m-2 1h2m-2 7h2m-1-29h2m-2 1h2m-2 3h2m-2 2h2m-2 6h2m-2 0h2m-2 1h2m-2 7h2m-2 0h2m-2 8h2m-1-29h2m-2 1h2m-2 5h2m-2 5h2m-2 0h2m-2 2h2m-2 2h2m-2 3h2m-2 6h2m-2 4h2m-1-37h2m-2 14h2m-2 4h2m-2 1h2m-2 3h2m-2 2h2m-2 1h2m-2 4h2m-2 3h2m-2 2h2m-2 3h2m-2 10h2m-1-38h2m-2 1h2m-2 9h2m-2 0h2m-2 6h2m-2 12h2m-2 5h2m-1-34h2m-2 7h2m-2 0h2m-2 6h2m-2 11h2m-2 1h2m-2 11h2m-1-35h2m-2 3h2m-2 13h2m-2 3h2m-2 0h2m-2 7h2m-2 18h2m-1-46h2m-2 7h2m-2 3h2m-2 9h2m-2 1h2m-2 4h2m-2 1h2m-2 0h2m-2 5h2m-1-48h2m-2 14h2m-2 7h2m-2 5h2m-2 0h2m-2 1h2m-2 4h2m-2 28h2m-1-77h2m-2 34h2m-2 3h2m-2 2h2m-2 8h2m-2 2h2m-2 2h2m-2 4h2m-2 11h2m-1-33h2m-2 12h2m-2 3h2m-2 0h2m-2 1h2m-2 1h2m-2 0h2m-2 1h2m-2 2h2m-2 1h2m-2 4h2m-2 1h2m-2 1h2m-2 2h2m-2 2h2m-2 22h2m-1-42h2m-2 3h2m-2 7h2m-2 2h2m-2 2h2m-2 12h2m-2 10h2m-1-35h2m-2 3h2m-2 4h2m-2 2h2m-2 1h2m-2 0h2m-2 3h2m-2 0h2m-2 4h2m-2 1h2m-2 3h2m-2 2h2m-1-35h2m-2 20h2m-2 0h2m-2 5h2m-2 11h2m-1-37h2m-2 4h2m-2 5h2m-2 2h2m-2 1h2m-2 5h2m-2 10h2m-2 2h2m-2 2h2m-2 6h2m-1-40h2m-2 10h2m-2 0h2m-2 0h2m-2 2h2m-2 10h2m-2 1h2m-2 4h2m-1-36h2m-2 14h2m-2 11h2m-2 1h2m-2 1h2m-2 1h2m-2 0h2m-2 9h2m-2 4h2m-2 2h2m-2 2h2m-2 0h2m-2 5h2m-1-51h2m-2 7h2m-2 5h2m-2 1h2m-2 6h2m-2 11h2m-2 6h2m-2 5h2m-2 2h2m-2 1h2m-2 0h2m-1-19h2m-2 9h2m-2 3h2m-2 6h2m-2 0h2m-1-32h2m-2 4h2m-2 4h2m-2 4h2m-2 5h2m-2 4h2m-2 2h2m-2 2h2m-2 4h2m-1-18h2m-2 1h2m-2 0h2m-2 1h2m-2 1h2m-2 7h2m-2 0h2m-2 1h2m-2 3h2m-2 2h2m-2 2h2m-2 44h2m-1-66h2m-2 4h2m-2 3h2m-2 2h2m-2 4h2m-2 2h2m-2 1h2m-2 6h2m-2 0h2m-2 1h2m-2 5h2m-1-31h2m-2 4h2m-2 2h2m-2 0h2m-2 15h2m-2 0h2m-2 1h2m-2 2h2m-2 1h2m-2 1h2m-2 0h2m-2 10h2m-2 1h2m-2 26h2m-1-52h2m-2 4h2m-2 1h2m-1-9h2m-2 1h2m-2 11h2m-2 5h2m-2 0h2m-2 3h2m-2 5h2m-1-30h2m-2 12h2m-2 3h2m-2 2h2m-2 2h2m-2 4h2m-2 0h2m-2 5h2m-1-17h2m-2 5h2m-2 0h2m-2 1h2m-2 2h2m-2 13h2m-1-28h2m-2 12h2m-2 12h2m-2 5h2m-2 10h2m-1-64h2m-2 22h2m-2 2h2m-2 5h2m-2 4h2m-2 2h2m-2 5h2m-2 3h2m-2 1h2m-2 28h2m-1-54h2m-2 1h2m-2 3h2m-2 17h2m-2 1h2m-2 8h2m-2 0h2m-2 13h2m-1-44h2m-2 14h2m-2 4h2m-2 17h2m-2 1h2m-1-27h2m-2 2h2m-2 15h2m-2 1h2m-2 1h2m-2 8h2m-2 17h2m-1-52h2m-2 5h2m-2 4h2m-2 7h2m-2 2h2m-2 0h2m-2 2h2m-2 5h2m-2 1h2m-2 4h2m-2 2h2m-2 3h2m-1-25h2m-2 5h2m-2 4h2m-1-13h2m-2 1h2m-2 7h2m-2 5h2m-2 0h2m-2 2h2m-2 1h2m-2 1h2m-2 2h2m-2 3h2m-1-22h2m-2 5h2m-2 5h2m-2 3h2m-2 9h2m-2 0h2m-2 3h2m-2 1h2m-1-32h2m-2 3h2m-2 3h2m-2 1h2m-2 3h2m-2 1h2m-2 8h2m-2 3h2m-2 0h2m-2 4h2m-1-68h2m-2 40h2m-2 7h2m-2 5h2m-2 3h2m-2 4h2m-2 1h2m-2 7h2m-2 1h2m-2 9h2m-2 1h2m-1-41h2m-2 2h2m-2 3h2m-2 10h2m-2 5h2m-2 2h2m-2 2h2m-2 24h2m-1-39h2m-2 7h2m-2 6h2m-2 4h2m-2 0h2m-2 12h2m-2 2h2m-1-27h2m-2 1h2m-2 1h2m-1-8h2m-2 8h2m-2 0h2m-2 4h2m-2 3h2m-2 6h2m-2 2h2m-2 4h2m-2 3h2m-1-14h2m-2 0h2m-2 39h2m-1-59h2m-2 14h2m-2 1h2m-2 3h2m-2 0h2m-2 3h2m-2 7h2m-2 1h2m-2 1h2m-2 3h2m-1-28h2m-2 3h2m-2 4h2m-2 6h2m-2 2h2m-2 2h2m-2 1h2m-2 6h2m-2 1h2m-2 15h2m-1-48h2m-2 20h2m-2 0h2m-2 1h2m-2 18h2m-1-37h2m-2 9h2m-2 4h2m-2 5h2m-2 15h2m-2 2h2m-1-12h2m-2 4h2m-2 10h2m-2 9h2m-2 10h2m-1-66h2m-2 13h2m-2 3h2m-2 3h2m-2 0h2m-2 2h2m-2 1h2m-2 4h2m-2 9h2m-2 1h2m-2 0h2m-1-15h2m-2 2h2m-2 0h2m-2 13h2m-2 0h2m-2 2h2m-2 0h2m-2 9h2m-1-21h2m-2 1h2m-2 4h2m-2 5h2m-2 1h2m-2 1h2m-2 5h2m-2 1h2m-2 2h2m-1-29h2m-2 4h2m-2 1h2m-2 0h2m-2 1h2m-2 0h2m-2 7h2m-2 1h2m-2 7h2m-1-12h2m-2 1h2m-2 4h2m-2 2h2m-2 16h2m-1-35h2m-2 6h2m-2 3h2m-2 5h2m-2 1h2m-2 0h2m-2 0h2m-2 1h2m-2 9h2m-2 4h2m-2 27h2m-2 20h2m-1-76h2m-2 4h2m-2 0h2m-2 5h2m-2 2h2m-2 14h2m-2 2h2m-2 2h2m-1-45h2m-2 28h2m-2 2h2m-2 1h2m-2 8h2m-2 1h2m-2 2h2m-2 2h2m-2 2h2m-2 0h2m-1-27h2m-2 1h2m-2 3h2m-2 1h2m-2 1h2m-2 0h2m-2 3h2m-2 7h2m-2 12h2m-1-63h2m-2 29h2m-2 6h2m-2 5h2m-2 3h2m-2 4h2m-2 5h2m-2 1h2m-2 3h2m-1-18h2m-2 2h2m-2 4h2m-2 2h2m-2 4h2m-1-20h2m-2 8h2m-2 6h2m-2 2h2m-2 0h2m-2 1h2m-2 1h2m-2 3h2m-2 1h2m-2 3h2m-2 2h2m-2 2h2m-2 4h2m-2 18h2m-1-48h2m-2 12h2m-2 2h2m-2 9h2m-2 2h2m-1-17h2m-2 1h2m-2 1h2m-2 5h2m-2 9h2m-2 3h2m-2 1h2m-2 6h2m-1-43h2m-2 15h2m-2 5h2m-2 0h2m-2 3h2m-2 0h2m-2 2h2m-2 1h2m-2 5h2m-1-63h2m-2 43h2m-2 10h2m-2 2h2m-2 5h2m-2 3h2m-2 2h2m-2 3h2m-2 3h2m-2 0h2m-2 2h2m-2 21h2m-1-59h2m-2 2h2m-2 10h2m-2 9h2m-2 1h2m-2 1h2m-2 4h2m-2 3h2m-2 6h2m-2 1h2m-2 10h2m-2 6h2m-1-51h2m-2 10h2m-2 3h2m-2 3h2m-2 4h2m-2 2h2m-2 1h2m-2 1h2m-2 9h2m-2 0h2m-1-48h2m-2 35h2m-2 12h2m-2 0h2m-2 3h2m-2 30h2m-1-72h2m-2 8h2m-2 17h2m-2 5h2m-2 35h2m-1-52h2m-2 2h2m-2 2h2m-2 9h2m-2 3h2m-2 2h2m-2 2h2m-2 1h2m-2 0h2m-2 2h2m-2 28h2m-1-66h2m-2 22h2m-2 5h2m-2 1h2m-2 3h2m-2 3h2m-2 1h2m-2 6h2m-2 0h2m-2 8h2m-1-29h2m-2 9h2m-2 2h2m-2 2h2m-2 5h2m-1-29h2m-2 6h2m-2 8h2m-2 0h2m-2 2h2m-2 3h2m-2 3h2m-2 13h2m-1-26h2m-2 5h2m-2 2h2m-2 2h2m-2 1h2m-2 1h2m-2 11h2m-2 3h2m-1-37h2m-2 5h2m-2 5h2m-2 3h2m-2 6h2m-2 0h2m-2 4h2m-2 3h2m-2 3h2m-2 8h2m-2 9h2m-2 8h2m-1-40h2m-2 2h2m-2 2h2m-2 2h2m-2 1h2m-2 2h2m-2 29h2m-1-86h2m-2 34h2m-2 13h2m-2 7h2m-2 6h2m-2 3h2m-2 3h2m-2 0h2m-2 18h2m-1-60h2m-2 23h2m-2 13h2m-2 1h2m-2 2h2m-2 2h2m-2 11h2m-2 29h2m-1-57h2m-2 4h2m-2 5h2m-2 0h2m-2 1h2m-2 0h2m-2 5h2m-2 1h2m-2 4h2m-2 1h2m-2 6h2m-1-35h2m-2 4h2m-2 1h2m-2 7h2m-2 2h2m-2 17h2m-2 7h2m-1-30h2m-2 5h2m-2 10h2m-2 2h2m-2 1h2m-2 33h2m-1-75h2m-2 20h2m-2 6h2m-2 0h2m-2 2h2m-2 4h2m-2 1h2m-1-35h2m-2 15h2m-2 3h2m-2 8h2m-2 2h2m-2 1h2m-2 5h2m-2 0h2m-2 1h2m-2 7h2m-2 8h2m-1-33h2m-2 8h2m-2 3h2m-2 2h2m-2 4h2m-2 2h2m-2 1h2m-2 2h2m-2 9h2m-1-34h2m-2 9h2m-2 6h2m-2 0h2m-2 2h2m-2 0h2m-2 1h2m-2 0h2m-2 9h2m-2 10h2m-2 1h2m-1-23h2m-2 0h2m-2 4h2m-2 3h2m-2 1h2m-2 2h2m-2 6h2m-2 20h2m-1-52h2m-2 15h2m-2 1h2m-2 0h2m-2 1h2m-2 9h2m-2 8h2m-2 25h2m-1-44h2m-2 1h2m-2 5h2m-1-25h2m-2 13h2m-2 7h2m-2 0h2m-2 1h2m-2 1h2m-2 12h2m-2 3h2m-2 5h2m-1-23h2m-2 5h2m-2 2h2m-2 0h2m-2 1h2m-2 2h2m-2 0h2m-2 3h2m-2 1h2m-2 1h2m-2 19h2m-1-48h2m-2 8h2m-2 23h2m-2 1h2m-1-37h2m-2 13h2m-2 12h2m-2 2h2m-2 5h2m-2 2h2m-1-31h2m-2 9h2m-2 5h2m-2 7h2m-2 4h2m-2 0h2m-2 3h2m-2 2h2m-1-17h2m-2 16h2m-2 0h2m-2 1h2m-2 0h2m-1-31h2m-2 4h2m-2 2h2m-2 10h2m-2 3h2m-2 2h2m-2 0h2m-2 5h2m-2 23h2m-1-50h2m-2 1h2m-2 2h2m-2 1h2m-2 9h2m-2 5h2m-2 0h2m-2 0h2m-2 6h2m-2 4h2m-2 0h2m-2 3h2m-2 1h2m-2 2h2m-1-43h2m-2 9h2m-2 14h2m-2 4h2m-2 0h2m-2 2h2m-2 3h2m-2 3h2m-2 1h2m-2 0h2m-2 2h2m-2 2h2m-2 4h2m-2 9h2m-2 1h2m-2 6h2m-1-42h2m-2 9h2m-2 0h2m-2 2h2m-2 3h2m-2 5h2m-2 34h2m-1-49h2m-2 6h2m-2 13h2m-2 2h2m-2 2h2m-2 16h2m-1-46h2m-2 9h2m-2 8h2m-2 7h2m-2 10h2m-1-35h2m-2 5h2m-2 7h2m-2 2h2m-2 1h2m-2 3h2m-2 3h2m-2 4h2m-2 9h2m-1-35h2m-2 3h2m-2 4h2m-2 0h2m-2 7h2m-2 1h2m-2 1h2m-2 6h2m-2 4h2m-2 8h2m-1-45h2m-2 7h2m-2 9h2m-2 19h2m-2 15h2m-2 6h2m-1-38h2m-2 6h2m-2 4h2m-2 0h2m-2 8h2m-2 6h2m-2 4h2m-2 1h2m-1-26h2m-2 7h2m-2 1h2m-2 1h2m-2 3h2m-2 5h2m-2 19h2m-1-50h2m-2 11h2m-2 5h2m-2 5h2m-2 6h2m-2 5h2m-2 7h2m-1-28h2m-2 6h2m-2 8h2m-2 1h2m-2 13h2m-1-28h2m-2 6h2m-2 2h2m-2 0h2m-2 0h2m-2 7h2m-2 3h2m-2 1h2m-1-22h2m-2 1h2m-2 4h2m-2 4h2m-2 2h2m-2 4h2m-2 1h2m-2 0h2m-2 4h2m-2 2h2m-2 5h2m-2 2h2m-2 30h2m-1-66h2m-2 18h2m-2 4h2m-2 7h2m-2 16h2m-1-42h2m-2 2h2m-2 1h2m-2 7h2m-2 1h2m-2 8h2m-2 0h2m-2 2h2m-2 0h2m-2 1h2m-1-20h2m-2 7h2m-2 1h2m-2 6h2m-2 15h2m-1-27h2m-2 4h2m-2 0h2m-2 2h2m-2 2h2m-2 2h2m-2 1h2m-2 4h2m-2 2h2m-2 5h2m-2 2h2m-2 0h2m-2 1h2m-2 1h2m-2 12h2m-1-33h2m-2 1h2m-2 8h2m-2 1h2m-2 4h2m-2 35h2m-1-56h2m-2 12h2m-2 1h2m-2 5h2m-2 1h2m-2 6h2m-1-43h2m-2 15h2m-2 9h2m-2 1h2m-2 4h2m-2 3h2m-2 0h2m-2 2h2m-2 2h2m-2 0h2m-2 14h2m-1-35h2m-2 6h2m-2 9h2m-2 2h2m-2 2h2m-2 36h2m-1-54h2m-2 0h2m-2 3h2m-2 2h2m-2 2h2m-2 0h2m-2 3h2m-2 2h2m-2 6h2m-2 3h2m-2 2h2m-2 32h2m-1-56h2m-2 8h2m-2 1h2m-2 3h2m-2 4h2m-2 4h2m-2 1h2m-2 5h2m-2 1h2m-1-31h2m-2 7h2m-2 8h2m-2 3h2m-2 2h2m-2 5h2m-2 1h2m-2 6h2m-1-33h2m-2 8h2m-2 7h2m-2 1h2m-2 1h2m-2 0h2m-2 3h2m-2 1h2m-2 1h2m-2 4h2m-1-18h2m-2 6h2m-2 1h2m-2 5h2m-2 6h2m-2 5h2m-2 4h2m-2 1h2m-1-68h2m-2 43h2m-2 4h2m-2 8h2m-2 5h2m-2 3h2m-1-25h2m-2 3h2m-2 9h2m-2 0h2m-2 4h2m-2 1h2m-2 8h2m-1-29h2m-2 8h2m-2 2h2m-2 2h2m-2 3h2m-2 4h2m-2 0h2m-2 1h2m-2 1h2m-2 1h2m-2 4h2m-2 42h2m-1-65h2m-2 0h2m-2 1h2m-2 9h2m-2 3h2m-2 1h2m-2 0h2m-2 0h2m-2 1h2m-2 4h2m-2 4h2m-2 2h2m-2 0h2m-2 4h2m-1-37h2m-2 2h2m-2 6h2m-2 1h2m-2 3h2m-2 12h2m-2 2h2m-2 1h2m-2 6h2m-2 1h2m-2 2h2m-2 5h2m-2 4h2m-1-63h2m-2 34h2m-2 2h2m-2 21h2m-2 19h2m-1-57h2m-2 1h2m-2 7h2m-2 2h2m-2 0h2m-2 3h2m-2 3h2m-2 0h2m-2 1h2m-2 4h2m-2 3h2m-2 3h2m-2 4h2m-2 1h2m-2 2h2m-2 14h2m-1-25h2m-2 7h2m-2 8h2m-1-32h2m-2 9h2m-2 3h2m-2 1h2m-2 0h2m-2 4h2m-2 9h2m-2 3h2m-2 3h2m-2 7h2m-2 6h2m-2 31h2m-1-74h2m-2 9h2m-2 3h2m-2 0h2m-2 6h2m-2 2h2m-2 6h2m-1-18h2m-2 10h2m-2 6h2m-2 0h2m-2 7h2m-2 3h2m-1-36h2m-2 3h2m-2 2h2m-2 6h2m-2 0h2m-2 4h2m-2 1h2m-2 1h2m-2 1h2m-2 1h2m-2 0h2m-2 0h2m-2 1h2m-2 3h2m-2 15h2m-1-51h2m-2 14h2m-2 5h2m-2 1h2m-2 4h2m-2 3h2m-2 0h2m-2 1h2m-2 2h2m-2 4h2m-2 7h2m-1-17h2m-2 2h2m-2 3h2m-2 6h2m-2 2h2m-2 1h2m-1-16h2m-2 1h2m-2 3h2m-2 5h2m-2 13h2m-2 4h2m-1-44h2m-2 13h2m-2 2h2m-2 7h2m-2 0h2m-2 4h2m-2 2h2m-2 2h2m-2 5h2m-2 15h2m-1-68h2m-2 20h2m-2 11h2m-2 1h2m-2 0h2m-2 11h2m-2 2h2m-2 0h2m-2 2h2m-2 5h2m-2 11h2m-2 33h2m-1-91h2m-2 20h2m-2 5h2m-2 0h2m-2 8h2m-2 0h2m-2 2h2m-2 0h2m-1-33h2m-2 13h2m-2 4h2m-2 6h2m-2 8h2m-2 4h2m-2 3h2m-2 1h2m-2 15h2m-1-42h2m-2 8h2m-2 1h2m-2 4h2m-2 0h2m-2 2h2m-2 1h2m-2 1h2m-2 1h2m-2 0h2m-2 4h2m-2 5h2m-2 3h2m-2 4h2m-2 4h2m-1-18h2m-2 1h2m-2 4h2m-2 3h2m-2 4h2m-1-42h2m-2 15h2m-2 6h2m-2 2h2m-2 5h2m-2 5h2m-2 3h2m-2 1h2m-2 8h2m-2 8h2m-1-32h2m-2 1h2m-2 1h2m-2 3h2m-2 2h2m-2 1h2m-2 1h2m-2 1h2m-2 0h2m-2 8h2m-2 3h2m-2 4h2m-1-34h2m-2 5h2m-2 1h2m-2 3h2m-2 4h2m-2 4h2m-2 2h2m-2 2h2m-2 5h2m-2 0h2m-2 1h2m-2 4h2m-1-28h2m-2 7h2m-2 6h2m-2 1h2m-2 1h2m-2 1h2m-2 28h2m-1-38h2m-2 3h2m-2 3h2m-2 0h2m-2 2h2m-2 1h2m-2 0h2m-2 7h2m-2 3h2m-2 10h2m-1-25h2m-2 2h2m-2 2h2m-2 0h2m-2 2h2m-2 2h2m-2 3h2m-2 5h2m-2 17h2m-1-45h2m-2 5h2m-2 6h2m-2 2h2m-2 0h2m-2 1h2m-2 5h2m-2 7h2m-2 13h2m-1-45h2m-2 6h2m-2 8h2m-2 7h2m-2 3h2m-2 0h2m-2 0h2m-2 1h2m-2 7h2m-2 5h2m-1-37h2m-2 6h2m-2 7h2m-2 1h2m-2 1h2m-2 2h2m-2 2h2m-2 1h2m-2 0h2m-2 9h2m-1-47h2m-2 25h2" stroke="#44c044" stroke-width="2" stroke-opacity=".8" fill="none"/><path transform="scale(.5)" filter="url(#bl)" d="M1096 452h2m-2 1h2m-2 0h2m-2 3h2m-2 1h2m-2 6h2m-2 3h2m-2 2h2m-2 1h2m-2 4h2m-1-23h2m-2 2h2m-2 0h2m-2 2h2m-2 1h2m-2 6h2m-2 1h2m-2 1h2m-2 1h2m-2 1h2m-2 1h2m-2 0h2m-2 1h2m-2 1h2m-2 1h2m-2 0h2m-2 3h2m-2 0h2m-2 0h2m-2 1h2m-2 5h2m-1-32h2m-2 2h2m-2 1h2m-2 1h2m-2 2h2m-2 2h2m-2 0h2m-2 1h2m-2 1h2m-2 2h2m-2 1h2m-2 1h2m-2 1h2m-2 3h2m-2 4h2m-2 3h2m-2 1h2m-2 0h2m-2 4h2m-2 6h2m-1-32h2m-2 1h2m-2 1h2m-2 1h2m-2 3h2m-2 1h2m-2 0h2m-2 1h2m-2 0h2m-2 2h2m-2 2h2m-2 5h2m-2 3h2m-2 6h2m-2 0h2m-1-29h2m-2 0h2m-2 4h2m-2 2h2m-2 3h2m-2 3h2m-2 0h2m-2 1h2m-2 1h2m-2 1h2m-2 2h2m-2 0h2m-2 1h2m-2 1h2m-2 2h2m-2 1h2m-2 4h2m-2 2h2m-1-26h2m-2 4h2m-2 1h2m-2 1h2m-2 1h2m-2 0h2m-2 2h2m-2 0h2m-2 2h2m-2 0h2m-2 5h2m-2 0h2m-2 0h2m-2 4h2m-2 1h2m-2 1h2m-2 1h2m-2 1h2m-2 0h2m-2 1h2m-2 0h2m-2 1h2m-2 1h2m-2 1h2m-1-30h2m-2 1h2m-2 1h2m-2 3h2m-2 2h2m-2 0h2m-2 2h2m-2 1h2m-2 0h2m-2 0h2m-2 1h2m-2 1h2m-2 1h2m-2 0h2m-2 2h2m-2 3h2m-2 0h2m-2 3h2m-2 4h2m-2 1h2m-1-22h2m-2 0h2m-2 1h2m-2 1h2m-2 0h2m-2 2h2m-2 6h2m-2 1h2m-2 2h2m-2 3h2m-2 0h2m-2 0h2m-2 3h2m-2 0h2m-2 0h2m-2 5h2m-2 0h2m-2 1h2m-2 4h2m-1-31h2m-2 4h2m-2 0h2m-2 1h2m-2 0h2m-2 1h2m-2 1h2m-2 2h2m-2 3h2m-2 5h2m-2 2h2m-2 0h2m-2 0h2m-2 1h2m-2 0h2m-2 2h2m-2 1h2m-2 2h2m-2 0h2m-2 3h2m-1-26h2m-2 2h2m-2 1h2m-2 6h2m-2 6h2m-2 0h2m-2 1h2m-2 1h2m-1-16h2m-2 1h2m-2 1h2m-2 3h2m-2 1h2m-2 1h2m-2 0h2m-2 0h2m-2 5h2m-2 1h2m-2 3h2m-2 0h2m-2 1h2m-2 1h2m-2 0h2m-1-20h2m-2 3h2m-2 3h2m-2 1h2m-2 2h2m-2 1h2m-2 1h2m-2 3h2m-2 1h2m-2 2h2m-2 2h2m-2 5h2m-1-22h2m-2 2h2m-2 1h2m-2 2h2m-2 3h2m-2 1h2m-2 1h2m-2 5h2m-2 2h2m-2 0h2m-2 3h2m-2 1h2m-2 1h2m-2 1h2m-1-22h2m-2 2h2m-2 1h2m-2 0h2m-2 1h2m-2 1h2m-2 1h2m-2 0h2m-2 1h2m-2 0h2m-2 0h2m-2 1h2m-2 4h2m-2 1h2m-2 0h2m-2 3h2m-2 2h2m-2 1h2m-2 9h2m-1-30h2m-2 2h2m-2 2h2m-2 2h2m-2 2h2m-2 0h2m-2 0h2m-2 2h2m-2 6h2m-2 1h2m-2 1h2m-2 0h2m-2 0h2m-2 2h2m-1-18h2m-2 3h2m-2 1h2m-2 1h2m-2 1h2m-2 2h2m-2 0h2m-2 2h2m-2 2h2m-2 2h2m-2 1h2m-2 0h2m-2 0h2m-2 1h2m-2 0h2m-2 0h2m-2 1h2m-2 1h2m-2 1h2m-2 0h2m-2 2h2m-2 0h2m-2 0h2m-2 1h2m-2 0h2m-2 1h2m-1-30h2m-2 6h2m-2 0h2m-2 1h2m-2 3h2m-2 2h2m-2 1h2m-2 0h2m-2 2h2m-2 2h2m-2 1h2m-2 3h2m-2 1h2m-2 1h2m-2 1h2m-2 0h2m-2 4h2m-2 0h2m-2 0h2m-2 5h2m-1-32h2m-2 0h2m-2 6h2m-2 1h2m-2 1h2m-2 0h2m-2 1h2m-2 1h2m-2 1h2m-2 1h2m-2 0h2m-2 0h2m-2 0h2m-2 1h2m-2 2h2m-2 0h2m-2 3h2m-2 1h2m-2 1h2m-2 0h2m-2 3h2m-2 0h2m-2 0h2m-2 2h2m-2 0h2m-2 0h2m-2 1h2m-2 5h2m-2 0h2m-2 0h2m-1-29h2m-2 1h2m-2 3h2m-2 2h2m-2 1h2m-2 2h2m-2 0h2m-2 1h2m-2 2h2m-2 1h2m-2 0h2m-2 1h2m-2 0h2m-2 0h2m-2 3h2m-2 12h2m-1-34h2m-2 6h2m-2 1h2m-2 2h2m-2 1h2m-2 2h2m-2 4h2m-2 2h2m-2 0h2m-2 3h2m-2 1h2m-2 1h2m-2 2h2m-2 2h2m-1-22h2m-2 2h2m-2 4h2m-2 3h2m-2 1h2m-2 1h2m-2 3h2m-2 0h2m-2 2h2m-2 0h2m-2 1h2m-2 1h2m-2 0h2m-2 4h2m-1-25h2m-2 4h2m-2 1h2m-2 1h2m-2 1h2m-2 1h2m-2 1h2m-2 1h2m-2 1h2m-2 0h2m-2 3h2m-2 0h2m-2 1h2m-2 0h2m-2 0h2m-2 1h2m-2 3h2m-2 1h2m-2 1h2m-2 4h2m-1-24h2m-2 4h2m-2 1h2m-2 1h2m-2 5h2m-2 2h2m-2 1h2m-2 3h2m-2 0h2m-2 1h2m-2 3h2m-2 1h2m-2 2h2m-2 0h2m-2 6h2m-2 2h2m-2 0h2m-2 24h2m-1-56h2m-2 1h2m-2 2h2m-2 2h2m-2 6h2m-2 1h2m-2 0h2m-2 0h2m-2 1h2m-2 4h2m-2 1h2m-2 1h2m-2 0h2m-2 1h2m-2 0h2m-2 1h2m-2 1h2m-2 1h2m-2 3h2m-2 0h2m-1-24h2m-2 0h2m-2 1h2m-2 1h2m-2 5h2m-2 1h2m-2 0h2m-2 5h2m-2 0h2m-2 0h2m-2 1h2m-2 0h2m-2 2h2m-2 0h2m-2 1h2m-2 2h2m-2 0h2m-2 0h2m-2 2h2m-2 0h2m-2 1h2m-2 1h2m-2 2h2m-1-27h2m-2 0h2m-2 2h2m-2 1h2m-2 3h2m-2 1h2m-2 2h2m-2 2h2m-2 1h2m-2 1h2m-2 0h2m-2 4h2m-2 0h2m-2 1h2m-2 1h2m-2 1h2m-2 2h2m-2 0h2m-2 2h2m-1-28h2m-2 8h2m-2 0h2m-2 2h2m-2 4h2m-2 1h2m-2 6h2m-2 0h2m-2 1h2m-2 0h2m-2 2h2m-2 4h2m-2 0h2m-2 1h2m-2 6h2m-2 4h2m-1-32h2m-2 1h2m-2 0h2m-2 1h2m-2 2h2m-2 0h2m-2 4h2m-2 1h2m-2 1h2m-2 2h2m-2 0h2m-2 5h2m-2 2h2m-2 2h2m-2 3h2m-2 4h2m-1-30h2m-2 2h2m-2 3h2m-2 0h2m-2 1h2m-2 3h2m-2 0h2m-2 2h2m-2 0h2m-2 0h2m-2 1h2m-2 0h2m-2 2h2m-2 1h2m-2 0h2m-2 3h2m-2 6h2m-2 4h2m-1-24h2m-2 2h2m-2 2h2m-2 6h2m-2 0h2m-2 0h2m-2 3h2m-2 2h2m-2 0h2m-2 1h2m-2 2h2m-2 0h2m-2 1h2m-2 1h2m-2 1h2m-2 0h2m-1-26h2m-2 3h2m-2 0h2m-2 4h2m-2 1h2m-2 1h2m-2 2h2m-2 0h2m-2 1h2m-2 7h2m-2 1h2m-2 3h2m-2 0h2m-2 1h2m-2 1h2m-2 2h2m-2 4h2m-1-22h2m-2 5h2m-2 6h2m-2 0h2m-2 2h2m-2 0h2m-2 3h2m-2 1h2m-2 4h2m-1-26h2m-2 0h2m-2 5h2m-2 3h2m-2 1h2m-2 0h2m-2 7h2m-2 0h2m-2 0h2m-2 2h2m-2 0h2m-2 0h2m-2 2h2m-2 2h2m-2 2h2m-2 1h2m-2 0h2m-1-27h2m-2 3h2m-2 0h2m-2 0h2m-2 3h2m-2 0h2m-2 1h2m-2 1h2m-2 0h2m-2 1h2m-2 0h2m-2 3h2m-2 1h2m-2 0h2m-2 1h2m-2 3h2m-2 2h2m-2 0h2m-2 1h2m-2 5h2m-2 5h2m-1-41h2m-2 10h2m-2 2h2m-2 0h2m-2 2h2m-2 1h2m-2 1h2m-2 3h2m-2 0h2m-2 2h2m-2 3h2m-2 0h2m-2 3h2m-2 2h2m-2 1h2m-2 0h2m-2 0h2m-2 1h2m-2 0h2m-2 1h2m-1-24h2m-2 6h2m-2 2h2m-2 3h2m-2 1h2m-2 2h2m-2 5h2m-2 3h2m-2 3h2m-2 0h2m-2 2h2m-1-25h2m-2 0h2m-2 0h2m-2 2h2m-2 1h2m-2 2h2m-2 0h2m-2 1h2m-2 4h2m-2 0h2m-2 0h2m-2 3h2m-2 2h2m-2 0h2m-2 0h2m-2 1h2m-2 1h2m-2 1h2m-2 0h2m-2 0h2m-2 1h2m-2 1h2m-2 0h2m-2 1h2m-2 1h2m-2 0h2m-2 1h2m-2 0h2m-2 0h2m-2 1h2m-2 1h2m-2 2h2m-2 0h2m-2 2h2m-1-32h2m-2 0h2m-2 4h2m-2 1h2m-2 2h2m-2 2h2m-2 1h2m-2 1h2m-2 1h2m-2 0h2m-2 1h2m-2 2h2m-2 0h2m-2 0h2m-2 1h2m-2 0h2m-2 1h2m-2 2h2m-2 1h2m-2 0h2m-2 0h2m-2 7h2m-2 3h2m-2 2h2m-2 1h2m-1-28h2m-2 1h2m-2 4h2m-2 2h2m-2 1h2m-2 1h2m-2 1h2m-2 0h2m-2 0h2m-2 0h2m-2 3h2m-2 1h2m-2 2h2m-2 0h2m-2 1h2m-2 1h2m-2 1h2m-2 1h2m-2 4h2m-1-26h2m-2 4h2m-2 0h2m-2 6h2m-2 1h2m-2 4h2m-2 3h2m-2 0h2m-2 1h2m-2 2h2m-2 3h2m-2 3h2m-2 2h2m-1-30h2m-2 1h2m-2 2h2m-2 0h2m-2 2h2m-2 0h2m-2 4h2m-2 0h2m-2 1h2m-2 2h2m-2 3h2m-2 2h2m-2 2h2m-2 2h2m-2 0h2m-2 1h2m-2 0h2m-2 2h2m-2 3h2m-1-20h2m-2 0h2m-2 2h2m-2 0h2m-2 2h2m-2 5h2m-2 2h2m-2 2h2m-2 0h2m-2 4h2m-2 1h2m-2 1h2m-2 1h2m-2 1h2m-2 2h2m-2 0h2m-2 0h2m-2 1h2m-1-28h2m-2 2h2m-2 1h2m-2 1h2m-2 1h2m-2 5h2m-2 1h2m-2 0h2m-2 3h2m-2 1h2m-2 5h2m-2 1h2m-2 7h2m-1-26h2m-2 1h2m-2 0h2m-2 1h2m-2 1h2m-2 0h2m-2 2h2m-2 1h2m-2 2h2m-2 0h2m-2 0h2m-2 5h2m-2 2h2m-2 1h2m-2 0h2m-2 1h2m-2 0h2m-2 2h2m-2 1h2m-2 0h2m-2 1h2m-2 4h2m-1-31h2m-2 1h2m-2 1h2m-2 3h2m-2 3h2m-2 0h2m-2 0h2m-2 1h2m-2 0h2m-2 1h2m-2 1h2m-2 4h2m-2 1h2m-2 0h2m-2 0h2m-2 1h2m-2 1h2m-2 2h2m-2 0h2m-2 0h2m-2 0h2m-2 1h2m-2 1h2m-2 2h2m-2 0h2m-2 1h2m-2 0h2m-2 4h2m-2 5h2m-2 3h2m-1-31h2m-2 1h2m-2 3h2m-2 1h2m-2 0h2m-2 0h2m-2 1h2m-2 1h2m-2 3h2m-2 1h2m-2 1h2m-2 1h2m-2 0h2m-2 1h2m-2 1h2m-2 3h2m-2 5h2m-1-25h2m-2 1h2m-2 0h2m-2 2h2m-2 0h2m-2 1h2m-2 1h2m-2 1h2m-2 2h2m-2 2h2m-2 2h2m-2 0h2m-2 0h2m-2 0h2m-2 1h2m-2 1h2m-2 2h2m-2 1h2m-2 0h2m-2 1h2m-2 0h2m-2 1h2m-2 0h2m-2 1h2m-2 2h2m-2 5h2m-1-29h2m-2 4h2m-2 2h2m-2 3h2m-2 1h2m-2 3h2m-2 2h2m-2 2h2m-2 1h2m-2 2h2m-2 0h2m-2 0h2m-2 1h2m-2 0h2m-2 0h2m-2 1h2m-2 0h2m-2 2h2m-2 5h2m-1-31h2m-2 4h2m-2 1h2m-2 2h2m-2 3h2m-2 0h2m-2 0h2m-2 1h2m-2 0h2m-2 1h2m-2 0h2m-2 1h2m-2 0h2m-2 0h2m-2 1h2m-2 2h2m-2 1h2m-2 4h2m-2 4h2m-2 2h2m-2 1h2m-2 1h2m-2 1h2m-2 0h2m-2 6h2m-1-32h2m-2 3h2m-2 2h2m-2 0h2m-2 0h2m-2 5h2m-2 1h2m-2 3h2m-2 1h2m-2 0h2m-2 2h2m-2 2h2m-2 0h2m-2 2h2m-2 2h2m-2 15h2m-1-34h2m-2 0h2m-2 1h2m-2 1h2m-2 3h2m-2 0h2m-2 1h2m-2 0h2m-2 1h2m-2 2h2m-2 2h2m-2 2h2m-2 1h2m-2 2h2m-2 1h2m-2 1h2m-2 5h2m-1-25h2m-2 3h2m-2 1h2m-2 3h2m-2 1h2m-2 1h2m-2 1h2m-2 2h2m-2 1h2m-2 0h2m-2 0h2m-2 3h2m-2 1h2m-2 2h2m-2 2h2m-1-31h2m-2 10h2m-2 2h2m-2 2h2m-2 3h2m-2 0h2m-2 1h2m-2 1h2m-2 1h2m-2 0h2m-2 2h2m-2 1h2m-2 1h2m-2 1h2m-2 1h2m-2 2h2m-2 0h2m-2 1h2m-2 7h2m-1-26h2m-2 1h2m-2 0h2m-2 1h2m-2 2h2m-2 1h2m-2 1h2m-2 1h2m-2 1h2m-2 0h2m-2 0h2m-2 3h2m-2 1h2m-2 0h2m-2 3h2m-2 1h2m-2 2h2m-2 1h2m-2 3h2m-2 2h2m-2 2h2m-1-30h2m-2 0h2m-2 1h2m-2 3h2m-2 1h2m-2 3h2m-2 0h2m-2 0h2m-2 2h2m-2 1h2m-2 1h2m-2 1h2m-2 1h2m-2 0h2m-2 1h2m-2 1h2m-2 2h2m-2 2h2m-2 1h2m-2 1h2m-2 5h2m-2 6h2m-1-33h2m-2 2h2m-2 3h2m-2 0h2m-2 2h2m-2 0h2m-2 2h2m-2 0h2m-2 1h2m-2 1h2m-2 0h2m-2 5h2m-2 1h2m-2 0h2m-2 2h2m-2 3h2m-2 1h2m-2 1h2m-1-24h2m-2 2h2m-2 2h2m-2 3h2m-2 1h2m-2 0h2m-2 2h2m-2 1h2m-2 2h2m-2 2h2m-2 1h2m-2 1h2m-2 1h2m-2 0h2m-2 1h2m-2 0h2m-2 5h2m-1-25h2m-2 5h2m-2 0h2m-2 2h2m-2 1h2m-2 0h2m-2 3h2m-2 2h2m-2 0h2m-2 1h2m-2 2h2m-2 0h2m-2 0h2m-2 0h2m-2 2h2m-2 0h2m-2 1h2m-2 0h2m-2 4h2m-2 0h2m-2 2h2m-2 0h2m-2 0h2m-2 0h2m-2 3h2m-2 0h2m-2 1h2m-1-28h2m-2 1h2m-2 1h2m-2 2h2m-2 5h2m-2 0h2m-2 1h2m-2 0h2m-2 0h2m-2 1h2m-2 6h2m-2 1h2m-2 0h2m-2 1h2m-2 2h2m-2 1h2m-2 2h2m-2 1h2m-2 0h2m-2 6h2m-1-33h2m-2 0h2m-2 3h2m-2 1h2m-2 0h2m-2 2h2m-2 1h2m-2 0h2m-2 1h2m-2 0h2m-2 1h2m-2 2h2m-2 2h2m-2 0h2m-2 1h2m-2 1h2m-2 2h2m-2 3h2m-2 1h2m-2 1h2m-2 0h2m-2 1h2m-2 1h2m-2 0h2m-2 1h2m-2 0h2m-2 3h2m-2 7h2m-1-31h2m-2 1h2m-2 1h2m-2 1h2m-2 1h2m-2 1h2m-2 2h2m-2 3h2m-2 1h2m-2 0h2m-2 2h2m-2 0h2m-2 1h2m-2 1h2m-2 1h2m-2 1h2m-2 0h2m-2 0h2m-2 0h2m-2 3h2m-2 1h2m-1-22h2m-2 3h2m-2 2h2m-2 1h2m-2 0h2m-2 1h2m-2 1h2m-2 1h2m-2 0h2m-2 1h2m-2 1h2m-2 0h2m-2 1h2m-2 1h2m-2 1h2m-2 1h2m-2 1h2m-2 4h2m-2 0h2m-1-16h2m-2 1h2m-2 2h2m-2 1h2m-2 1h2m-2 3h2m-2 4h2m-2 0h2m-2 1h2m-2 0h2m-2 0h2m-2 1h2m-2 1h2m-2 0h2m-2 0h2m-2 0h2m-2 2h2m-2 1h2m-2 3h2m-2 1h2m-2 1h2m-1-26h2m-2 1h2m-2 0h2m-2 1h2m-2 1h2m-2 3h2m-2 0h2m-2 3h2m-2 6h2m-2 1h2m-2 0h2m-2 2h2m-2 0h2m-2 4h2m-1-20h2m-2 1h2m-2 1h2m-2 1h2m-2 0h2m-2 1h2m-2 2h2m-2 1h2m-2 0h2m-2 0h2m-2 1h2m-2 0h2m-2 2h2m-2 0h2m-2 0h2m-2 1h2m-2 1h2m-2 0h2m-2 2h2m-2 0h2m-2 0h2m-2 1h2m-2 0h2m-2 1h2m-2 1h2m-2 0h2m-2 1h2m-2 0h2m-2 1h2m-2 0h2m-2 0h2m-2 4h2m-2 0h2m-2 2h2m-1-19h2m-2 1h2m-2 0h2m-2 0h2m-2 1h2m-2 5h2m-2 0h2m-2 2h2m-2 5h2m-2 0h2m-2 1h2m-2 1h2m-2 1h2m-2 10h2m-1-38h2m-2 4h2m-2 2h2m-2 1h2m-2 0h2m-2 0h2m-2 2h2m-2 0h2m-2 2h2m-2 0h2m-2 2h2m-2 3h2m-2 0h2m-2 1h2m-2 6h2m-2 1h2m-1-23h2m-2 3h2m-2 1h2m-2 2h2m-2 0h2m-2 1h2m-2 4h2m-2 1h2m-2 2h2m-2 0h2m-2 1h2m-2 1h2m-2 1h2m-2 1h2m-2 1h2m-2 2h2m-2 1h2m-2 5h2m-2 3h2m-1-26h2m-2 3h2m-2 2h2m-2 0h2m-2 1h2m-2 1h2m-2 3h2m-2 1h2m-2 1h2m-2 3h2m-2 1h2m-2 0h2m-2 4h2m-2 1h2m-2 2h2m-1-24h2m-2 5h2m-2 1h2m-2 2h2m-2 1h2m-2 2h2m-2 1h2m-2 6h2m-2 1h2m-2 0h2m-2 3h2m-2 0h2m-2 1h2m-2 0h2m-2 1h2m-1-27h2m-2 4h2m-2 2h2m-2 1h2m-2 2h2m-2 0h2m-2 4h2m-2 2h2m-2 0h2m-2 3h2m-2 2h2m-2 0h2m-2 2h2m-2 4h2m-2 8h2m-2 3h2m-1-40h2m-2 4h2m-2 6h2m-2 1h2m-2 1h2m-2 0h2m-2 0h2m-2 1h2m-2 0h2m-2 0h2m-2 1h2m-2 1h2m-2 2h2m-2 0h2m-2 0h2m-2 2h2m-2 1h2m-2 0h2m-2 4h2m-2 2h2m-2 0h2m-2 1h2m-2 0h2m-2 1h2m-2 1h2m-2 1h2m-1-25h2m-2 0h2m-2 2h2m-2 1h2m-2 4h2m-2 0h2m-2 1h2m-2 0h2m-2 1h2m-2 0h2m-2 1h2m-2 1h2m-2 0h2m-2 1h2m-2 0h2m-2 0h2m-2 1h2m-2 1h2m-2 1h2m-2 0h2m-2 1h2m-2 2h2m-2 2h2m-2 2h2m-1-21h2m-2 4h2m-2 1h2m-2 0h2m-2 0h2m-2 1h2m-2 0h2m-2 1h2m-2 1h2m-2 4h2m-2 1h2m-2 1h2m-2 0h2m-2 0h2m-2 0h2m-2 2h2m-2 0h2m-2 0h2m-2 1h2m-2 0h2m-2 4h2m-2 1h2m-2 2h2m-2 2h2m-2 1h2m-1-30h2m-2 1h2m-2 0h2m-2 3h2m-2 0h2m-2 1h2m-2 1h2m-2 2h2m-2 0h2m-2 1h2m-2 2h2m-2 1h2m-2 2h2m-2 0h2m-2 0h2m-2 1h2m-2 0h2m-2 1h2m-2 1h2m-2 1h2m-2 0h2m-2 2h2m-2 1h2m-2 1h2m-1-21h2m-2 0h2m-2 3h2m-2 0h2m-2 3h2m-2 0h2m-2 1h2m-2 0h2m-2 1h2m-2 0h2m-2 1h2m-2 1h2m-2 2h2m-2 1h2m-2 2h2m-2 0h2m-2 1h2m-2 2h2m-2 1h2m-2 0h2m-2 1h2m-1-21h2m-2 2h2m-2 3h2m-2 1h2m-2 1h2m-2 5h2m-2 2h2m-2 1h2m-2 1h2m-2 1h2m-2 2h2m-2 0h2m-2 2h2m-2 1h2m-2 1h2m-2 2h2m-2 0h2m-1-25h2m-2 2h2m-2 1h2m-2 0h2m-2 0h2m-2 1h2m-2 3h2m-2 1h2m-2 2h2m-2 2h2m-2 0h2m-2 1h2m-2 1h2m-2 1h2m-2 3h2m-2 1h2m-2 1h2m-2 4h2m-2 0h2m-2 2h2m-2 3h2m-1-36h2m-2 6h2m-2 1h2m-2 2h2m-2 0h2m-2 2h2m-2 2h2m-2 0h2m-2 1h2m-2 1h2m-2 2h2m-2 1h2m-2 1h2m-2 0h2m-2 1h2m-2 1h2m-2 1h2m-2 2h2m-2 6h2m-2 0h2m-2 1h2m-2 1h2m-2 7h2m-1-34h2m-2 5h2m-2 1h2m-2 0h2m-2 1h2m-2 0h2m-2 1h2m-2 2h2m-2 0h2m-2 1h2m-2 1h2m-2 3h2m-2 3h2m-2 7h2m-2 0h2m-2 4h2m-2 9h2m-1-31h2m-2 1h2m-2 1h2m-2 1h2m-2 0h2m-2 1h2m-2 1h2m-2 3h2m-2 1h2m-2 1h2m-2 2h2m-2 0h2m-2 1h2m-2 0h2m-2 1h2m-2 1h2m-2 0h2m-2 2h2m-2 1h2m-2 1h2m-2 4h2m-2 1h2m-1-27h2m-2 4h2m-2 1h2m-2 1h2m-2 0h2m-2 4h2m-2 1h2m-2 1h2m-2 3h2m-2 3h2m-2 0h2m-2 3h2m-2 1h2m-2 2h2m-2 6h2m-1-33h2m-2 4h2m-2 0h2m-2 2h2m-2 3h2m-2 0h2m-2 0h2m-2 1h2m-2 0h2m-2 2h2m-2 1h2m-2 0h2m-2 0h2m-2 0h2m-2 1h2m-2 0h2m-2 3h2m-2 4h2m-2 4h2m-2 0h2m-2 0h2m-1-22h2m-2 1h2m-2 2h2m-2 2h2m-2 1h2m-2 0h2m-2 0h2m-2 6h2m-2 2h2m-2 1h2m-2 3h2m-2 1h2m-2 3h2m-2 0h2m-1-25h2m-2 3h2m-2 3h2m-2 0h2m-2 1h2m-2 0h2m-2 0h2m-2 3h2m-2 0h2m-2 0h2m-2 3h2m-2 1h2m-2 0h2m-2 3h2m-2 0h2m-2 0h2m-2 1h2m-2 4h2m-2 4h2m-2 2h2m-2 1h2m-2 0h2m-1-27h2m-2 3h2m-2 3h2m-2 0h2m-2 1h2m-2 4h2m-2 5h2m-2 0h2m-2 4h2m-2 0h2m-2 4h2m-2 1h2m-2 0h2m-2 0h2m-2 0h2m-2 1h2m-2 0h2m-1-23h2m-2 1h2m-2 1h2m-2 2h2m-2 0h2m-2 0h2m-2 1h2m-2 1h2m-2 1h2m-2 2h2m-2 1h2m-2 2h2m-2 0h2m-2 1h2m-2 1h2m-2 0h2m-2 2h2m-2 0h2m-2 0h2m-2 1h2m-2 0h2m-2 2h2m-2 0h2m-2 1h2m-1-25h2m-2 3h2m-2 4h2m-2 4h2m-2 1h2m-2 2h2m-2 1h2m-2 1h2m-2 1h2m-2 1h2m-2 1h2m-2 1h2m-2 1h2m-2 1h2m-2 1h2m-2 1h2m-2 2h2m-2 2h2m-2 4h2m-1-39h2m-2 9h2m-2 1h2m-2 2h2m-2 0h2m-2 1h2m-2 2h2m-2 0h2m-2 1h2m-2 1h2m-2 1h2m-2 0h2m-2 2h2m-2 1h2m-2 0h2m-2 2h2m-2 1h2m-2 3h2m-2 3h2m-2 3h2m-2 0h2m-2 6h2m-2 2h2m-1-39h2m-2 6h2m-2 1h2m-2 3h2m-2 1h2m-2 1h2m-2 3h2m-2 1h2m-2 0h2m-2 1h2m-2 2h2m-2 1h2m-2 1h2m-2 3h2m-2 1h2m-2 0h2m-2 1h2m-2 1h2m-2 1h2m-2 0h2m-2 0h2m-2 8h2m-1-31h2m-2 3h2m-2 2h2m-2 5h2m-2 4h2m-2 2h2m-2 2h2m-2 0h2m-2 3h2m-2 0h2m-2 0h2m-2 0h2m-2 1h2m-1-16h2m-2 1h2m-2 1h2m-2 4h2m-2 1h2m-2 1h2m-2 2h2m-2 1h2m-2 1h2m-2 1h2m-2 2h2m-2 6h2m-1-26h2m-2 5h2m-2 1h2m-2 1h2m-2 1h2m-2 0h2m-2 0h2m-2 1h2m-2 0h2m-2 0h2m-2 2h2m-2 0h2m-2 0h2m-2 2h2m-2 3h2m-2 2h2m-2 1h2m-2 1h2m-2 5h2m-2 1h2m-2 0h2m-2 3h2m-1-30h2m-2 0h2m-2 3h2m-2 1h2m-2 1h2m-2 2h2m-2 1h2m-2 0h2m-2 1h2m-2 1h2m-2 2h2m-2 2h2m-2 1h2m-2 1h2m-2 1h2m-2 3h2m-2 1h2m-2 2h2m-2 1h2m-2 1h2m-1-30h2m-2 3h2m-2 5h2m-2 2h2m-2 0h2m-2 1h2m-2 0h2m-2 3h2m-2 1h2m-2 1h2m-2 0h2m-2 2h2m-2 1h2m-2 1h2m-2 1h2m-2 1h2m-2 1h2m-2 0h2m-2 2h2m-2 0h2m-2 0h2m-2 1h2m-2 0h2m-2 1h2m-2 1h2m-2 3h2m-1-28h2m-2 6h2m-2 5h2m-2 1h2m-2 1h2m-2 2h2m-2 2h2m-2 2h2m-2 3h2m-2 0h2m-2 0h2m-2 3h2m-2 1h2m-2 0h2m-2 1h2m-2 0h2m-2 0h2m-2 4h2m-2 0h2m-1-27h2m-2 1h2m-2 0h2m-2 0h2m-2 0h2m-2 5h2m-2 0h2m-2 4h2m-2 0h2m-2 3h2m-2 0h2m-2 2h2m-2 3h2m-2 1h2m-2 0h2m-2 0h2m-2 0h2m-2 0h2m-2 2h2m-2 1h2m-2 1h2m-1-24h2m-2 4h2m-2 1h2m-2 1h2m-2 1h2m-2 2h2m-2 4h2m-2 4h2m-2 1h2m-2 0h2m-2 2h2m-2 1h2m-2 2h2m-2 7h2m-1-23h2m-2 1h2m-2 1h2m-2 2h2m-2 0h2m-2 0h2m-2 0h2m-2 4h2m-2 1h2m-2 0h2m-2 5h2m-2 0h2m-2 0h2m-2 1h2m-2 0h2m-2 5h2m-1-22h2m-2 0h2m-2 1h2m-2 3h2m-2 1h2m-2 1h2m-2 0h2m-2 0h2m-2 1h2m-2 1h2m-2 1h2m-2 3h2m-2 1h2m-2 4h2m-2 0h2m-2 0h2m-2 2h2m-2 0h2m-2 5h2m-1-32h2m-2 1h2m-2 1h2m-2 6h2m-2 1h2m-2 0h2m-2 2h2m-2 1h2m-2 1h2m-2 1h2m-2 3h2m-2 2h2m-2 0h2m-2 1h2m-2 1h2m-2 1h2m-2 0h2m-2 0h2m-2 2h2m-2 0h2m-2 1h2m-2 0h2m-2 2h2m-2 0h2m-2 5h2m-2 0h2m-2 3h2m-1-39h2m-2 8h2m-2 5h2m-2 1h2m-2 4h2m-2 1h2m-2 0h2m-2 9h2m-1-22h2m-2 12h2m-2 0h2m-2 9h2m-1-21h2m-2 2h2m-2 4h2m-2 2h2m-2 0h2m-2 1h2m-2 4h2m-2 0h2m-2 5h2m-2 0h2m-2 3h2m-2 0h2m-2 1h2m-2 0h2m-2 1h2m-2 1h2m-2 1h2m-2 1h2m-2 0h2m-1-23h2m-2 2h2m-2 4h2m-2 1h2m-2 0h2m-2 4h2m-2 0h2m-2 1h2m-2 1h2m-2 0h2m-2 3h2m-2 1h2m-2 0h2m-2 0h2m-2 2h2m-2 3h2m-2 1h2m-2 3h2m-1-24h2m-2 1h2m-2 1h2m-2 2h2m-2 0h2m-2 0h2m-2 0h2m-2 2h2m-2 3h2m-2 0h2m-2 0h2m-2 1h2m-2 0h2m-2 2h2m-2 1h2m-2 1h2m-2 1h2m-2 1h2m-2 1h2m-2 1h2m-2 1h2m-2 1h2m-2 0h2m-2 1h2m-1-23h2m-2 8h2m-2 1h2m-2 2h2m-2 1h2m-2 2h2m-2 2h2m-2 2h2m-2 1h2m-2 1h2m-2 0h2m-2 1h2m-2 1h2m-2 0h2m-1-21h2m-2 1h2m-2 1h2m-2 5h2m-2 0h2m-2 2h2m-2 0h2m-2 1h2m-2 2h2m-2 1h2m-2 2h2m-2 6h2m-2 3h2m-1-25h2m-2 2h2m-2 1h2m-2 0h2m-2 1h2m-2 1h2m-2 4h2m-2 1h2m-2 1h2m-2 0h2m-2 0h2m-2 2h2m-2 3h2m-2 0h2m-2 0h2m-2 1h2m-2 2h2m-2 2h2m-2 4h2m-2 0h2m-2 1h2m-1-29h2m-2 4h2m-2 0h2m-2 1h2m-2 1h2m-2 1h2m-2 0h2m-2 1h2m-2 3h2m-2 4h2m-2 0h2m-2 0h2m-2 2h2m-2 0h2m-2 4h2m-2 1h2m-2 1h2m-2 1h2m-2 2h2m-2 1h2m-1-24h2m-2 3h2m-2 2h2m-2 1h2m-2 1h2m-2 1h2m-2 2h2m-2 1h2m-2 1h2m-2 2h2m-2 1h2m-2 0h2m-2 3h2m-2 1h2m-2 3h2m-1-21h2m-2 0h2m-2 1h2m-2 3h2m-2 1h2m-2 1h2m-2 1h2m-2 2h2m-2 2h2m-2 3h2m-2 0h2m-2 1h2m-2 4h2m-2 4h2m-2 3h2m-1-33h2m-2 3h2m-2 0h2m-2 5h2m-2 5h2m-2 2h2m-2 0h2m-2 1h2m-2 0h2m-2 0h2m-2 1h2m-2 1h2m-2 0h2m-2 1h2m-2 2h2m-2 1h2m-2 0h2m-2 2h2m-2 1h2m-2 2h2m-2 4h2m-1-28h2m-2 0h2m-2 5h2m-2 0h2m-2 1h2m-2 3h2m-2 1h2m-2 0h2m-2 2h2m-2 3h2m-2 4h2m-2 1h2m-2 0h2m-2 1h2m-2 2h2m-2 1h2m-2 0h2m-2 2h2m-2 1h2m-1-27h2m-2 5h2m-2 0h2m-2 1h2m-2 2h2m-2 4h2m-2 0h2m-2 0h2m-2 2h2m-2 7h2m-2 2h2m-2 0h2m-2 0h2m-2 1h2m-2 0h2m-2 1h2m-2 2h2m-2 3h2m-2 1h2m-1-27h2m-2 2h2m-2 2h2m-2 1h2m-2 0h2m-2 0h2m-2 1h2m-2 2h2m-2 2h2m-2 0h2m-2 7h2m-2 0h2m-2 0h2m-2 2h2m-2 1h2m-2 2h2m-1-22h2m-2 1h2m-2 4h2m-2 1h2m-2 1h2m-2 2h2m-2 2h2m-2 1h2m-2 5h2m-2 1h2m-2 0h2m-2 2h2m-2 2h2m-2 2h2m-2 3h2m-2 2h2m-1-32h2m-2 2h2m-2 0h2m-2 1h2m-2 1h2m-2 2h2m-2 3h2m-2 1h2m-2 2h2m-2 1h2m-2 4h2m-2 1h2m-2 1h2m-2 0h2m-2 0h2m-2 4h2m-2 0h2m-2 1h2m-2 0h2m-2 1h2m-2 1h2m-2 0h2m-2 0h2m-2 1h2m-1-32h2m-2 5h2m-2 2h2m-2 1h2m-2 0h2m-2 1h2m-2 2h2m-2 0h2m-2 0h2m-2 2h2m-2 0h2m-2 3h2m-2 2h2m-2 1h2m-2 0h2m-2 3h2m-2 1h2m-2 0h2m-2 2h2m-2 0h2m-2 0h2m-2 1h2m-2 5h2m-2 3h2m-2 2h2m-2 0h2m-1-36h2m-2 7h2m-2 2h2m-2 4h2m-2 1h2m-2 1h2m-2 3h2m-2 5h2m-2 1h2m-2 0h2m-2 1h2m-2 1h2m-2 0h2m-2 0h2m-2 1h2m-2 1h2m-2 1h2m-2 3h2m-1-34h2m-2 8h2m-2 3h2m-2 5h2m-2 0h2m-2 1h2m-2 1h2m-2 1h2m-2 1h2m-2 0h2m-2 0h2m-2 4h2m-2 0h2m-2 0h2m-2 1h2m-2 0h2m-2 1h2m-2 1h2m-2 1h2m-2 1h2m-2 0h2m-2 1h2m-2 1h2m-1-23h2m-2 1h2m-2 2h2m-2 2h2m-2 1h2m-2 2h2m-2 0h2m-2 2h2m-2 0h2m-2 3h2m-2 0h2m-2 1h2m-2 1h2m-2 0h2m-2 1h2m-2 2h2m-2 0h2m-2 1h2m-2 1h2m-2 1h2m-2 2h2m-2 1h2m-2 4h2m-1-25h2m-2 0h2m-2 2h2m-2 2h2m-2 3h2m-2 3h2m-2 0h2m-2 2h2m-2 0h2m-2 3h2m-2 1h2m-2 3h2m-1-17h2m-2 0h2m-2 1h2m-2 1h2m-2 3h2m-2 1h2m-2 0h2m-2 2h2m-2 0h2m-2 1h2m-2 2h2m-2 1h2m-2 0h2m-2 1h2m-2 1h2m-2 1h2m-2 7h2m-1-31h2m-2 4h2m-2 0h2m-2 0h2m-2 3h2m-2 0h2m-2 6h2m-2 3h2m-2 2h2m-2 1h2m-2 4h2m-2 2h2m-2 0h2m-2 1h2m-2 0h2m-2 3h2m-1-24h2m-2 1h2m-2 0h2m-2 4h2m-2 2h2m-2 0h2m-2 1h2m-2 0h2m-2 0h2m-2 1h2m-2 0h2m-2 0h2m-2 1h2m-2 3h2m-2 2h2m-2 3h2m-2 0h2m-2 2h2m-2 0h2m-2 3h2m-2 1h2m-1-31h2m-2 8h2m-2 5h2m-2 1h2m-2 1h2m-2 1h2m-2 1h2m-2 0h2m-2 6h2m-2 0h2m-2 0h2m-2 1h2m-2 2h2m-2 0h2m-2 1h2m-2 4h2m-2 0h2m-1-25h2m-2 4h2m-2 3h2m-2 0h2m-2 3h2m-2 1h2m-2 3h2m-2 1h2m-2 1h2m-2 0h2m-2 1h2m-2 1h2m-2 2h2m-2 2h2m-1-24h2m-2 5h2m-2 0h2m-2 4h2m-2 0h2m-2 1h2m-2 1h2m-2 1h2m-2 4h2m-2 0h2m-2 0h2m-2 6h2m-2 1h2m-2 0h2m-2 3h2m-2 1h2m-2 0h2m-2 1h2m-2 0h2m-1-23h2m-2 1h2m-2 1h2m-2 1h2m-2 0h2m-2 4h2m-2 0h2m-2 1h2m-2 2h2m-2 0h2m-2 1h2m-2 2h2m-2 0h2m-2 1h2m-2 7h2m-2 1h2m-1-20h2m-2 1h2m-2 1h2m-2 0h2m-2 0h2m-2 3h2m-2 3h2m-2 1h2m-2 3h2m-2 1h2m-2 1h2m-2 0h2m-2 0h2m-2 0h2m-2 1h2m-2 0h2m-2 1h2m-2 2h2m-2 0h2m-2 0h2m-2 3h2m-2 2h2m-1-33h2m-2 6h2m-2 1h2m-2 2h2m-2 1h2m-2 1h2m-2 7h2m-2 1h2m-2 1h2m-2 8h2m-2 1h2m-2 8h2m-1-39h2m-2 8h2m-2 0h2m-2 1h2m-2 0h2m-2 1h2m-2 2h2m-2 0h2m-2 0h2m-2 0h2m-2 1h2m-2 0h2m-2 3h2m-2 1h2m-2 3h2m-2 1h2m-2 0h2m-2 5h2m-2 1h2m-2 2h2m-2 1h2m-1-18h2m-2 0h2m-2 3h2m-2 0h2m-2 0h2m-2 3h2m-2 0h2m-2 6h2m-2 0h2m-2 2h2m-2 3h2m-2 2h2m-2 1h2m-1-18h2m-2 3h2m-2 1h2m-2 0h2m-2 2h2m-2 1h2m-2 1h2m-2 3h2m-2 0h2m-2 6h2m-2 0h2m-2 1h2m-1-24h2m-2 0h2m-2 3h2m-2 3h2m-2 1h2m-2 2h2m-2 2h2m-2 5h2m-2 2h2m-2 1h2m-2 0h2m-2 2h2m-2 0h2m-2 5h2m-1-29h2m-2 2h2m-2 4h2m-2 1h2m-2 0h2m-2 1h2m-2 0h2m-2 1h2m-2 4h2m-2 0h2m-2 0h2m-2 1h2m-2 1h2m-2 1h2m-2 2h2m-2 3h2m-2 0h2m-2 0h2m-2 0h2m-2 1h2m-2 0h2m-2 0h2m-2 1h2m-2 2h2m-2 4h2m-1-21h2m-2 1h2m-2 1h2m-2 1h2m-2 2h2m-2 3h2m-2 1h2m-2 2h2m-2 2h2m-2 2h2m-2 1h2m-2 1h2m-2 0h2m-2 1h2m-2 1h2m-1-23h2m-2 1h2m-2 1h2m-2 1h2m-2 1h2m-2 1h2m-2 1h2m-2 1h2m-2 1h2m-2 2h2m-2 1h2m-2 0h2m-2 1h2m-2 0h2m-2 1h2m-2 0h2m-2 1h2m-2 1h2m-2 1h2m-2 5h2m-2 0h2m-2 0h2m-1-19h2m-2 0h2m-2 3h2m-2 0h2m-2 1h2m-2 5h2m-2 1h2m-2 2h2m-2 2h2m-2 0h2m-2 0h2m-2 1h2m-2 0h2m-2 1h2m-2 1h2m-2 3h2m-2 1h2m-2 0h2m-2 2h2m-1-24h2m-2 0h2m-2 0h2m-2 1h2m-2 0h2m-2 1h2m-2 1h2m-2 1h2m-2 2h2m-2 1h2m-2 0h2m-2 4h2m-2 2h2m-2 3h2m-2 0h2m-2 2h2m-2 4h2m-2 3h2m-1-31h2m-2 4h2m-2 5h2m-2 0h2m-2 1h2m-2 0h2m-2 1h2m-2 1h2m-2 3h2m-2 1h2m-2 1h2m-2 2h2m-2 1h2m-2 3h2m-2 0h2m-2 2h2m-2 0h2m-2 3h2m-2 2h2m-1-25h2m-2 1h2m-2 1h2m-2 5h2m-2 2h2m-2 1h2m-2 0h2m-2 0h2m-2 1h2m-2 0h2m-2 2h2m-2 2h2m-2 0h2m-2 1h2m-2 2h2m-2 2h2m-2 3h2m-2 1h2m-1-29h2m-2 3h2m-2 2h2m-2 3h2m-2 3h2m-2 1h2m-2 1h2m-2 1h2m-2 0h2m-2 0h2m-2 3h2m-2 1h2m-2 2h2m-2 2h2m-2 3h2m-2 0h2m-2 0h2m-2 0h2m-2 3h2m-2 1h2m-1-25h2m-2 5h2m-2 0h2m-2 0h2m-2 4h2m-2 1h2m-2 0h2m-2 2h2m-2 2h2m-2 4h2m-2 0h2m-2 1h2m-2 1h2m-2 1h2m-2 2h2m-2 1h2m-2 0h2m-1-28h2m-2 3h2m-2 3h2m-2 3h2m-2 1h2m-2 1h2m-2 0h2m-2 4h2m-2 1h2m-2 1h2m-2 2h2m-2 1h2m-2 2h2m-2 1h2m-1-16h2m-2 1h2m-2 1h2m-2 0h2m-2 1h2m-2 0h2m-2 1h2m-2 1h2m-2 0h2m-2 3h2m-2 3h2m-2 0h2m-2 2h2m-2 2h2m-2 1h2m-2 1h2m-2 2h2m-1-22h2m-2 6h2m-2 1h2m-2 2h2m-2 0h2m-2 1h2m-2 0h2m-2 1h2m-2 1h2m-2 1h2m-2 1h2m-2 2h2m-2 1h2m-2 0h2m-2 2h2m-2 6h2m-2 4h2m-1-30h2m-2 0h2m-2 0h2m-2 4h2m-2 3h2m-2 2h2m-2 1h2m-2 1h2m-2 2h2m-2 0h2m-2 1h2m-2 0h2m-2 1h2m-2 2h2m-2 0h2m-2 1h2m-2 3h2m-2 0h2m-2 2h2m-2 0h2m-2 2h2m-2 0h2m-2 0h2m-1-23h2m-2 2h2m-2 1h2m-2 0h2m-2 1h2m-2 1h2m-2 3h2m-2 2h2m-2 0h2m-2 1h2m-2 0h2m-2 1h2m-2 1h2m-2 0h2m-2 1h2m-2 3h2m-2 0h2m-2 1h2m-2 0h2m-2 3h2m-1-22h2m-2 3h2m-2 1h2m-2 2h2m-2 2h2m-2 5h2m-2 0h2m-2 0h2m-2 1h2m-2 2h2m-2 3h2m-2 1h2m-2 1h2m-2 10h2m-1-36h2m-2 3h2m-2 2h2m-2 1h2m-2 1h2m-2 0h2m-2 0h2m-2 2h2m-2 1h2m-2 0h2m-2 1h2m-2 3h2m-2 2h2m-2 0h2m-2 1h2m-2 1h2m-2 1h2m-2 0h2m-2 2h2m-2 0h2m-2 5h2m-2 1h2m-2 0h2m-1-23h2m-2 2h2m-2 3h2m-2 2h2m-2 4h2m-2 1h2m-2 1h2m-2 1h2m-2 1h2m-2 0h2m-2 0h2m-2 0h2m-2 1h2m-2 1h2m-2 3h2m-2 3h2m-1-27h2m-2 2h2m-2 3h2m-2 1h2m-2 0h2m-2 1h2m-2 7h2m-2 0h2m-2 1h2m-2 0h2m-2 1h2m-2 0h2m-2 1h2m-2 1h2m-2 0h2m-2 1h2m-2 0h2m-2 1h2m-2 1h2m-2 2h2m-2 2h2m-2 1h2m-2 4h2m-1-29h2m-2 4h2m-2 3h2m-2 1h2m-2 3h2m-2 3h2m-2 1h2m-2 0h2m-2 1h2m-2 0h2m-2 3h2m-2 1h2m-2 0h2m-2 1h2m-2 1h2m-2 1h2m-2 2h2m-1-21h2m-2 1h2m-2 1h2m-2 1h2m-2 1h2m-2 2h2m-2 1h2m-2 0h2m-2 0h2m-2 1h2m-2 1h2m-2 0h2m-2 5h2m-2 1h2m-2 0h2m-2 2h2m-2 3h2m-2 0h2m-2 3h2m-2 5h2m-2 1h2m-1-29h2m-2 2h2m-2 1h2m-2 0h2m-2 1h2m-2 0h2m-2 1h2m-2 0h2m-2 5h2m-2 4h2m-2 0h2m-2 5h2m-2 3h2m-2 2h2m-2 0h2m-2 0h2m-2 5h2m-1-33h2m-2 3h2m-2 4h2m-2 2h2m-2 2h2m-2 1h2m-2 5h2m-2 2h2m-2 0h2m-2 1h2m-2 2h2m-2 2h2m-2 1h2m-2 1h2m-2 0h2m-2 0h2m-2 4h2m-2 0h2m-2 1h2m-1-29h2m-2 6h2m-2 3h2m-2 1h2m-2 3h2m-2 0h2m-2 3h2m-2 1h2m-2 6h2m-2 1h2m-2 5h2m-1-30h2m-2 1h2m-2 0h2m-2 1h2m-2 1h2m-2 6h2m-2 1h2m-2 2h2m-2 1h2m-2 0h2m-2 1h2m-2 1h2m-2 0h2m-2 0h2m-2 1h2m-2 0h2m-2 0h2m-2 2h2m-2 1h2m-2 0h2m-2 6h2m-2 0h2m-2 2h2m-2 0h2m-1-25h2m-2 1h2m-2 0h2m-2 1h2m-2 3h2m-2 1h2m-2 1h2m-2 2h2m-2 1h2m-2 2h2m-2 2h2m-2 0h2m-2 2h2m-2 2h2m-2 0h2m-2 0h2m-2 0h2m-2 5h2m-2 1h2m-2 0h2m-2 1h2m-2 1h2m-2 6h2m-1-32h2m-2 3h2m-2 2h2m-2 1h2m-2 1h2m-2 0h2m-2 1h2m-2 1h2m-2 2h2m-2 1h2m-2 1h2m-2 4h2m-2 0h2m-2 0h2m-2 2h2m-2 1h2m-2 8h2m-1-28h2m-2 1h2m-2 1h2m-2 1h2m-2 0h2m-2 2h2m-2 1h2m-2 1h2m-2 1h2m-2 3h2m-2 2h2m-2 0h2m-2 1h2m-2 0h2m-2 2h2m-2 2h2m-2 2h2m-2 0h2m-2 0h2m-2 1h2m-2 1h2m-2 2h2m-2 3h2m-1-26h2m-2 2h2m-2 2h2m-2 5h2m-2 0h2m-2 1h2m-2 0h2m-2 0h2m-2 4h2m-2 0h2m-2 1h2m-2 2h2m-2 0h2m-2 1h2m-2 3h2m-2 2h2m-1-26h2m-2 2h2m-2 4h2m-2 2h2m-2 1h2m-2 1h2m-2 0h2m-2 1h2m-2 1h2m-2 1h2m-2 3h2m-2 0h2m-2 0h2m-2 2h2m-2 2h2m-2 0h2m-2 2h2m-2 4h2m-2 0h2m-2 1h2m-2 2h2m-2 4h2m-1-32h2m-2 1h2m-2 2h2m-2 1h2m-2 1h2m-2 1h2m-2 1h2m-2 1h2m-2 2h2m-2 0h2m-2 2h2m-2 0h2m-2 1h2m-2 1h2m-2 2h2m-2 1h2m-2 2h2m-2 2h2m-2 0h2m-2 1h2m-2 3h2m-1-32h2m-2 13h2m-2 7h2m-2 0h2m-2 1h2m-2 2h2m-2 2h2m-2 2h2m-2 2h2m-2 2h2m-2 0h2m-2 0h2m-2 1h2m-1-30h2m-2 3h2m-2 2h2m-2 0h2m-2 3h2m-2 0h2m-2 1h2m-2 1h2m-2 1h2m-2 0h2m-2 2h2m-2 2h2m-2 1h2m-2 1h2m-2 1h2m-2 1h2m-2 0h2m-2 1h2m-2 1h2m-2 5h2m-2 9h2m-1-31h2m-2 6h2m-2 4h2m-2 0h2m-2 1h2m-2 1h2m-2 0h2m-2 3h2m-2 1h2m-2 0h2m-2 1h2m-2 0h2m-2 0h2m-2 1h2m-2 6h2m-2 0h2m-2 1h2m-2 1h2m-2 3h2m-1-27h2m-2 1h2m-2 0h2m-2 3h2m-2 3h2m-2 1h2m-2 0h2m-2 1h2m-2 2h2m-2 0h2m-2 1h2m-2 0h2m-2 1h2m-2 2h2m-2 1h2m-2 1h2m-2 2h2m-2 6h2m-2 0h2m-2 1h2m-2 1h2m-1-26h2m-2 1h2m-2 2h2m-2 3h2m-2 1h2m-2 1h2m-2 0h2m-2 1h2m-2 0h2m-2 1h2m-2 0h2m-2 1h2m-2 0h2m-2 1h2m-2 3h2m-2 1h2m-2 1h2m-2 1h2m-2 3h2m-2 1h2m-2 2h2m-2 2h2m-2 1h2m-1-26h2m-2 1h2m-2 1h2m-2 1h2m-2 0h2m-2 0h2m-2 1h2m-2 1h2m-2 1h2m-2 1h2m-2 3h2m-2 0h2m-2 0h2m-2 1h2m-2 0h2m-2 0h2m-2 0h2m-2 1h2m-2 0h2m-2 2h2m-2 3h2m-2 0h2m-2 2h2m-2 2h2m-1-25h2m-2 1h2m-2 3h2m-2 0h2m-2 1h2m-2 2h2m-2 1h2m-2 0h2m-2 1h2m-2 0h2m-2 1h2m-2 1h2m-2 0h2m-2 1h2m-2 0h2m-2 3h2m-2 0h2m-2 5h2m-2 0h2m-2 4h2m-2 2h2m-2 0h2m-2 1h2m-2 0h2m-2 2h2m-1-26h2m-2 8h2m-2 1h2m-2 7h2m-2 0h2m-2 1h2m-2 7h2m-1-30h2m-2 8h2m-2 0h2m-2 1h2m-2 0h2m-2 0h2m-2 5h2m-2 3h2m-2 2h2m-2 1h2m-2 1h2m-2 1h2m-2 3h2m-2 3h2m-2 0h2m-2 1h2m-1-30h2m-2 7h2m-2 2h2m-2 1h2m-2 1h2m-2 4h2m-2 1h2m-2 3h2m-2 0h2m-2 0h2m-2 1h2m-2 2h2m-2 2h2m-2 1h2m-2 1h2m-2 2h2m-2 1h2m-1-26h2m-2 2h2m-2 2h2m-2 0h2m-2 1h2m-2 0h2m-2 0h2m-2 2h2m-2 3h2m-2 0h2m-2 0h2m-2 2h2m-2 1h2m-2 1h2m-2 2h2m-2 2h2m-2 1h2m-2 4h2m-2 1h2m-2 4h2m-2 2h2m-1-30h2m-2 3h2m-2 1h2m-2 1h2m-2 2h2m-2 2h2m-2 0h2m-2 1h2m-2 0h2m-2 0h2m-2 2h2m-2 4h2m-2 7h2m-2 2h2m-2 0h2m-2 0h2m-2 1h2m-2 1h2m-2 2h2m-1-26h2m-2 1h2m-2 1h2m-2 1h2m-2 0h2m-2 0h2m-2 1h2m-2 1h2m-2 1h2m-2 2h2m-2 1h2m-2 0h2m-2 2h2m-2 1h2m-2 2h2m-2 0h2m-2 0h2m-2 1h2m-2 2h2m-2 5h2m-2 1h2m-2 2h2m-1-28h2m-2 6h2m-2 2h2m-2 4h2m-2 1h2m-2 0h2m-2 2h2m-2 2h2m-2 0h2m-2 1h2m-2 1h2m-2 1h2m-2 0h2m-2 1h2m-2 1h2m-2 1h2m-2 2h2m-2 0h2m-2 0h2m-2 4h2m-1-22h2m-2 3h2m-2 0h2m-2 1h2m-2 2h2m-2 0h2m-2 2h2m-2 0h2m-2 3h2m-2 1h2m-2 3h2m-2 2h2m-2 0h2m-2 1h2m-2 0h2m-2 2h2m-2 1h2m-2 0h2m-1-27h2m-2 0h2m-2 3h2m-2 3h2m-2 1h2m-2 0h2m-2 1h2m-2 2h2m-2 0h2m-2 2h2m-2 3h2m-2 1h2m-2 1h2m-2 3h2m-2 0h2m-2 2h2m-2 0h2m-2 2h2m-2 6h2m-1-34h2m-2 6h2m-2 1h2m-2 3h2m-2 2h2m-2 0h2m-2 3h2m-2 2h2m-2 1h2m-2 0h2m-2 1h2m-2 0h2m-2 7h2m-2 6h2m-1-24h2m-2 1h2m-2 4h2m-2 0h2m-2 1h2m-2 2h2m-2 2h2m-2 0h2m-2 1h2m-2 1h2m-2 2h2m-2 1h2m-2 2h2m-2 0h2m-2 1h2m-2 0h2m-2 2h2m-2 2h2m-2 1h2m-1-28h2m-2 0h2m-2 7h2m-2 0h2m-2 4h2m-2 0h2m-2 1h2m-2 1h2m-2 0h2m-2 1h2m-2 2h2m-2 1h2m-2 1h2m-2 1h2m-2 2h2m-2 0h2m-2 0h2m-2 3h2m-2 1h2m-2 1h2m-2 0h2m-2 1h2m-2 2h2m-1-24h2m-2 7h2m-2 2h2m-2 0h2m-2 2h2m-2 1h2m-2 1h2m-2 3h2m-2 1h2m-2 0h2m-2 1h2m-2 0h2m-2 6h2m-2 3h2m-2 2h2m-1-31h2m-2 2h2m-2 2h2m-2 8h2m-2 6h2m-2 1h2m-2 1h2m-2 1h2m-2 3h2m-2 1h2m-1-22h2m-2 2h2m-2 4h2m-2 2h2m-2 2h2m-2 1h2m-2 2h2m-2 0h2m-2 2h2m-2 1h2m-2 2h2m-2 0h2m-2 1h2m-2 0h2m-2 1h2m-2 1h2m-2 2h2m-1-31h2m-2 10h2m-2 4h2m-2 1h2m-2 4h2m-2 2h2m-2 0h2m-2 2h2m-2 1h2m-2 0h2m-2 2h2m-2 1h2m-2 2h2m-2 1h2m-2 0h2m-2 1h2m-2 2h2m-1-30h2m-2 2h2m-2 5h2m-2 1h2m-2 0h2m-2 1h2m-2 4h2m-2 1h2m-2 2h2m-2 3h2m-2 1h2m-2 10h2m-2 6h2m-1-34h2m-2 3h2m-2 3h2m-2 0h2m-2 1h2m-2 4h2m-2 2h2m-2 0h2m-2 2h2m-2 2h2m-1-16h2m-2 5h2m-2 1h2m-2 1h2m-2 3h2m-2 0h2m-2 1h2m-2 2h2m-2 1h2m-2 1h2m-2 0h2m-2 1h2m-2 1h2m-2 0h2m-2 3h2m-2 1h2m-2 0h2m-2 2h2m-2 0h2m-1-28h2m-2 0h2m-2 4h2m-2 2h2m-2 2h2m-2 1h2m-2 3h2m-2 0h2m-2 1h2m-2 3h2m-2 1h2m-2 4h2m-2 1h2m-2 2h2m-2 8h2m-1-31h2m-2 2h2m-2 1h2m-2 1h2m-2 2h2m-2 0h2m-2 5h2m-2 0h2m-2 0h2m-2 0h2m-2 1h2m-2 2h2m-2 7h2m-2 0h2m-2 4h2m-2 1h2m-2 1h2m-1-25h2m-2 2h2m-2 1h2m-2 6h2m-2 5h2m-2 0h2m-2 0h2m-2 2h2m-2 3h2m-2 0h2m-2 3h2m-2 0h2m-2 0h2m-2 1h2m-2 1h2m-1-25h2m-2 4h2m-2 1h2m-2 2h2m-2 1h2m-2 0h2m-2 1h2m-2 0h2m-2 1h2m-2 2h2m-2 5h2m-2 2h2m-2 1h2m-2 0h2m-2 0h2m-2 1h2m-2 0h2m-2 1h2m-2 1h2m-2 0h2m-2 1h2m-2 1h2m-2 2h2m-2 2h2m-1-30h2m-2 3h2m-2 0h2m-2 3h2m-2 0h2m-2 1h2m-2 0h2m-2 3h2m-2 1h2m-2 3h2m-2 1h2m-2 2h2m-2 3h2m-2 1h2m-2 2h2m-2 7h2m-1-21h2m-2 1h2m-2 0h2m-2 1h2m-2 3h2m-2 1h2m-2 2h2m-2 2h2m-2 0h2m-2 1h2m-2 0h2m-2 1h2m-2 0h2m-2 2h2m-2 0h2m-2 1h2m-2 2h2m-2 1h2m-2 2h2m-2 2h2m-1-30h2m-2 8h2m-2 2h2m-2 0h2m-2 2h2m-2 2h2m-2 0h2m-2 4h2m-2 2h2m-2 1h2m-2 1h2m-2 1h2m-2 0h2m-2 3h2m-2 12h2m-1-36h2m-2 1h2m-2 2h2m-2 2h2m-2 1h2m-2 2h2m-2 2h2m-2 1h2m-2 4h2m-2 1h2m-2 1h2m-2 1h2m-2 1h2m-2 2h2m-2 0h2m-2 1h2m-2 5h2m-2 3h2m-1-31h2m-2 1h2m-2 1h2m-2 4h2m-2 1h2m-2 0h2m-2 1h2m-2 1h2m-2 2h2m-2 1h2m-2 0h2m-2 1h2m-2 3h2m-2 1h2m-2 2h2m-2 1h2m-2 0h2m-2 14h2m-1-36h2m-2 3h2m-2 5h2m-2 1h2m-2 1h2m-2 0h2m-2 3h2m-2 1h2m-2 0h2m-2 0h2m-2 1h2m-2 1h2m-2 1h2m-2 3h2m-2 1h2m-2 1h2m-2 1h2m-2 1h2m-2 1h2m-2 1h2m-1-24h2m-2 5h2m-2 7h2m-2 0h2m-2 1h2m-2 2h2m-2 2h2m-2 0h2m-2 2h2m-2 2h2m-2 4h2m-2 0h2m-2 0h2m-2 1h2m-2 1h2m-1-19h2m-2 0h2m-2 1h2m-2 0h2m-2 0h2m-2 1h2m-2 0h2m-2 1h2m-2 1h2m-2 2h2m-2 2h2m-2 0h2m-2 1h2m-2 1h2m-2 2h2m-2 0h2m-2 4h2m-2 2h2m-2 3h2m-2 1h2m-1-28h2m-2 1h2m-2 1h2m-2 0h2m-2 0h2m-2 1h2m-2 1h2m-2 0h2m-2 2h2m-2 3h2m-2 1h2m-2 2h2m-2 0h2m-2 4h2m-2 0h2m-2 1h2m-2 0h2m-2 1h2m-2 2h2m-2 3h2m-1-26h2m-2 2h2m-2 2h2m-2 1h2m-2 3h2m-2 1h2m-2 1h2m-2 1h2m-2 1h2m-2 1h2m-2 0h2m-2 1h2m-2 2h2m-2 0h2m-2 2h2m-2 1h2m-2 1h2m-2 1h2m-2 1h2m-2 0h2m-2 0h2m-2 1h2m-2 6h2m-1-28h2m-2 1h2m-2 1h2m-2 2h2m-2 4h2m-2 0h2m-2 1h2m-2 0h2m-2 2h2m-2 2h2m-2 0h2m-2 0h2m-2 0h2m-2 0h2m-2 1h2m-2 0h2m-2 1h2m-2 5h2m-2 4h2m-2 2h2m-2 4h2m-1-29h2m-2 2h2m-2 0h2m-2 3h2m-2 1h2m-2 1h2m-2 0h2m-2 0h2m-2 1h2m-2 1h2m-2 1h2m-2 0h2m-2 1h2m-2 1h2m-2 1h2m-2 0h2m-2 2h2m-2 2h2m-2 1h2m-2 1h2m-2 3h2m-2 1h2m-2 1h2m-2 2h2m-1-24h2m-2 1h2m-2 4h2m-2 0h2m-2 0h2m-2 1h2m-2 0h2m-2 1h2m-2 1h2m-2 2h2m-2 2h2m-2 0h2m-2 2h2m-2 1h2m-2 0h2m-2 2h2m-2 2h2m-2 1h2m-2 1h2m-1-23h2m-2 0h2m-2 1h2m-2 2h2m-2 6h2m-2 1h2m-2 1h2m-2 0h2m-2 3h2m-2 2h2m-2 0h2m-2 1h2m-2 3h2m-2 2h2m-2 3h2m-2 1h2m-2 1h2m-1-37h2m-2 9h2m-2 1h2m-2 5h2m-2 0h2m-2 3h2m-2 2h2m-2 1h2m-2 0h2m-2 2h2m-2 0h2m-2 0h2m-2 3h2m-2 2h2m-2 5h2m-1-32h2m-2 7h2m-2 5h2m-2 0h2m-2 1h2m-2 2h2m-2 0h2m-2 1h2m-2 0h2m-2 0h2m-2 2h2m-2 0h2m-2 1h2m-2 1h2m-2 0h2m-2 2h2m-2 1h2m-2 3h2m-2 2h2m-2 0h2m-2 2h2m-2 1h2m-2 1h2m-1-22h2m-2 1h2m-2 2h2m-2 1h2m-2 0h2m-2 0h2m-2 3h2m-2 1h2m-2 1h2m-2 0h2m-2 2h2m-2 1h2m-2 1h2m-2 1h2m-2 1h2m-2 0h2m-2 1h2m-2 1h2m-2 3h2m-2 2h2m-1-24h2m-2 4h2m-2 0h2m-2 2h2m-2 1h2m-2 1h2m-2 1h2m-2 1h2m-2 3h2m-2 1h2m-2 0h2m-2 1h2m-2 1h2m-2 0h2m-2 3h2m-2 1h2m-2 2h2m-2 0h2m-2 3h2m-2 1h2m-2 2h2m-1-31h2m-2 4h2m-2 4h2m-2 1h2m-2 0h2m-2 0h2m-2 3h2m-2 1h2m-2 1h2m-2 0h2m-2 1h2m-2 1h2m-2 1h2m-2 0h2m-2 1h2m-2 0h2m-2 1h2m-2 3h2m-2 1h2m-2 0h2m-2 2h2m-2 4h2m-2 1h2m-1-29h2m-2 1h2m-2 0h2m-2 0h2m-2 2h2m-2 0h2m-2 7h2m-2 0h2m-2 2h2m-2 0h2m-2 0h2m-2 2h2m-2 1h2m-2 3h2m-2 1h2m-2 0h2m-2 5h2m-2 0h2m-2 2h2m-2 0h2m-2 0h2m-1-16h2m-2 1h2m-2 1h2m-2 0h2m-2 1h2m-2 1h2m-2 0h2m-2 2h2m-2 0h2m-2 1h2m-2 0h2m-2 0h2m-2 1h2m-2 1h2m-2 1h2m-2 1h2m-2 1h2m-2 2h2m-2 1h2m-2 0h2m-2 9h2m-1-30h2m-2 2h2m-2 3h2m-2 1h2m-2 1h2m-2 1h2m-2 1h2m-2 1h2m-2 1h2m-2 0h2m-2 2h2m-2 1h2m-2 2h2m-2 0h2m-2 3h2m-2 0h2m-2 0h2m-2 1h2m-2 0h2m-2 4h2m-2 3h2m-1-29h2m-2 3h2m-2 1h2m-2 1h2m-2 5h2m-2 1h2m-2 0h2m-2 2h2m-2 3h2m-2 0h2m-2 2h2m-2 0h2m-2 1h2m-2 1h2m-2 0h2m-2 1h2m-2 1h2m-2 0h2m-2 0h2m-2 2h2m-1-28h2m-2 5h2m-2 0h2m-2 1h2m-2 1h2m-2 2h2m-2 1h2m-2 0h2m-2 1h2m-2 0h2m-2 1h2m-2 1h2m-2 0h2m-2 0h2m-2 6h2m-2 2h2m-2 1h2m-2 1h2m-2 0h2m-2 3h2m-2 1h2m-2 2h2m-1-27h2m-2 5h2m-2 0h2m-2 1h2m-2 2h2m-2 1h2m-2 1h2m-2 6h2m-2 1h2m-2 0h2m-2 4h2m-2 1h2m-2 1h2m-2 1h2m-2 3h2m-1-25h2m-2 2h2m-2 1h2m-2 1h2m-2 5h2m-2 2h2m-2 1h2m-2 0h2m-2 4h2m-2 0h2m-2 2h2m-2 3h2m-2 6h2m-2 0h2m-2 2h2m-2 1h2m-2 5h2m-1-35h2m-2 1h2m-2 0h2m-2 3h2m-2 2h2m-2 1h2m-2 1h2m-2 2h2m-2 0h2m-2 1h2m-2 0h2m-2 0h2m-2 1h2m-2 4h2m-2 2h2m-2 5h2m-2 5h2m-1-27h2m-2 0h2m-2 1h2m-2 4h2m-2 3h2m-2 2h2m-2 2h2m-2 1h2m-2 0h2m-2 1h2m-2 2h2m-2 2h2m-2 0h2m-2 0h2m-2 3h2m-2 2h2m-2 1h2m-1-20h2m-2 0h2m-2 2h2m-2 2h2m-2 4h2m-2 1h2m-2 0h2m-2 2h2m-2 4h2m-2 2h2m-2 0h2m-2 1h2m-2 2h2m-2 1h2m-2 4h2m-2 1h2m-1-31h2m-2 5h2m-2 0h2m-2 2h2m-2 1h2m-2 2h2m-2 1h2m-2 1h2m-2 0h2m-2 2h2m-2 1h2m-2 0h2m-2 2h2m-2 1h2m-2 0h2m-2 1h2m-2 0h2m-2 0h2m-2 1h2m-2 0h2m-2 1h2m-2 3h2m-2 0h2m-2 1h2m-2 0h2m-2 2h2m-2 1h2m-2 0h2m-1-30h2m-2 5h2m-2 3h2m-2 1h2m-2 1h2m-2 1h2m-2 4h2m-2 0h2m-2 1h2m-2 1h2m-2 3h2m-2 0h2m-2 1h2m-2 0h2m-2 0h2m-2 1h2m-2 1h2m-2 4h2m-2 4h2m-2 1h2m-1-34h2m-2 5h2m-2 1h2m-2 2h2m-2 3h2m-2 2h2m-2 0h2m-2 2h2m-2 0h2m-2 5h2m-2 0h2m-2 1h2m-2 0h2m-2 0h2m-2 0h2m-2 4h2m-2 2h2m-2 1h2m-1-21h2m-2 1h2m-2 1h2m-2 1h2m-2 0h2m-2 0h2m-2 2h2m-2 2h2m-2 1h2m-2 1h2m-2 1h2m-2 1h2m-2 1h2m-2 0h2m-2 0h2m-2 0h2m-2 0h2m-2 1h2m-2 1h2m-2 0h2m-2 1h2m-2 1h2m-2 0h2m-2 0h2m-2 0h2m-2 1h2m-2 0h2m-2 2h2m-2 2h2m-2 3h2m-2 1h2m-1-25h2m-2 3h2m-2 0h2m-2 1h2m-2 1h2m-2 1h2m-2 3h2m-2 0h2m-2 6h2m-2 5h2m-2 1h2m-1-25h2m-2 4h2m-2 2h2m-2 1h2m-2 3h2m-2 1h2m-2 1h2m-2 1h2m-2 2h2m-2 1h2m-2 1h2m-2 0h2m-2 1h2m-2 1h2m-2 2h2m-2 3h2m-2 1h2m-1-27h2m-2 1h2m-2 4h2m-2 1h2m-2 4h2m-2 0h2m-2 2h2m-2 2h2m-2 1h2m-2 4h2m-2 0h2m-2 1h2m-2 2h2m-2 2h2m-2 0h2m-2 3h2m-2 1h2m-1-28h2m-2 5h2m-2 2h2m-2 3h2m-2 1h2m-2 2h2m-2 2h2m-2 2h2m-2 1h2m-2 0h2m-2 1h2m-2 1h2m-2 0h2m-2 2h2m-2 4h2m-1-28h2m-2 6h2m-2 1h2m-2 2h2m-2 3h2m-2 3h2m-2 2h2m-2 3h2m-2 1h2m-2 1h2m-2 2h2m-2 0h2m-2 1h2m-2 4h2m-1-27h2m-2 1h2m-2 4h2m-2 1h2m-2 1h2m-2 2h2m-2 1h2m-2 3h2m-2 1h2m-2 2h2m-2 2h2m-2 5h2m-2 0h2m-2 2h2m-1-23h2m-2 5h2m-2 3h2m-2 1h2m-2 1h2m-2 2h2m-2 1h2m-2 2h2m-2 0h2m-2 1h2m-2 5h2m-2 0h2m-2 1h2m-2 1h2m-2 1h2m-2 1h2m-2 2h2m-2 13h2m-1-37h2m-2 1h2m-2 0h2m-2 0h2m-2 0h2m-2 1h2m-2 0h2m-2 1h2m-2 1h2m-2 0h2m-2 1h2m-2 1h2m-2 1h2m-2 1h2m-2 0h2m-2 3h2m-2 3h2m-2 0h2m-2 0h2m-2 1h2m-2 2h2m-2 0h2m-2 5h2m-2 1h2m-2 2h2m-1-27h2m-2 5h2m-2 0h2m-2 2h2m-2 4h2m-2 5h2m-2 3h2m-2 1h2m-2 10h2m-1-31h2m-2 2h2m-2 1h2m-2 2h2m-2 1h2m-2 1h2m-2 1h2m-2 3h2m-2 1h2m-2 1h2m-2 2h2m-2 2h2m-2 2h2m-2 0h2m-2 2h2m-2 1h2m-2 4h2m-2 3h2m-2 4h2m-1-34h2m-2 2h2m-2 7h2m-2 0h2m-2 1h2m-2 5h2m-2 1h2m-2 2h2m-2 1h2m-2 1h2m-2 0h2m-2 0h2m-2 2h2m-2 2h2m-2 1h2m-2 2h2m-2 0h2m-2 4h2m-1-29h2m-2 2h2m-2 6h2m-2 0h2m-2 1h2m-2 0h2m-2 0h2m-2 1h2m-2 0h2m-2 1h2m-2 1h2m-2 1h2m-2 0h2m-2 0h2m-2 1h2m-2 2h2m-2 0h2m-2 1h2m-2 3h2m-2 0h2m-2 2h2m-2 0h2m-2 0h2m-2 3h2m-2 1h2m-2 4h2m-1-30h2m-2 0h2m-2 3h2m-2 1h2m-2 1h2m-2 1h2m-2 0h2m-2 2h2m-2 0h2m-2 0h2m-2 3h2m-2 3h2m-2 5h2m-2 6h2m-2 1h2m-2 3h2m-1-29h2m-2 3h2m-2 0h2m-2 3h2m-2 0h2m-2 1h2m-2 0h2m-2 0h2m-2 1h2m-2 1h2m-2 0h2m-2 1h2m-2 0h2m-2 0h2m-2 1h2m-2 0h2m-2 1h2m-2 2h2m-2 1h2m-2 4h2m-2 0h2m-2 4h2m-2 3h2m-2 6h2m-1-32h2m-2 1h2m-2 3h2m-2 2h2m-2 1h2m-2 2h2m-2 1h2m-2 2h2m-2 1h2m-2 0h2m-2 0h2m-2 1h2m-2 3h2m-2 1h2m-2 1h2m-2 0h2m-2 4h2m-2 1h2m-2 4h2m-2 2h2m-1-32h2m-2 0h2m-2 4h2m-2 1h2m-2 2h2m-2 3h2m-2 1h2m-2 1h2m-2 0h2m-2 1h2m-2 4h2m-2 0h2m-2 1h2m-2 1h2m-2 1h2m-2 2h2m-2 2h2m-2 0h2m-2 1h2m-2 13h2m-1-40h2m-2 4h2m-2 4h2m-2 0h2m-2 2h2m-2 2h2m-2 0h2m-2 3h2m-2 3h2m-2 1h2m-2 0h2m-2 0h2m-2 2h2m-2 2h2m-2 1h2m-2 1h2m-2 0h2m-2 3h2m-2 1h2m-2 2h2m-1-22h2m-2 0h2m-2 3h2m-2 1h2m-2 1h2m-2 0h2m-2 1h2m-2 3h2m-2 0h2m-2 0h2m-2 1h2m-2 1h2m-2 7h2m-2 0h2m-2 0h2m-2 1h2m-2 1h2m-2 1h2m-2 1h2m-2 0h2m-2 3h2m-1-22h2m-2 1h2m-2 0h2m-2 3h2m-2 0h2m-2 4h2m-2 1h2m-2 0h2m-2 1h2m-2 0h2m-2 2h2m-2 0h2m-2 1h2m-2 10h2m-1-36h2m-2 4h2m-2 1h2m-2 2h2m-2 2h2m-2 0h2m-2 2h2m-2 0h2m-2 1h2m-2 2h2m-2 1h2m-2 0h2m-2 1h2m-2 4h2m-2 0h2m-2 2h2m-2 2h2m-2 2h2m-2 0h2m-2 0h2m-2 0h2m-2 0h2m-2 1h2m-1-23h2m-2 5h2m-2 2h2m-2 0h2m-2 1h2m-2 1h2m-2 2h2m-2 1h2m-2 2h2m-2 0h2m-2 1h2m-2 0h2m-2 0h2m-2 1h2m-2 1h2m-2 4h2m-2 1h2m-2 1h2m-2 1h2m-2 1h2m-2 2h2m-2 1h2m-2 2h2m-2 2h2m-1-33h2m-2 4h2m-2 1h2m-2 0h2m-2 3h2m-2 2h2m-2 1h2m-2 1h2m-2 0h2m-2 3h2m-2 0h2m-2 1h2m-2 0h2m-2 2h2m-2 4h2m-2 1h2m-2 1h2m-2 4h2m-1-23h2m-2 3h2m-2 0h2m-2 1h2m-2 3h2m-2 1h2m-2 2h2m-2 0h2m-2 2h2m-2 2h2m-2 2h2m-2 0h2m-2 1h2m-2 1h2m-2 0h2m-2 3h2m-2 1h2m-1-26h2m-2 4h2m-2 0h2m-2 3h2m-2 0h2m-2 2h2m-2 0h2m-2 0h2m-2 1h2m-2 2h2m-2 2h2m-2 0h2m-2 1h2m-2 2h2m-2 0h2m-2 0h2m-2 0h2m-2 0h2m-2 2h2m-2 2h2m-2 0h2m-2 0h2m-2 1h2m-2 2h2m-2 0h2m-2 0h2m-2 1h2m-2 1h2m-2 0h2m-2 1h2m-2 3h2m-1-33h2m-2 10h2m-2 4h2m-2 0h2m-2 0h2m-2 0h2m-2 0h2m-2 1h2m-2 0h2m-2 1h2m-2 1h2m-2 2h2m-2 1h2m-2 2h2m-2 0h2m-2 1h2m-2 0h2m-2 1h2m-2 2h2m-2 0h2m-2 6h2m-1-30h2m-2 6h2m-2 0h2m-2 1h2m-2 2h2m-2 1h2m-2 0h2m-2 1h2m-2 3h2m-2 0h2m-2 1h2m-2 2h2m-2 0h2m-2 3h2m-2 1h2m-2 1h2m-2 2h2m-2 1h2m-2 2h2m-2 0h2m-2 1h2m-2 7h2m-1-36h2m-2 8h2m-2 1h2m-2 3h2m-2 0h2m-2 2h2m-2 3h2m-2 2h2m-2 0h2m-2 4h2m-2 3h2m-2 1h2m-2 6h2m-2 1h2m-2 2h2m-1-32h2m-2 3h2m-2 2h2m-2 2h2m-2 2h2m-2 3h2m-2 1h2m-2 9h2m-2 3h2m-2 0h2m-1-21h2m-2 1h2m-2 0h2m-2 3h2m-2 2h2m-2 0h2m-2 1h2m-2 1h2m-2 0h2m-2 2h2m-2 3h2m-2 0h2m-2 3h2m-2 0h2m-2 1h2m-2 1h2m-2 2h2m-2 1h2m-2 0h2m-2 0h2m-2 2h2m-2 16h2m-1-45h2m-2 0h2m-2 5h2m-2 3h2m-2 2h2m-2 1h2m-2 2h2m-2 2h2m-2 1h2m-2 0h2m-2 1h2m-2 1h2m-2 0h2m-2 1h2m-2 1h2m-2 2h2m-1-23h2m-2 4h2m-2 0h2m-2 0h2m-2 1h2m-2 1h2m-2 2h2m-2 0h2m-2 1h2m-2 0h2m-2 1h2m-2 0h2m-2 1h2m-2 0h2m-2 2h2m-2 0h2m-2 0h2m-2 4h2m-2 0h2m-2 1h2m-2 1h2m-2 0h2m-2 1h2m-2 2h2m-2 1h2m-2 0h2m-2 1h2m-2 0h2m-2 0h2m-2 1h2m-2 2h2m-2 0h2m-2 3h2m-1-26h2m-2 5h2m-2 1h2m-2 2h2m-2 1h2m-2 2h2m-2 1h2m-2 0h2m-2 1h2m-2 0h2m-2 1h2m-2 1h2m-2 1h2m-2 1h2m-2 1h2m-2 1h2m-2 0h2m-2 1h2m-1-22h2m-2 2h2m-2 1h2m-2 2h2m-2 0h2m-2 1h2m-2 0h2m-2 0h2m-2 3h2m-2 1h2m-2 2h2m-2 0h2m-2 1h2m-2 0h2m-2 1h2m-2 0h2m-2 0h2m-2 0h2m-2 3h2m-2 3h2m-2 4h2m-2 0h2m-2 0h2m-2 1h2m-2 0h2m-2 4h2m-2 2h2m-1-24h2m-2 0h2m-2 1h2m-2 0h2m-2 1h2m-2 3h2m-2 0h2m-2 0h2m-2 3h2m-2 3h2m-2 0h2m-2 5h2m-2 4h2m-2 3h2m-2 7h2m-1-33h2m-2 2h2m-2 1h2" stroke="#6c6c6c" stroke-width="2" stroke-opacity=".8" fill="none"/><path d="M547.7 216H680.6" stroke="#c878c8" stroke-width="1.15" fill="none"/><text x="677.6" y="215.4" font-size="2.3" text-anchor="middle" fill="#3a3a3a" textLength="4.8" lengthAdjust="spacingAndGlyphs" font-weight="bold">1500</text><path d="M547.7 149.4H680.6V265.3H547.7Z" stroke="#a2a2a2" stroke-width="1" fill="none"/><rect x="37" y="290.5" width="297.4" height="116.5" fill="#f9f8f6"/><path d="M79.5 290.5V407M121.5 290.5V407M164.5 290.5V407M206.5 290.5V407M249.5 290.5V407M291.5 290.5V407M37 387.5H334.4M37 368.5H334.4M37 348.5H334.4M37 329.5H334.4M37 309.5H334.4" stroke="#eeedeb" stroke-width="1" fill="none"/><text x="30.19" y="407.85" font-size="3.1" text-anchor="middle" fill="#1a1a1a" font-weight="bold">0</text><text x="30.19" y="388.43" font-size="3.1" text-anchor="middle" fill="#1a1a1a" font-weight="bold">2000</text><text x="30.19" y="369.02" font-size="3.1" text-anchor="middle" fill="#1a1a1a" font-weight="bold">4000</text><text x="30.19" y="349.6" font-size="3.1" text-anchor="middle" fill="#1a1a1a" font-weight="bold">6000</text><text x="30.19" y="330.18" font-size="3.1" text-anchor="middle" fill="#1a1a1a" font-weight="bold">8000</text><text x="30.19" y="310.77" font-size="3.1" text-anchor="middle" fill="#1a1a1a" font-weight="bold">10000</text><text x="30.19" y="291.35" font-size="3.1" text-anchor="middle" fill="#1a1a1a" font-weight="bold">12000</text><text x="37" y="412.65" font-size="3.1" text-anchor="middle" fill="#1a1a1a" font-weight="bold">0</text><text x="79.49" y="412.65" font-size="3.1" text-anchor="middle" fill="#1a1a1a" font-weight="bold">500</text><text x="121.97" y="412.65" font-size="3.1" text-anchor="middle" fill="#1a1a1a" font-weight="bold">1000</text><text x="164.46" y="412.65" font-size="3.1" text-anchor="middle" fill="#1a1a1a" font-weight="bold">1500</text><text x="206.94" y="412.65" font-size="3.1" text-anchor="middle" fill="#1a1a1a" font-weight="bold">2000</text><text x="249.43" y="412.65" font-size="3.1" text-anchor="middle" fill="#1a1a1a" font-weight="bold">2500</text><text x="291.91" y="412.65" font-size="3.1" text-anchor="middle" fill="#1a1a1a" font-weight="bold">3000</text><text x="334.4" y="412.65" font-size="3.1" text-anchor="middle" fill="#1a1a1a" font-weight="bold">3500</text><path d="M35.4 407h1.6M35.4 387.58h1.6M35.4 368.17h1.6M35.4 348.75h1.6M35.4 329.33h1.6M35.4 309.92h1.6M35.4 290.5h1.6M37 407v1.4M79.49 407v1.4M121.97 407v1.4M164.46 407v1.4M206.94 407v1.4M249.43 407v1.4M291.91 407v1.4M334.4 407v1.4" stroke="#9a9a9a" stroke-width=".7" fill="none"/><text x="178.7" y="287.8" font-size="3.4" text-anchor="middle" fill="#111" textLength="91" lengthAdjust="spacingAndGlyphs" font-weight="bold">Ch1+Ch2+: 43 Ch1+Ch2-: 1338 Ch1-Ch2+: 452 Ch1-Ch2-: 14451</text><text x="185.7" y="417" font-size="3.1" text-anchor="middle" fill="#111" textLength="27.8" lengthAdjust="spacingAndGlyphs" font-weight="bold">Channel 2 Amplitude</text><text x="0" y="0" font-size="3.1" font-weight="bold" text-anchor="middle" fill="#111" transform="translate(24.4 348.75) rotate(-90)" textLength="28" lengthAdjust="spacingAndGlyphs">Channel 1 Amplitude</text><path transform="scale(.5)" filter="url(#bl)" d="M201 624h2m-1 9h2m6-5h2m-2 1h2m2-3h2m-1 1h2m-1-5h2m-2 4h2m-1-2h2m-2 6h2m-2 1h2m-1-11h2m-2 6h2m-1 1h2m0-8h2m-2 7h2m-1 1h2m-1-10h2m-2 8h2m-1 0h2m-2 3h2m-2 4h2m-1-4h2m-1-6h2m-2 0h2m-2 5h2m-2 3h2m-2 2h2m-1-7h2m-2 3h2m-1-6h2m-2 0h2m-2 2h2m-2 6h2m-2 9h2m-1-16h2m-2 0h2m-2 2h2m-2 7h2m-2 2h2m-1-20h2m-2 12h2m-2 1h2m-2 1h2m-2 2h2m-1-6h2m-2 1h2m-2 2h2m-2 3h2m-2 1h2m-2 1h2m-2 2h2m-1-13h2m-2 3h2m-1-6h2m-2 14h2m-1-4h2m-2 3h2m-1-12h2m-2 0h2m-2 2h2m-2 3h2m-2 1h2m-2 1h2m-2 2h2m-2 2h2m-1-8h2m-2 2h2m-2 1h2m-2 1h2m-2 1h2m-2 0h2m-2 1h2m-2 0h2m-2 4h2m-1-11h2m-2 4h2m-2 1h2m-2 0h2m-2 0h2m-2 3h2m-2 0h2m-2 2h2m-2 4h2m-1-21h2m-2 7h2m-2 2h2m-2 1h2m-2 2h2m-2 0h2m-2 2h2m-2 3h2m-2 1h2m-2 0h2m-2 1h2m-2 2h2m-1-18h2m-2 2h2m-2 0h2m-2 5h2m-2 1h2m-2 1h2m-2 2h2m-2 1h2m-2 1h2m-2 1h2m-2 1h2m-1-11h2m-2 4h2m-2 0h2m-2 0h2m-2 1h2m-2 1h2m-2 1h2m-2 0h2m-2 1h2m-2 2h2m-2 0h2m-2 1h2m-2 0h2m-2 1h2m-1-11h2m-2 1h2m-2 0h2m-2 0h2m-2 2h2m-2 1h2m-2 1h2m-2 1h2m-2 1h2m-2 2h2m-2 0h2m-2 1h2m-2 1h2m-1-15h2m-2 1h2m-2 2h2m-2 2h2m-2 1h2m-2 1h2m-2 1h2m-2 1h2m-2 0h2m-2 1h2m-2 2h2m-2 0h2m-2 2h2m-2 1h2m-2 2h2m-1-15h2m-2 2h2m-2 0h2m-2 4h2m-2 2h2m-2 0h2m-2 0h2m-2 1h2m-2 1h2m-2 5h2m-1-17h2m-2 2h2m-2 3h2m-2 1h2m-2 1h2m-2 1h2m-2 1h2m-2 1h2m-2 0h2m-2 7h2m-1-20h2m-2 5h2m-2 1h2m-2 0h2m-2 1h2m-2 0h2m-2 1h2m-2 2h2m-2 0h2m-2 1h2m-2 3h2m-2 1h2m-2 0h2m-2 1h2m-2 2h2m-1-7h2m-2 0h2m-2 0h2m-2 1h2m-2 0h2m-2 1h2m-2 1h2m-2 0h2m-2 4h2m-1-16h2m-2 2h2m-2 5h2m-2 1h2m-2 0h2m-2 1h2m-2 0h2m-2 2h2m-2 0h2m-2 1h2m-2 0h2m-2 0h2m-2 0h2m-2 1h2m-2 3h2m-2 0h2m-2 3h2m-1-14h2m-2 0h2m-2 1h2m-2 0h2m-2 1h2m-2 0h2m-2 0h2m-2 1h2m-2 1h2m-2 0h2m-2 0h2m-2 0h2m-2 2h2m-2 1h2m-2 0h2m-2 2h2m-2 6h2m-1-17h2m-2 2h2m-2 0h2m-2 2h2m-2 0h2m-2 1h2m-2 1h2m-2 2h2m-2 0h2m-2 2h2m-2 0h2m-2 0h2m-2 2h2m-2 0h2m-2 1h2m-1-13h2m-2 2h2m-2 0h2m-2 0h2m-2 1h2m-2 0h2m-2 2h2m-2 0h2m-2 0h2m-2 1h2m-2 2h2m-2 1h2m-2 0h2m-2 1h2m-2 0h2m-2 4h2m-1-15h2m-2 3h2m-2 0h2m-2 2h2m-2 0h2m-2 1h2m-2 1h2m-2 0h2m-2 0h2m-2 1h2m-2 0h2m-2 2h2m-2 2h2m-2 0h2m-2 2h2m-2 3h2m-1-18h2m-2 1h2m-2 0h2m-2 1h2m-2 3h2m-2 0h2m-2 0h2m-2 1h2m-2 2h2m-2 1h2m-2 0h2m-2 0h2m-2 2h2m-2 0h2m-2 0h2m-2 1h2m-2 0h2m-2 0h2m-2 2h2m-2 0h2m-1-13h2m-2 1h2m-2 1h2m-2 0h2m-2 2h2m-2 1h2m-2 0h2m-2 1h2m-2 0h2m-2 2h2m-2 1h2m-2 0h2m-2 1h2m-2 3h2m-2 2h2m-2 1h2m-1-11h2m-2 0h2m-2 1h2m-2 0h2m-2 1h2m-2 0h2m-2 0h2m-2 0h2m-2 1h2m-2 1h2m-2 2h2m-2 1h2m-2 2h2m-1-14h2m-2 3h2m-2 2h2m-2 0h2m-2 1h2m-2 0h2m-2 0h2m-2 0h2m-2 1h2m-2 0h2m-2 0h2m-2 0h2m-2 0h2m-2 1h2m-2 0h2m-2 0h2m-2 0h2m-2 1h2m-2 0h2m-2 0h2m-2 1h2m-2 0h2m-2 1h2m-2 4h2m-1-16h2m-2 5h2m-2 0h2m-2 2h2m-2 0h2m-2 0h2m-2 1h2m-2 0h2m-2 1h2m-2 1h2m-2 1h2m-2 1h2m-2 3h2m-2 1h2m-2 2h2m-1-23h2m-2 4h2m-2 6h2m-2 0h2m-2 0h2m-2 1h2m-2 0h2m-2 0h2m-2 1h2m-2 0h2m-2 1h2m-2 0h2m-2 0h2m-2 2h2m-2 1h2m-2 0h2m-2 4h2m-2 0h2m-2 3h2m-1-14h2m-2 1h2m-2 1h2m-2 0h2m-2 1h2m-2 2h2m-2 0h2m-2 0h2m-2 1h2m-2 0h2m-2 3h2m-2 0h2m-2 1h2m-2 1h2m-2 0h2m-1-18h2m-2 7h2m-2 0h2m-2 3h2m-2 0h2m-2 0h2m-2 0h2m-2 1h2m-2 0h2m-2 0h2m-2 0h2m-2 0h2m-2 1h2m-2 1h2m-2 1h2m-2 0h2m-2 2h2m-2 0h2m-2 1h2m-2 4h2m-1-19h2m-2 0h2m-2 2h2m-2 3h2m-2 0h2m-2 1h2m-2 0h2m-2 1h2m-2 0h2m-2 0h2m-2 2h2m-2 0h2m-2 1h2m-2 1h2m-2 0h2m-2 1h2m-2 0h2m-2 4h2m-2 0h2m-2 5h2m-1-15h2m-2 0h2m-2 1h2m-2 2h2m-2 0h2m-2 0h2m-2 1h2m-2 1h2m-2 0h2m-2 1h2m-2 1h2m-2 0h2m-1-10h2m-2 1h2m-2 0h2m-2 1h2m-2 1h2m-2 1h2m-2 0h2m-2 1h2m-2 0h2m-2 1h2m-2 1h2m-2 0h2m-2 0h2m-2 1h2m-2 0h2m-2 0h2m-2 1h2m-2 0h2m-2 1h2m-2 3h2m-2 3h2m-1-16h2m-2 2h2m-2 1h2m-2 0h2m-2 2h2m-2 0h2m-2 0h2m-2 1h2m-2 0h2m-2 1h2m-2 1h2m-2 1h2m-2 1h2m-2 1h2m-2 0h2m-2 6h2m-2 1h2m-1-17h2m-2 1h2m-2 1h2m-2 1h2m-2 1h2m-2 1h2m-2 1h2m-2 0h2m-2 1h2m-2 0h2m-2 1h2m-2 1h2m-2 1h2m-2 3h2m-1-22h2m-2 7h2m-2 3h2m-2 1h2m-2 2h2m-2 1h2m-2 0h2m-2 0h2m-2 1h2m-2 0h2m-2 0h2m-2 1h2m-2 2h2m-2 0h2m-2 1h2m-2 0h2m-2 1h2m-2 2h2m-2 0h2m-2 2h2m-1-17h2m-2 1h2m-2 2h2m-2 2h2m-2 0h2m-2 2h2m-2 0h2m-2 1h2m-2 1h2m-2 0h2m-2 1h2m-2 1h2m-2 1h2m-2 1h2m-2 1h2m-2 1h2m-1-20h2m-2 7h2m-2 0h2m-2 2h2m-2 1h2m-2 1h2m-2 0h2m-2 0h2m-2 1h2m-2 1h2m-2 0h2m-2 0h2m-2 1h2m-2 0h2m-2 0h2m-2 1h2m-2 1h2m-2 1h2m-2 1h2m-2 0h2m-2 1h2m-2 5h2m-1-20h2m-2 2h2m-2 1h2m-2 2h2m-2 1h2m-2 0h2m-2 0h2m-2 0h2m-2 1h2m-2 2h2m-2 1h2m-2 0h2m-2 1h2m-2 2h2m-2 0h2m-2 2h2m-2 2h2m-1-17h2m-2 1h2m-2 1h2m-2 0h2m-2 2h2m-2 0h2m-2 1h2m-2 0h2m-2 2h2m-2 3h2m-2 2h2m-2 1h2m-2 1h2m-2 0h2m-2 0h2m-2 1h2m-2 2h2m-2 3h2m-1-15h2m-2 0h2m-2 2h2m-2 2h2m-2 0h2m-2 1h2m-2 0h2m-2 0h2m-2 2h2m-2 1h2m-2 3h2m-2 4h2m-1-19h2m-2 3h2m-2 0h2m-2 1h2m-2 0h2m-2 1h2m-2 0h2m-2 2h2m-2 0h2m-2 1h2m-2 0h2m-2 1h2m-2 0h2m-2 1h2m-2 0h2m-2 1h2m-2 2h2m-2 3h2m-1-19h2m-2 4h2m-2 2h2m-2 2h2m-2 0h2m-2 1h2m-2 0h2m-2 0h2m-2 4h2m-2 0h2m-2 1h2m-2 0h2m-2 1h2m-2 3h2m-1-15h2m-2 2h2m-2 0h2m-2 1h2m-2 0h2m-2 1h2m-2 4h2m-2 2h2m-2 1h2m-2 1h2m-2 0h2m-2 1h2m-2 1h2m-2 1h2m-1-17h2m-2 5h2m-2 1h2m-2 1h2m-2 0h2m-2 0h2m-2 1h2m-2 0h2m-2 2h2m-2 1h2m-2 1h2m-2 0h2m-2 4h2m-2 1h2m-2 0h2m-2 5h2m-1-17h2m-2 0h2m-2 1h2m-2 0h2m-2 1h2m-2 2h2m-2 1h2m-2 0h2m-2 0h2m-2 1h2m-2 1h2m-2 0h2m-2 0h2m-2 1h2m-2 5h2m-1-10h2m-2 1h2m-2 1h2m-2 0h2m-2 2h2m-2 1h2m-2 0h2m-2 3h2m-1-19h2m-2 7h2m-2 4h2m-2 1h2m-2 1h2m-2 1h2m-2 2h2m-2 1h2m-2 1h2m-2 1h2m-1-16h2m-2 4h2m-2 1h2m-2 1h2m-2 1h2m-2 0h2m-2 5h2m-2 0h2m-2 0h2m-2 0h2m-1-7h2m-2 3h2m-2 0h2m-2 1h2m-2 0h2m-2 2h2m-2 0h2m-2 1h2m-2 1h2m-2 2h2m-2 3h2m-1-17h2m-2 1h2m-2 4h2m-2 1h2m-2 0h2m-2 0h2m-2 2h2m-2 1h2m-2 0h2m-2 2h2m-2 0h2m-1-11h2m-2 2h2m-2 3h2m-2 1h2m-2 0h2m-2 1h2m-2 1h2m-2 0h2m-2 1h2m-2 0h2m-2 3h2m-2 0h2m-2 1h2m-2 4h2m-1-14h2m-2 5h2m-2 0h2m-2 0h2m-2 1h2m-2 4h2m-2 0h2m-1-14h2m-2 9h2m-2 0h2m-2 3h2m-2 0h2m-2 0h2m-2 1h2m-2 1h2m-2 2h2m-1-11h2m-2 4h2m-2 1h2m-2 2h2m-2 0h2m-2 0h2m-2 4h2m-1-11h2m-2 0h2m-2 1h2m-2 1h2m-2 1h2m-2 1h2m-2 0h2m-2 0h2m-2 2h2m-2 1h2m-2 4h2m-2 2h2m-1-18h2m-2 2h2m-2 2h2m-2 4h2m-2 0h2m-2 1h2m-2 1h2m-2 1h2m-2 1h2m-2 1h2m-2 0h2m-1-13h2m-2 4h2m-2 8h2m-1-8h2m-2 4h2m-2 7h2m-1-11h2m-2 1h2m-2 4h2m-2 2h2m-1-1h2m-2 0h2m-2 1h2m-2 0h2m-2 0h2m-2 0h2m-1-5h2m-2 0h2m-2 3h2m-2 1h2m-2 1h2m-2 1h2m-2 2h2m-1-13h2m-2 8h2m-2 3h2m-1-3h2m-2 7h2m-1-12h2m-1 6h2m-1-1h2m-2 2h2m-2 2h2m-1-8h2m-2 1h2m-2 1h2m-2 3h2m-2 4h2m-1-8h2m-2 6h2m-2 5h2m-1-10h2m-2 4h2m-1-2h2m-2 5h2m-1-8h2m-1 8h2m-1-9h2m-1 3h2m-2 4h2m3-6h2m-2 1h2m2 0h2m-2 4h2m1 4h2m-1-12h2m1 1h2m13 10h2" stroke="#2e62b5" stroke-width="2" stroke-opacity=".7" fill="none"/><path transform="scale(.5)" filter="url(#bl)" d="M221 691h2m9 31h2m-1-79h2m-1 47h2m-1-45h2m-1-2h2m-1 31h2m-2 51h2m-1-43h2m-2 32h2m-2 15h2m2-32h2m-2 31h2m-1-47h2m-2 20h2m4-3h2m-1-40h2m-1-2h2m-2 74h2m5-77h2m-1 30h2m-1-28h2m-2 57h2m0-41h2m-1 44h2m0-11h2m3-18h2m4-42h2m0 65h2m7-33h2" stroke="#2e62b5" stroke-width="2" fill="none"/><path transform="scale(.5)" filter="url(#bl)" d="M212 747h2m0-4h2m3 8h2m0-7h2m1 3h2m0-3h2m-2 1h2m-2 6h2m0-3h2m-2 2h2m-2 1h2m-1-9h2m-2 3h2m-1 4h2m-2 2h2m-1-7h2m-2 4h2m-2 1h2m-1-3h2m-2 6h2m-2 5h2m-1-15h2m-2 2h2m-2 2h2m-2 0h2m-2 0h2m-2 3h2m-1-5h2m-2 2h2m-2 1h2m-2 0h2m-2 1h2m-2 1h2m-2 1h2m-2 0h2m-1-3h2m-2 1h2m-2 0h2m-2 4h2m-2 0h2m-2 1h2m-1-9h2m-2 1h2m-2 0h2m-2 1h2m-2 1h2m-2 1h2m-2 1h2m-2 1h2m-2 0h2m-2 1h2m-2 0h2m-1-6h2m-2 3h2m-1-7h2m-2 1h2m-2 2h2m-2 1h2m-2 1h2m-2 0h2m-2 1h2m-2 2h2m-2 0h2m-2 1h2m-1-8h2m-2 1h2m-2 1h2m-2 1h2m-2 0h2m-2 1h2m-2 0h2m-2 2h2m-2 3h2m-2 0h2m-2 1h2m-2 0h2m-2 1h2m-2 0h2m-2 1h2m-1-5h2m-2 0h2m-2 0h2m-2 3h2m-2 1h2m-1-12h2m-2 5h2m-2 1h2m-2 1h2m-2 0h2m-2 1h2m-2 1h2m-2 1h2m-2 1h2m-2 0h2m-1-10h2m-2 2h2m-2 2h2m-2 1h2m-2 0h2m-2 1h2m-2 2h2m-2 0h2m-2 0h2m-2 2h2m-2 0h2m-2 3h2m-2 0h2m-1-13h2m-2 1h2m-2 2h2m-2 3h2m-2 0h2m-2 1h2m-2 1h2m-2 0h2m-2 1h2m-1-9h2m-2 1h2m-2 2h2m-2 1h2m-2 1h2m-2 0h2m-2 0h2m-2 1h2m-2 0h2m-2 0h2m-2 1h2m-2 0h2m-2 0h2m-2 0h2m-2 0h2m-2 1h2m-2 0h2m-2 1h2m-2 0h2m-2 1h2m-2 0h2m-2 0h2m-2 2h2m-2 1h2m-1-12h2m-2 0h2m-2 0h2m-2 2h2m-2 1h2m-2 0h2m-2 1h2m-2 0h2m-2 0h2m-2 1h2m-2 0h2m-2 1h2m-2 0h2m-2 1h2m-2 0h2m-2 1h2m-2 0h2m-2 0h2m-2 2h2m-1-10h2m-2 1h2m-2 1h2m-2 0h2m-2 0h2m-2 0h2m-2 0h2m-2 2h2m-2 0h2m-2 0h2m-2 0h2m-2 0h2m-2 0h2m-2 0h2m-2 0h2m-2 0h2m-2 1h2m-2 0h2m-2 0h2m-2 0h2m-2 0h2m-2 3h2m-2 0h2m-2 1h2m-2 0h2m-2 3h2m-2 1h2m-1-11h2m-2 0h2m-2 0h2m-2 1h2m-2 0h2m-2 1h2m-2 0h2m-2 1h2m-2 0h2m-2 1h2m-2 0h2m-2 0h2m-2 1h2m-2 0h2m-2 0h2m-2 1h2m-2 0h2m-2 0h2m-2 1h2m-2 0h2m-2 0h2m-2 1h2m-2 0h2m-2 1h2m-2 0h2m-2 0h2m-1-11h2m-2 1h2m-2 1h2m-2 0h2m-2 0h2m-2 0h2m-2 1h2m-2 0h2m-2 0h2m-2 0h2m-2 2h2m-2 0h2m-2 0h2m-2 0h2m-2 2h2m-2 0h2m-2 0h2m-2 1h2m-2 0h2m-2 0h2m-2 1h2m-2 0h2m-2 0h2m-2 1h2m-2 1h2m-2 0h2m-2 2h2m-1-13h2m-2 0h2m-2 1h2m-2 2h2m-2 0h2m-2 0h2m-2 0h2m-2 0h2m-2 1h2m-2 0h2m-2 0h2m-2 1h2m-2 0h2m-2 1h2m-2 0h2m-2 0h2m-2 0h2m-2 1h2m-2 0h2m-2 0h2m-2 0h2m-2 1h2m-2 0h2m-2 0h2m-2 3h2m-1-13h2m-2 0h2m-2 1h2m-2 1h2m-2 0h2m-2 2h2m-2 0h2m-2 0h2m-2 0h2m-2 1h2m-2 0h2m-2 0h2m-2 1h2m-2 0h2m-2 0h2m-2 0h2m-2 1h2m-2 0h2m-2 1h2m-2 0h2m-2 0h2m-2 0h2m-2 0h2m-2 1h2m-2 0h2m-2 0h2m-2 0h2m-2 1h2m-2 0h2m-2 0h2m-2 0h2m-2 0h2m-2 1h2m-2 1h2m-2 1h2m-1-10h2m-2 0h2m-2 0h2m-2 0h2m-2 1h2m-2 0h2m-2 1h2m-2 0h2m-2 1h2m-2 0h2m-2 0h2m-2 1h2m-2 0h2m-2 0h2m-2 1h2m-2 0h2m-2 0h2m-2 0h2m-2 1h2m-2 0h2m-2 0h2m-2 0h2m-2 0h2m-2 1h2m-2 0h2m-2 1h2m-2 1h2m-2 1h2m-2 1h2m-1-12h2m-2 0h2m-2 1h2m-2 2h2m-2 0h2m-2 0h2m-2 0h2m-2 0h2m-2 0h2m-2 1h2m-2 0h2m-2 0h2m-2 0h2m-2 0h2m-2 0h2m-2 0h2m-2 1h2m-2 0h2m-2 0h2m-2 1h2m-2 0h2m-2 0h2m-2 0h2m-2 1h2m-2 0h2m-2 0h2m-2 0h2m-2 1h2m-2 0h2m-2 1h2m-2 0h2m-2 1h2m-2 1h2m-2 0h2m-2 0h2m-2 0h2m-1-13h2m-2 1h2m-2 1h2m-2 0h2m-2 1h2m-2 0h2m-2 0h2m-2 1h2m-2 0h2m-2 1h2m-2 0h2m-2 0h2m-2 1h2m-2 0h2m-2 0h2m-2 0h2m-2 0h2m-2 1h2m-2 0h2m-2 0h2m-2 0h2m-2 1h2m-2 0h2m-2 0h2m-2 0h2m-2 1h2m-2 0h2m-2 0h2m-2 0h2m-2 1h2m-2 0h2m-2 0h2m-2 1h2m-2 1h2m-2 1h2m-2 1h2m-1-13h2m-2 3h2m-2 0h2m-2 1h2m-2 0h2m-2 0h2m-2 0h2m-2 0h2m-2 0h2m-2 1h2m-2 0h2m-2 0h2m-2 0h2m-2 1h2m-2 0h2m-2 0h2m-2 0h2m-2 0h2m-2 1h2m-2 0h2m-2 0h2m-2 0h2m-2 0h2m-2 1h2m-2 0h2m-2 0h2m-2 0h2m-2 1h2m-2 0h2m-2 0h2m-2 0h2m-2 0h2m-2 1h2m-2 0h2m-2 0h2m-2 1h2m-2 0h2m-2 2h2m-2 1h2m-1-14h2m-2 1h2m-2 1h2m-2 0h2m-2 1h2m-2 0h2m-2 0h2m-2 1h2m-2 0h2m-2 0h2m-2 1h2m-2 0h2m-2 0h2m-2 0h2m-2 0h2m-2 0h2m-2 0h2m-2 0h2m-2 0h2m-2 1h2m-2 0h2m-2 0h2m-2 1h2m-2 0h2m-2 0h2m-2 0h2m-2 0h2m-2 1h2m-2 0h2m-2 0h2m-2 1h2m-2 0h2m-2 0h2m-2 2h2m-2 0h2m-2 0h2m-2 1h2m-2 0h2m-2 1h2m-1-14h2m-2 1h2m-2 0h2m-2 0h2m-2 0h2m-2 1h2m-2 0h2m-2 1h2m-2 0h2m-2 1h2m-2 0h2m-2 0h2m-2 0h2m-2 1h2m-2 0h2m-2 0h2m-2 0h2m-2 0h2m-2 1h2m-2 0h2m-2 0h2m-2 0h2m-2 0h2m-2 0h2m-2 1h2m-2 0h2m-2 0h2m-2 0h2m-2 0h2m-2 1h2m-2 0h2m-2 0h2m-2 0h2m-2 1h2m-2 0h2m-2 1h2m-2 0h2m-2 0h2m-2 1h2m-2 0h2m-2 0h2m-2 0h2m-2 0h2m-2 1h2m-2 0h2m-2 0h2m-2 0h2m-2 1h2m-2 1h2m-1-15h2m-2 2h2m-2 1h2m-2 0h2m-2 1h2m-2 0h2m-2 0h2m-2 0h2m-2 1h2m-2 0h2m-2 0h2m-2 0h2m-2 0h2m-2 1h2m-2 0h2m-2 0h2m-2 0h2m-2 1h2m-2 0h2m-2 0h2m-2 0h2m-2 0h2m-2 0h2m-2 1h2m-2 0h2m-2 0h2m-2 0h2m-2 0h2m-2 1h2m-2 0h2m-2 0h2m-2 0h2m-2 1h2m-2 0h2m-2 0h2m-2 0h2m-2 0h2m-2 0h2m-2 1h2m-2 0h2m-2 0h2m-2 1h2m-2 2h2m-2 0h2m-2 0h2m-2 0h2m-2 1h2m-1-13h2m-2 1h2m-2 1h2m-2 0h2m-2 0h2m-2 1h2m-2 0h2m-2 0h2m-2 0h2m-2 0h2m-2 0h2m-2 0h2m-2 1h2m-2 1h2m-2 0h2m-2 0h2m-2 0h2m-2 0h2m-2 2h2m-2 0h2m-2 0h2m-2 1h2m-2 0h2m-2 1h2m-2 0h2m-2 0h2m-2 1h2m-2 1h2m-2 2h2m-1-13h2m-2 0h2m-2 2h2m-2 0h2m-2 0h2m-2 0h2m-2 1h2m-2 1h2m-2 0h2m-2 1h2m-2 0h2m-2 1h2m-2 0h2m-2 0h2m-2 0h2m-2 0h2m-2 1h2m-2 0h2m-2 0h2m-2 0h2m-2 0h2m-2 0h2m-2 1h2m-2 0h2m-2 1h2m-2 0h2m-2 0h2m-2 0h2m-2 1h2m-2 0h2m-2 0h2m-2 1h2m-2 4h2m-1-16h2m-2 1h2m-2 1h2m-2 1h2m-2 0h2m-2 0h2m-2 0h2m-2 1h2m-2 0h2m-2 0h2m-2 0h2m-2 0h2m-2 1h2m-2 0h2m-2 0h2m-2 0h2m-2 0h2m-2 1h2m-2 0h2m-2 0h2m-2 0h2m-2 0h2m-2 0h2m-2 1h2m-2 0h2m-2 0h2m-2 0h2m-2 1h2m-2 0h2m-2 0h2m-2 0h2m-2 0h2m-2 0h2m-2 0h2m-2 1h2m-2 0h2m-2 0h2m-2 1h2m-2 0h2m-2 0h2m-2 0h2m-2 0h2m-2 0h2m-2 1h2m-2 0h2m-2 0h2m-2 1h2m-2 0h2m-2 0h2m-2 0h2m-2 2h2m-1-14h2m-2 0h2m-2 1h2m-2 1h2m-2 1h2m-2 0h2m-2 1h2m-2 0h2m-2 0h2m-2 1h2m-2 0h2m-2 0h2m-2 0h2m-2 0h2m-2 1h2m-2 0h2m-2 0h2m-2 0h2m-2 0h2m-2 1h2m-2 0h2m-2 0h2m-2 0h2m-2 0h2m-2 0h2m-2 0h2m-2 1h2m-2 0h2m-2 0h2m-2 0h2m-2 0h2m-2 0h2m-2 0h2m-2 1h2m-2 0h2m-2 0h2m-2 0h2m-2 0h2m-2 0h2m-2 0h2m-2 0h2m-2 0h2m-2 0h2m-2 0h2m-2 1h2m-2 0h2m-2 0h2m-2 0h2m-2 0h2m-2 0h2m-2 1h2m-2 1h2m-2 0h2m-2 0h2m-2 0h2m-2 0h2m-2 1h2m-2 1h2m-1-11h2m-2 0h2m-2 0h2m-2 1h2m-2 0h2m-2 0h2m-2 1h2m-2 0h2m-2 0h2m-2 0h2m-2 0h2m-2 1h2m-2 0h2m-2 0h2m-2 0h2m-2 0h2m-2 1h2m-2 0h2m-2 0h2m-2 0h2m-2 0h2m-2 0h2m-2 0h2m-2 0h2m-2 1h2m-2 0h2m-2 0h2m-2 0h2m-2 0h2m-2 0h2m-2 1h2m-2 0h2m-2 0h2m-2 0h2m-2 0h2m-2 1h2m-2 0h2m-2 0h2m-2 0h2m-2 1h2m-2 0h2m-2 0h2m-2 1h2m-2 0h2m-2 2h2m-1-13h2m-2 0h2m-2 1h2m-2 0h2m-2 1h2m-2 0h2m-2 0h2m-2 0h2m-2 1h2m-2 0h2m-2 1h2m-2 0h2m-2 1h2m-2 0h2m-2 0h2m-2 0h2m-2 0h2m-2 0h2m-2 0h2m-2 0h2m-2 0h2m-2 1h2m-2 0h2m-2 0h2m-2 0h2m-2 0h2m-2 0h2m-2 0h2m-2 0h2m-2 1h2m-2 0h2m-2 0h2m-2 0h2m-2 0h2m-2 0h2m-2 1h2m-2 0h2m-2 0h2m-2 0h2m-2 0h2m-2 0h2m-2 0h2m-2 1h2m-2 0h2m-2 0h2m-2 0h2m-2 0h2m-2 0h2m-2 0h2m-2 1h2m-2 0h2m-2 0h2m-2 1h2m-2 0h2m-2 1h2m-2 0h2m-2 1h2m-1-13h2m-2 0h2m-2 0h2m-2 1h2m-2 0h2m-2 1h2m-2 0h2m-2 1h2m-2 0h2m-2 0h2m-2 1h2m-2 0h2m-2 0h2m-2 0h2m-2 0h2m-2 0h2m-2 1h2m-2 0h2m-2 0h2m-2 1h2m-2 0h2m-2 0h2m-2 0h2m-2 0h2m-2 0h2m-2 0h2m-2 0h2m-2 1h2m-2 0h2m-2 0h2m-2 0h2m-2 0h2m-2 1h2m-2 0h2m-2 0h2m-2 0h2m-2 0h2m-2 0h2m-2 1h2m-2 0h2m-2 0h2m-2 0h2m-2 0h2m-2 0h2m-2 1h2m-2 1h2m-2 0h2m-2 0h2m-2 1h2m-2 0h2m-2 3h2m-1-20h2m-2 7h2m-2 0h2m-2 0h2m-2 1h2m-2 0h2m-2 0h2m-2 0h2m-2 0h2m-2 0h2m-2 1h2m-2 1h2m-2 0h2m-2 0h2m-2 1h2m-2 0h2m-2 1h2m-2 0h2m-2 0h2m-2 0h2m-2 0h2m-2 0h2m-2 0h2m-2 0h2m-2 0h2m-2 1h2m-2 0h2m-2 0h2m-2 0h2m-2 0h2m-2 1h2m-2 0h2m-2 1h2m-2 1h2m-2 0h2m-2 1h2m-2 2h2m-1-15h2m-2 1h2m-2 1h2m-2 1h2m-2 0h2m-2 0h2m-2 0h2m-2 1h2m-2 0h2m-2 0h2m-2 1h2m-2 0h2m-2 0h2m-2 0h2m-2 1h2m-2 0h2m-2 0h2m-2 0h2m-2 1h2m-2 0h2m-2 0h2m-2 0h2m-2 1h2m-2 0h2m-2 0h2m-2 0h2m-2 0h2m-2 0h2m-2 0h2m-2 1h2m-2 0h2m-2 1h2m-2 0h2m-2 0h2m-2 1h2m-2 0h2m-2 2h2m-2 0h2m-1-12h2m-2 2h2m-2 1h2m-2 0h2m-2 0h2m-2 0h2m-2 0h2m-2 1h2m-2 0h2m-2 0h2m-2 0h2m-2 0h2m-2 0h2m-2 0h2m-2 1h2m-2 0h2m-2 0h2m-2 0h2m-2 0h2m-2 0h2m-2 0h2m-2 0h2m-2 1h2m-2 0h2m-2 0h2m-2 0h2m-2 0h2m-2 0h2m-2 1h2m-2 0h2m-2 0h2m-2 0h2m-2 1h2m-2 0h2m-2 0h2m-2 1h2m-2 0h2m-2 0h2m-2 1h2m-2 0h2m-2 0h2m-2 1h2m-2 0h2m-2 0h2m-2 0h2m-2 2h2m-2 0h2m-1-13h2m-2 1h2m-2 1h2m-2 0h2m-2 1h2m-2 0h2m-2 1h2m-2 1h2m-2 0h2m-2 0h2m-2 0h2m-2 0h2m-2 0h2m-2 1h2m-2 0h2m-2 0h2m-2 0h2m-2 0h2m-2 0h2m-2 1h2m-2 0h2m-2 0h2m-2 0h2m-2 0h2m-2 0h2m-2 0h2m-2 0h2m-2 1h2m-2 0h2m-2 0h2m-2 0h2m-2 0h2m-2 1h2m-2 0h2m-2 1h2m-2 0h2m-2 0h2m-2 0h2m-2 1h2m-2 3h2m-1-14h2m-2 2h2m-2 0h2m-2 1h2m-2 0h2m-2 0h2m-2 2h2m-2 0h2m-2 0h2m-2 0h2m-2 1h2m-2 0h2m-2 0h2m-2 0h2m-2 0h2m-2 0h2m-2 0h2m-2 1h2m-2 0h2m-2 0h2m-2 0h2m-2 0h2m-2 0h2m-2 1h2m-2 1h2m-2 0h2m-2 0h2m-2 1h2m-2 0h2m-2 1h2m-2 0h2m-2 0h2m-2 0h2m-2 0h2m-2 0h2m-1-11h2m-2 1h2m-2 1h2m-2 0h2m-2 0h2m-2 1h2m-2 1h2m-2 0h2m-2 1h2m-2 0h2m-2 0h2m-2 0h2m-2 1h2m-2 0h2m-2 0h2m-2 0h2m-2 0h2m-2 1h2m-2 0h2m-2 0h2m-2 0h2m-2 0h2m-2 0h2m-2 0h2m-2 1h2m-2 0h2m-2 0h2m-2 0h2m-2 0h2m-2 0h2m-2 0h2m-2 0h2m-2 1h2m-2 0h2m-2 0h2m-2 0h2m-2 0h2m-2 1h2m-2 0h2m-2 0h2m-2 1h2m-2 1h2m-2 1h2m-2 0h2m-2 1h2m-1-14h2m-2 1h2m-2 1h2m-2 1h2m-2 0h2m-2 0h2m-2 1h2m-2 0h2m-2 0h2m-2 0h2m-2 0h2m-2 1h2m-2 0h2m-2 0h2m-2 0h2m-2 0h2m-2 0h2m-2 1h2m-2 0h2m-2 1h2m-2 0h2m-2 0h2m-2 1h2m-2 0h2m-2 0h2m-2 0h2m-2 0h2m-2 0h2m-2 0h2m-2 1h2m-2 0h2m-2 0h2m-2 0h2m-2 0h2m-2 0h2m-2 1h2m-2 1h2m-2 0h2m-2 1h2m-2 0h2m-2 1h2m-1-12h2m-2 0h2m-2 2h2m-2 0h2m-2 0h2m-2 0h2m-2 0h2m-2 0h2m-2 0h2m-2 1h2m-2 0h2m-2 0h2m-2 1h2m-2 0h2m-2 0h2m-2 1h2m-2 0h2m-2 0h2m-2 0h2m-2 0h2m-2 0h2m-2 0h2m-2 0h2m-2 1h2m-2 0h2m-2 0h2m-2 1h2m-2 0h2m-2 0h2m-2 0h2m-2 0h2m-2 0h2m-2 0h2m-2 1h2m-2 0h2m-2 0h2m-2 0h2m-2 1h2m-2 0h2m-2 0h2m-2 0h2m-2 1h2m-2 0h2m-2 1h2m-1-10h2m-2 0h2m-2 0h2m-2 1h2m-2 0h2m-2 0h2m-2 0h2m-2 1h2m-2 0h2m-2 0h2m-2 0h2m-2 0h2m-2 1h2m-2 0h2m-2 0h2m-2 0h2m-2 0h2m-2 0h2m-2 0h2m-2 0h2m-2 0h2m-2 1h2m-2 0h2m-2 1h2m-2 0h2m-2 0h2m-2 0h2m-2 0h2m-2 0h2m-2 1h2m-2 0h2m-2 0h2m-2 0h2m-2 1h2m-2 0h2m-2 1h2m-2 0h2m-2 0h2m-2 0h2m-2 0h2m-2 0h2m-2 0h2m-2 1h2m-1-11h2m-2 1h2m-2 0h2m-2 1h2m-2 1h2m-2 0h2m-2 0h2m-2 1h2m-2 1h2m-2 0h2m-2 0h2m-2 0h2m-2 1h2m-2 0h2m-2 0h2m-2 0h2m-2 0h2m-2 1h2m-2 0h2m-2 1h2m-2 0h2m-2 0h2m-2 1h2m-2 0h2m-2 0h2m-2 0h2m-2 1h2m-2 0h2m-2 0h2m-2 2h2m-2 0h2m-1-13h2m-2 1h2m-2 1h2m-2 0h2m-2 1h2m-2 0h2m-2 0h2m-2 1h2m-2 0h2m-2 1h2m-2 0h2m-2 1h2m-2 0h2m-2 0h2m-2 1h2m-2 0h2m-2 0h2m-2 0h2m-2 0h2m-2 0h2m-2 1h2m-2 0h2m-2 0h2m-2 0h2m-2 1h2m-2 0h2m-2 0h2m-2 1h2m-2 0h2m-2 0h2m-2 0h2m-2 0h2m-2 1h2m-2 0h2m-2 1h2m-2 0h2m-2 0h2m-2 2h2m-1-12h2m-2 0h2m-2 1h2m-2 1h2m-2 0h2m-2 0h2m-2 0h2m-2 1h2m-2 0h2m-2 1h2m-2 0h2m-2 0h2m-2 1h2m-2 0h2m-2 0h2m-2 0h2m-2 0h2m-2 0h2m-2 1h2m-2 0h2m-2 0h2m-2 0h2m-2 0h2m-2 0h2m-2 0h2m-2 0h2m-2 1h2m-2 0h2m-2 1h2m-2 2h2m-2 0h2m-2 1h2m-1-9h2m-2 0h2m-2 0h2m-2 0h2m-2 1h2m-2 0h2m-2 0h2m-2 0h2m-2 0h2m-2 1h2m-2 0h2m-2 0h2m-2 0h2m-2 0h2m-2 1h2m-2 0h2m-2 0h2m-2 0h2m-2 1h2m-2 0h2m-2 0h2m-2 0h2m-2 1h2m-2 0h2m-2 0h2m-2 0h2m-2 0h2m-2 0h2m-2 1h2m-2 0h2m-2 1h2m-2 0h2m-2 0h2m-2 0h2m-2 1h2m-2 0h2m-2 1h2m-1-11h2m-2 1h2m-2 1h2m-2 0h2m-2 1h2m-2 1h2m-2 0h2m-2 0h2m-2 0h2m-2 0h2m-2 0h2m-2 1h2m-2 0h2m-2 0h2m-2 0h2m-2 0h2m-2 0h2m-2 1h2m-2 0h2m-2 0h2m-2 0h2m-2 0h2m-2 0h2m-2 2h2m-2 1h2m-2 0h2m-2 1h2m-1-11h2m-2 0h2m-2 1h2m-2 1h2m-2 0h2m-2 1h2m-2 0h2m-2 0h2m-2 0h2m-2 1h2m-2 0h2m-2 0h2m-2 1h2m-2 0h2m-2 0h2m-2 0h2m-2 0h2m-2 0h2m-2 0h2m-2 1h2m-2 0h2m-2 1h2m-2 0h2m-2 0h2m-2 0h2m-2 0h2m-2 0h2m-2 0h2m-2 1h2m-2 0h2m-2 1h2m-2 0h2m-2 1h2m-2 1h2m-2 0h2m-1-10h2m-2 1h2m-2 1h2m-2 0h2m-2 0h2m-2 0h2m-2 1h2m-2 0h2m-2 0h2m-2 0h2m-2 0h2m-2 0h2m-2 1h2m-2 0h2m-2 0h2m-2 1h2m-2 0h2m-2 0h2m-2 0h2m-2 0h2m-2 0h2m-2 0h2m-2 1h2m-2 0h2m-2 1h2m-2 0h2m-2 0h2m-2 2h2m-2 0h2m-2 2h2m-1-14h2m-2 0h2m-2 2h2m-2 0h2m-2 2h2m-2 0h2m-2 1h2m-2 0h2m-2 1h2m-2 0h2m-2 0h2m-2 1h2m-2 0h2m-2 1h2m-2 0h2m-2 0h2m-2 1h2m-2 0h2m-2 1h2m-2 0h2m-2 0h2m-2 1h2m-2 0h2m-2 1h2m-2 0h2m-2 0h2m-2 2h2m-2 3h2m-1-14h2m-2 1h2m-2 3h2m-2 1h2m-2 0h2m-2 0h2m-2 0h2m-2 0h2m-2 1h2m-2 0h2m-2 0h2m-2 1h2m-2 0h2m-2 0h2m-2 0h2m-2 0h2m-2 0h2m-2 0h2m-2 1h2m-2 2h2m-2 0h2m-2 1h2m-2 0h2m-2 1h2m-1-12h2m-2 2h2m-2 0h2m-2 3h2m-2 2h2m-2 0h2m-2 0h2m-2 2h2m-2 0h2m-2 2h2m-2 0h2m-1-11h2m-2 3h2m-2 0h2m-2 0h2m-2 1h2m-2 0h2m-2 0h2m-2 0h2m-2 0h2m-2 0h2m-2 1h2m-2 0h2m-2 0h2m-2 1h2m-2 0h2m-2 0h2m-2 0h2m-2 1h2m-2 1h2m-2 0h2m-2 1h2m-2 1h2m-2 2h2m-1-13h2m-2 0h2m-2 2h2m-2 2h2m-2 0h2m-2 1h2m-2 1h2m-2 0h2m-2 0h2m-2 0h2m-2 1h2m-2 0h2m-2 0h2m-2 1h2m-2 0h2m-2 0h2m-2 1h2m-2 0h2m-2 0h2m-2 1h2m-2 2h2m-1-13h2m-2 1h2m-2 3h2m-2 1h2m-2 0h2m-2 0h2m-2 0h2m-2 0h2m-2 1h2m-2 0h2m-2 0h2m-2 1h2m-2 0h2m-2 1h2m-2 0h2m-2 0h2m-2 1h2m-2 0h2m-2 2h2m-2 1h2m-2 0h2m-1-7h2m-2 0h2m-2 1h2m-2 0h2m-2 1h2m-2 0h2m-2 0h2m-2 0h2m-2 1h2m-2 0h2m-2 0h2m-2 1h2m-2 0h2m-2 2h2m-2 1h2m-1-9h2m-2 2h2m-2 0h2m-2 0h2m-2 1h2m-2 0h2m-2 1h2m-2 0h2m-2 0h2m-2 1h2m-2 0h2m-2 1h2m-2 1h2m-2 0h2m-2 1h2m-2 1h2m-2 1h2m-1-12h2m-2 3h2m-2 1h2m-2 0h2m-2 0h2m-2 2h2m-2 3h2m-2 2h2m-1-10h2m-2 1h2m-2 0h2m-2 3h2m-2 1h2m-2 0h2m-2 1h2m-2 1h2m-2 0h2m-2 0h2m-2 2h2m-2 0h2m-2 0h2m-2 0h2m-1-8h2m-2 1h2m-2 0h2m-2 1h2m-2 1h2m-2 0h2m-2 0h2m-2 1h2m-2 2h2m-2 0h2m-2 1h2m-1-5h2m-2 1h2m-2 1h2m-2 0h2m-2 1h2m-2 1h2m-2 0h2m-1-8h2m-2 2h2m-2 1h2m-2 2h2m-2 1h2m-2 2h2m-2 1h2m-2 1h2m-2 0h2m-1-9h2m-2 3h2m-2 1h2m-2 0h2m-2 1h2m-2 0h2m-2 2h2m-2 1h2m-2 5h2m-2 0h2m-1-13h2m-2 1h2m-2 0h2m-2 1h2m-2 1h2m-2 0h2m-2 1h2m-2 0h2m-2 0h2m-2 1h2m-2 2h2m-2 1h2m-2 0h2m-1-5h2m-2 4h2m-2 0h2m-2 1h2m-2 6h2m-1-11h2m-2 2h2m-2 2h2m-2 0h2m-2 0h2m-2 2h2m-1-8h2m-2 2h2m-2 3h2m-2 0h2m-2 0h2m-2 1h2m-2 0h2m-2 1h2m-2 1h2m-2 0h2m-1-12h2m-2 5h2m-2 2h2m-2 3h2m-2 0h2m-2 0h2m-2 1h2m-1-8h2m-2 1h2m-2 1h2m-2 5h2m-2 0h2m-2 1h2m-2 1h2m-2 1h2m-1-9h2m-2 2h2m-2 1h2m-2 2h2m-2 1h2m-2 0h2m-2 6h2m-1-10h2m-2 0h2m-2 0h2m-2 1h2m-2 1h2m-2 2h2m-2 0h2m-1-6h2m-2 10h2m-1-14h2m-2 6h2m-2 3h2m-2 4h2m-1-6h2m-1-1h2m-2 3h2m-2 2h2m-1-6h2m-1 0h2m0 1h2m-2 1h2m-2 3h2m-2 1h2m2-4h2m-1 0h2m4 4h2m1-3h2" stroke="#3a3a3a" stroke-width="2" stroke-opacity=".33" fill="none"/><path transform="scale(.5)" filter="url(#bl)" d="M313 743h2m12 5h2m3 1h2m1-10h2m0 10h2m0-4h2m0 3h2m1 1h2m-1 2h2m-1-9h2m-1 0h2m-1 6h2m-2 1h2m-1 0h2m0 3h2m-1-5h2m-2 4h2m-1-5h2m-2 1h2m0 0h2m-1 3h2m-1-1h2m-2 0h2m-2 1h2m-1-7h2m-2 5h2m-2 0h2m-2 5h2m0-5h2m-1-4h2m-1 1h2m-2 3h2m-1-1h2m-2 1h2m-1-4h2m-2 3h2m-2 5h2m-1-2h2m-1-3h2m-1 0h2m-1-4h2m-2 4h2m-2 0h2m-2 4h2m-1-8h2m-2 3h2m-2 1h2m-2 0h2m-2 3h2m-2 1h2m-1-3h2m-2 2h2m-2 2h2m0-7h2m-2 3h2m-2 0h2m-1-1h2m-2 0h2m-2 3h2m0-6h2m-1 3h2m-2 0h2m-2 1h2m-2 1h2m-2 0h2m-2 2h2m-1-6h2m-2 1h2m-2 4h2m-1-3h2m-2 1h2m-2 3h2m-1-6h2m-2 1h2m-2 2h2m-2 0h2m-2 2h2m-1-1h2m-2 0h2m-1-2h2m-2 2h2m-1-2h2m-2 2h2m-2 1h2m-2 1h2m-2 1h2m-1-5h2m-2 0h2m-2 1h2m-2 1h2m-1-1h2m-2 0h2m-2 1h2m-1-4h2m-2 4h2m-2 0h2m-2 1h2m-1-5h2m-2 0h2m-2 3h2m-2 0h2m-1-2h2m-2 1h2m-2 3h2m-1-5h2m-2 1h2m-2 2h2m-2 2h2m-2 2h2m-2 0h2m-1-1h2m-1-7h2m-2 2h2m-2 1h2m-2 1h2m-2 0h2m-2 1h2m-1-4h2m-2 0h2m-2 2h2m-2 2h2m-1-5h2m-2 3h2m-2 2h2m-2 2h2m-1-8h2m-2 0h2m-2 1h2m-2 0h2m-2 1h2m-2 0h2m-2 2h2m-2 1h2m-2 1h2m-2 0h2m-1-3h2m-2 1h2m-2 1h2m-2 0h2m-2 0h2m-2 2h2m-2 0h2m-1-5h2m-2 1h2m-2 0h2m-2 0h2m-2 0h2m-2 1h2m-2 1h2m-2 0h2m-2 0h2m-2 1h2m-2 0h2m-2 0h2m-2 3h2m-1-6h2m-1-2h2m-2 4h2m-2 0h2m-2 1h2m-2 0h2m-2 1h2m-2 2h2m-1-8h2m-2 0h2m-2 0h2m-2 1h2m-2 2h2m-2 2h2m-2 1h2m-2 1h2m-2 1h2m-1-10h2m-2 0h2m-2 2h2m-2 1h2m-2 2h2m-2 2h2m-2 1h2m-2 2h2m-1-7h2m-2 1h2m-2 1h2m-2 0h2m-2 1h2m-2 0h2m-2 1h2m-2 0h2m-1-6h2m-2 2h2m-2 4h2m-2 0h2m-2 0h2m-2 0h2m-2 0h2m-2 4h2m-1-9h2m-2 2h2m-2 0h2m-2 0h2m-2 0h2m-2 1h2m-2 1h2m-2 1h2m-2 1h2m-2 2h2m-1-9h2m-2 1h2m-2 3h2m-2 0h2m-2 0h2m-2 3h2m-2 5h2m-1-13h2m-2 2h2m-2 1h2m-2 0h2m-2 1h2m-2 0h2m-2 0h2m-2 3h2m-2 1h2m-2 5h2m-1-10h2m-2 1h2m-2 2h2m-2 0h2m-2 1h2m-1-4h2m-2 2h2m-2 1h2m-2 1h2m-2 1h2m-1-5h2m-2 0h2m-2 1h2m-2 0h2m-2 2h2m-2 1h2m0-5h2m-2 2h2m-2 1h2m-2 3h2m-1-9h2m-2 6h2m-2 1h2m-2 0h2m-2 2h2m-2 1h2m-1-8h2m-2 4h2m-2 0h2m-2 0h2m-2 1h2m-2 2h2m-1-4h2m-2 2h2m-2 0h2m-2 1h2m-2 3h2m-1-7h2m-2 1h2m-2 0h2m-2 1h2m-2 0h2m-2 3h2m-2 1h2m-1-6h2m-2 0h2m-2 2h2m-2 3h2m-2 0h2m-2 1h2m-1-6h2m-2 1h2m-2 2h2m-2 2h2m-2 5h2m-1-10h2m-2 4h2m-1-4h2m-2 0h2m-2 2h2m-2 3h2m-2 1h2m-1-10h2m-2 5h2m-2 3h2m-2 0h2m-1-2h2m-2 1h2m-2 1h2m-2 2h2m-2 1h2m-1-6h2m-1-1h2m-2 1h2m-2 0h2m-2 1h2m-2 2h2m-2 3h2m-1-8h2m-2 3h2m-2 3h2m-2 5h2m-1-12h2m-2 2h2m-2 1h2m-2 0h2m-2 1h2m-2 0h2m-2 0h2m-1-3h2m-2 2h2m-2 1h2m-2 2h2m-2 0h2m-2 3h2m-1-9h2m-2 3h2m-2 2h2m-2 0h2m-2 2h2m-1-5h2m-2 1h2m-2 3h2m-2 1h2m-2 0h2m-2 2h2m-1-5h2m-2 1h2m-2 0h2m-2 1h2m-2 1h2m-2 1h2m-1-6h2m-2 3h2m-2 1h2m-2 0h2m-2 2h2m-1-6h2m-2 4h2m-1-6h2m-2 2h2m-2 0h2m-2 3h2m-1-6h2m-2 7h2m-1-3h2m-2 0h2m-2 4h2m-1-5h2m-2 6h2m-1-6h2m-2 2h2m-2 3h2m-1-4h2m-2 3h2m-2 2h2m-2 2h2m-1-12h2m-2 5h2m-2 0h2m-2 2h2m-1-1h2m-2 2h2m-1 1h2m-1-1h2m-2 0h2m-1-4h2m-2 1h2m-2 1h2m-2 1h2m-2 1h2m-2 0h2m-2 2h2m-1-11h2m-2 7h2m-1-1h2m-2 1h2m-2 0h2m-2 1h2m-2 1h2m-2 0h2m-1-3h2m-2 1h2m-2 1h2m-2 1h2m-1-4h2m-2 0h2m-2 0h2m-2 1h2m-2 1h2m-2 3h2m-2 1h2m-1-7h2m-2 1h2m-2 3h2m-2 1h2m-2 0h2m-2 2h2m-2 0h2m-1-3h2m-1-1h2m-2 1h2m-2 1h2m-1 0h2m-1-2h2m-2 5h2m-1-7h2m-2 2h2m-2 1h2m-1-2h2m-2 1h2m-2 1h2m-1-3h2m-2 1h2m-2 1h2m-2 2h2m-2 1h2m0-2h2m-1-3h2m-1 7h2m-1-5h2m-2 1h2m1-3h2m-2 1h2m-2 1h2m-2 1h2m-2 1h2m-1-2h2m-2 1h2m-2 1h2m-1 0h2m-2 0h2m-2 0h2m-1-8h2m-2 9h2m-1-1h2m-1 0h2m-2 1h2m-1-3h2m0-3h2m-2 3h2m-1-3h2m-2 1h2m-1 5h2m-1-4h2m-1 2h2m-1-1h2m-1-3h2m-2 5h2m-1-3h2m-1 0h2m-2 6h2m-2 2h2m0-7h2m-1 2h2m0 0h2m0 1h2m-2 1h2m-1-5h2m-1 2h2m-1 0h2m-1-4h2m0 5h2m0 3h2m3-5h2m-1 1h2m-2 2h2m0 0h2m8 1h2m0 2h2m9-7h2m1 1h2m1 0h2m-1 0h2m1-2h2m4 5h2m34-4h2" stroke="#36b436" stroke-width="2" stroke-opacity=".65" fill="none"/><path transform="scale(.5)" filter="url(#bl)" d="M388 625h2m2-3h2m2 4h2m14 4h2m2 0h2m1-2h2m14 3h2m1-5h2m7 4h2m1 0h2m23-8h2m33 2h2m16 3h2m4 3h2m20-4h2m1 6h2m3-1h2m0-5h2" stroke="#e0691a" stroke-width="2" fill="none"/><path transform="scale(.5)" filter="url(#bl)" d="M409 627h2m-1-2h2m4 5h2m4-4h2m-1 2h2m4-5h2m-2 2h2m0 4h2m-1-4h2m4-2h2m1 4h2m1-5h2" stroke="#e0691a" stroke-width="2" fill="none"/><path d="M37 368H334.4" stroke="#c878c8" stroke-width="1.15" fill="none"/><text x="331.4" y="367.4" font-size="2.3" text-anchor="middle" fill="#3a3a3a" textLength="4.8" lengthAdjust="spacingAndGlyphs" font-weight="bold">4000</text><path d="M164.5 290.5V407" stroke="#c77ac7" stroke-width="1.1" fill="none"/><text x="167.9" y="293.1" font-size="2.7" text-anchor="middle" fill="#505050" textLength="4.6" lengthAdjust="spacingAndGlyphs" font-weight="bold">1500</text><path d="M37 290.5H334.4V407H37Z" stroke="#a2a2a2" stroke-width="1" fill="none"/><rect x="376.5" y="291.4" width="131.5" height="115.6" fill="#f9f8f6"/><path d="M392.5 291.4V407M408.5 291.4V407M424.5 291.4V407M441.5 291.4V407M457.5 291.4V407M473.5 291.4V407M489.5 291.4V407M505.5 291.4V407M376.5 396.5H508M376.5 385.5H508M376.5 375.5H508M376.5 364.5H508M376.5 354.5H508M376.5 343.5H508M376.5 333.5H508M376.5 322.5H508M376.5 312.5H508M376.5 301.5H508" stroke="#eeedeb" stroke-width="1" fill="none"/><text x="369.69" y="407.85" font-size="3.1" text-anchor="middle" fill="#1a1a1a" font-weight="bold">0</text><text x="369.69" y="397.34" font-size="3.1" text-anchor="middle" fill="#1a1a1a" font-weight="bold">1000</text><text x="369.69" y="386.83" font-size="3.1" text-anchor="middle" fill="#1a1a1a" font-weight="bold">2000</text><text x="369.69" y="376.32" font-size="3.1" text-anchor="middle" fill="#1a1a1a" font-weight="bold">3000</text><text x="369.69" y="365.81" font-size="3.1" text-anchor="middle" fill="#1a1a1a" font-weight="bold">4000</text><text x="369.69" y="355.3" font-size="3.1" text-anchor="middle" fill="#1a1a1a" font-weight="bold">5000</text><text x="369.69" y="344.8" font-size="3.1" text-anchor="middle" fill="#1a1a1a" font-weight="bold">6000</text><text x="369.69" y="334.29" font-size="3.1" text-anchor="middle" fill="#1a1a1a" font-weight="bold">7000</text><text x="369.69" y="323.78" font-size="3.1" text-anchor="middle" fill="#1a1a1a" font-weight="bold">8000</text><text x="369.69" y="313.27" font-size="3.1" text-anchor="middle" fill="#1a1a1a" font-weight="bold">9000</text><text x="369.69" y="302.76" font-size="3.1" text-anchor="middle" fill="#1a1a1a" font-weight="bold">10000</text><text x="369.69" y="292.25" font-size="3.1" text-anchor="middle" fill="#1a1a1a" font-weight="bold">11000</text><text x="376.5" y="412.65" font-size="3.1" text-anchor="middle" fill="#1a1a1a" font-weight="bold">0</text><text x="392.65" y="412.65" font-size="3.1" text-anchor="middle" fill="#1a1a1a" font-weight="bold">2000</text><text x="408.81" y="412.65" font-size="3.1" text-anchor="middle" fill="#1a1a1a" font-weight="bold">4000</text><text x="424.96" y="412.65" font-size="3.1" text-anchor="middle" fill="#1a1a1a" font-weight="bold">6000</text><text x="441.12" y="412.65" font-size="3.1" text-anchor="middle" fill="#1a1a1a" font-weight="bold">8000</text><text x="457.27" y="412.65" font-size="3.1" text-anchor="middle" fill="#1a1a1a" font-weight="bold">10000</text><text x="473.43" y="412.65" font-size="3.1" text-anchor="middle" fill="#1a1a1a" font-weight="bold">12000</text><text x="489.58" y="412.65" font-size="3.1" text-anchor="middle" fill="#1a1a1a" font-weight="bold">14000</text><text x="505.74" y="412.65" font-size="3.1" text-anchor="middle" fill="#1a1a1a" font-weight="bold">16000</text><path d="M374.9 407h1.6M374.9 396.49h1.6M374.9 385.98h1.6M374.9 375.47h1.6M374.9 364.96h1.6M374.9 354.45h1.6M374.9 343.95h1.6M374.9 333.44h1.6M374.9 322.93h1.6M374.9 312.42h1.6M374.9 301.91h1.6M374.9 291.4h1.6M376.5 407v1.4M392.65 407v1.4M408.81 407v1.4M424.96 407v1.4M441.12 407v1.4M457.27 407v1.4M473.43 407v1.4M489.58 407v1.4M505.74 407v1.4" stroke="#9a9a9a" stroke-width=".7" fill="none"/><text x="435.6" y="287.8" font-size="3.4" text-anchor="middle" fill="#111" textLength="43.4" lengthAdjust="spacingAndGlyphs" font-weight="bold">Ch1 - C04 Pos:1381 Neg:14683</text><text x="442.25" y="417" font-size="3.1" text-anchor="middle" fill="#111" textLength="18.7" lengthAdjust="spacingAndGlyphs" font-weight="bold">Event Number</text><text x="0" y="0" font-size="3.1" font-weight="bold" text-anchor="middle" fill="#111" transform="translate(364.3 349.2) rotate(-90)" textLength="19.3" lengthAdjust="spacingAndGlyphs">Ch1 Amplitude</text><path transform="scale(.5)" filter="url(#bl)" d="M754 603h2m-2 2h2m-2 1h2m-2 2h2m-2 0h2m-2 3h2m-2 1h2m-2 1h2m-1-8h2m-2 5h2m-2 10h2m-1-13h2m-2 2h2m-1 0h2m-2 3h2m-2 0h2m-2 0h2m-2 0h2m-2 1h2m-1-8h2m-2 1h2m-2 6h2m-1-2h2m-1-1h2m-2 5h2m-2 0h2m-1-6h2m-2 7h2m-1-5h2m-2 1h2m-1-2h2m-2 2h2m-2 3h2m-1-9h2m-2 0h2m-2 2h2m-2 1h2m-2 8h2m-1-3h2m-2 0h2m-1-5h2m-2 2h2m-2 1h2m-1 3h2m-2 1h2m-1-5h2m-2 2h2m-2 1h2m-2 4h2m-1-10h2m-2 5h2m-1-4h2m-1 3h2m-2 0h2m-1-1h2m-2 1h2m-2 0h2m-2 1h2m-2 0h2m-2 2h2m-2 0h2m-2 1h2m-1-12h2m-2 7h2m-2 0h2m-2 0h2m-2 0h2m-2 1h2m-2 0h2m-2 0h2m-1-1h2m-2 1h2m-2 6h2m-1-9h2m-2 2h2m-1 1h2m-2 2h2m-1-9h2m-2 5h2m-2 0h2m-2 2h2m-1-4h2m-2 2h2m-2 2h2m-2 4h2m-1-10h2m-2 3h2m-2 1h2m-2 2h2m-2 0h2m-2 0h2m-2 1h2m-1 0h2m-2 2h2m-2 2h2m-1-9h2m-1 0h2m-2 3h2m-2 5h2m-1-8h2m-2 11h2m-1-12h2m-1-2h2m-2 6h2m-2 10h2m-1-9h2m-2 1h2m-1-4h2m-2 2h2m-2 0h2m-2 2h2m-2 1h2m-2 3h2m-2 1h2m-2 0h2m-1-6h2m-2 0h2m-2 0h2m-1-5h2m-2 1h2m-2 3h2m-2 2h2m-2 1h2m-2 0h2m-2 4h2m-1-10h2m-2 3h2m-2 2h2m-2 2h2m-2 1h2m-2 3h2m-1-10h2m-2 0h2m-2 1h2m-2 2h2m-2 1h2m-2 1h2m-1-8h2m-2 5h2m-2 2h2m-1 0h2m-2 0h2m-2 0h2m-1 0h2m-2 1h2m-2 12h2m-1-15h2m-2 2h2m-1-1h2m-2 1h2m-2 0h2m-1-5h2m-2 5h2m-1-5h2m-2 0h2m-2 1h2m-2 2h2m-2 1h2m-2 0h2m-2 1h2m-2 1h2m-2 1h2m-2 0h2m-1-11h2m-2 4h2m-2 1h2m-2 0h2m-2 2h2m-2 2h2m-1-4h2m-2 1h2m-2 2h2m-2 3h2m-1-2h2m-2 3h2m-1-7h2m-2 2h2m-2 3h2m-1-6h2m-2 4h2m-2 16h2m-1-11h2m-1-20h2m-2 14h2m-1-2h2m-2 0h2m-2 2h2m-2 2h2m-2 0h2m-1-3h2m-1 2h2m-2 0h2m-1-3h2m-2 8h2m-1-8h2m-2 1h2m-2 3h2m-2 1h2m-2 1h2m-2 2h2m-1-9h2m-2 1h2m-2 2h2m-2 0h2m-2 1h2m-2 4h2m-1-8h2m-2 3h2m-2 2h2m-1-5h2m-2 1h2m-2 4h2m-2 2h2m-2 1h2m-1-7h2m-2 0h2m-2 1h2m-2 10h2m-1-13h2m-2 1h2m-1 0h2m-2 1h2m-2 2h2m-2 2h2m-2 0h2m-2 2h2m-1-9h2m-2 4h2m-2 3h2m-2 3h2m-1-8h2m-2 1h2m0-2h2m-2 2h2m-2 2h2m-2 1h2m-2 0h2m-1-1h2m-2 2h2m-2 1h2m-2 1h2m-2 1h2m-1-5h2m-2 1h2m-2 3h2m-1-5h2m-2 0h2m-2 1h2m-2 0h2m-2 0h2m-2 1h2m-1-7h2m-2 8h2m-2 5h2m-1-6h2m-2 1h2m-2 2h2m0-3h2m-2 1h2m-2 1h2m-1-11h2m-2 12h2m-2 0h2m-1-6h2m-2 7h2m-2 4h2m-2 5h2m-1-15h2m-2 2h2m-2 2h2m-2 0h2m-2 2h2m-2 1h2m-1-7h2m-2 0h2m-2 5h2m-1-10h2m-2 6h2m-2 1h2m-2 1h2m-2 4h2m-2 1h2m-1-9h2m-2 0h2m-2 1h2m-2 2h2m-1-2h2m-2 5h2m-2 4h2m0-8h2m-2 1h2m-2 1h2m-2 0h2m-1-1h2m-2 3h2m-2 0h2m-2 2h2m-1-6h2m-2 9h2m-1-17h2m-2 13h2m-1-8h2m-2 0h2m-2 6h2m-2 2h2m-1-7h2m-2 1h2m-2 2h2m-2 0h2m-2 5h2m-2 4h2m-1-12h2m-2 1h2m-2 4h2m-2 8h2m-1-19h2m-2 4h2m-2 6h2m-2 13h2m0-18h2m-2 2h2m-2 5h2m-1-8h2m-2 12h2m-1-8h2m-2 1h2m-2 0h2m-2 3h2m-2 6h2m-1-10h2m-2 6h2m-2 3h2m-1-12h2m-2 7h2m-2 1h2m-1-9h2m-2 2h2m-2 5h2m-2 1h2m-2 1h2m-1-7h2m-2 5h2m-2 3h2m-1-7h2m-2 1h2m-2 1h2m-2 0h2m-2 0h2m-2 3h2m-2 1h2m-2 2h2m-1-3h2m-1-7h2m-2 5h2m-2 0h2m-2 1h2m-2 0h2m-2 0h2m-2 4h2m-2 0h2m0-8h2m-2 3h2m-2 6h2m-1-9h2m-2 1h2m-2 2h2m-2 5h2m-1-9h2m-2 1h2m-2 1h2m-2 2h2m-2 1h2m-1-11h2m-2 10h2m-2 2h2m-2 2h2m-1-3h2m-1-4h2m-2 4h2m-2 1h2m-1-3h2m-1-7h2m-2 2h2m-2 0h2m-2 6h2m-2 3h2m-1-7h2m-2 0h2m-2 6h2m-2 0h2m-2 1h2m-1-8h2m-2 0h2m-2 4h2m-2 1h2m-2 2h2m-1-6h2m-2 1h2m-2 3h2m-2 0h2m-2 1h2m-2 4h2m-1-4h2m-2 2h2m-1-7h2m-2 2h2m-2 2h2m-2 2h2m-1-12h2m-2 3h2m-2 4h2m-2 0h2m-2 3h2m-2 1h2m-1 1h2m-2 1h2m-2 9h2m-1-15h2m-2 1h2m-1-1h2m-2 4h2m-2 2h2m-2 2h2m-2 1h2m-1-9h2m0 3h2m-2 4h2m-1-11h2m-2 5h2m-2 3h2m-2 1h2m-1-4h2m-1 1h2m-2 2h2m-2 1h2m-2 1h2m-2 0h2m-2 3h2m-1-3h2m-1-4h2m-2 0h2m-2 3h2m-1-3h2m-2 2h2m-2 0h2m-2 1h2m-1-5h2m-2 1h2m-2 2h2m-2 2h2m-2 1h2m-2 0h2m-1-8h2m-2 5h2m-2 2h2m-1-6h2m-2 1h2m-2 3h2m-2 0h2m-2 3h2m-1-3h2m-2 1h2m-1-4h2m-2 1h2m-2 1h2m-2 0h2m-2 2h2m-2 2h2m-2 3h2m-1-8h2m-2 1h2m-2 2h2m-1-8h2m-2 3h2m-2 5h2m-1-2h2m-2 3h2m-1-13h2m-2 8h2m-2 5h2m-2 1h2m-1-7h2m-2 0h2m-2 1h2m-2 5h2m-2 1h2m-1-6h2m-2 2h2m-2 2h2m-1-10h2m-2 5h2m-2 2h2m-2 2h2m-2 1h2m-1-5h2m-2 1h2m-2 2h2m-2 5h2m-2 2h2m-1-10h2m-2 0h2m-2 1h2m-2 3h2m-2 1h2m-2 0h2m-2 4h2m-2 1h2m-1-10h2m-2 1h2m-2 1h2m-2 2h2m-2 0h2m-2 2h2m-2 3h2m-1-4h2m-2 5h2m-1-6h2m-2 0h2m-2 2h2m-1-1h2m-2 3h2m-2 3h2m-1-9h2m-2 5h2m-2 1h2m-2 4h2m-1-9h2m-2 0h2m-2 1h2m-2 1h2m-2 2h2m-2 3h2m-1-6h2m-2 6h2m-1-11h2m-2 5h2m-2 1h2m-2 1h2m-2 2h2m-1-8h2m-2 2h2m-2 4h2m-2 1h2m-2 1h2m-1-18h2m-2 13h2m-2 1h2m-2 3h2m0-7h2m-2 2h2m-2 1h2m-1-2h2m-2 6h2m-1-12h2m-2 6h2m-2 2h2m-2 0h2m-2 0h2m-2 0h2m-2 1h2m-2 4h2m-2 0h2m-1-3h2m-2 4h2m-1-7h2m-2 1h2m-2 1h2m-2 0h2m-1-3h2m-2 4h2m-2 2h2m-2 0h2m-2 1h2m-1-10h2m-2 4h2m-2 4h2m-2 1h2m-2 5h2m-1-12h2m-2 3h2m-2 5h2m-1-7h2m-2 1h2m-2 7h2m-1-5h2m-2 1h2m-1-5h2m-2 0h2m-2 3h2m-2 1h2m-2 1h2m-2 2h2m-2 3h2m-2 5h2m-1-15h2m-2 4h2m-2 2h2m-2 2h2m-1-7h2m-2 4h2m-2 2h2m-1-7h2m-2 1h2m-2 2h2m-2 6h2m-2 1h2m-2 2h2m-1-9h2m-1-1h2m-2 2h2m-2 2h2m-2 6h2m-1-9h2m-2 6h2m-1-11h2m-2 5h2m-2 2h2m-2 0h2m-2 3h2m-1-14h2m-2 3h2m-2 10h2m-1-4h2m-2 2h2m-2 0h2m-2 2h2m-2 2h2m-1-6h2m-2 1h2m-2 2h2m-2 0h2m-2 1h2m-2 1h2m-1-5h2m-2 5h2m-1-14h2m-2 12h2m-2 3h2m-1-10h2m-2 2h2m-2 4h2m-2 0h2m-2 1h2m-2 2h2m-1-8h2m-2 1h2m-2 2h2m-2 3h2m-2 0h2m-2 2h2m-2 0h2m-1-11h2m-2 5h2m-2 1h2m-2 1h2m-2 0h2m-2 1h2m-2 0h2m-2 1h2m-2 2h2m-2 0h2m-1-4h2m-1-3h2m-2 7h2m-1-3h2m-2 2h2m-1-8h2m-2 12h2m-1-13h2m-1-1h2m-2 5h2m-2 3h2m-2 3h2m-2 0h2m-1-4h2m-2 2h2m-2 1h2m-1-3h2m-2 2h2m-2 0h2m-2 12h2m-1-20h2m-2 5h2m-2 4h2m-1-4h2m-2 0h2m-2 3h2m-2 0h2m-2 0h2m-1-3h2m-2 0h2m-2 4h2m-2 2h2m-1-10h2m-2 3h2m-2 1h2m-2 1h2m-1-4h2m-2 2h2m-2 3h2m-2 1h2m-2 3h2m-1-5h2m-2 0h2m-2 1h2m-1-3h2m-2 6h2m-1-7h2m-2 5h2m-2 0h2m-2 1h2m-1-1h2m-2 1h2m-1-7h2m-1 3h2m-2 2h2m-1-4h2m-2 5h2m-1-1h2m-1-3h2m-2 10h2m-1-6h2m-2 2h2m-1-6h2m-2 1h2m-2 0h2m-2 1h2m-2 7h2m-1-5h2m-2 0h2m-2 4h2m-1-10h2m-2 4h2m-2 0h2m-2 1h2m-2 0h2m-2 1h2m-1-4h2m-2 2h2m-1-2h2m-1-1h2m-2 2h2m-2 1h2m-2 0h2m-2 2h2m-2 1h2m-2 2h2m-1-8h2m-2 0h2m-2 0h2m-2 4h2m-2 1h2m-1-3h2m-2 0h2m-2 2h2m-2 4h2m-1-8h2m-2 8h2m-1-5h2m-2 2h2m-1-5h2m-2 2h2m-2 2h2m-2 5h2m-1-10h2m-2 1h2m-2 2h2m-2 2h2m-2 3h2m-1-2h2m-2 2h2m-2 3h2m-1-7h2m-2 3h2m-1-7h2m-2 3h2m-2 1h2m-2 1h2m-2 1h2m-2 1h2m-2 0h2m-2 1h2m-2 3h2m-1-12h2m-2 5h2m-2 9h2m-1-10h2m-2 2h2m-2 0h2m-2 3h2m-1-4h2m-2 1h2m-2 1h2m-1-5h2m-2 1h2m-2 4h2m-2 1h2m-1-3h2m-2 1h2m-2 0h2m-2 0h2m-1-3h2m-2 2h2m-2 0h2m-2 5h2m-1-8h2m-2 1h2m-2 3h2m-2 2h2m-2 1h2m-1-4h2m-2 1h2m-2 2h2m-1-9h2m-1 9h2m-2 5h2m-2 6h2m-1-16h2m-2 2h2m-1-5h2m-2 3h2m-2 4h2m-2 2h2m-2 0h2m-2 3h2m-1-13h2m-2 4h2m-2 3h2m-2 0h2m-2 2h2m-1-5h2m-2 2h2m-2 1h2m-1 0h2m-2 2h2m-1-6h2m-2 1h2m-2 2h2m-2 3h2m-1-9h2m-2 3h2m-2 0h2m-2 3h2m-2 0h2m-2 0h2m-2 15h2m-1-14h2m-2 2h2m-2 2h2m-1-1h2m-1-6h2m-2 4h2m-1-1h2m-2 1h2m-2 0h2m-2 0h2m-2 2h2m-2 2h2m-1-10h2m-2 4h2m-2 5h2m-1-6h2m-2 1h2m-2 0h2m-2 3h2m-1-3h2m-2 0h2m-2 2h2m-1-5h2m-2 0h2m-2 2h2m-2 0h2m-2 1h2m-2 1h2m-2 1h2m-2 2h2m-2 1h2m-2 2h2m-2 0h2m-1-11h2m-2 3h2m-2 0h2m-1-4h2m-2 9h2m-2 4h2m-1-7h2m-2 4h2m-2 1h2m-1-9h2m-2 3h2m-2 2h2m-1-3h2m-2 1h2m-2 0h2m-2 0h2m-2 6h2m-1-6h2m-2 0h2m-2 4h2m-1-3h2m-1-3h2m-2 0h2m-2 8h2m-2 0h2m-1-3h2m-2 3h2m-1-5h2m-2 1h2m-1-7h2m-2 5h2m-2 4h2m-2 0h2m-1-3h2m-2 3h2m-2 1h2m-1-5h2m-2 2h2m-2 0h2m-2 2h2m-1-7h2m-2 1h2m-2 1h2m-2 1h2m-2 1h2m-2 1h2m-2 3h2m-2 2h2m-1-9h2m-2 0h2m-2 2h2m-2 0h2m-2 2h2m-1 1h2m-1 5h2m-1-10h2m-2 0h2m-2 4h2m-2 2h2" stroke="#2e62b5" stroke-width="2" stroke-opacity=".75" fill="none"/><path transform="scale(.5)" filter="url(#bl)" d="M768 652h2m13 67h2m3-67h2m3 11h2m18-22h2m23 72h2m3-69h2m-1 52h2m3-13h2m0 26h2m4-65h2m4-13h2m16 26h2m-1 63h2m15-78h2m0-3h2m10 80h2m-1-84h2m-2 17h2m1 73h2m2-45h2m6 8h2m2 17h2m6-6h2m7-61h2m-1 5h2m14 50h2m0-60h2m6 61h2m4-22h2m16 3h2m2 42h2m-1-6h2m1 4h2" stroke="#2e62b5" stroke-width="2" fill="none"/><path transform="scale(.5)" filter="url(#bl)" d="M754 739h2m-2 3h2m-2 2h2m-2 0h2m-2 4h2m-1-12h2m-2 3h2m-2 0h2m-2 3h2m-2 0h2m-2 1h2m-2 0h2m-2 1h2m-2 1h2m-2 0h2m-2 0h2m-2 2h2m-2 0h2m-2 0h2m-2 1h2m-1-8h2m-2 1h2m-2 1h2m-2 1h2m-2 0h2m-2 3h2m-2 0h2m-2 2h2m-1-9h2m-2 0h2m-2 2h2m-2 1h2m-2 1h2m-2 1h2m-2 0h2m-2 0h2m-2 2h2m-2 0h2m-2 1h2m-1-7h2m-2 1h2m-2 0h2m-2 0h2m-2 0h2m-2 1h2m-2 2h2m-2 0h2m-2 1h2m-2 1h2m-2 1h2m-2 0h2m-2 1h2m-1-10h2m-2 2h2m-2 0h2m-2 1h2m-2 0h2m-2 0h2m-2 1h2m-2 1h2m-2 0h2m-2 0h2m-2 1h2m-2 1h2m-2 1h2m-2 2h2m-2 0h2m-1-8h2m-2 0h2m-2 1h2m-2 1h2m-2 1h2m-2 1h2m-2 2h2m-2 1h2m-2 2h2m-2 0h2m-1-12h2m-2 2h2m-2 3h2m-2 0h2m-2 1h2m-2 1h2m-2 2h2m-2 1h2m-2 0h2m-2 1h2m-1-8h2m-2 1h2m-2 1h2m-2 0h2m-2 2h2m-2 0h2m-2 1h2m-1-7h2m-2 0h2m-2 2h2m-2 0h2m-2 2h2m-2 0h2m-2 0h2m-2 0h2m-2 2h2m-2 1h2m-2 0h2m-2 1h2m-2 0h2m-1-6h2m-2 0h2m-2 1h2m-2 2h2m-2 0h2m-2 0h2m-2 0h2m-2 1h2m-2 0h2m-2 1h2m-2 0h2m-2 1h2m-2 4h2m-1-14h2m-2 0h2m-2 3h2m-2 0h2m-2 1h2m-2 0h2m-2 2h2m-2 0h2m-2 0h2m-2 2h2m-2 2h2m-2 1h2m-2 0h2m-1-10h2m-2 2h2m-2 1h2m-2 1h2m-2 5h2m-2 0h2m-2 1h2m-1-9h2m-2 0h2m-2 1h2m-2 1h2m-2 0h2m-2 1h2m-2 0h2m-2 1h2m-2 0h2m-2 1h2m-2 0h2m-2 0h2m-2 1h2m-2 0h2m-2 1h2m-2 3h2m-1-10h2m-2 2h2m-2 0h2m-2 0h2m-2 1h2m-2 1h2m-2 1h2m-2 0h2m-2 2h2m-2 0h2m-2 0h2m-2 5h2m-1-9h2m-2 1h2m-2 0h2m-2 1h2m-2 2h2m-2 1h2m-2 0h2m-2 1h2m-2 1h2m-1-9h2m-2 0h2m-2 2h2m-2 1h2m-2 0h2m-2 1h2m-2 1h2m-2 0h2m-2 0h2m-2 1h2m-2 0h2m-2 1h2m-2 2h2m-1-10h2m-2 0h2m-2 1h2m-2 0h2m-2 3h2m-2 1h2m-2 0h2m-2 0h2m-2 1h2m-2 0h2m-2 0h2m-2 2h2m-2 1h2m-1-9h2m-2 0h2m-2 1h2m-2 1h2m-2 0h2m-2 1h2m-2 2h2m-2 1h2m-2 1h2m-2 1h2m-2 0h2m-2 0h2m-2 1h2m-2 1h2m-2 0h2m-1-10h2m-2 2h2m-2 1h2m-2 1h2m-2 0h2m-2 1h2m-2 1h2m-2 0h2m-2 0h2m-2 1h2m-2 0h2m-2 1h2m-2 0h2m-2 0h2m-2 0h2m-2 2h2m-2 0h2m-1-10h2m-2 1h2m-2 0h2m-2 0h2m-2 0h2m-2 0h2m-2 0h2m-2 3h2m-2 0h2m-2 2h2m-2 1h2m-2 0h2m-2 1h2m-2 1h2m-2 1h2m-1-10h2m-2 1h2m-2 1h2m-2 2h2m-2 0h2m-2 0h2m-2 0h2m-2 1h2m-2 0h2m-2 2h2m-2 0h2m-2 0h2m-2 2h2m-1-9h2m-2 0h2m-2 1h2m-2 4h2m-2 0h2m-2 4h2m-2 1h2m-2 0h2m-1-9h2m-2 0h2m-2 0h2m-2 1h2m-2 1h2m-2 0h2m-2 1h2m-2 2h2m-2 0h2m-2 0h2m-2 0h2m-2 1h2m-2 2h2m-1-8h2m-2 0h2m-2 1h2m-2 4h2m-2 0h2m-2 1h2m-2 1h2m-2 1h2m-2 1h2m-2 1h2m-1-12h2m-2 1h2m-2 1h2m-2 1h2m-2 0h2m-2 1h2m-2 1h2m-2 1h2m-2 0h2m-2 0h2m-2 1h2m-2 0h2m-2 3h2m-1-10h2m-2 2h2m-2 1h2m-2 1h2m-2 0h2m-2 2h2m-2 0h2m-2 1h2m-2 0h2m-2 3h2m-2 1h2m-1-8h2m-2 1h2m-2 2h2m-2 0h2m-2 2h2m-2 0h2m-2 1h2m-2 0h2m-2 1h2m-2 1h2m-1-12h2m-2 2h2m-2 0h2m-2 2h2m-2 0h2m-2 0h2m-2 1h2m-2 1h2m-2 0h2m-2 1h2m-2 1h2m-2 0h2m-2 3h2m-2 0h2m-2 2h2m-1-11h2m-2 0h2m-2 1h2m-2 0h2m-2 2h2m-2 0h2m-2 2h2m-2 1h2m-2 0h2m-2 0h2m-2 1h2m-2 0h2m-2 1h2m-2 1h2m-1-8h2m-2 1h2m-2 1h2m-2 0h2m-2 1h2m-2 0h2m-2 0h2m-2 3h2m-2 1h2m-2 3h2m-1-11h2m-2 1h2m-2 2h2m-2 1h2m-2 3h2m-2 1h2m-2 0h2m-2 1h2m-2 1h2m-2 0h2m-1-10h2m-2 1h2m-2 3h2m-2 1h2m-2 0h2m-2 1h2m-2 1h2m-2 1h2m-2 2h2m-1-9h2m-2 0h2m-2 2h2m-2 0h2m-2 1h2m-2 0h2m-2 0h2m-2 1h2m-2 0h2m-2 0h2m-2 0h2m-2 2h2m-2 1h2m-2 2h2m-1-9h2m-2 1h2m-2 1h2m-2 1h2m-2 0h2m-2 0h2m-2 2h2m-2 2h2m-2 0h2m-1-8h2m-2 0h2m-2 0h2m-2 1h2m-2 1h2m-2 0h2m-2 1h2m-2 1h2m-2 1h2m-2 4h2m-1-10h2m-2 1h2m-2 0h2m-2 1h2m-2 0h2m-2 0h2m-2 0h2m-2 1h2m-2 2h2m-2 0h2m-2 1h2m-2 1h2m-2 1h2m-2 0h2m-2 0h2m-2 1h2m-2 1h2m-2 1h2m-1-9h2m-2 1h2m-2 0h2m-2 1h2m-2 0h2m-2 1h2m-2 1h2m-2 0h2m-2 1h2m-2 0h2m-2 0h2m-2 1h2m-2 1h2m-2 0h2m-2 0h2m-2 0h2m-2 1h2m-2 1h2m-2 2h2m-1-14h2m-2 2h2m-2 3h2m-2 0h2m-2 0h2m-2 3h2m-2 0h2m-2 0h2m-2 1h2m-2 1h2m-2 1h2m-2 0h2m-2 1h2m-2 0h2m-1-10h2m-2 1h2m-2 0h2m-2 1h2m-2 0h2m-2 1h2m-2 3h2m-2 0h2m-2 1h2m-2 0h2m-2 1h2m-2 1h2m-2 0h2m-2 0h2m-2 2h2m-2 1h2m-1-12h2m-2 0h2m-2 1h2m-2 1h2m-2 0h2m-2 1h2m-2 1h2m-2 0h2m-2 2h2m-2 0h2m-2 2h2m-2 0h2m-2 1h2m-2 1h2m-2 1h2m-2 1h2m-1-11h2m-2 1h2m-2 1h2m-2 0h2m-2 0h2m-2 2h2m-2 2h2m-2 0h2m-2 1h2m-2 0h2m-2 1h2m-2 0h2m-2 0h2m-1-6h2m-2 1h2m-2 0h2m-2 1h2m-2 2h2m-2 1h2m-2 0h2m-2 1h2m-2 1h2m-1-11h2m-2 2h2m-2 1h2m-2 0h2m-2 4h2m-2 0h2m-2 1h2m-2 0h2m-2 1h2m-2 1h2m-2 0h2m-2 2h2m-1-15h2m-2 4h2m-2 0h2m-2 1h2m-2 2h2m-2 2h2m-2 0h2m-2 1h2m-2 0h2m-2 0h2m-2 1h2m-2 0h2m-2 1h2m-2 0h2m-2 1h2m-1-10h2m-2 2h2m-2 2h2m-2 2h2m-2 0h2m-2 1h2m-2 2h2m-2 2h2m-1-9h2m-2 0h2m-2 0h2m-2 0h2m-2 2h2m-2 0h2m-2 3h2m-2 1h2m-2 0h2m-2 1h2m-1-9h2m-2 2h2m-2 3h2m-2 1h2m-2 0h2m-2 1h2m-2 0h2m-2 0h2m-2 0h2m-2 2h2m-2 1h2m-2 0h2m-2 0h2m-2 1h2m-2 1h2m-1-11h2m-2 0h2m-2 2h2m-2 1h2m-2 1h2m-2 0h2m-2 0h2m-2 2h2m-2 1h2m-2 0h2m-2 0h2m-2 1h2m-2 1h2m-2 2h2m-1-12h2m-2 2h2m-2 0h2m-2 1h2m-2 1h2m-2 1h2m-2 0h2m-2 0h2m-2 2h2m-2 0h2m-2 1h2m-1-7h2m-2 1h2m-2 1h2m-2 2h2m-2 2h2m-2 0h2m-2 1h2m-2 2h2m-2 0h2m-2 1h2m-2 1h2m-2 0h2m-2 1h2m-1-11h2m-2 1h2m-2 0h2m-2 2h2m-2 0h2m-2 0h2m-2 1h2m-2 0h2m-2 0h2m-2 1h2m-2 1h2m-2 0h2m-2 0h2m-2 0h2m-2 1h2m-2 0h2m-2 3h2m-1-11h2m-2 0h2m-2 1h2m-2 3h2m-2 1h2m-2 0h2m-2 0h2m-2 1h2m-2 1h2m-2 3h2m-2 0h2m-2 2h2m-1-10h2m-2 0h2m-2 1h2m-2 0h2m-2 1h2m-2 0h2m-2 1h2m-2 0h2m-2 1h2m-2 0h2m-2 1h2m-2 0h2m-2 0h2m-2 1h2m-2 0h2m-2 1h2m-2 0h2m-2 1h2m-1-10h2m-2 3h2m-2 0h2m-2 1h2m-2 1h2m-2 0h2m-2 0h2m-2 1h2m-2 0h2m-2 1h2m-2 1h2m-2 0h2m-2 2h2m-2 0h2m-2 1h2m-2 1h2m-1-13h2m-2 2h2m-2 2h2m-2 1h2m-2 0h2m-2 0h2m-2 2h2m-2 0h2m-2 0h2m-2 1h2m-1-6h2m-2 0h2m-2 1h2m-2 1h2m-2 1h2m-2 0h2m-2 2h2m-2 0h2m-2 1h2m-2 0h2m-2 1h2m-2 0h2m-2 0h2m-2 1h2m-2 0h2m-2 0h2m-2 1h2m-2 0h2m-1-10h2m-2 0h2m-2 1h2m-2 1h2m-2 1h2m-2 0h2m-2 1h2m-2 0h2m-2 0h2m-2 1h2m-2 0h2m-2 1h2m-2 1h2m-1-7h2m-2 1h2m-2 0h2m-2 0h2m-2 1h2m-2 0h2m-2 0h2m-2 0h2m-2 0h2m-2 0h2m-2 1h2m-2 0h2m-2 0h2m-2 1h2m-2 0h2m-2 0h2m-2 1h2m-2 0h2m-2 1h2m-2 1h2m-2 1h2m-2 0h2m-2 0h2m-2 0h2m-2 2h2m-2 1h2m-1-11h2m-2 1h2m-2 0h2m-2 1h2m-2 1h2m-2 0h2m-2 0h2m-2 1h2m-2 1h2m-2 1h2m-2 0h2m-2 1h2m-2 0h2m-2 1h2m-2 0h2m-2 0h2m-2 0h2m-2 1h2m-2 3h2m-2 0h2m-1-11h2m-2 0h2m-2 2h2m-2 0h2m-2 1h2m-2 1h2m-2 0h2m-2 0h2m-2 0h2m-2 2h2m-2 0h2m-2 1h2m-2 1h2m-1-10h2m-2 1h2m-2 2h2m-2 0h2m-2 2h2m-2 0h2m-2 2h2m-2 0h2m-2 1h2m-2 0h2m-2 1h2m-2 1h2m-2 3h2m-1-10h2m-2 0h2m-2 0h2m-2 2h2m-2 0h2m-2 1h2m-2 1h2m-2 1h2m-2 2h2m-2 0h2m-2 1h2m-1-11h2m-2 1h2m-2 3h2m-2 3h2m-2 1h2m-2 0h2m-2 1h2m-2 1h2m-1-12h2m-2 4h2m-2 0h2m-2 2h2m-2 2h2m-2 1h2m-2 1h2m-2 1h2m-2 1h2m-2 0h2m-2 1h2m-1-7h2m-2 0h2m-2 1h2m-2 1h2m-2 0h2m-2 0h2m-2 1h2m-2 1h2m-2 1h2m-2 1h2m-2 2h2m-2 1h2m-2 0h2m-1-11h2m-2 1h2m-2 1h2m-2 0h2m-2 1h2m-2 3h2m-2 1h2m-2 0h2m-2 1h2m-2 1h2m-1-10h2m-2 1h2m-2 1h2m-2 2h2m-2 1h2m-2 0h2m-2 1h2m-2 0h2m-2 2h2m-2 0h2m-2 3h2m-2 1h2m-1-11h2m-2 2h2m-2 2h2m-2 0h2m-2 0h2m-2 1h2m-2 0h2m-2 1h2m-2 0h2m-2 0h2m-2 0h2m-2 1h2m-2 1h2m-2 0h2m-2 2h2m-2 0h2m-2 2h2m-1-11h2m-2 3h2m-2 0h2m-2 2h2m-2 0h2m-2 1h2m-2 2h2m-2 1h2m-2 0h2m-1-10h2m-2 0h2m-2 1h2m-2 1h2m-2 0h2m-2 1h2m-2 0h2m-2 0h2m-2 1h2m-2 0h2m-2 1h2m-2 0h2m-2 1h2m-2 1h2m-2 0h2m-2 1h2m-2 1h2m-1-8h2m-2 0h2m-2 2h2m-2 0h2m-2 1h2m-2 0h2m-2 0h2m-2 0h2m-2 1h2m-2 1h2m-2 1h2m-1-9h2m-2 4h2m-2 0h2m-2 0h2m-2 0h2m-2 0h2m-2 1h2m-2 0h2m-2 1h2m-2 0h2m-2 1h2m-2 1h2m-2 1h2m-2 1h2m-2 0h2m-2 0h2m-2 1h2m-1-8h2m-2 1h2m-2 2h2m-2 0h2m-2 1h2m-2 0h2m-2 0h2m-2 0h2m-2 0h2m-2 1h2m-2 1h2m-2 1h2m-2 2h2m-1-9h2m-2 0h2m-2 1h2m-2 0h2m-2 0h2m-2 1h2m-2 1h2m-2 1h2m-2 1h2m-2 1h2m-2 0h2m-2 4h2m-2 1h2m-1-12h2m-2 0h2m-2 1h2m-2 0h2m-2 0h2m-2 1h2m-2 1h2m-2 1h2m-2 2h2m-2 0h2m-2 1h2m-2 0h2m-2 0h2m-2 1h2m-1-9h2m-2 1h2m-2 0h2m-2 2h2m-2 0h2m-2 0h2m-2 1h2m-2 0h2m-2 1h2m-2 1h2m-2 1h2m-2 1h2m-2 0h2m-2 0h2m-2 1h2m-2 1h2m-1-9h2m-2 0h2m-2 1h2m-2 0h2m-2 3h2m-2 1h2m-2 0h2m-2 1h2m-2 1h2m-2 1h2m-2 1h2m-1-10h2m-2 2h2m-2 0h2m-2 1h2m-2 1h2m-2 2h2m-2 1h2m-2 1h2m-2 0h2m-2 1h2m-2 0h2m-1-9h2m-2 3h2m-2 0h2m-2 1h2m-2 1h2m-2 1h2m-2 0h2m-2 1h2m-2 0h2m-2 0h2m-2 0h2m-2 0h2m-2 1h2m-2 0h2m-2 1h2m-1-12h2m-2 5h2m-2 1h2m-2 0h2m-2 0h2m-2 1h2m-2 0h2m-2 0h2m-2 1h2m-2 0h2m-2 0h2m-2 0h2m-2 1h2m-2 0h2m-2 1h2m-2 1h2m-2 1h2m-2 0h2m-2 1h2m-1-9h2m-2 1h2m-2 0h2m-2 1h2m-2 0h2m-2 0h2m-2 1h2m-2 1h2m-2 1h2m-2 0h2m-2 1h2m-2 1h2m-2 0h2m-2 1h2m-2 1h2m-1-24h2m-2 15h2m-2 2h2m-2 1h2m-2 1h2m-2 0h2m-2 1h2m-2 0h2m-2 0h2m-2 2h2m-2 0h2m-2 2h2m-1-14h2m-2 4h2m-2 0h2m-2 2h2m-2 4h2m-2 0h2m-2 1h2m-2 2h2m-1-9h2m-2 1h2m-2 1h2m-2 0h2m-2 2h2m-2 1h2m-2 1h2m-2 0h2m-2 0h2m-2 0h2m-2 2h2m-2 2h2m-2 0h2m-1-6h2m-2 2h2m-2 0h2m-2 1h2m-2 0h2m-2 2h2m-2 0h2m-2 0h2m-1-5h2m-2 0h2m-2 1h2m-2 0h2m-2 0h2m-2 2h2m-2 1h2m-2 0h2m-2 0h2m-2 0h2m-2 1h2m-2 0h2m-2 0h2m-2 0h2m-2 0h2m-2 0h2m-2 2h2m-1-9h2m-2 0h2m-2 1h2m-2 0h2m-2 1h2m-2 1h2m-2 0h2m-2 2h2m-2 0h2m-2 0h2m-2 1h2m-2 2h2m-2 0h2m-1-9h2m-2 2h2m-2 0h2m-2 0h2m-2 1h2m-2 2h2m-2 1h2m-2 0h2m-2 2h2m-2 1h2m-2 0h2m-2 1h2m-2 0h2m-1-8h2m-2 1h2m-2 0h2m-2 0h2m-2 0h2m-2 1h2m-2 2h2m-2 0h2m-2 1h2m-2 1h2m-1-8h2m-2 0h2m-2 0h2m-2 2h2m-2 0h2m-2 0h2m-2 2h2m-2 0h2m-2 0h2m-2 1h2m-2 0h2m-2 2h2m-2 1h2m-2 0h2m-1-10h2m-2 4h2m-2 0h2m-2 4h2m-2 0h2m-2 1h2m-2 0h2m-2 1h2m-2 0h2m-2 0h2m-2 1h2m-1-11h2m-2 4h2m-2 0h2m-2 1h2m-2 0h2m-2 0h2m-2 0h2m-2 0h2m-2 1h2m-2 0h2m-2 0h2m-2 1h2m-2 0h2m-2 1h2m-2 0h2m-2 2h2m-2 1h2m-1-11h2m-2 0h2m-2 3h2m-2 1h2m-2 2h2m-2 0h2m-2 2h2m-2 1h2m-2 1h2m-1-7h2m-2 2h2m-2 1h2m-2 0h2m-2 0h2m-2 1h2m-2 0h2m-2 1h2m-2 0h2m-2 0h2m-2 1h2m-2 0h2m-2 1h2m-2 0h2m-2 1h2m-2 1h2m-1-11h2m-2 1h2m-2 0h2m-2 1h2m-2 3h2m-2 1h2m-1-5h2m-2 0h2m-2 0h2m-2 0h2m-2 0h2m-2 2h2m-2 0h2m-2 0h2m-2 2h2m-2 1h2m-2 0h2m-2 1h2m-2 0h2m-2 1h2m-2 0h2m-2 0h2m-2 1h2m-2 1h2m-1-8h2m-2 0h2m-2 1h2m-2 1h2m-2 0h2m-2 0h2m-2 0h2m-2 1h2m-2 1h2m-2 0h2m-2 1h2m-2 0h2m-2 1h2m-2 0h2m-2 2h2m-1-12h2m-2 3h2m-2 1h2m-2 2h2m-2 2h2m-2 0h2m-2 2h2m-2 1h2m-2 0h2m-1-7h2m-2 1h2m-2 0h2m-2 0h2m-2 1h2m-2 1h2m-2 1h2m-2 2h2m-2 1h2m-2 2h2m-1-9h2m-2 0h2m-2 0h2m-2 1h2m-2 0h2m-2 1h2m-2 0h2m-2 1h2m-2 0h2m-2 0h2m-2 0h2m-2 1h2m-2 0h2m-2 1h2m-2 2h2m-2 0h2m-2 2h2m-2 0h2m-1-10h2m-2 0h2m-2 1h2m-2 4h2m-2 0h2m-2 0h2m-2 3h2m-2 0h2m-2 0h2m-2 1h2m-1-10h2m-2 3h2m-2 1h2m-2 0h2m-2 0h2m-2 1h2m-2 3h2m-2 0h2m-2 0h2m-2 2h2m-2 0h2m-1-10h2m-2 1h2m-2 0h2m-2 2h2m-2 1h2m-2 0h2m-2 1h2m-2 0h2m-2 0h2m-2 1h2m-2 0h2m-2 1h2m-2 1h2m-2 1h2m-2 0h2m-1-6h2m-2 0h2m-2 0h2m-2 0h2m-2 0h2m-2 1h2m-2 0h2m-2 2h2m-2 2h2m-2 1h2m-2 3h2m-1-11h2m-2 1h2m-2 3h2m-2 1h2m-2 1h2m-2 0h2m-2 1h2m-2 1h2m-2 2h2m-1-9h2m-2 1h2m-2 0h2m-2 0h2m-2 1h2m-2 0h2m-2 0h2m-2 1h2m-2 0h2m-2 0h2m-2 2h2m-2 1h2m-2 0h2m-2 0h2m-2 1h2m-2 1h2m-1-10h2m-2 1h2m-2 1h2m-2 1h2m-2 0h2m-2 0h2m-2 1h2m-2 0h2m-2 2h2m-2 1h2m-2 0h2m-2 0h2m-2 0h2m-2 0h2m-2 0h2m-2 1h2m-2 2h2m-2 0h2m-2 1h2m-2 1h2m-1-10h2m-2 1h2m-2 1h2m-2 0h2m-2 2h2m-2 0h2m-2 0h2m-2 1h2m-2 1h2m-2 0h2m-2 1h2m-2 0h2m-2 1h2m-1-10h2m-2 0h2m-2 1h2m-2 1h2m-2 1h2m-2 1h2m-2 1h2m-2 0h2m-2 0h2m-2 1h2m-2 0h2m-2 0h2m-2 4h2m-2 0h2m-1-11h2m-2 1h2m-2 0h2m-2 2h2m-2 0h2m-2 3h2m-2 0h2m-2 0h2m-2 1h2m-2 1h2m-2 0h2m-2 0h2m-2 0h2m-2 1h2m-2 1h2m-2 0h2m-2 1h2m-2 1h2m-1-8h2m-2 0h2m-2 1h2m-2 0h2m-2 1h2m-2 1h2m-2 1h2m-2 1h2m-2 0h2m-2 1h2m-2 0h2m-2 1h2m-2 0h2m-1-13h2m-2 6h2m-2 1h2m-2 0h2m-2 3h2m-2 2h2m-2 0h2m-1-7h2m-2 0h2m-2 0h2m-2 1h2m-2 0h2m-2 2h2m-2 4h2m-2 0h2m-2 0h2m-1-8h2m-2 0h2m-2 1h2m-2 2h2m-2 1h2m-2 0h2m-2 1h2m-2 0h2m-2 1h2m-2 0h2m-2 1h2m-2 0h2m-2 1h2m-2 0h2m-2 1h2m-2 0h2m-2 4h2m-1-15h2m-2 2h2m-2 0h2m-2 3h2m-2 1h2m-2 3h2m-2 0h2m-2 0h2m-2 0h2m-2 0h2m-2 1h2m-2 0h2m-2 0h2m-1-10h2m-2 0h2m-2 0h2m-2 2h2m-2 0h2m-2 1h2m-2 3h2m-2 0h2m-2 1h2m-2 0h2m-2 0h2m-2 0h2m-2 3h2m-2 0h2m-2 2h2m-2 0h2m-2 1h2m-2 0h2m-1-11h2m-2 0h2m-2 1h2m-2 0h2m-2 1h2m-2 1h2m-2 1h2m-2 2h2m-2 0h2m-2 0h2m-1-8h2m-2 1h2m-2 1h2m-2 1h2m-2 1h2m-2 0h2m-2 0h2m-2 0h2m-2 1h2m-2 0h2m-2 0h2m-2 1h2m-2 1h2m-2 0h2m-2 2h2m-2 0h2m-2 2h2m-2 0h2m-1-8h2m-2 0h2m-2 2h2m-2 1h2m-2 1h2m-1-6h2m-2 2h2m-2 1h2m-2 0h2m-2 0h2m-2 0h2m-2 1h2m-2 2h2m-2 0h2m-2 1h2m-2 1h2m-2 2h2m-1-11h2m-2 1h2m-2 1h2m-2 1h2m-2 1h2m-2 0h2m-2 1h2m-2 1h2m-2 0h2m-2 1h2m-2 1h2m-2 1h2m-1-9h2m-2 1h2m-2 0h2m-2 2h2m-2 1h2m-2 2h2m-2 0h2m-2 2h2m-2 3h2m-2 1h2m-1-8h2m-2 0h2m-2 1h2m-2 1h2m-2 1h2m-2 0h2m-2 2h2m-2 1h2m-2 0h2m-2 1h2m-1-8h2m-2 1h2m-2 1h2m-2 1h2m-2 0h2m-2 0h2m-2 2h2m-2 0h2m-2 3h2m-2 2h2m-2 1h2m-1-12h2m-2 2h2m-2 2h2m-2 2h2m-2 1h2m-2 1h2m-2 1h2m-1-9h2m-2 1h2m-2 2h2m-2 0h2m-2 0h2m-2 1h2m-2 2h2m-2 0h2m-2 1h2m-2 1h2m-2 0h2m-1-6h2m-2 0h2m-2 2h2m-2 0h2m-2 2h2m-2 1h2m-1-6h2m-2 2h2m-2 0h2m-2 0h2m-2 1h2m-2 1h2m-2 0h2m-2 0h2m-2 0h2m-2 1h2m-2 0h2m-2 1h2m-2 3h2m-2 2h2m-1-22h2m-2 9h2m-2 5h2m-2 2h2m-2 2h2m-2 0h2m-1-8h2m-2 0h2m-2 1h2m-2 0h2m-2 1h2m-2 1h2m-2 0h2m-2 1h2m-2 1h2m-2 1h2m-2 0h2m-1-5h2m-2 0h2m-2 1h2m-2 0h2m-2 1h2m-2 0h2m-2 1h2m-2 1h2m-2 1h2m-2 1h2m-2 0h2m-2 1h2m-2 2h2m-1-12h2m-2 2h2m-2 0h2m-2 1h2m-2 0h2m-2 1h2m-2 0h2m-2 0h2m-2 1h2m-2 1h2m-2 0h2m-2 0h2m-2 4h2m-2 1h2m-1-16h2m-2 10h2m-2 0h2m-2 1h2m-2 0h2m-2 0h2m-2 1h2m-2 1h2m-2 0h2m-2 1h2m-2 0h2m-2 1h2m-2 0h2m-2 0h2m-2 1h2m-2 0h2m-2 0h2m-2 0h2m-1-7h2m-2 2h2m-2 0h2m-2 0h2m-2 0h2m-2 1h2m-2 1h2m-2 0h2m-2 2h2m-2 0h2m-2 2h2m-1-10h2m-2 0h2m-2 1h2m-2 1h2m-2 0h2m-2 0h2m-2 2h2m-2 0h2m-2 1h2m-2 1h2m-2 1h2m-2 1h2m-2 0h2m-2 0h2m-2 0h2m-2 1h2m-1-9h2m-2 3h2m-2 0h2m-2 1h2m-2 1h2m-2 0h2m-2 1h2m-2 1h2m-2 2h2m-2 0h2m-2 0h2m-2 1h2m-2 0h2m-1-10h2m-2 0h2m-2 1h2m-2 1h2m-2 0h2m-2 1h2m-2 0h2m-2 1h2m-2 2h2m-2 2h2m-2 0h2m-2 1h2m-1-10h2m-2 2h2m-2 0h2m-2 1h2m-2 0h2m-2 0h2m-2 2h2m-2 1h2m-2 0h2m-2 0h2m-2 0h2m-2 0h2m-2 1h2m-2 0h2m-2 2h2m-1-8h2m-2 4h2m-2 2h2m-2 0h2m-2 1h2m-2 2h2m-1-9h2m-2 0h2m-2 2h2m-2 0h2m-2 1h2m-2 0h2m-2 0h2m-2 0h2m-2 0h2m-2 1h2m-2 2h2m-2 1h2m-2 0h2m-2 1h2m-2 2h2m-2 1h2m-1-20h2m-2 4h2m-2 5h2m-2 0h2m-2 0h2m-2 1h2m-2 1h2m-2 0h2m-2 1h2m-2 2h2m-2 1h2m-2 0h2m-2 0h2m-2 3h2m-1-9h2m-2 1h2m-2 1h2m-2 2h2m-2 1h2m-2 0h2m-2 0h2m-2 1h2m-2 1h2m-1-8h2m-2 3h2m-2 0h2m-2 1h2m-2 1h2m-2 2h2m-2 1h2m-2 0h2m-2 1h2m-2 0h2m-2 0h2m-1-11h2m-2 3h2m-2 4h2m-2 0h2m-2 0h2m-2 1h2m-2 0h2m-2 1h2m-2 0h2m-2 2h2m-2 0h2m-2 1h2m-2 0h2m-2 0h2m-1-7h2m-2 2h2m-2 0h2m-2 1h2m-2 0h2m-2 0h2m-2 1h2m-2 0h2m-2 1h2m-2 1h2m-2 0h2m-2 1h2m-1-13h2m-2 4h2m-2 0h2m-2 1h2m-2 1h2m-2 0h2m-2 0h2m-2 0h2m-2 2h2m-2 0h2m-2 1h2m-2 3h2m-2 1h2m-2 1h2m-2 1h2m-1-10h2m-2 0h2m-2 1h2m-2 2h2m-2 0h2m-2 2h2m-2 0h2m-2 0h2m-2 1h2m-2 0h2m-2 2h2m-2 1h2m-2 1h2m-1-11h2m-2 1h2m-2 1h2m-2 1h2m-2 0h2m-2 2h2m-2 1h2m-2 0h2m-2 0h2m-2 1h2m-2 0h2m-2 1h2m-1-8h2m-2 1h2m-2 1h2m-2 0h2m-2 2h2m-2 0h2m-2 1h2m-2 1h2m-2 1h2m-2 1h2m-2 1h2m-1-7h2m-2 0h2m-2 0h2m-2 0h2m-2 1h2m-2 1h2m-2 0h2m-2 1h2m-2 0h2m-2 1h2m-2 1h2m-2 0h2m-2 1h2m-2 1h2m-2 1h2m-1-9h2m-2 1h2m-2 0h2m-2 0h2m-2 0h2m-2 1h2m-2 2h2m-2 0h2m-2 2h2m-2 0h2m-2 1h2m-2 0h2m-2 3h2m-1-10h2m-2 0h2m-2 2h2m-2 1h2m-2 1h2m-2 2h2m-2 0h2m-2 0h2m-2 3h2m-1-9h2m-2 0h2m-2 1h2m-2 2h2m-2 0h2m-2 1h2m-2 0h2m-2 0h2m-2 1h2m-1-7h2m-2 1h2m-2 0h2m-2 4h2m-2 0h2m-2 2h2m-2 1h2m-2 0h2m-2 1h2m-2 2h2m-1-11h2m-2 2h2m-2 3h2m-2 0h2m-2 0h2m-2 3h2m-2 2h2m-2 0h2m-2 0h2m-1-10h2m-2 2h2m-2 1h2m-2 2h2m-2 0h2m-2 1h2m-2 0h2m-2 1h2m-2 2h2m-2 0h2m-2 1h2m-2 1h2m-2 0h2m-2 0h2m-1-10h2m-2 2h2m-2 1h2m-2 0h2m-2 1h2m-2 0h2m-2 1h2m-2 0h2m-2 0h2m-2 0h2m-2 1h2m-2 1h2m-2 2h2m-2 0h2m-2 0h2m-2 1h2m-1-9h2m-2 1h2m-2 1h2m-2 0h2m-2 3h2m-2 1h2m-2 1h2m-2 0h2m-2 1h2m-2 0h2m-1-9h2m-2 0h2m-2 3h2m-2 0h2m-2 0h2m-2 1h2m-2 0h2m-2 1h2m-2 0h2m-2 2h2m-2 0h2m-2 0h2m-2 0h2m-2 1h2m-1-7h2m-2 1h2m-2 0h2m-2 1h2m-2 1h2m-2 1h2m-2 0h2m-2 2h2m-2 2h2m-2 1h2m-2 0h2m-1-13h2m-2 3h2m-2 2h2m-2 2h2m-2 3h2m-2 2h2m-2 3h2m-1-12h2m-2 0h2m-2 1h2m-2 1h2m-2 0h2m-2 1h2m-2 1h2m-2 1h2m-2 1h2m-2 2h2m-2 0h2m-2 0h2m-2 1h2m-2 2h2m-2 0h2m-1-14h2m-2 4h2m-2 2h2m-2 2h2m-2 2h2m-2 3h2m-1-9h2m-2 1h2m-2 2h2m-2 0h2m-2 0h2m-2 1h2m-2 1h2m-2 0h2m-2 3h2m-2 0h2m-2 1h2m-1-10h2m-2 0h2m-2 1h2m-2 1h2m-2 0h2m-2 1h2m-2 1h2m-2 0h2m-2 0h2m-2 0h2m-2 0h2m-2 1h2m-2 0h2m-2 0h2m-2 1h2m-2 0h2m-2 2h2m-2 0h2m-1-2h2m-2 0h2m-2 2h2m-2 1h2m-2 1h2m-1-13h2m-2 3h2m-2 1h2m-2 0h2m-2 1h2m-2 0h2m-2 0h2m-2 0h2m-2 0h2m-2 2h2m-2 0h2m-2 1h2m-2 0h2m-2 0h2m-2 1h2m-2 0h2m-2 0h2m-2 0h2m-2 1h2m-2 3h2m-2 1h2m-1-10h2m-2 1h2m-2 0h2m-2 1h2m-2 1h2m-2 1h2m-2 1h2m-2 1h2m-2 0h2m-2 0h2m-2 1h2m-2 0h2m-2 0h2m-2 1h2m-2 0h2m-2 1h2m-1-10h2m-2 1h2m-2 0h2m-2 0h2m-2 0h2m-2 2h2m-2 0h2m-2 1h2m-2 1h2m-2 0h2m-2 1h2m-2 0h2m-2 1h2m-2 0h2m-2 1h2m-1-11h2m-2 2h2m-2 1h2m-2 3h2m-2 2h2m-2 0h2m-2 0h2m-2 2h2m-2 1h2m-1-6h2m-2 0h2m-2 4h2m-2 2h2m-2 1h2m-2 2h2m-2 0h2m-1-12h2m-2 3h2m-2 0h2m-2 1h2m-2 0h2m-2 1h2m-2 0h2m-2 3h2m-2 1h2m-2 0h2m-2 2h2m-1-13h2m-2 0h2m-2 2h2m-2 3h2m-2 2h2m-2 1h2m-2 1h2m-2 1h2m-2 0h2m-2 0h2m-2 0h2m-1-7h2m-2 1h2m-2 5h2m-2 2h2m-2 0h2m-1-9h2m-2 3h2m-2 1h2m-2 3h2m-2 0h2m-2 1h2m-2 0h2m-2 3h2m-2 1h2m-2 1h2m-1-11h2m-2 1h2m-2 1h2m-2 0h2m-2 0h2m-2 2h2m-2 1h2m-2 0h2m-2 3h2m-2 1h2m-1-11h2m-2 0h2m-2 0h2m-2 2h2m-2 1h2m-2 2h2m-2 2h2m-2 0h2m-2 1h2m-2 2h2m-2 1h2m-2 0h2m-1-8h2m-2 0h2m-2 0h2m-2 0h2m-2 0h2m-2 1h2m-2 0h2m-2 1h2m-2 0h2m-2 1h2m-2 0h2m-2 1h2m-2 1h2m-2 0h2m-2 2h2m-1-7h2m-2 1h2m-2 1h2m-2 1h2m-2 0h2m-2 1h2m-2 4h2m-1-9h2m-2 1h2m-2 0h2m-2 0h2m-2 1h2m-2 2h2m-2 0h2m-2 0h2m-2 0h2m-2 1h2m-2 0h2m-2 0h2m-2 0h2m-2 1h2m-2 3h2m-2 0h2m-1-10h2m-2 2h2m-2 0h2m-2 3h2m-2 1h2m-2 2h2m-2 0h2m-2 1h2m-2 0h2m-2 0h2m-2 1h2m-1-10h2m-2 0h2m-2 1h2m-2 1h2m-2 2h2m-2 1h2m-2 1h2m-2 0h2m-2 0h2m-2 1h2m-2 2h2m-2 0h2m-2 0h2m-2 4h2m-1-13h2m-2 3h2m-2 1h2m-2 1h2m-2 1h2m-2 1h2m-2 4h2m-1-12h2m-2 1h2m-2 0h2m-2 3h2m-2 1h2m-2 2h2m-2 0h2m-2 1h2m-2 0h2m-2 0h2m-2 1h2m-2 0h2m-1-8h2m-2 1h2m-2 1h2m-2 1h2m-2 0h2m-2 0h2m-2 2h2m-2 1h2m-2 1h2m-2 3h2m-2 2h2m-1-12h2m-2 1h2m-2 2h2m-2 0h2m-2 0h2m-2 1h2m-2 0h2m-2 1h2m-2 1h2m-2 0h2m-2 1h2m-2 1h2m-2 0h2m-2 0h2m-2 1h2m-2 2h2m-1-12h2m-2 3h2m-2 4h2m-2 0h2m-2 0h2m-2 3h2m-1-7h2m-2 0h2m-2 1h2m-2 1h2m-2 0h2m-2 1h2m-2 0h2m-2 2h2m-2 0h2m-2 1h2m-2 1h2m-2 0h2m-1-11h2m-2 4h2m-2 2h2m-2 1h2m-2 0h2m-2 1h2m-2 0h2m-2 0h2m-2 1h2m-2 0h2m-2 1h2m-2 0h2m-2 1h2m-2 0h2m-1-9h2m-2 2h2m-2 1h2m-2 0h2m-2 1h2m-2 0h2m-2 0h2m-2 1h2m-2 0h2m-2 1h2m-2 3h2m-2 3h2m-1-10h2m-2 1h2m-2 0h2m-2 3h2m-2 0h2m-2 0h2m-2 1h2m-2 0h2m-2 1h2m-2 0h2m-2 1h2m-2 1h2m-1-10h2m-2 0h2m-2 0h2m-2 0h2m-2 1h2m-2 1h2m-2 1h2m-2 1h2m-2 0h2m-2 1h2m-2 1h2m-2 1h2m-2 1h2m-2 0h2m-2 1h2m-2 0h2m-1-8h2m-2 0h2m-2 1h2m-2 0h2m-2 1h2m-2 1h2m-2 2h2m-2 0h2m-2 0h2m-2 1h2m-2 0h2m-2 1h2m-2 2h2m-2 2h2m-2 0h2m-2 0h2m-1-12h2m-2 0h2m-2 2h2m-2 0h2m-2 0h2m-2 1h2m-2 1h2m-2 1h2m-2 0h2m-2 1h2m-2 1h2m-2 0h2m-2 0h2m-2 1h2m-2 0h2m-2 3h2m-2 2h2m-1-12h2m-2 1h2m-2 1h2m-2 0h2m-2 0h2m-2 1h2m-2 1h2m-2 1h2m-2 0h2m-2 1h2m-2 2h2m-2 0h2m-2 0h2m-1-11h2m-2 3h2m-2 1h2m-2 1h2m-2 2h2m-2 0h2m-2 0h2m-2 0h2m-2 2h2m-2 0h2m-1-9h2m-2 5h2m-2 1h2m-2 2h2m-2 0h2m-2 2h2m-2 0h2m-1-10h2m-2 4h2m-2 2h2m-2 1h2m-2 2h2m-2 2h2m-2 3h2m-2 0h2m-1-13h2m-2 1h2m-2 0h2m-2 1h2m-2 0h2m-2 2h2m-2 2h2m-2 0h2m-2 1h2m-2 1h2m-2 0h2m-2 0h2m-2 2h2m-2 0h2m-2 3h2m-1-12h2m-2 1h2m-2 1h2m-2 0h2m-2 1h2m-2 0h2m-2 0h2m-2 0h2m-2 0h2m-2 1h2m-2 0h2m-2 0h2m-2 1h2m-2 0h2m-2 1h2m-2 0h2m-2 0h2m-2 0h2m-2 2h2m-2 0h2m-2 2h2m-2 1h2m-2 3h2m-1-13h2m-2 1h2m-2 1h2m-2 0h2m-2 2h2m-2 1h2m-2 1h2m-2 1h2m-2 0h2m-2 0h2m-2 0h2m-2 1h2m-2 0h2m-2 0h2m-2 3h2m-1-12h2m-2 2h2m-2 0h2m-2 1h2m-2 0h2m-2 2h2m-2 0h2m-2 0h2m-2 1h2m-2 0h2m-2 2h2m-2 0h2m-2 1h2m-2 2h2m-1-16h2m-2 6h2m-2 1h2m-2 2h2m-2 0h2m-2 0h2m-2 0h2m-2 0h2m-2 1h2m-2 0h2m-2 1h2m-2 1h2m-2 1h2m-2 1h2m-2 0h2m-1-10h2m-2 3h2m-2 0h2m-2 1h2m-2 1h2m-2 1h2m-2 0h2m-2 1h2m-2 1h2m-2 1h2m-2 2h2m-2 2h2m-1-11h2m-2 1h2m-2 4h2m-2 1h2m-2 2h2m-1-10h2m-2 2h2m-2 2h2m-2 2h2m-2 1h2m-2 0h2m-2 1h2m-2 2h2m-2 0h2m-1-5h2m-2 0h2m-2 1h2m-2 0h2m-2 1h2m-2 1h2m-2 0h2m-2 1h2m-2 1h2m-2 2h2m-1-10h2m-2 0h2m-2 1h2m-2 1h2m-2 1h2m-2 0h2m-2 0h2m-2 0h2m-2 1h2m-2 0h2m-2 0h2m-2 0h2m-2 2h2m-2 2h2m-2 0h2m-2 1h2m-2 1h2m-1-10h2m-2 1h2m-2 0h2m-2 1h2m-2 1h2m-2 1h2m-2 1h2m-2 1h2m-2 1h2m-2 0h2m-2 2h2m-1-9h2m-2 1h2m-2 0h2m-2 1h2m-2 1h2m-2 0h2m-2 0h2m-2 0h2m-2 0h2m-2 1h2m-2 0h2m-2 0h2m-2 0h2m-2 0h2m-2 0h2m-2 1h2m-2 1h2m-2 2h2m-2 1h2m-2 7h2m-1-15h2m-2 1h2m-2 0h2m-2 0h2m-2 1h2m-2 0h2m-2 2h2m-2 0h2m-2 2h2m-2 0h2m-2 1h2m-2 0h2m-1-8h2m-2 2h2m-2 0h2m-2 1h2m-2 0h2m-2 1h2m-2 0h2m-2 3h2m-2 0h2m-2 1h2m-2 0h2m-2 1h2m-1-9h2m-2 2h2m-2 2h2m-2 1h2m-2 1h2m-2 0h2m-2 1h2m-2 1h2m-1-5h2m-2 1h2m-2 1h2m-2 2h2m-2 1h2m-2 2h2m-1-10h2m-2 1h2m-2 1h2m-2 0h2m-2 1h2m-2 1h2m-2 1h2m-2 1h2m-2 0h2m-2 0h2m-2 1h2m-2 0h2m-2 1h2m-2 0h2m-2 1h2m-2 0h2m-2 0h2m-2 0h2m-2 1h2m-1-11h2m-2 0h2m-2 1h2m-2 1h2m-2 0h2m-2 2h2m-2 1h2m-2 0h2m-2 0h2m-2 1h2m-2 2h2m-2 0h2m-2 1h2m-1-7h2m-2 2h2m-2 2h2m-2 1h2m-2 0h2m-2 0h2m-2 1h2m-2 1h2m-1-10h2m-2 3h2m-2 1h2m-2 1h2m-2 1h2m-2 0h2m-2 1h2m-2 0h2m-2 0h2m-2 1h2m-2 0h2m-2 1h2m-2 1h2m-1-7h2m-2 0h2m-2 0h2m-2 1h2m-2 1h2m-2 1h2m-2 1h2m-2 1h2m-2 1h2m-2 0h2m-2 0h2m-2 1h2m-2 0h2m-1-9h2m-2 3h2m-2 1h2m-2 2h2m-2 1h2m-2 0h2m-2 0h2m-2 2h2m-2 1h2m-1-6h2m-2 0h2m-2 2h2m-2 0h2m-2 1h2m-2 0h2m-2 1h2m-2 1h2m-2 0h2m-2 0h2m-2 1h2m-2 1h2m-1-10h2m-2 1h2m-2 6h2m-2 1h2m-1-7h2m-2 1h2m-2 1h2m-2 0h2m-2 1h2m-2 1h2m-2 0h2m-2 0h2m-2 0h2m-2 1h2m-2 0h2m-2 1h2m-2 1h2m-1-9h2m-2 1h2m-2 1h2m-2 0h2m-2 0h2m-2 1h2m-2 0h2m-2 1h2m-2 1h2m-2 1h2m-2 0h2m-2 1h2m-2 1h2m-2 1h2m-1-8h2m-2 1h2m-2 2h2m-2 1h2m-2 1h2m-2 0h2m-2 2h2m-2 1h2m-2 0h2m-2 0h2m-2 1h2m-2 0h2m-2 1h2m-2 0h2m-1-8h2m-2 0h2m-2 2h2m-2 1h2m-2 0h2m-2 1h2m-2 2h2m-2 0h2m-2 0h2m-2 1h2m-2 2h2m-1-11h2m-2 0h2m-2 2h2m-2 0h2m-2 1h2m-2 0h2m-2 1h2m-2 0h2m-2 2h2m-2 0h2m-2 1h2m-2 2h2m-2 0h2m-2 1h2m-2 0h2m-2 1h2m-1-12h2m-2 1h2m-2 1h2m-2 1h2m-2 0h2m-2 1h2m-2 1h2m-2 1h2m-2 1h2m-2 0h2m-2 0h2m-2 1h2m-2 0h2m-2 1h2m-2 0h2m-2 1h2m-2 1h2m-1-11h2m-2 1h2m-2 0h2m-2 0h2m-2 0h2m-2 4h2m-2 2h2m-2 1h2m-2 2h2m-1-10h2m-2 2h2m-2 0h2m-2 0h2m-2 0h2m-2 1h2m-2 1h2m-2 0h2m-2 0h2m-2 1h2m-2 1h2m-2 3h2m-2 1h2m-2 0h2m-2 1h2m-1-10h2m-2 1h2m-2 0h2m-2 2h2m-2 1h2m-2 0h2m-2 0h2m-2 0h2m-2 2h2m-2 0h2m-2 1h2m-2 0h2m-2 0h2m-2 0h2m-2 1h2m-1-9h2m-2 0h2m-2 2h2m-2 1h2m-2 0h2m-2 0h2m-2 1h2m-2 1h2m-2 0h2m-2 1h2m-2 1h2m-2 0h2m-2 0h2m-2 0h2m-2 5h2m-1-11h2m-2 1h2m-2 2h2m-2 0h2m-2 0h2m-2 1h2m-2 0h2m-2 1h2m-2 0h2m-2 0h2m-2 3h2m-2 1h2m-2 0h2m-2 1h2m-1-9h2m-2 0h2m-2 1h2m-2 0h2m-2 1h2m-2 1h2m-2 3h2m-2 0h2m-2 2h2m-2 0h2m-2 0h2m-2 0h2m-1-10h2m-2 1h2m-2 0h2m-2 2h2m-2 0h2m-2 1h2m-2 2h2m-2 1h2m-2 0h2m-2 0h2m-2 1h2m-2 0h2m-2 3h2m-1-9h2m-2 0h2m-2 1h2m-2 1h2m-2 0h2m-2 0h2m-2 1h2m-2 0h2m-2 2h2m-2 0h2m-2 3h2m-1-9h2m-2 1h2m-2 1h2m-2 0h2m-2 0h2m-2 0h2m-2 1h2m-2 1h2m-2 0h2m-2 0h2m-2 0h2m-2 1h2m-2 0h2m-2 0h2m-2 0h2m-2 0h2m-2 1h2m-2 0h2m-2 2h2m-1-8h2m-2 1h2m-2 3h2m-2 2h2m-2 0h2m-2 0h2m-2 0h2m-2 1h2m-2 0h2m-2 1h2m-2 1h2m-2 0h2m-1-10h2m-2 1h2m-2 1h2m-2 1h2m-2 1h2m-2 3h2m-2 1h2m-2 0h2m-1-10h2m-2 2h2m-2 1h2m-2 1h2m-2 1h2m-2 0h2m-2 3h2m-2 2h2m-2 0h2m-2 0h2m-2 1h2m-1-9h2m-2 1h2m-2 0h2m-2 1h2m-2 0h2m-2 1h2m-2 2h2m-2 0h2m-2 0h2m-2 0h2m-2 1h2m-2 0h2m-2 1h2m-2 1h2m-2 0h2m-2 0h2m-2 1h2m-2 0h2m-2 1h2m-2 0h2m-1-9h2m-2 1h2m-2 2h2m-2 1h2m-2 1h2m-2 0h2m-2 0h2m-2 1h2m-2 0h2m-2 1h2m-2 1h2m-2 0h2m-2 1h2m-1-9h2m-2 0h2m-2 1h2m-2 0h2m-2 1h2m-2 0h2m-2 2h2m-2 3h2m-2 0h2m-2 0h2m-2 2h2m-1-10h2m-2 1h2m-2 1h2m-2 0h2m-2 0h2m-2 1h2m-2 1h2m-2 1h2m-2 0h2m-2 2h2m-2 0h2m-2 0h2m-2 0h2m-2 0h2m-2 1h2m-2 0h2m-2 1h2m-2 2h2m-2 1h2m-1-14h2m-2 4h2m-2 1h2m-2 1h2m-2 0h2m-2 0h2m-2 1h2m-2 0h2m-2 1h2m-2 0h2m-2 1h2m-2 0h2m-2 1h2m-1-6h2m-2 2h2m-2 0h2m-2 0h2m-2 1h2m-2 0h2m-2 3h2m-2 0h2m-2 2h2m-2 1h2m-2 1h2m-1-12h2m-2 0h2m-2 1h2m-2 3h2m-2 3h2m-2 1h2m-2 1h2m-2 0h2m-1-9h2m-2 1h2m-2 0h2m-2 1h2m-2 0h2m-2 1h2m-2 0h2m-2 0h2m-2 1h2m-2 0h2m-2 1h2m-2 1h2m-2 1h2m-2 1h2m-2 0h2m-2 0h2m-2 1h2m-2 0h2m-2 1h2m-1-9h2m-2 1h2m-2 1h2m-2 0h2m-2 0h2m-2 1h2m-2 0h2m-2 0h2m-2 1h2m-2 1h2m-2 0h2m-2 1h2m-2 0h2m-2 1h2m-2 0h2m-2 1h2m-2 0h2m-2 0h2m-2 2h2m-1-11h2m-2 2h2m-2 0h2m-2 1h2m-2 1h2m-2 1h2m-2 1h2m-2 1h2m-2 1h2m-2 0h2m-2 1h2m-2 1h2m-2 1h2m-2 3h2m-1-12h2m-2 0h2m-2 1h2m-2 1h2m-2 0h2m-2 0h2m-2 1h2m-2 2h2m-2 1h2m-2 3h2m-1-13h2m-2 2h2m-2 4h2m-2 0h2m-2 1h2m-2 1h2m-2 1h2m-2 1h2m-2 0h2m-1-8h2m-2 0h2m-2 1h2m-2 2h2m-2 1h2m-2 0h2m-2 1h2m-2 1h2m-2 0h2m-2 0h2m-2 1h2m-2 0h2m-2 1h2m-2 2h2m-2 1h2m-2 0h2m-2 2h2m-1-12h2m-2 0h2m-2 1h2m-2 0h2m-2 0h2m-2 2h2m-2 0h2m-2 0h2m-2 0h2m-2 1h2m-2 0h2m-2 0h2m-2 1h2m-2 1h2m-2 1h2m-2 2h2m-2 2h2m-1-13h2m-2 1h2m-2 6h2m-2 1h2m-2 0h2m-2 0h2m-2 0h2m-2 2h2m-2 1h2m-1-9h2m-2 0h2m-2 0h2m-2 0h2m-2 1h2m-2 1h2m-2 0h2m-2 1h2m-2 1h2m-2 0h2m-2 1h2m-2 1h2m-2 1h2m-2 1h2m-1-11h2m-2 1h2m-2 0h2m-2 3h2m-2 1h2m-2 0h2m-2 2h2m-2 2h2m-2 1h2m-2 0h2m-2 1h2m-2 2h2m-2 0h2m-2 1h2m-1-12h2m-2 1h2m-2 2h2m-2 2h2m-2 0h2m-2 0h2m-2 2h2m-2 3h2m-2 1h2m-1-11h2m-2 2h2m-2 1h2m-2 0h2m-2 1h2m-2 0h2m-2 0h2m-2 1h2m-2 0h2m-2 1h2m-2 4h2m-2 1h2" stroke="#6c6c6c" stroke-width="2" stroke-opacity=".8" fill="none"/><path d="M376.5 364.5H508" stroke="#c878c8" stroke-width="1.15" fill="none"/><text x="505" y="363.9" font-size="2.3" text-anchor="middle" fill="#3a3a3a" textLength="4.8" lengthAdjust="spacingAndGlyphs" font-weight="bold">4000</text><path d="M376.5 291.4H508V407H376.5Z" stroke="#a2a2a2" stroke-width="1" fill="none"/><rect x="547.7" y="291.4" width="132.9" height="115.2" fill="#f9f8f6"/><path d="M564.5 291.4V406.6M580.5 291.4V406.6M596.5 291.4V406.6M613.5 291.4V406.6M629.5 291.4V406.6M645.5 291.4V406.6M662.5 291.4V406.6M678.5 291.4V406.6M547.7 387.5H680.6M547.7 368.5H680.6M547.7 349.5H680.6M547.7 329.5H680.6M547.7 310.5H680.6" stroke="#eeedeb" stroke-width="1" fill="none"/><text x="541.75" y="407.45" font-size="3.1" text-anchor="middle" fill="#1a1a1a" font-weight="bold">0</text><text x="541.75" y="388.25" font-size="3.1" text-anchor="middle" fill="#1a1a1a" font-weight="bold">500</text><text x="541.75" y="369.05" font-size="3.1" text-anchor="middle" fill="#1a1a1a" font-weight="bold">1000</text><text x="541.75" y="349.85" font-size="3.1" text-anchor="middle" fill="#1a1a1a" font-weight="bold">1500</text><text x="541.75" y="330.65" font-size="3.1" text-anchor="middle" fill="#1a1a1a" font-weight="bold">2000</text><text x="541.75" y="311.45" font-size="3.1" text-anchor="middle" fill="#1a1a1a" font-weight="bold">2500</text><text x="541.75" y="292.25" font-size="3.1" text-anchor="middle" fill="#1a1a1a" font-weight="bold">3000</text><text x="547.7" y="412.25" font-size="3.1" text-anchor="middle" fill="#1a1a1a" font-weight="bold">0</text><text x="564.06" y="412.25" font-size="3.1" text-anchor="middle" fill="#1a1a1a" font-weight="bold">2000</text><text x="580.41" y="412.25" font-size="3.1" text-anchor="middle" fill="#1a1a1a" font-weight="bold">4000</text><text x="596.77" y="412.25" font-size="3.1" text-anchor="middle" fill="#1a1a1a" font-weight="bold">6000</text><text x="613.13" y="412.25" font-size="3.1" text-anchor="middle" fill="#1a1a1a" font-weight="bold">8000</text><text x="629.48" y="412.25" font-size="3.1" text-anchor="middle" fill="#1a1a1a" font-weight="bold">10000</text><text x="645.84" y="412.25" font-size="3.1" text-anchor="middle" fill="#1a1a1a" font-weight="bold">12000</text><text x="662.2" y="412.25" font-size="3.1" text-anchor="middle" fill="#1a1a1a" font-weight="bold">14000</text><text x="678.56" y="412.25" font-size="3.1" text-anchor="middle" fill="#1a1a1a" font-weight="bold">16000</text><path d="M546.1 406.6h1.6M546.1 387.4h1.6M546.1 368.2h1.6M546.1 349h1.6M546.1 329.8h1.6M546.1 310.6h1.6M546.1 291.4h1.6M547.7 406.6v1.4M564.06 406.6v1.4M580.41 406.6v1.4M596.77 406.6v1.4M613.13 406.6v1.4M629.48 406.6v1.4M645.84 406.6v1.4M662.2 406.6v1.4M678.56 406.6v1.4" stroke="#9a9a9a" stroke-width=".7" fill="none"/><text x="608.5" y="287.8" font-size="3.4" text-anchor="middle" fill="#111" textLength="41.1" lengthAdjust="spacingAndGlyphs" font-weight="bold">Ch2 - E04 Pos:495 Neg:15788</text><text x="614.15" y="416.6" font-size="3.1" text-anchor="middle" fill="#111" textLength="18.7" lengthAdjust="spacingAndGlyphs" font-weight="bold">Event Number</text><text x="0" y="0" font-size="3.1" font-weight="bold" text-anchor="middle" fill="#111" transform="translate(535.5 349) rotate(-90)" textLength="19.3" lengthAdjust="spacingAndGlyphs">Ch2 Amplitude</text><path transform="scale(.5)" filter="url(#bl)" d="M1096 625h2m-2 63h2m-2 3h2m-1-14h2m-1-39h2m-2 3h2m-2 20h2m-1-24h2m-1 9h2m-2 11h2m-2 18h2m-2 19h2m1-36h2m-1-17h2m-2 4h2m-2 17h2m-1-14h2m-2 7h2m0-34h2m-2 26h2m-2 6h2m-2 1h2m0-26h2m-2 7h2m-2 18h2m-2 2h2m-2 28h2m-1-39h2m-2 0h2m-2 11h2m-1-21h2m-2 13h2m-2 7h2m-1-18h2m-2 7h2m-2 1h2m-1-6h2m-2 22h2m0-16h2m-1-15h2m-2 15h2m-2 10h2m-1-11h2m-2 8h2m-1-2h2m-2 3h2m-2 17h2m0-30h2m-2 18h2m-2 8h2m-1-19h2m-2 2h2m-2 20h2m-2 1h2m-1-16h2m-2 7h2m0-23h2m-2 20h2m-1-31h2m-2 2h2m-2 14h2m-2 12h2m-1-16h2m-2 16h2m-2 3h2m-1-5h2m-1 0h2m-1 4h2m-2 11h2m-1-42h2m-2 12h2m-2 5h2m-2 19h2m-2 1h2m-2 13h2m-1-26h2m-1 4h2m-2 12h2m-1-67h2m-2 38h2m-2 6h2m-2 16h2m-1-21h2m-2 14h2m-2 6h2m-2 3h2m-2 0h2m-2 2h2m1-6h2m-2 19h2m-2 8h2m-1-53h2m-2 3h2m-1 19h2m-2 7h2m-1-53h2m-2 59h2m-1-15h2m-2 15h2m-2 9h2m-1-29h2m-2 15h2m-2 5h2m-1-10h2m-2 58h2m-1-87h2m-2 44h2m-1-30h2m-2 9h2m-2 20h2m-2 33h2m-1-60h2m-1 20h2m-2 9h2m-2 5h2m-1-64h2m-2 36h2m-2 7h2m-1-14h2m-2 7h2m-2 11h2m-2 1h2m-1-29h2m-2 5h2m-2 9h2m-1-23h2m-2 46h2m-1 6h2m-2 43h2m-1-76h2m0-42h2m-1 37h2m-2 24h2m-2 11h2m-1-15h2m-1-29h2m-2 43h2m-1-25h2m-1-5h2m-2 8h2m-2 5h2m-2 7h2m1-22h2m-2 22h2m-1 4h2m-1-30h2m-1 33h2m-2 3h2m-2 1h2m-1-30h2m-2 3h2m-2 10h2m-1 1h2m-1 31h2m-1-39h2m-2 1h2m-2 14h2m0-8h2m-1-8h2m1 15h2m-1-14h2m-2 7h2m-2 10h2m-2 2h2m-2 60h2m-1-95h2m-2 33h2m-2 7h2m-1-33h2m-2 17h2m-2 3h2m-2 1h2m-1-14h2m-1-3h2m-2 15h2m-2 3h2m-1-15h2m2-1h2m-2 4h2m-1 6h2m-2 21h2m-1-22h2m-2 5h2m-2 18h2m-2 39h2m-1-54h2m1-9h2m-2 0h2m-2 37h2m-1-76h2m-2 30h2m-2 11h2m-2 9h2m0-30h2m-2 13h2m-2 2h2m-1 5h2m-1-3h2m-1 2h2m0 7h2m0 19h2m-1-4h2m-1-35h2m-1 9h2m-2 10h2m-2 9h2m-1 9h2m-1-43h2m-2 23h2m-2 27h2m-1-9h2m-1-45h2m-2 5h2m-2 10h2m-2 8h2m-2 0h2m-1-6h2m-2 26h2m-1-33h2m0-29h2m-2 46h2m-2 6h2m-1-10h2m-2 10h2m-2 2h2m-1-28h2m-2 19h2m-2 13h2m-2 0h2m-2 18h2m0-38h2m-2 14h2m-2 5h2m-1-23h2m-2 33h2m-2 7h2m-1-3h2m0-44h2m-2 10h2m-2 24h2m-1-29h2m-2 12h2m-2 9h2m-1-4h2m-1-14h2m0 4h2m-2 14h2m-2 11h2m-1-36h2m-1 15h2m-2 8h2m-1-26h2m-2 17h2m-1-16h2m-2 7h2m-2 11h2m-2 8h2m-1-11h2m-2 11h2m-1-20h2m-2 16h2m0-17h2m-2 18h2m-1-40h2m-2 12h2m-2 11h2m-1 13h2m-2 18h2m-1-37h2m-2 10h2m-1-24h2m-2 47h2m-2 0h2m-2 3h2m-1-53h2m-2 10h2m-2 14h2m-2 42h2m-1-68h2m-2 33h2m-2 6h2m-2 2h2m-1-9h2m-1 1h2m1-7h2m-1 7h2m-2 51h2m-1-61h2m-2 27h2m-1-31h2m-1 3h2m-2 19h2m-1-53h2m-2 50h2m-1 8h2m-1-10h2m-2 9h2m-1-6h2m-2 1h2m-2 1h2m-1-11h2m-2 7h2m0-19h2m-2 11h2m-2 14h2m-2 10h2m-1-45h2m-1 9h2m-2 3h2m-2 17h2m-2 14h2m-2 3h2m0-5h2m-1-48h2m-1 42h2m-1-23h2m-2 13h2m-2 4h2m-2 3h2m-1-9h2m-2 0h2m-2 4h2m-2 14h2m-1-31h2m-2 15h2m-2 5h2m-2 1h2m-2 65h2m-1-71h2m-2 11h2m-1 17h2m-2 19h2m-1-64h2m-1 30h2m-2 14h2m-1-33h2m-2 14h2m-1-10h2m-2 4h2m-1 16h2m-2 11h2m-1-29h2m-1 3h2m-1-21h2m-2 48h2m-1-49h2m-2 18h2m-1 14h2m-2 5h2m-1-25h2m-2 19h2m-2 4h2m-1-10h2m-1-11h2m-2 15h2m-1-24h2m-2 14h2m-2 1h2m-2 17h2m-1-38h2m-2 26h2m-2 5h2m-1-31h2m-2 18h2m-2 9h2m-2 0h2m-1-20h2m-2 5h2m-2 9h2m-2 2h2m-2 27h2m-2 1h2m-1-18h2m0-3h2m-2 7h2m-1-18h2m-2 39h2m-1-30h2m-1 18h2m0-10h2m-1-25h2m-2 1h2m-2 9h2m-1-18h2m-2 9h2m-2 26h2m-1-13h2m-1-5h2m-2 1h2m-2 13h2m-2 6h2m-1-64h2m-2 18h2m-2 36h2m-1-14h2m-2 31h2m-1-28h2m-1 23h2m-1-22h2m-2 14h2m-2 12h2m-1-40h2m-2 33h2m-1-29h2m-2 16h2m-1 22h2m-1-15h2m-2 22h2m-1-51h2m-2 0h2m-2 21h2m-2 2h2m-2 1h2m-2 4h2m-1-13h2m-1-17h2m-2 55h2m-1-26h2m-1-20h2m-2 8h2m-2 1h2m-2 20h2m-1 7h2m-2 21h2m-1-70h2m-1 56h2m-2 8h2m-1-81h2m-2 31h2m-2 10h2m0-4h2m-1 1h2m-2 11h2m-1-45h2m-2 42h2m-2 5h2m-1-19h2m-2 4h2m-2 15h2m-1 1h2m-1-15h2m-2 1h2m-2 5h2m-2 15h2m-1-23h2m-1 16h2m-2 8h2m-2 6h2m-1-46h2m-2 20h2m-2 3h2m-2 8h2m-2 2h2m-1-10h2m-1-29h2m-2 42h2m-1-26h2m-2 12h2m-2 5h2m-1-9h2m-2 14h2m-1-8h2m-2 2h2m-2 2h2m-1-2h2m-1-16h2m-2 53h2m-1-24h2m0-17h2m-2 11h2m-1-10h2m-2 1h2m-1 12h2m-2 2h2m-1-30h2m-2 6h2m-2 3h2m-1-5h2m-2 20h2m-2 11h2m-1-24h2m-2 14h2m-1-11h2m-1-14h2m-2 7h2m-1-13h2m-1 28h2m-2 3h2m0-23h2m-2 14h2m-1-19h2m-2 4h2m-2 20h2m-2 18h2m-1-26h2m-2 8h2m-2 4h2m-2 2h2m-2 45h2m-1-72h2m-2 15h2m0 12h2m-1 3h2m-2 3h2m-1-30h2m-2 1h2m-2 12h2m-2 0h2m-1-23h2m-2 12h2m-1-5h2m-1 17h2m-1-10h2m0 23h2m-2 3h2m-2 1h2" stroke="#44c044" stroke-width="2" stroke-opacity=".8" fill="none"/><path transform="scale(.5)" filter="url(#bl)" d="M1096 717h2m-2 5h2m-2 0h2m-2 4h2m-2 1h2m-2 4h2m-2 3h2m-2 3h2m-2 1h2m-2 0h2m-2 1h2m-2 5h2m-1-23h2m-2 5h2m-2 1h2m-2 1h2m-2 1h2m-2 0h2m-2 0h2m-2 1h2m-2 1h2m-2 0h2m-2 3h2m-2 2h2m-2 1h2m-2 1h2m-2 1h2m-1-21h2m-2 2h2m-2 1h2m-2 2h2m-2 2h2m-2 4h2m-2 2h2m-2 1h2m-2 1h2m-2 0h2m-2 1h2m-2 3h2m-2 0h2m-1-22h2m-2 8h2m-2 4h2m-2 3h2m-2 1h2m-2 2h2m-2 0h2m-2 1h2m-2 2h2m-2 2h2m-2 1h2m-1-22h2m-2 4h2m-2 2h2m-2 2h2m-2 0h2m-2 3h2m-2 1h2m-2 1h2m-2 1h2m-2 0h2m-2 0h2m-2 1h2m-2 2h2m-2 3h2m-2 1h2m-1-23h2m-2 1h2m-2 0h2m-2 1h2m-2 1h2m-2 1h2m-2 1h2m-2 0h2m-2 2h2m-2 0h2m-2 1h2m-2 0h2m-2 1h2m-2 6h2m-2 0h2m-2 1h2m-2 1h2m-2 0h2m-2 1h2m-2 0h2m-2 3h2m-1-17h2m-2 0h2m-2 0h2m-2 0h2m-2 2h2m-2 1h2m-2 0h2m-2 1h2m-2 1h2m-2 3h2m-2 0h2m-2 1h2m-2 0h2m-2 1h2m-2 0h2m-2 2h2m-2 1h2m-2 0h2m-2 4h2m-2 5h2m-1-28h2m-2 6h2m-2 0h2m-2 1h2m-2 0h2m-2 2h2m-2 2h2m-2 1h2m-2 1h2m-2 2h2m-2 3h2m-2 1h2m-2 1h2m-2 1h2m-2 2h2m-2 2h2m-2 0h2m-2 0h2m-1-22h2m-2 2h2m-2 4h2m-2 0h2m-2 0h2m-2 4h2m-2 2h2m-2 1h2m-2 3h2m-2 0h2m-2 4h2m-1-20h2m-2 0h2m-2 1h2m-2 1h2m-2 1h2m-2 1h2m-2 0h2m-2 1h2m-2 2h2m-2 0h2m-2 1h2m-2 0h2m-2 0h2m-2 4h2m-2 0h2m-2 0h2m-2 1h2m-2 0h2m-2 0h2m-2 1h2m-2 0h2m-2 1h2m-2 0h2m-2 0h2m-2 3h2m-2 7h2m-1-29h2m-2 5h2m-2 3h2m-2 3h2m-2 4h2m-2 0h2m-2 3h2m-2 1h2m-2 1h2m-2 0h2m-2 1h2m-2 0h2m-2 0h2m-2 1h2m-2 2h2m-1-20h2m-2 0h2m-2 3h2m-2 0h2m-2 2h2m-2 1h2m-2 1h2m-2 1h2m-2 0h2m-2 1h2m-2 4h2m-2 1h2m-2 1h2m-2 1h2m-2 3h2m-2 1h2m-2 4h2m-1-27h2m-2 4h2m-2 2h2m-2 4h2m-2 0h2m-2 1h2m-2 6h2m-2 1h2m-2 2h2m-2 2h2m-2 1h2m-2 1h2m-2 1h2m-2 2h2m-1-43h2m-2 17h2m-2 0h2m-2 4h2m-2 1h2m-2 0h2m-2 1h2m-2 2h2m-2 0h2m-2 1h2m-2 4h2m-2 1h2m-2 0h2m-2 2h2m-2 1h2m-2 0h2m-2 1h2m-2 1h2m-2 2h2m-2 1h2m-2 1h2m-2 2h2m-1-18h2m-2 1h2m-2 1h2m-2 0h2m-2 2h2m-2 0h2m-2 1h2m-2 1h2m-2 1h2m-2 1h2m-2 1h2m-2 1h2m-2 0h2m-2 1h2m-2 1h2m-2 0h2m-2 1h2m-2 1h2m-2 2h2m-2 2h2m-2 0h2m-2 4h2m-1-27h2m-2 4h2m-2 3h2m-2 0h2m-2 3h2m-2 1h2m-2 0h2m-2 1h2m-2 4h2m-2 0h2m-2 1h2m-2 0h2m-2 1h2m-2 0h2m-2 2h2m-2 3h2m-2 1h2m-2 0h2m-2 4h2m-1-33h2m-2 7h2m-2 1h2m-2 2h2m-2 0h2m-2 2h2m-2 3h2m-2 2h2m-2 0h2m-2 2h2m-2 1h2m-2 2h2m-2 1h2m-1-14h2m-2 0h2m-2 1h2m-2 1h2m-2 3h2m-2 0h2m-2 0h2m-2 2h2m-2 1h2m-2 1h2m-2 4h2m-2 0h2m-2 2h2m-2 2h2m-2 3h2m-2 0h2m-2 1h2m-2 13h2m-1-37h2m-2 0h2m-2 2h2m-2 2h2m-2 1h2m-2 0h2m-2 2h2m-2 1h2m-2 3h2m-2 1h2m-2 0h2m-2 0h2m-2 3h2m-2 1h2m-2 1h2m-2 0h2m-2 1h2m-2 1h2m-2 0h2m-2 2h2m-1-21h2m-2 1h2m-2 2h2m-2 1h2m-2 1h2m-2 6h2m-2 0h2m-2 1h2m-2 1h2m-2 0h2m-2 2h2m-2 3h2m-2 0h2m-2 4h2m-1-25h2m-2 5h2m-2 3h2m-2 0h2m-2 0h2m-2 1h2m-2 1h2m-2 0h2m-2 0h2m-2 3h2m-2 2h2m-2 2h2m-2 1h2m-2 1h2m-2 0h2m-2 1h2m-2 0h2m-2 4h2m-2 2h2m-1-25h2m-2 3h2m-2 0h2m-2 0h2m-2 0h2m-2 4h2m-2 1h2m-2 4h2m-2 1h2m-2 1h2m-2 1h2m-2 1h2m-2 0h2m-2 1h2m-2 1h2m-2 0h2m-2 2h2m-2 1h2m-2 2h2m-1-23h2m-2 5h2m-2 0h2m-2 7h2m-2 0h2m-2 1h2m-2 0h2m-2 2h2m-2 0h2m-2 1h2m-2 0h2m-2 2h2m-2 1h2m-2 2h2m-1-24h2m-2 2h2m-2 0h2m-2 1h2m-2 2h2m-2 1h2m-2 2h2m-2 1h2m-2 3h2m-2 0h2m-2 0h2m-2 1h2m-2 0h2m-2 0h2m-2 1h2m-2 0h2m-2 2h2m-2 1h2m-2 0h2m-2 0h2m-2 2h2m-2 1h2m-2 2h2m-2 2h2m-2 0h2m-2 1h2m-2 1h2m-2 2h2m-2 0h2m-1-28h2m-2 0h2m-2 3h2m-2 2h2m-2 1h2m-2 0h2m-2 1h2m-2 1h2m-2 1h2m-2 1h2m-2 1h2m-2 0h2m-2 1h2m-2 3h2m-2 2h2m-2 0h2m-2 0h2m-2 3h2m-2 0h2m-2 1h2m-2 2h2m-2 2h2m-2 1h2m-2 1h2m-2 2h2m-1-27h2m-2 2h2m-2 0h2m-2 2h2m-2 4h2m-2 2h2m-2 0h2m-2 0h2m-2 2h2m-2 2h2m-2 2h2m-2 2h2m-2 0h2m-2 1h2m-2 2h2m-2 4h2m-1-24h2m-2 2h2m-2 1h2m-2 3h2m-2 0h2m-2 2h2m-2 0h2m-2 3h2m-2 2h2m-2 1h2m-2 1h2m-2 1h2m-2 0h2m-2 1h2m-2 0h2m-2 1h2m-2 1h2m-2 0h2m-2 2h2m-2 1h2m-2 1h2m-2 4h2m-1-23h2m-2 0h2m-2 1h2m-2 1h2m-2 0h2m-2 2h2m-2 2h2m-2 3h2m-2 0h2m-2 2h2m-2 2h2m-2 1h2m-2 4h2m-2 4h2m-1-27h2m-2 2h2m-2 2h2m-2 2h2m-2 8h2m-2 1h2m-2 0h2m-2 0h2m-2 1h2m-2 1h2m-2 2h2m-2 3h2m-2 0h2m-2 8h2m-1-34h2m-2 2h2m-2 3h2m-2 0h2m-2 1h2m-2 3h2m-2 0h2m-2 1h2m-2 0h2m-2 1h2m-2 1h2m-2 0h2m-2 1h2m-2 0h2m-2 0h2m-2 2h2m-2 1h2m-2 0h2m-2 1h2m-2 1h2m-2 0h2m-2 1h2m-2 0h2m-2 4h2m-2 1h2m-2 2h2m-2 1h2m-2 1h2m-2 0h2m-2 0h2m-2 1h2m-2 1h2m-1-26h2m-2 1h2m-2 0h2m-2 1h2m-2 3h2m-2 1h2m-2 1h2m-2 6h2m-2 2h2m-2 1h2m-2 0h2m-2 2h2m-2 1h2m-2 0h2m-2 1h2m-2 1h2m-2 0h2m-2 0h2m-2 4h2m-2 1h2m-2 0h2m-2 2h2m-1-32h2m-2 3h2m-2 2h2m-2 3h2m-2 3h2m-2 1h2m-2 3h2m-2 1h2m-2 0h2m-2 0h2m-2 2h2m-2 1h2m-2 0h2m-2 1h2m-2 2h2m-2 2h2m-2 1h2m-2 2h2m-2 0h2m-2 4h2m-1-26h2m-2 5h2m-2 4h2m-2 0h2m-2 1h2m-2 2h2m-2 2h2m-2 1h2m-2 1h2m-2 1h2m-2 0h2m-2 2h2m-2 1h2m-2 0h2m-2 1h2m-1-24h2m-2 1h2m-2 0h2m-2 3h2m-2 1h2m-2 2h2m-2 1h2m-2 0h2m-2 1h2m-2 2h2m-2 1h2m-2 1h2m-2 1h2m-2 0h2m-2 1h2m-2 0h2m-2 1h2m-2 1h2m-2 1h2m-2 0h2m-2 1h2m-2 1h2m-2 0h2m-2 1h2m-2 1h2m-2 1h2m-2 1h2m-2 1h2m-2 1h2m-2 0h2m-2 4h2m-1-32h2m-2 7h2m-2 1h2m-2 1h2m-2 0h2m-2 1h2m-2 2h2m-2 1h2m-2 3h2m-2 1h2m-2 0h2m-2 1h2m-2 4h2m-2 1h2m-2 0h2m-2 0h2m-2 2h2m-2 0h2m-1-17h2m-2 3h2m-2 0h2m-2 1h2m-2 0h2m-2 1h2m-2 1h2m-2 1h2m-2 1h2m-2 1h2m-2 0h2m-2 0h2m-2 1h2m-2 0h2m-2 0h2m-2 2h2m-2 1h2m-2 1h2m-2 1h2m-2 0h2m-2 1h2m-2 1h2m-2 5h2m-2 5h2m-1-32h2m-2 0h2m-2 5h2m-2 1h2m-2 4h2m-2 3h2m-2 2h2m-2 2h2m-2 1h2m-2 0h2m-2 1h2m-2 0h2m-2 1h2m-2 4h2m-1-24h2m-2 0h2m-2 3h2m-2 4h2m-2 4h2m-2 1h2m-2 1h2m-2 0h2m-2 1h2m-2 0h2m-2 1h2m-2 1h2m-2 0h2m-2 1h2m-2 1h2m-2 4h2m-2 1h2m-2 3h2m-2 2h2m-2 0h2m-1-26h2m-2 1h2m-2 4h2m-2 1h2m-2 1h2m-2 1h2m-2 1h2m-2 1h2m-2 3h2m-2 0h2m-2 3h2m-2 0h2m-2 3h2m-2 1h2m-2 1h2m-2 1h2m-2 0h2m-2 1h2m-2 0h2m-2 1h2m-2 2h2m-1-30h2m-2 5h2m-2 0h2m-2 2h2m-2 0h2m-2 1h2m-2 1h2m-2 0h2m-2 2h2m-2 0h2m-2 4h2m-2 1h2m-2 0h2m-2 3h2m-2 0h2m-2 0h2m-2 1h2m-2 0h2m-2 1h2m-2 2h2m-2 0h2m-2 0h2m-2 1h2m-2 0h2m-2 1h2m-2 0h2m-2 2h2m-2 2h2m-2 1h2m-1-28h2m-2 0h2m-2 4h2m-2 3h2m-2 1h2m-2 1h2m-2 2h2m-2 0h2m-2 1h2m-2 2h2m-2 1h2m-2 1h2m-2 0h2m-2 6h2m-2 0h2m-2 0h2m-2 1h2m-2 1h2m-2 2h2m-1-23h2m-2 0h2m-2 4h2m-2 0h2m-2 1h2m-2 5h2m-2 3h2m-2 2h2m-2 2h2m-2 6h2m-2 1h2m-2 1h2m-2 1h2m-1-30h2m-2 3h2m-2 3h2m-2 4h2m-2 1h2m-2 2h2m-2 1h2m-2 0h2m-2 3h2m-2 1h2m-2 1h2m-2 0h2m-2 1h2m-2 0h2m-2 4h2m-2 0h2m-2 0h2m-2 2h2m-2 0h2m-2 1h2m-1-27h2m-2 0h2m-2 0h2m-2 1h2m-2 4h2m-2 0h2m-2 0h2m-2 1h2m-2 0h2m-2 1h2m-2 0h2m-2 3h2m-2 0h2m-2 1h2m-2 1h2m-2 2h2m-2 0h2m-2 0h2m-2 0h2m-2 3h2m-2 1h2m-2 1h2m-2 2h2m-2 2h2m-2 0h2m-2 0h2m-2 0h2m-2 0h2m-2 2h2m-2 1h2m-2 2h2m-2 1h2m-2 8h2m-1-31h2m-2 2h2m-2 1h2m-2 2h2m-2 0h2m-2 1h2m-2 0h2m-2 0h2m-2 1h2m-2 1h2m-2 0h2m-2 1h2m-2 0h2m-2 2h2m-2 2h2m-2 0h2m-2 1h2m-2 0h2m-2 2h2m-2 0h2m-2 4h2m-2 3h2m-1-27h2m-2 1h2m-2 0h2m-2 2h2m-2 2h2m-2 1h2m-2 6h2m-2 3h2m-2 0h2m-2 0h2m-2 1h2m-2 0h2m-2 1h2m-2 0h2m-2 0h2m-2 2h2m-2 0h2m-2 3h2m-1-19h2m-2 4h2m-2 0h2m-2 1h2m-2 3h2m-2 2h2m-2 0h2m-2 0h2m-2 1h2m-2 0h2m-2 2h2m-2 0h2m-2 1h2m-2 0h2m-2 1h2m-2 1h2m-2 3h2m-2 0h2m-2 2h2m-2 0h2m-2 1h2m-2 0h2m-2 3h2m-2 0h2m-1-31h2m-2 3h2m-2 2h2m-2 3h2m-2 0h2m-2 0h2m-2 2h2m-2 1h2m-2 2h2m-2 1h2m-2 0h2m-2 0h2m-2 1h2m-2 2h2m-2 0h2m-2 1h2m-2 0h2m-2 0h2m-2 3h2m-2 1h2m-2 2h2m-2 1h2m-1-20h2m-2 0h2m-2 1h2m-2 1h2m-2 0h2m-2 1h2m-2 0h2m-2 5h2m-2 1h2m-2 1h2m-2 1h2m-2 3h2m-2 1h2m-2 0h2m-2 2h2m-2 0h2m-2 2h2m-2 0h2m-2 0h2m-2 2h2m-2 1h2m-1-24h2m-2 0h2m-2 3h2m-2 2h2m-2 1h2m-2 1h2m-2 0h2m-2 1h2m-2 3h2m-2 2h2m-2 2h2m-2 4h2m-2 0h2m-2 0h2m-2 0h2m-1-21h2m-2 5h2m-2 1h2m-2 1h2m-2 0h2m-2 3h2m-2 0h2m-2 0h2m-2 0h2m-2 1h2m-2 2h2m-2 0h2m-2 3h2m-2 0h2m-2 2h2m-2 1h2m-2 0h2m-2 1h2m-2 0h2m-2 0h2m-2 1h2m-2 0h2m-2 1h2m-2 1h2m-2 3h2m-2 1h2m-2 1h2m-1-29h2m-2 3h2m-2 1h2m-2 1h2m-2 1h2m-2 0h2m-2 7h2m-2 0h2m-2 2h2m-2 1h2m-2 2h2m-2 1h2m-2 1h2m-2 1h2m-2 7h2m-1-23h2m-2 2h2m-2 3h2m-2 0h2m-2 1h2m-2 3h2m-2 3h2m-2 0h2m-2 0h2m-2 3h2m-2 2h2m-2 1h2m-2 1h2m-2 0h2m-2 1h2m-2 2h2m-2 1h2m-2 0h2m-2 2h2m-2 0h2m-1-28h2m-2 3h2m-2 4h2m-2 0h2m-2 2h2m-2 1h2m-2 3h2m-2 1h2m-2 2h2m-2 0h2m-2 3h2m-2 0h2m-2 2h2m-2 3h2m-2 1h2m-2 1h2m-2 1h2m-1-27h2m-2 3h2m-2 2h2m-2 2h2m-2 2h2m-2 3h2m-2 1h2m-2 0h2m-2 2h2m-2 0h2m-2 1h2m-2 2h2m-2 0h2m-2 2h2m-2 0h2m-2 0h2m-2 2h2m-2 1h2m-1-19h2m-2 1h2m-2 0h2m-2 3h2m-2 1h2m-2 1h2m-2 1h2m-2 0h2m-2 0h2m-2 1h2m-2 0h2m-2 1h2m-2 0h2m-2 0h2m-2 4h2m-2 1h2m-2 2h2m-2 0h2m-2 2h2m-2 1h2m-2 1h2m-2 0h2m-2 3h2m-1-19h2m-2 1h2m-2 1h2m-2 1h2m-2 3h2m-2 5h2m-2 0h2m-2 0h2m-2 3h2m-2 0h2m-2 0h2m-2 1h2m-2 3h2m-2 1h2m-1-31h2m-2 2h2m-2 5h2m-2 1h2m-2 1h2m-2 0h2m-2 3h2m-2 2h2m-2 2h2m-2 3h2m-2 1h2m-2 4h2m-2 1h2m-2 1h2m-2 1h2m-2 1h2m-2 1h2m-1-24h2m-2 7h2m-2 1h2m-2 2h2m-2 0h2m-2 1h2m-2 0h2m-2 0h2m-2 1h2m-2 1h2m-2 1h2m-2 7h2m-2 1h2m-2 1h2m-2 3h2m-2 1h2m-2 1h2m-2 0h2m-1-30h2m-2 0h2m-2 1h2m-2 1h2m-2 0h2m-2 7h2m-2 0h2m-2 3h2m-2 0h2m-2 4h2m-2 2h2m-2 4h2m-2 0h2m-2 1h2m-2 0h2m-2 0h2m-2 1h2m-2 1h2m-2 0h2m-2 1h2m-1-25h2m-2 1h2m-2 5h2m-2 2h2m-2 0h2m-2 1h2m-2 0h2m-2 1h2m-2 1h2m-2 3h2m-2 1h2m-2 3h2m-2 0h2m-2 0h2m-2 1h2m-2 1h2m-2 0h2m-2 2h2m-2 0h2m-2 1h2m-2 0h2m-2 1h2m-2 4h2m-1-25h2m-2 3h2m-2 0h2m-2 2h2m-2 0h2m-2 2h2m-2 1h2m-2 1h2m-2 0h2m-2 0h2m-2 2h2m-2 0h2m-2 0h2m-2 1h2m-2 2h2m-2 3h2m-2 1h2m-2 3h2m-2 0h2m-2 0h2m-2 2h2m-2 2h2m-2 19h2m-1-42h2m-2 0h2m-2 0h2m-2 1h2m-2 3h2m-2 1h2m-2 2h2m-2 0h2m-2 2h2m-2 0h2m-2 1h2m-2 1h2m-2 0h2m-2 1h2m-2 0h2m-2 1h2m-2 1h2m-2 0h2m-2 2h2m-2 1h2m-2 2h2m-2 1h2m-1-24h2m-2 4h2m-2 0h2m-2 0h2m-2 1h2m-2 1h2m-2 1h2m-2 0h2m-2 3h2m-2 0h2m-2 2h2m-2 0h2m-2 4h2m-2 2h2m-2 2h2m-2 1h2m-2 0h2m-2 0h2m-2 0h2m-2 2h2m-2 5h2m-1-24h2m-2 0h2m-2 2h2m-2 2h2m-2 1h2m-2 3h2m-2 0h2m-2 3h2m-2 2h2m-2 0h2m-2 1h2m-2 1h2m-2 2h2m-2 3h2m-2 2h2m-2 0h2m-2 3h2m-1-25h2m-2 0h2m-2 3h2m-2 1h2m-2 2h2m-2 1h2m-2 0h2m-2 0h2m-2 0h2m-2 3h2m-2 1h2m-2 2h2m-2 2h2m-2 0h2m-2 1h2m-2 2h2m-2 0h2m-2 0h2m-2 0h2m-1-21h2m-2 3h2m-2 0h2m-2 5h2m-2 6h2m-2 0h2m-2 0h2m-2 1h2m-2 0h2m-2 1h2m-2 1h2m-2 0h2m-1-19h2m-2 3h2m-2 0h2m-2 0h2m-2 4h2m-2 0h2m-2 1h2m-2 2h2m-2 1h2m-2 0h2m-2 0h2m-2 2h2m-2 2h2m-2 0h2m-2 3h2m-2 0h2m-2 1h2m-2 2h2m-2 1h2m-2 0h2m-2 1h2m-2 2h2m-2 0h2m-2 1h2m-1-25h2m-2 1h2m-2 2h2m-2 2h2m-2 2h2m-2 0h2m-2 2h2m-2 0h2m-2 1h2m-2 0h2m-2 0h2m-2 2h2m-2 2h2m-2 1h2m-2 3h2m-2 1h2m-2 1h2m-2 2h2m-2 1h2m-2 1h2m-2 0h2m-2 2h2m-1-23h2m-2 0h2m-2 1h2m-2 1h2m-2 1h2m-2 0h2m-2 4h2m-2 2h2m-2 0h2m-2 1h2m-2 1h2m-2 0h2m-2 1h2m-2 0h2m-2 1h2m-2 0h2m-2 2h2m-2 0h2m-2 2h2m-2 3h2m-2 0h2m-2 2h2m-1-26h2m-2 8h2m-2 3h2m-2 0h2m-2 1h2m-2 0h2m-2 3h2m-2 2h2m-2 2h2m-2 3h2m-2 3h2m-2 1h2m-1-27h2m-2 4h2m-2 3h2m-2 3h2m-2 1h2m-2 1h2m-2 1h2m-2 1h2m-2 0h2m-2 1h2m-2 1h2m-2 0h2m-2 1h2m-2 0h2m-2 0h2m-2 1h2m-2 2h2m-2 0h2m-2 3h2m-2 1h2m-2 5h2m-1-25h2m-2 0h2m-2 1h2m-2 1h2m-2 1h2m-2 1h2m-2 0h2m-2 1h2m-2 1h2m-2 4h2m-2 0h2m-2 0h2m-2 1h2m-2 1h2m-2 4h2m-2 0h2m-2 1h2m-2 0h2m-2 1h2m-2 0h2m-2 1h2m-2 5h2m-1-25h2m-2 3h2m-2 2h2m-2 0h2m-2 0h2m-2 1h2m-2 3h2m-2 0h2m-2 0h2m-2 0h2m-2 1h2m-2 1h2m-2 0h2m-2 3h2m-2 0h2m-2 1h2m-2 1h2m-2 0h2m-2 1h2m-2 1h2m-2 0h2m-2 0h2m-2 2h2m-2 0h2m-2 0h2m-1-47h2m-2 11h2m-2 21h2m-2 1h2m-2 2h2m-2 1h2m-2 2h2m-2 2h2m-2 3h2m-2 2h2m-2 1h2m-2 0h2m-2 4h2m-2 3h2m-2 0h2m-2 2h2m-1-30h2m-2 3h2m-2 1h2m-2 0h2m-2 3h2m-2 1h2m-2 0h2m-2 0h2m-2 2h2m-2 0h2m-2 1h2m-2 2h2m-2 3h2m-2 1h2m-2 0h2m-2 2h2m-2 2h2m-2 1h2m-2 1h2m-2 3h2m-2 0h2m-2 3h2m-1-36h2m-2 12h2m-2 2h2m-2 1h2m-2 1h2m-2 1h2m-2 1h2m-2 1h2m-2 6h2m-2 0h2m-2 0h2m-2 1h2m-2 2h2m-2 1h2m-2 1h2m-2 0h2m-2 2h2m-2 0h2m-1-23h2m-2 0h2m-2 0h2m-2 2h2m-2 1h2m-2 1h2m-2 3h2m-2 2h2m-2 0h2m-2 0h2m-2 1h2m-2 0h2m-2 1h2m-2 2h2m-2 0h2m-2 0h2m-2 2h2m-2 1h2m-2 2h2m-2 2h2m-2 1h2m-2 1h2m-1-25h2m-2 5h2m-2 1h2m-2 0h2m-2 6h2m-2 0h2m-2 5h2m-2 2h2m-2 1h2m-2 2h2m-2 0h2m-2 1h2m-2 0h2m-2 0h2m-2 0h2m-2 0h2m-2 1h2m-2 1h2m-2 1h2m-2 1h2m-2 0h2m-1-28h2m-2 2h2m-2 2h2m-2 1h2m-2 6h2m-2 0h2m-2 1h2m-2 1h2m-2 0h2m-2 1h2m-2 0h2m-2 1h2m-2 1h2m-2 2h2m-2 0h2m-2 4h2m-2 2h2m-2 2h2m-2 1h2m-2 2h2m-2 4h2m-1-29h2m-2 5h2m-2 2h2m-2 1h2m-2 0h2m-2 1h2m-2 2h2m-2 0h2m-2 0h2m-2 1h2m-2 2h2m-2 1h2m-2 3h2m-2 2h2m-2 0h2m-1-21h2m-2 2h2m-2 1h2m-2 0h2m-2 2h2m-2 1h2m-2 0h2m-2 1h2m-2 0h2m-2 2h2m-2 1h2m-2 1h2m-2 3h2m-2 0h2m-2 1h2m-2 1h2m-2 1h2m-2 2h2m-2 1h2m-2 0h2m-2 0h2m-2 0h2m-2 3h2m-2 1h2m-2 0h2m-2 2h2m-1-23h2m-2 1h2m-2 1h2m-2 0h2m-2 2h2m-2 4h2m-2 1h2m-2 0h2m-2 1h2m-2 0h2m-2 2h2m-2 4h2m-2 0h2m-2 1h2m-2 0h2m-2 1h2m-2 0h2m-2 1h2m-2 1h2m-2 1h2m-2 1h2m-1-24h2m-2 3h2m-2 1h2m-2 0h2m-2 5h2m-2 0h2m-2 4h2m-2 1h2m-2 1h2m-2 0h2m-2 0h2m-2 1h2m-2 2h2m-2 2h2m-2 0h2m-2 1h2m-2 2h2m-2 2h2m-2 1h2m-2 0h2m-2 0h2m-1-21h2m-2 2h2m-2 2h2m-2 1h2m-2 1h2m-2 2h2m-2 1h2m-2 0h2m-2 2h2m-2 0h2m-2 3h2m-2 0h2m-2 3h2m-1-22h2m-2 5h2m-2 0h2m-2 2h2m-2 1h2m-2 2h2m-2 3h2m-2 0h2m-2 2h2m-2 0h2m-2 0h2m-2 0h2m-2 3h2m-2 0h2m-2 0h2m-2 1h2m-2 3h2m-2 1h2m-2 1h2m-1-24h2m-2 2h2m-2 2h2m-2 1h2m-2 0h2m-2 2h2m-2 4h2m-2 5h2m-2 1h2m-2 0h2m-2 0h2m-2 3h2m-2 2h2m-2 3h2m-1-24h2m-2 0h2m-2 3h2m-2 1h2m-2 0h2m-2 2h2m-2 0h2m-2 6h2m-2 0h2m-2 0h2m-2 2h2m-2 1h2m-2 0h2m-2 0h2m-2 2h2m-2 2h2m-2 0h2m-2 0h2m-2 1h2m-2 1h2m-1-18h2m-2 2h2m-2 2h2m-2 2h2m-2 3h2m-2 1h2m-2 1h2m-2 2h2m-2 2h2m-2 3h2m-2 0h2m-2 1h2m-2 1h2m-2 2h2m-1-28h2m-2 3h2m-2 1h2m-2 0h2m-2 1h2m-2 5h2m-2 1h2m-2 3h2m-2 1h2m-2 1h2m-2 0h2m-2 1h2m-2 1h2m-2 1h2m-2 0h2m-2 1h2m-2 1h2m-2 2h2m-2 0h2m-2 1h2m-2 1h2m-2 4h2m-1-25h2m-2 1h2m-2 0h2m-2 2h2m-2 2h2m-2 0h2m-2 1h2m-2 2h2m-2 2h2m-2 2h2m-2 0h2m-2 1h2m-2 0h2m-2 3h2m-2 0h2m-2 1h2m-2 0h2m-2 1h2m-2 4h2m-1-26h2m-2 5h2m-2 1h2m-2 0h2m-2 1h2m-2 1h2m-2 1h2m-2 0h2m-2 1h2m-2 1h2m-2 3h2m-2 1h2m-2 2h2m-2 3h2m-2 1h2m-2 1h2m-2 4h2m-2 4h2m-1-26h2m-2 4h2m-2 2h2m-2 2h2m-2 0h2m-2 2h2m-2 2h2m-2 0h2m-2 1h2m-2 1h2m-2 0h2m-2 2h2m-2 0h2m-2 1h2m-2 0h2m-2 1h2m-2 0h2m-2 2h2m-2 0h2m-2 0h2m-2 1h2m-2 1h2m-2 1h2m-1-25h2m-2 2h2m-2 2h2m-2 2h2m-2 2h2m-2 3h2m-2 0h2m-2 1h2m-2 0h2m-2 2h2m-2 0h2m-2 4h2m-2 0h2m-2 1h2m-2 1h2m-2 1h2m-2 0h2m-2 0h2m-2 0h2m-2 2h2m-2 0h2m-2 2h2m-2 1h2m-2 1h2m-1-26h2m-2 2h2m-2 2h2m-2 2h2m-2 1h2m-2 0h2m-2 0h2m-2 0h2m-2 1h2m-2 3h2m-2 2h2m-2 2h2m-2 1h2m-2 1h2m-2 1h2m-2 1h2m-2 1h2m-2 1h2m-2 2h2m-2 0h2m-1-25h2m-2 2h2m-2 1h2m-2 1h2m-2 4h2m-2 1h2m-2 0h2m-2 4h2m-2 0h2m-2 0h2m-2 3h2m-2 1h2m-2 1h2m-2 5h2m-2 0h2m-2 5h2m-1-25h2m-2 0h2m-2 4h2m-2 1h2m-2 4h2m-2 0h2m-2 2h2m-2 3h2m-2 0h2m-2 4h2m-2 3h2m-1-25h2m-2 6h2m-2 1h2m-2 1h2m-2 0h2m-2 2h2m-2 2h2m-2 0h2m-2 1h2m-2 1h2m-2 3h2m-2 1h2m-2 2h2m-2 0h2m-2 1h2m-2 3h2m-2 0h2m-1-22h2m-2 1h2m-2 2h2m-2 0h2m-2 1h2m-2 2h2m-2 1h2m-2 1h2m-2 1h2m-2 1h2m-2 2h2m-2 1h2m-2 3h2m-2 0h2m-2 1h2m-2 0h2m-2 4h2m-2 2h2m-2 0h2m-1-42h2m-2 15h2m-2 3h2m-2 0h2m-2 2h2m-2 1h2m-2 2h2m-2 0h2m-2 0h2m-2 2h2m-2 0h2m-2 2h2m-2 1h2m-2 1h2m-2 0h2m-2 1h2m-2 1h2m-2 2h2m-2 2h2m-2 0h2m-2 1h2m-2 6h2m-2 0h2m-2 1h2m-1-21h2m-2 3h2m-2 0h2m-2 1h2m-2 1h2m-2 0h2m-2 1h2m-2 0h2m-2 1h2m-2 2h2m-2 4h2m-2 0h2m-2 1h2m-2 1h2m-1-20h2m-2 1h2m-2 1h2m-2 4h2m-2 1h2m-2 3h2m-2 4h2m-2 1h2m-2 1h2m-2 1h2m-2 0h2m-2 0h2m-2 1h2m-2 0h2m-2 2h2m-2 0h2m-2 0h2m-2 1h2m-2 1h2m-2 1h2m-2 0h2m-2 1h2m-2 3h2m-2 1h2m-1-26h2m-2 1h2m-2 1h2m-2 1h2m-2 3h2m-2 2h2m-2 2h2m-2 1h2m-2 1h2m-2 5h2m-2 1h2m-2 4h2m-1-31h2m-2 7h2m-2 2h2m-2 1h2m-2 1h2m-2 1h2m-2 2h2m-2 0h2m-2 0h2m-2 1h2m-2 1h2m-2 0h2m-2 1h2m-2 1h2m-2 0h2m-2 1h2m-2 0h2m-2 1h2m-2 1h2m-2 0h2m-2 3h2m-2 1h2m-2 1h2m-2 7h2m-2 2h2m-1-23h2m-2 2h2m-2 4h2m-2 0h2m-2 2h2m-2 1h2m-2 1h2m-2 0h2m-2 0h2m-2 2h2m-2 1h2m-2 1h2m-2 3h2m-2 0h2m-2 1h2m-2 2h2m-2 5h2m-1-32h2m-2 3h2m-2 3h2m-2 2h2m-2 1h2m-2 0h2m-2 1h2m-2 2h2m-2 1h2m-2 1h2m-2 1h2m-2 4h2m-2 1h2m-2 1h2m-2 0h2m-2 0h2m-2 0h2m-2 1h2m-2 0h2m-2 0h2m-2 1h2m-2 0h2m-2 0h2m-2 3h2m-2 1h2m-1-26h2m-2 6h2m-2 0h2m-2 1h2m-2 2h2m-2 1h2m-2 2h2m-2 0h2m-2 1h2m-2 2h2m-2 0h2m-2 0h2m-2 0h2m-2 0h2m-2 3h2m-2 0h2m-2 1h2m-2 0h2m-2 3h2m-2 0h2m-2 1h2m-2 1h2m-2 3h2m-1-25h2m-2 0h2m-2 2h2m-2 1h2m-2 4h2m-2 7h2m-2 1h2m-2 0h2m-2 1h2m-2 1h2m-2 0h2m-2 4h2m-1-23h2m-2 5h2m-2 1h2m-2 2h2m-2 3h2m-2 0h2m-2 1h2m-2 1h2m-2 1h2m-2 2h2m-2 1h2m-2 1h2m-2 0h2m-2 0h2m-2 3h2m-2 1h2m-2 0h2m-2 0h2m-2 2h2m-2 2h2m-2 1h2m-2 2h2m-1-25h2m-2 4h2m-2 2h2m-2 1h2m-2 1h2m-2 5h2m-2 0h2m-2 0h2m-2 2h2m-2 2h2m-2 9h2m-1-25h2m-2 0h2m-2 1h2m-2 0h2m-2 3h2m-2 1h2m-2 1h2m-2 3h2m-2 2h2m-2 0h2m-2 0h2m-2 3h2m-2 0h2m-2 1h2m-2 0h2m-2 1h2m-2 0h2m-2 8h2m-2 2h2m-1-34h2m-2 10h2m-2 1h2m-2 0h2m-2 1h2m-2 0h2m-2 2h2m-2 1h2m-2 1h2m-2 3h2m-2 0h2m-2 0h2m-2 0h2m-2 2h2m-2 0h2m-2 1h2m-2 0h2m-2 1h2m-2 2h2m-2 1h2m-2 1h2m-2 0h2m-2 0h2m-2 1h2m-1-23h2m-2 6h2m-2 0h2m-2 1h2m-2 0h2m-2 1h2m-2 1h2m-2 0h2m-2 2h2m-2 0h2m-2 1h2m-2 1h2m-2 1h2m-2 1h2m-2 0h2m-2 1h2m-2 0h2m-2 2h2m-2 0h2m-2 2h2m-2 1h2m-2 2h2m-1-17h2m-2 2h2m-2 0h2m-2 4h2m-2 0h2m-2 2h2m-2 0h2m-2 1h2m-2 1h2m-2 1h2m-2 2h2m-2 1h2m-2 0h2m-2 0h2m-2 2h2m-2 3h2m-2 0h2m-2 2h2m-2 0h2m-1-27h2m-2 4h2m-2 1h2m-2 1h2m-2 4h2m-2 0h2m-2 1h2m-2 0h2m-2 0h2m-2 1h2m-2 0h2m-2 2h2m-2 1h2m-2 0h2m-2 3h2m-2 0h2m-2 2h2m-2 2h2m-2 4h2m-1-25h2m-2 2h2m-2 4h2m-2 1h2m-2 3h2m-2 0h2m-2 2h2m-2 0h2m-2 0h2m-2 1h2m-2 1h2m-2 2h2m-2 1h2m-2 0h2m-2 1h2m-2 1h2m-2 2h2m-2 2h2m-2 1h2m-2 13h2m-1-41h2m-2 2h2m-2 0h2m-2 3h2m-2 1h2m-2 2h2m-2 1h2m-2 2h2m-2 2h2m-2 1h2m-2 1h2m-2 2h2m-2 2h2m-2 0h2m-2 0h2m-2 2h2m-2 2h2m-2 6h2m-1-23h2m-2 2h2m-2 0h2m-2 1h2m-2 0h2m-2 0h2m-2 2h2m-2 2h2m-2 1h2m-2 0h2m-2 1h2m-2 1h2m-2 1h2m-2 1h2m-2 1h2m-2 0h2m-2 0h2m-2 6h2m-2 2h2m-1-28h2m-2 3h2m-2 1h2m-2 0h2m-2 6h2m-2 0h2m-2 1h2m-2 2h2m-2 0h2m-2 1h2m-2 1h2m-2 2h2m-2 1h2m-2 2h2m-2 0h2m-2 1h2m-2 0h2m-2 2h2m-2 4h2m-2 1h2m-2 3h2m-1-25h2m-2 1h2m-2 3h2m-2 0h2m-2 1h2m-2 1h2m-2 1h2m-2 0h2m-2 1h2m-2 0h2m-2 2h2m-2 3h2m-2 1h2m-2 1h2m-2 2h2m-2 1h2m-2 1h2m-2 0h2m-2 11h2m-1-27h2m-2 1h2m-2 0h2m-2 1h2m-2 2h2m-2 0h2m-2 0h2m-2 1h2m-2 0h2m-2 0h2m-2 2h2m-2 2h2m-2 0h2m-2 0h2m-2 1h2m-2 2h2m-2 0h2m-2 1h2m-2 1h2m-2 0h2m-2 0h2m-2 4h2m-2 0h2m-1-27h2m-2 6h2m-2 1h2m-2 3h2m-2 0h2m-2 0h2m-2 1h2m-2 2h2m-2 1h2m-2 1h2m-2 1h2m-2 1h2m-2 2h2m-2 8h2m-2 3h2m-2 1h2m-2 1h2m-1-31h2m-2 6h2m-2 2h2m-2 0h2m-2 2h2m-2 2h2m-2 0h2m-2 3h2m-2 2h2m-2 2h2m-2 0h2m-2 1h2m-2 1h2m-2 0h2m-2 3h2m-2 1h2m-2 0h2m-2 4h2m-2 3h2m-1-30h2m-2 6h2m-2 0h2m-2 0h2m-2 1h2m-2 1h2m-2 0h2m-2 0h2m-2 1h2m-2 1h2m-2 0h2m-2 1h2m-2 0h2m-2 0h2m-2 0h2m-2 1h2m-2 2h2m-2 1h2m-2 0h2m-2 0h2m-2 3h2m-2 1h2m-2 1h2m-2 1h2m-2 1h2m-2 0h2m-2 1h2m-1-22h2m-2 1h2m-2 4h2m-2 1h2m-2 0h2m-2 2h2m-2 0h2m-2 2h2m-2 4h2m-2 2h2m-2 0h2m-2 1h2m-2 1h2m-2 2h2m-2 0h2m-2 2h2m-2 1h2m-2 5h2m-1-23h2m-2 1h2m-2 1h2m-2 2h2m-2 0h2m-2 1h2m-2 0h2m-2 2h2m-2 1h2m-2 3h2m-2 1h2m-2 1h2m-2 2h2m-2 0h2m-2 0h2m-2 4h2m-1-22h2m-2 2h2m-2 0h2m-2 3h2m-2 0h2m-2 1h2m-2 1h2m-2 1h2m-2 2h2m-2 2h2m-2 4h2m-2 1h2m-2 1h2m-2 0h2m-2 1h2m-2 0h2m-2 1h2m-2 0h2m-2 1h2m-2 0h2m-2 0h2m-1-24h2m-2 4h2m-2 2h2m-2 0h2m-2 1h2m-2 2h2m-2 1h2m-2 2h2m-2 3h2m-2 0h2m-2 5h2m-2 1h2m-2 1h2m-2 0h2m-2 4h2m-2 3h2m-1-26h2m-2 3h2m-2 1h2m-2 0h2m-2 2h2m-2 0h2m-2 0h2m-2 0h2m-2 0h2m-2 1h2m-2 1h2m-2 0h2m-2 0h2m-2 2h2m-2 0h2m-2 0h2m-2 4h2m-2 3h2m-2 0h2m-2 1h2m-2 3h2m-2 0h2m-2 2h2m-2 4h2m-1-30h2m-2 3h2m-2 1h2m-2 3h2m-2 1h2m-2 1h2m-2 1h2m-2 1h2m-2 2h2m-2 1h2m-2 0h2m-2 2h2m-2 0h2m-2 1h2m-2 0h2m-2 1h2m-2 2h2m-2 1h2m-2 0h2m-2 2h2m-2 1h2m-1-27h2m-2 6h2m-2 3h2m-2 3h2m-2 1h2m-2 1h2m-2 3h2m-2 1h2m-2 2h2m-2 2h2m-2 1h2m-2 2h2m-2 0h2m-2 1h2m-2 4h2m-1-27h2m-2 2h2m-2 4h2m-2 1h2m-2 1h2m-2 0h2m-2 2h2m-2 0h2m-2 2h2m-2 2h2m-2 5h2m-2 1h2m-2 0h2m-2 3h2m-2 1h2m-2 1h2m-2 1h2m-2 4h2m-1-28h2m-2 1h2m-2 0h2m-2 5h2m-2 2h2m-2 1h2m-2 0h2m-2 3h2m-2 5h2m-2 4h2m-2 0h2m-2 1h2m-2 0h2m-1-20h2m-2 4h2m-2 1h2m-2 0h2m-2 0h2m-2 1h2m-2 0h2m-2 1h2m-2 0h2m-2 1h2m-2 1h2m-2 0h2m-2 1h2m-2 1h2m-2 0h2m-2 0h2m-2 2h2m-2 1h2m-2 4h2m-2 0h2m-2 0h2m-2 3h2m-2 2h2m-2 0h2m-1-28h2m-2 4h2m-2 4h2m-2 1h2m-2 0h2m-2 1h2m-2 1h2m-2 1h2m-2 2h2m-2 3h2m-2 1h2m-2 2h2m-2 2h2m-2 2h2m-2 0h2m-2 1h2m-2 2h2m-2 1h2m-1-29h2m-2 3h2m-2 4h2m-2 2h2m-2 0h2m-2 1h2m-2 2h2m-2 0h2m-2 0h2m-2 1h2m-2 2h2m-2 1h2m-2 0h2m-2 0h2m-2 1h2m-2 0h2m-2 3h2m-2 3h2m-2 0h2m-2 1h2m-2 0h2m-2 5h2m-2 4h2m-1-32h2m-2 4h2m-2 1h2m-2 6h2m-2 0h2m-2 5h2m-2 1h2m-2 1h2m-2 5h2m-2 0h2m-2 2h2m-2 4h2m-2 1h2m-2 1h2m-2 3h2m-1-32h2m-2 2h2m-2 1h2m-2 2h2m-2 1h2m-2 1h2m-2 1h2m-2 1h2m-2 3h2m-2 2h2m-2 0h2m-2 1h2m-2 2h2m-2 2h2m-2 2h2m-2 1h2m-2 3h2m-1-26h2m-2 3h2m-2 1h2m-2 1h2m-2 1h2m-2 0h2m-2 3h2m-2 0h2m-2 2h2m-2 2h2m-2 1h2m-2 1h2m-2 0h2m-2 0h2m-2 0h2m-2 2h2m-2 1h2m-2 2h2m-2 0h2m-2 0h2m-2 1h2m-2 0h2m-2 1h2m-2 1h2m-2 1h2m-2 1h2m-2 0h2m-2 1h2m-2 2h2m-2 19h2m-1-44h2m-2 1h2m-2 1h2m-2 3h2m-2 1h2m-2 1h2m-2 1h2m-2 2h2m-2 4h2m-2 0h2m-2 1h2m-2 7h2m-2 0h2m-2 2h2m-2 0h2m-2 3h2m-1-27h2m-2 2h2m-2 0h2m-2 0h2m-2 1h2m-2 1h2m-2 4h2m-2 3h2m-2 1h2m-2 0h2m-2 1h2m-2 1h2m-2 0h2m-2 2h2m-2 1h2m-2 0h2m-2 2h2m-2 1h2m-2 5h2m-2 1h2m-1-28h2m-2 3h2m-2 1h2m-2 5h2m-2 1h2m-2 3h2m-2 8h2m-2 2h2m-1-24h2m-2 5h2m-2 1h2m-2 1h2m-2 0h2m-2 0h2m-2 1h2m-2 0h2m-2 1h2m-2 1h2m-2 2h2m-2 0h2m-2 0h2m-2 0h2m-2 4h2m-2 0h2m-2 1h2m-2 0h2m-2 1h2m-2 0h2m-2 0h2m-2 2h2m-2 1h2m-2 2h2m-2 0h2m-2 0h2m-2 0h2m-1-19h2m-2 3h2m-2 3h2m-2 0h2m-2 2h2m-2 0h2m-2 3h2m-2 2h2m-2 0h2m-2 1h2m-2 0h2m-2 1h2m-2 0h2m-2 1h2m-2 1h2m-2 0h2m-2 1h2m-2 1h2m-1-24h2m-2 4h2m-2 1h2m-2 0h2m-2 2h2m-2 3h2m-2 1h2m-2 0h2m-2 5h2m-2 1h2m-2 2h2m-2 1h2m-2 0h2m-2 6h2m-2 1h2m-1-23h2m-2 5h2m-2 6h2m-2 0h2m-2 2h2m-2 1h2m-2 1h2m-2 0h2m-2 1h2m-2 1h2m-2 0h2m-2 2h2m-2 1h2m-2 4h2m-2 0h2m-2 4h2m-1-27h2m-2 1h2m-2 2h2m-2 2h2m-2 1h2m-2 0h2m-2 4h2m-2 0h2m-2 1h2m-2 1h2m-2 0h2m-2 1h2m-2 1h2m-2 1h2m-2 1h2m-2 1h2m-2 1h2m-2 0h2m-2 1h2m-2 2h2m-2 4h2m-1-23h2m-2 5h2m-2 0h2m-2 1h2m-2 0h2m-2 5h2m-2 1h2m-2 0h2m-2 0h2m-2 1h2m-2 3h2m-2 0h2m-2 2h2m-2 6h2m-2 1h2m-1-31h2m-2 2h2m-2 2h2m-2 1h2m-2 1h2m-2 4h2m-2 1h2m-2 2h2m-2 0h2m-2 0h2m-2 1h2m-2 1h2m-2 1h2m-2 3h2m-2 0h2m-2 1h2m-2 1h2m-2 0h2m-2 4h2m-2 1h2m-2 0h2m-1-23h2m-2 0h2m-2 2h2m-2 2h2m-2 1h2m-2 1h2m-2 0h2m-2 2h2m-2 1h2m-2 0h2m-2 4h2m-2 1h2m-2 1h2m-2 0h2m-2 1h2m-2 4h2m-2 2h2m-2 2h2m-2 2h2m-1-32h2m-2 2h2m-2 1h2m-2 1h2m-2 2h2m-2 1h2m-2 0h2m-2 1h2m-2 0h2m-2 0h2m-2 1h2m-2 1h2m-2 0h2m-2 1h2m-2 1h2m-2 1h2m-2 0h2m-2 0h2m-2 2h2m-2 1h2m-2 5h2m-2 1h2m-2 0h2m-2 0h2m-2 1h2m-2 1h2m-2 5h2m-2 0h2m-2 1h2m-1-28h2m-2 0h2m-2 3h2m-2 3h2m-2 1h2m-2 2h2m-2 3h2m-2 0h2m-2 0h2m-2 1h2m-2 1h2m-2 1h2m-2 1h2m-2 2h2m-2 0h2m-2 1h2m-2 0h2m-2 2h2m-2 1h2m-2 1h2m-2 0h2m-2 2h2m-2 5h2m-1-28h2m-2 0h2m-2 6h2m-2 2h2m-2 1h2m-2 0h2m-2 5h2m-2 0h2m-2 3h2m-2 0h2m-2 0h2m-2 5h2m-2 1h2m-2 0h2m-2 2h2m-2 1h2m-2 1h2m-2 0h2m-1-22h2m-2 2h2m-2 1h2m-2 2h2m-2 0h2m-2 2h2m-2 2h2m-2 1h2m-2 2h2m-2 0h2m-2 1h2m-2 0h2m-2 2h2m-2 0h2m-2 1h2m-2 1h2m-2 0h2m-2 1h2m-2 0h2m-2 1h2m-2 0h2m-2 3h2m-2 2h2m-1-33h2m-2 1h2m-2 1h2m-2 5h2m-2 1h2m-2 1h2m-2 3h2m-2 5h2m-2 0h2m-2 4h2m-2 0h2m-2 0h2m-2 1h2m-2 1h2m-2 1h2m-2 0h2m-2 0h2m-2 2h2m-2 2h2m-2 2h2m-1-27h2m-2 4h2m-2 0h2m-2 1h2m-2 1h2m-2 0h2m-2 1h2m-2 0h2m-2 2h2m-2 0h2m-2 3h2m-2 2h2m-2 1h2m-2 2h2m-2 0h2m-2 5h2m-2 1h2m-2 2h2m-1-21h2m-2 0h2m-2 1h2m-2 1h2m-2 2h2m-2 1h2m-2 2h2m-2 2h2m-2 2h2m-2 0h2m-2 1h2m-2 1h2m-2 1h2m-2 3h2m-2 0h2m-2 2h2m-2 0h2m-2 2h2m-2 0h2m-2 2h2m-2 3h2m-1-33h2m-2 7h2m-2 0h2m-2 2h2m-2 1h2m-2 2h2m-2 0h2m-2 1h2m-2 3h2m-2 0h2m-2 1h2m-2 1h2m-2 1h2m-2 3h2m-2 1h2m-2 0h2m-2 2h2m-2 2h2m-2 1h2m-2 2h2m-2 5h2m-1-33h2m-2 5h2m-2 0h2m-2 1h2m-2 1h2m-2 0h2m-2 1h2m-2 1h2m-2 2h2m-2 2h2m-2 4h2m-2 4h2m-2 0h2m-2 4h2m-2 3h2m-1-26h2m-2 4h2m-2 2h2m-2 3h2m-2 1h2m-2 1h2m-2 0h2m-2 1h2m-2 2h2m-2 1h2m-2 2h2m-2 0h2m-2 1h2m-2 0h2m-2 5h2m-2 2h2m-2 1h2m-2 3h2m-1-34h2m-2 9h2m-2 3h2m-2 2h2m-2 2h2m-2 4h2m-2 1h2m-2 2h2m-2 0h2m-2 2h2m-2 1h2m-2 1h2m-2 1h2m-2 2h2m-2 0h2m-1-21h2m-2 0h2m-2 1h2m-2 0h2m-2 1h2m-2 1h2m-2 1h2m-2 0h2m-2 1h2m-2 5h2m-2 1h2m-2 0h2m-2 2h2m-2 1h2m-2 2h2m-2 1h2m-2 4h2m-1-22h2m-2 2h2m-2 2h2m-2 1h2m-2 2h2m-2 0h2m-2 5h2m-2 3h2m-2 0h2m-2 3h2m-2 2h2m-2 1h2m-2 4h2m-1-30h2m-2 4h2m-2 0h2m-2 3h2m-2 2h2m-2 2h2m-2 1h2m-2 0h2m-2 2h2m-2 1h2m-2 0h2m-2 0h2m-2 1h2m-2 1h2m-2 1h2m-2 0h2m-2 1h2m-2 1h2m-2 1h2m-2 4h2m-2 0h2m-2 2h2m-1-25h2m-2 3h2m-2 0h2m-2 1h2m-2 1h2m-2 1h2m-2 1h2m-2 0h2m-2 1h2m-2 5h2m-2 1h2m-2 1h2m-2 2h2m-2 2h2m-2 2h2m-2 2h2m-2 3h2m-1-30h2m-2 8h2m-2 1h2m-2 3h2m-2 1h2m-2 0h2m-2 0h2m-2 1h2m-2 1h2m-2 3h2m-2 0h2m-2 0h2m-2 1h2m-2 1h2m-2 0h2m-2 1h2m-2 5h2m-2 4h2m-2 2h2m-1-26h2m-2 3h2m-2 3h2m-2 0h2m-2 1h2m-2 0h2m-2 0h2m-2 1h2m-2 0h2m-2 1h2m-2 1h2m-2 2h2m-2 1h2m-2 3h2m-2 0h2m-2 1h2m-2 1h2m-2 0h2m-2 1h2m-2 1h2m-2 3h2m-2 1h2m-2 3h2m-1-33h2m-2 10h2m-2 1h2m-2 0h2m-2 1h2m-2 1h2m-2 2h2m-2 1h2m-2 0h2m-2 4h2m-2 1h2m-2 0h2m-2 0h2m-2 1h2m-2 1h2m-2 2h2m-2 4h2m-1-24h2m-2 3h2m-2 0h2m-2 1h2m-2 1h2m-2 1h2m-2 1h2m-2 0h2m-2 2h2m-2 1h2m-2 1h2m-2 4h2m-2 0h2m-2 2h2m-2 1h2m-2 2h2m-2 1h2m-2 5h2m-2 2h2m-1-28h2m-2 0h2m-2 1h2m-2 1h2m-2 2h2m-2 2h2m-2 0h2m-2 0h2m-2 0h2m-2 3h2m-2 3h2m-2 3h2m-2 1h2m-2 1h2m-2 0h2m-2 1h2m-2 0h2m-2 1h2m-2 1h2m-2 1h2m-2 0h2m-2 1h2m-2 0h2m-2 0h2m-2 2h2m-2 0h2m-2 0h2m-2 3h2m-1-28h2m-2 2h2m-2 2h2m-2 2h2m-2 1h2m-2 1h2m-2 2h2m-2 1h2m-2 0h2m-2 2h2m-2 0h2m-2 1h2m-2 0h2m-2 4h2m-2 1h2m-2 0h2m-2 0h2m-2 1h2m-2 0h2m-2 3h2m-2 1h2m-2 1h2m-1-20h2m-2 1h2m-2 1h2m-2 1h2m-2 1h2m-2 1h2m-2 1h2m-2 0h2m-2 2h2m-2 1h2m-2 2h2m-2 1h2m-2 1h2m-2 1h2m-2 3h2m-2 9h2m-1-25h2m-2 1h2m-2 1h2m-2 2h2m-2 1h2m-2 1h2m-2 1h2m-2 0h2m-2 1h2m-2 0h2m-2 2h2m-2 0h2m-2 1h2m-2 1h2m-2 1h2m-2 0h2m-2 7h2m-1-25h2m-2 5h2m-2 0h2m-2 3h2m-2 1h2m-2 2h2m-2 3h2m-2 1h2m-2 0h2m-2 1h2m-2 1h2m-2 1h2m-2 0h2m-2 1h2m-2 1h2m-2 1h2m-2 1h2m-2 1h2m-1-20h2m-2 4h2m-2 2h2m-2 0h2m-2 1h2m-2 0h2m-2 0h2m-2 6h2m-2 1h2m-2 0h2m-2 1h2m-2 1h2m-2 1h2m-2 0h2m-2 2h2m-1-24h2m-2 1h2m-2 2h2m-2 0h2m-2 6h2m-2 3h2m-2 1h2m-2 1h2m-2 0h2m-2 3h2m-2 0h2m-2 2h2m-2 1h2m-2 1h2m-2 0h2m-2 1h2m-2 0h2m-2 1h2m-2 1h2m-2 0h2m-1-24h2m-2 1h2m-2 4h2m-2 0h2m-2 2h2m-2 1h2m-2 0h2m-2 4h2m-2 1h2m-2 0h2m-2 1h2m-2 0h2m-2 1h2m-2 2h2m-2 1h2m-2 1h2m-2 1h2m-2 1h2m-2 0h2m-2 4h2m-2 11h2m-1-31h2m-2 0h2m-2 6h2m-2 1h2m-2 0h2m-2 1h2m-2 1h2m-2 1h2m-2 4h2m-2 1h2m-2 1h2m-2 0h2m-2 0h2m-2 1h2m-2 0h2m-2 1h2m-2 2h2m-2 0h2m-2 3h2m-1-31h2m-2 3h2m-2 1h2m-2 0h2m-2 6h2m-2 1h2m-2 2h2m-2 0h2m-2 0h2m-2 1h2m-2 2h2m-2 0h2m-2 1h2m-2 2h2m-2 0h2m-2 3h2m-2 3h2m-2 1h2m-2 0h2m-2 3h2m-2 1h2m-1-27h2m-2 2h2m-2 2h2m-2 0h2m-2 1h2m-2 0h2m-2 1h2m-2 1h2m-2 0h2m-2 2h2m-2 1h2m-2 0h2m-2 1h2m-2 1h2m-2 1h2m-2 3h2m-2 1h2m-2 1h2m-2 6h2m-2 5h2m-1-35h2m-2 9h2m-2 2h2m-2 1h2m-2 0h2m-2 1h2m-2 1h2m-2 0h2m-2 2h2m-2 0h2m-2 0h2m-2 1h2m-2 1h2m-2 1h2m-2 0h2m-2 0h2m-2 4h2m-2 1h2m-2 1h2m-2 1h2m-2 3h2m-2 3h2m-2 0h2m-2 1h2m-2 0h2m-1-23h2m-2 2h2m-2 0h2m-2 1h2m-2 1h2m-2 0h2m-2 3h2m-2 2h2m-2 0h2m-2 1h2m-2 0h2m-2 0h2m-2 1h2m-2 0h2m-2 3h2m-2 0h2m-2 2h2m-2 3h2m-2 2h2m-2 1h2m-2 2h2m-1-28h2m-2 2h2m-2 2h2m-2 0h2m-2 1h2m-2 1h2m-2 3h2m-2 0h2m-2 1h2m-2 0h2m-2 5h2m-2 1h2m-2 2h2m-2 1h2m-2 1h2m-2 0h2m-2 0h2m-2 0h2m-2 7h2m-2 4h2m-1-33h2m-2 10h2m-2 2h2m-2 2h2m-2 2h2m-2 1h2m-2 0h2m-2 1h2m-2 2h2m-2 1h2m-2 3h2m-2 3h2m-1-23h2m-2 1h2m-2 0h2m-2 0h2m-2 2h2m-2 3h2m-2 1h2m-2 1h2m-2 2h2m-2 4h2m-2 6h2m-2 2h2m-2 0h2m-1-20h2m-2 2h2m-2 1h2m-2 1h2m-2 1h2m-2 2h2m-2 0h2m-2 0h2m-2 1h2m-2 2h2m-2 2h2m-2 1h2m-2 1h2m-2 0h2m-2 1h2m-2 0h2m-2 0h2m-2 3h2m-2 1h2m-2 0h2m-2 0h2m-2 1h2m-1-21h2m-2 3h2m-2 2h2m-2 0h2m-2 4h2m-2 0h2m-2 5h2m-2 0h2m-2 0h2m-2 1h2m-2 1h2m-2 0h2m-2 3h2m-2 2h2m-2 0h2m-2 0h2m-2 1h2m-2 0h2m-2 2h2m-1-28h2m-2 3h2m-2 2h2m-2 6h2m-2 2h2m-2 1h2m-2 0h2m-2 2h2m-2 0h2m-2 1h2m-2 4h2m-2 1h2m-2 0h2m-2 1h2m-2 0h2m-2 1h2m-2 3h2m-2 0h2m-2 0h2m-2 2h2m-1-26h2m-2 1h2m-2 1h2m-2 3h2m-2 1h2m-2 2h2m-2 0h2m-2 0h2m-2 3h2m-2 0h2m-2 1h2m-2 1h2m-2 0h2m-2 0h2m-2 1h2m-2 0h2m-2 1h2m-2 0h2m-2 0h2m-2 2h2m-2 1h2m-2 1h2m-2 1h2m-1-27h2m-2 7h2m-2 2h2m-2 0h2m-2 2h2m-2 0h2m-2 2h2m-2 1h2m-2 4h2m-2 0h2m-2 1h2m-2 1h2m-2 1h2m-2 1h2m-2 0h2m-2 0h2m-2 1h2m-2 0h2m-2 2h2m-2 1h2m-2 0h2m-2 5h2m-2 2h2m-1-29h2m-2 4h2m-2 1h2m-2 2h2m-2 2h2m-2 1h2m-2 1h2m-2 2h2m-2 2h2m-2 1h2m-2 0h2m-2 1h2m-2 1h2m-2 2h2m-2 0h2m-2 0h2m-2 1h2m-2 1h2m-2 0h2m-2 1h2m-2 0h2m-2 2h2m-2 0h2m-2 0h2m-2 3h2m-2 1h2m-2 1h2m-1-31h2m-2 6h2m-2 0h2m-2 1h2m-2 1h2m-2 1h2m-2 3h2m-2 2h2m-2 1h2m-2 2h2m-2 2h2m-2 3h2m-2 0h2m-2 2h2m-2 1h2m-1-33h2m-2 11h2m-2 1h2m-2 2h2m-2 1h2m-2 0h2m-2 1h2m-2 1h2m-2 1h2m-2 1h2m-2 0h2m-2 2h2m-2 0h2m-2 5h2m-2 0h2m-2 1h2m-2 0h2m-2 3h2m-2 0h2m-2 1h2m-2 1h2m-2 0h2m-2 1h2m-2 2h2m-1-31h2m-2 3h2m-2 5h2m-2 3h2m-2 0h2m-2 2h2m-2 1h2m-2 0h2m-2 0h2m-2 0h2m-2 3h2m-2 3h2m-2 2h2m-2 2h2m-2 0h2m-2 1h2m-2 1h2m-2 2h2m-2 1h2m-2 3h2m-2 1h2m-1-20h2m-2 3h2m-2 2h2m-2 4h2m-2 1h2m-2 4h2m-2 0h2m-2 4h2m-2 3h2m-2 0h2m-1-25h2m-2 0h2m-2 1h2m-2 3h2m-2 0h2m-2 6h2m-2 0h2m-2 0h2m-2 1h2m-2 4h2m-2 0h2m-2 4h2m-2 1h2m-2 1h2m-2 1h2m-1-21h2m-2 0h2m-2 5h2m-2 0h2m-2 4h2m-2 1h2m-2 0h2m-2 1h2m-2 2h2m-2 0h2m-2 3h2m-2 0h2m-2 2h2m-1-16h2m-2 1h2m-2 1h2m-2 3h2m-2 1h2m-2 0h2m-2 1h2m-2 1h2m-2 0h2m-2 0h2m-2 2h2m-2 3h2m-2 1h2m-2 2h2m-2 1h2m-2 0h2m-2 2h2m-2 1h2m-1-22h2m-2 1h2m-2 0h2m-2 3h2m-2 1h2m-2 1h2m-2 0h2m-2 1h2m-2 0h2m-2 1h2m-2 1h2m-2 0h2m-2 0h2m-2 2h2m-2 0h2m-2 1h2m-2 3h2m-2 1h2m-2 3h2m-2 1h2m-1-25h2m-2 3h2m-2 0h2m-2 1h2m-2 0h2m-2 1h2m-2 0h2m-2 0h2m-2 3h2m-2 1h2m-2 1h2m-2 4h2m-2 2h2m-2 2h2m-2 1h2m-2 0h2m-2 2h2m-2 0h2m-2 1h2m-2 4h2m-2 1h2m-1-37h2m-2 14h2m-2 1h2m-2 2h2m-2 1h2m-2 0h2m-2 1h2m-2 0h2m-2 1h2m-2 0h2m-2 0h2m-2 3h2m-2 1h2m-2 0h2m-2 1h2m-2 2h2m-2 2h2m-2 2h2m-2 1h2m-2 0h2m-2 1h2m-2 4h2m-2 0h2m-1-25h2m-2 1h2m-2 1h2m-2 3h2m-2 1h2m-2 1h2m-2 1h2m-2 1h2m-2 0h2m-2 3h2m-2 1h2m-2 0h2m-2 2h2m-2 1h2m-2 2h2m-2 1h2m-2 3h2m-2 0h2m-2 2h2m-2 0h2m-2 1h2m-2 1h2m-1-24h2m-2 0h2m-2 8h2m-2 1h2m-2 4h2m-2 0h2m-2 5h2m-2 0h2m-2 1h2m-2 0h2m-2 1h2m-2 1h2m-2 3h2m-2 5h2m-1-30h2m-2 0h2m-2 2h2m-2 3h2m-2 1h2m-2 1h2m-2 1h2m-2 1h2m-2 0h2m-2 0h2m-2 2h2m-2 1h2m-2 0h2m-2 4h2m-2 0h2m-2 1h2m-2 0h2m-2 0h2m-2 2h2m-2 0h2m-2 2h2m-2 2h2m-2 2h2m-2 0h2m-1-25h2m-2 0h2m-2 2h2m-2 3h2m-2 1h2m-2 1h2m-2 1h2m-2 3h2m-2 0h2m-2 2h2m-2 0h2m-2 0h2m-2 1h2m-2 2h2m-2 1h2m-2 1h2m-2 0h2m-2 0h2m-2 7h2m-1-24h2m-2 0h2m-2 4h2m-2 1h2m-2 0h2m-2 1h2m-2 0h2m-2 5h2m-2 0h2m-2 5h2m-2 3h2m-2 0h2m-1-24h2m-2 4h2m-2 3h2m-2 2h2m-2 1h2m-2 1h2m-2 4h2m-2 0h2m-2 1h2m-2 2h2m-2 0h2m-2 1h2m-2 1h2m-2 0h2m-2 2h2m-2 2h2m-2 2h2m-2 2h2m-2 2h2m-1-30h2m-2 8h2m-2 0h2m-2 3h2m-2 1h2m-2 1h2m-2 1h2m-2 0h2m-2 1h2m-2 2h2m-2 0h2m-2 0h2m-2 1h2m-2 0h2m-2 1h2m-2 1h2m-2 1h2m-2 1h2m-2 1h2m-2 5h2m-2 0h2m-2 1h2m-2 2h2m-2 2h2m-1-33h2m-2 5h2m-2 3h2m-2 0h2m-2 3h2m-2 2h2m-2 1h2m-2 0h2m-2 1h2m-2 0h2m-2 3h2m-2 3h2m-2 1h2m-2 1h2m-2 1h2m-2 2h2m-2 3h2m-1-27h2m-2 0h2m-2 1h2m-2 4h2m-2 1h2m-2 1h2m-2 1h2m-2 1h2m-2 0h2m-2 1h2m-2 1h2m-2 2h2m-2 0h2m-2 0h2m-2 3h2m-2 1h2m-2 0h2m-2 1h2m-2 2h2m-2 0h2m-1-26h2m-2 6h2m-2 2h2m-2 0h2m-2 3h2m-2 1h2m-2 2h2m-2 0h2m-2 0h2m-2 2h2m-2 1h2m-2 0h2m-2 0h2m-2 1h2m-2 2h2m-2 1h2m-2 0h2m-2 0h2m-2 3h2m-2 1h2m-2 0h2m-2 1h2m-2 0h2m-2 0h2m-2 1h2m-2 1h2m-2 1h2m-2 1h2m-2 0h2m-2 14h2m-1-39h2m-2 2h2m-2 2h2m-2 0h2m-2 0h2m-2 0h2m-2 1h2m-2 3h2m-2 1h2m-2 1h2m-2 1h2m-2 0h2m-2 4h2m-2 0h2m-2 1h2m-2 0h2m-2 3h2m-2 0h2m-2 0h2m-2 2h2m-2 0h2m-2 2h2m-2 1h2m-2 0h2m-1-23h2m-2 4h2m-2 0h2m-2 3h2m-2 0h2m-2 3h2m-2 2h2m-2 0h2m-2 1h2m-2 0h2m-2 0h2m-2 2h2m-2 0h2m-2 2h2m-2 1h2m-2 0h2m-2 1h2m-2 0h2m-2 0h2m-2 1h2m-2 3h2m-2 1h2m-2 2h2m-1-29h2m-2 6h2m-2 0h2m-2 0h2m-2 1h2m-2 0h2m-2 2h2m-2 0h2m-2 2h2m-2 1h2m-2 2h2m-2 1h2m-2 1h2m-2 0h2m-2 1h2m-2 4h2m-2 2h2m-2 0h2m-2 1h2m-2 0h2m-2 3h2m-2 2h2m-2 0h2m-2 2h2m-2 1h2m-1-29h2m-2 5h2m-2 1h2m-2 1h2m-2 1h2m-2 1h2m-2 0h2m-2 3h2m-2 2h2m-2 2h2m-2 2h2m-2 1h2m-2 2h2m-2 2h2m-2 5h2m-1-28h2m-2 4h2m-2 1h2m-2 4h2m-2 3h2m-2 2h2m-2 0h2m-2 1h2m-2 2h2m-2 1h2m-2 1h2m-2 0h2m-2 3h2m-2 1h2m-2 2h2m-1-32h2m-2 8h2m-2 4h2m-2 2h2m-2 0h2m-2 0h2m-2 1h2m-2 1h2m-2 3h2m-2 0h2m-2 1h2m-2 0h2m-2 0h2m-2 0h2m-2 1h2m-2 0h2m-2 0h2m-2 2h2m-2 0h2m-2 0h2m-2 1h2m-2 1h2m-2 1h2m-2 3h2m-2 2h2m-2 5h2m-1-24h2m-2 2h2m-2 0h2m-2 0h2m-2 1h2m-2 0h2m-2 2h2m-2 0h2m-2 1h2m-2 1h2m-2 0h2m-2 1h2m-2 4h2m-2 1h2m-2 1h2m-2 0h2m-2 1h2m-2 1h2m-2 1h2m-2 2h2m-1-24h2m-2 0h2m-2 4h2m-2 3h2m-2 2h2m-2 2h2m-2 2h2m-2 2h2m-2 2h2m-2 0h2m-2 2h2m-2 0h2m-2 1h2m-2 0h2m-2 0h2m-2 4h2m-2 1h2m-2 7h2m-1-28h2m-2 1h2m-2 3h2m-2 0h2m-2 1h2m-2 0h2m-2 2h2m-2 2h2m-2 4h2m-2 2h2m-2 7h2m-2 1h2m-1-24h2m-2 1h2m-2 0h2m-2 2h2m-2 0h2m-2 3h2m-2 0h2m-2 1h2m-2 2h2m-2 1h2m-2 1h2m-2 0h2m-2 2h2m-2 0h2m-2 0h2m-2 1h2m-2 0h2m-2 1h2m-2 2h2m-2 1h2m-2 1h2m-2 2h2m-1-20h2m-2 0h2m-2 4h2m-2 1h2m-2 3h2m-2 1h2m-2 1h2m-2 3h2m-2 0h2m-2 1h2m-2 1h2m-2 0h2m-2 3h2m-2 5h2m-1-29h2m-2 2h2m-2 1h2m-2 4h2m-2 0h2m-2 1h2m-2 1h2m-2 1h2m-2 0h2m-2 2h2m-2 0h2m-2 1h2m-2 1h2m-2 1h2m-2 0h2m-2 1h2m-2 2h2m-2 1h2m-2 1h2m-2 3h2m-2 0h2m-2 1h2m-2 2h2m-2 1h2m-1-23h2m-2 1h2m-2 2h2m-2 2h2m-2 2h2m-2 0h2m-2 5h2m-2 0h2m-2 1h2m-2 0h2m-2 1h2m-2 6h2m-2 0h2m-2 2h2m-2 0h2m-2 0h2m-2 1h2m-2 1h2m-2 3h2m-1-28h2m-2 0h2m-2 3h2m-2 3h2m-2 1h2m-2 1h2m-2 2h2m-2 0h2m-2 1h2m-2 2h2m-2 2h2m-2 1h2m-2 1h2m-2 1h2m-2 1h2m-2 0h2m-2 1h2m-2 1h2m-2 0h2m-2 1h2m-2 1h2m-2 1h2m-2 0h2m-2 2h2m-2 0h2m-1-25h2m-2 2h2m-2 3h2m-2 2h2m-2 1h2m-2 5h2m-2 5h2m-2 0h2m-2 0h2m-2 3h2m-1-26h2m-2 7h2m-2 0h2m-2 0h2m-2 2h2m-2 4h2m-2 0h2m-2 2h2m-2 0h2m-2 1h2m-2 3h2m-2 2h2m-2 0h2m-2 0h2m-2 1h2m-2 1h2m-2 2h2m-2 1h2m-2 1h2m-2 7h2m-1-33h2m-2 6h2m-2 4h2m-2 2h2m-2 0h2m-2 1h2m-2 1h2m-2 3h2m-2 2h2m-2 1h2m-2 0h2m-2 1h2m-2 1h2m-2 5h2m-2 2h2m-1-26h2m-2 1h2m-2 6h2m-2 0h2m-2 0h2m-2 1h2m-2 1h2m-2 1h2m-2 1h2m-2 1h2m-2 0h2m-2 2h2m-2 1h2m-2 4h2m-2 0h2m-2 3h2m-2 0h2m-2 1h2m-2 2h2m-1-25h2m-2 0h2m-2 1h2m-2 3h2m-2 1h2m-2 0h2m-2 1h2m-2 0h2m-2 1h2m-2 0h2m-2 1h2m-2 1h2m-2 0h2m-2 0h2m-2 2h2m-2 3h2m-2 1h2m-2 1h2m-2 0h2m-2 6h2m-2 4h2m-2 0h2m-1-26h2m-2 1h2m-2 2h2m-2 0h2m-2 3h2m-2 0h2m-2 1h2m-2 0h2m-2 4h2m-2 1h2m-2 4h2m-2 1h2m-2 5h2m-2 1h2m-2 8h2m-1-30h2m-2 3h2m-2 0h2m-2 2h2m-2 0h2m-2 1h2m-2 4h2m-2 1h2m-2 1h2m-2 0h2m-2 0h2m-2 1h2m-2 1h2m-2 1h2m-2 0h2m-2 1h2m-2 1h2m-2 2h2m-2 0h2m-2 0h2m-2 1h2m-2 2h2m-2 2h2m-2 3h2m-2 1h2m-1-31h2m-2 5h2m-2 3h2m-2 1h2m-2 0h2m-2 2h2m-2 0h2m-2 2h2m-2 1h2m-2 1h2m-2 0h2m-2 0h2m-2 1h2m-2 0h2m-2 0h2m-2 1h2m-2 2h2m-2 2h2m-2 1h2m-2 2h2m-2 0h2m-2 3h2m-1-22h2m-2 0h2m-2 5h2m-2 0h2m-2 1h2m-2 1h2m-2 1h2m-2 1h2m-2 0h2m-2 0h2m-2 1h2m-2 2h2m-2 0h2m-2 0h2m-2 1h2m-2 2h2m-2 0h2m-2 5h2m-2 0h2m-2 7h2m-1-29h2m-2 2h2m-2 2h2m-2 0h2m-2 1h2m-2 1h2m-2 1h2m-2 1h2m-2 2h2m-2 1h2m-2 0h2m-2 3h2m-2 1h2m-2 1h2m-2 1h2m-2 0h2m-2 1h2m-2 1h2m-2 0h2m-2 0h2m-2 0h2m-2 1h2m-2 0h2m-2 1h2m-2 1h2m-1-22h2m-2 4h2m-2 0h2m-2 5h2m-2 0h2m-2 0h2m-2 2h2m-2 1h2m-2 4h2m-2 2h2m-2 1h2m-2 1h2m-2 0h2m-2 1h2m-2 0h2m-2 1h2m-2 0h2m-2 1h2m-2 0h2m-2 1h2m-2 1h2m-1-17h2m-2 1h2m-2 0h2m-2 1h2m-2 5h2m-2 0h2m-2 1h2m-2 1h2m-2 2h2m-2 2h2m-2 2h2m-1-19h2m-2 0h2m-2 3h2m-2 4h2m-2 1h2m-2 0h2m-2 1h2m-2 0h2m-2 1h2m-2 0h2m-2 0h2m-2 1h2m-2 0h2m-2 0h2m-2 1h2m-2 0h2m-2 3h2m-2 1h2m-2 1h2m-2 2h2m-2 0h2m-2 1h2m-1-29h2m-2 4h2m-2 3h2m-2 0h2m-2 6h2m-2 0h2m-2 0h2m-2 2h2m-2 1h2m-2 1h2m-2 4h2m-2 0h2m-2 2h2m-2 0h2m-2 0h2m-2 1h2m-2 0h2m-2 1h2m-2 1h2m-2 1h2m-1-23h2m-2 4h2m-2 1h2m-2 1h2m-2 2h2m-2 0h2m-2 0h2m-2 1h2m-2 3h2m-2 0h2m-2 1h2m-2 1h2m-2 1h2m-2 0h2m-2 3h2m-2 0h2m-2 2h2m-2 0h2m-2 3h2m-2 2h2m-2 0h2m-2 0h2m-2 2h2m-1-30h2m-2 5h2m-2 4h2m-2 0h2m-2 1h2m-2 1h2m-2 4h2m-2 0h2m-2 3h2m-2 1h2m-2 0h2m-2 0h2m-2 1h2m-2 1h2m-2 1h2m-2 0h2m-2 0h2m-2 1h2m-2 0h2m-2 1h2m-2 3h2m-2 2h2m-2 0h2m-2 7h2m-1-33h2m-2 0h2m-2 2h2m-2 0h2m-2 1h2m-2 0h2m-2 1h2m-2 1h2m-2 1h2m-2 0h2m-2 1h2m-2 0h2m-2 0h2m-2 1h2m-2 0h2m-2 0h2m-2 1h2m-2 0h2m-2 1h2m-2 0h2m-2 1h2m-2 1h2m-2 0h2m-2 1h2m-2 0h2m-2 2h2m-2 0h2m-2 0h2m-2 1h2m-2 3h2m-2 1h2m-2 3h2m-2 1h2m-2 2h2m-1-28h2m-2 6h2m-2 2h2m-2 1h2m-2 1h2m-2 0h2m-2 1h2m-2 0h2m-2 0h2m-2 2h2m-2 1h2m-2 1h2m-2 1h2m-2 1h2m-2 1h2m-2 1h2m-2 2h2m-2 5h2m-2 2h2m-2 4h2m-1-29h2m-2 2h2m-2 2h2m-2 0h2m-2 2h2m-2 1h2m-2 2h2m-2 2h2m-2 1h2m-2 3h2m-2 1h2m-2 1h2m-2 3h2m-2 3h2m-2 1h2m-2 1h2m-2 0h2m-1-25h2m-2 4h2m-2 1h2m-2 1h2m-2 0h2m-2 1h2m-2 0h2m-2 0h2m-2 1h2m-2 2h2m-2 2h2m-2 0h2m-2 0h2m-2 0h2m-2 1h2m-2 0h2m-2 1h2m-2 1h2m-2 0h2m-2 0h2m-2 0h2m-2 1h2m-2 0h2m-2 0h2m-2 0h2m-2 1h2m-2 1h2m-2 0h2m-2 1h2m-2 2h2m-2 1h2m-1-24h2m-2 3h2m-2 1h2m-2 1h2m-2 1h2m-2 1h2m-2 1h2m-2 1h2m-2 3h2m-2 2h2m-2 4h2m-2 0h2m-2 1h2m-2 3h2m-2 1h2m-2 0h2m-2 2h2m-2 1h2m-2 1h2m-1-23h2m-2 0h2m-2 1h2m-2 1h2m-2 1h2m-2 1h2m-2 2h2m-2 0h2m-2 0h2m-2 1h2m-2 0h2m-2 1h2m-2 2h2m-2 2h2m-2 0h2m-2 0h2m-2 1h2m-2 1h2m-2 0h2m-2 1h2m-2 0h2m-2 1h2m-2 2h2m-2 3h2m-2 2h2m-1-30h2m-2 7h2m-2 2h2m-2 2h2m-2 0h2m-2 1h2m-2 3h2m-2 0h2m-2 2h2m-2 5h2m-2 1h2m-2 0h2m-2 1h2m-2 2h2m-2 0h2m-2 1h2m-1-25h2m-2 4h2m-2 1h2m-2 0h2m-2 2h2m-2 0h2m-2 0h2m-2 1h2m-2 1h2m-2 2h2m-2 3h2m-2 0h2m-2 4h2m-2 3h2m-2 0h2m-2 1h2m-2 0h2m-2 0h2m-2 1h2m-2 3h2m-2 4h2m-1-28h2m-2 6h2m-2 0h2m-2 2h2m-2 2h2m-2 1h2m-2 2h2m-2 0h2m-2 1h2m-2 2h2m-2 3h2m-2 0h2m-2 1h2m-2 0h2m-2 0h2m-2 1h2m-2 0h2m-2 1h2m-2 3h2m-1-23h2m-2 1h2m-2 0h2m-2 1h2m-2 4h2m-2 3h2m-2 3h2m-2 1h2m-2 1h2m-2 0h2m-2 1h2m-2 1h2m-2 0h2m-2 0h2m-2 5h2m-2 3h2m-1-24h2m-2 0h2m-2 2h2m-2 1h2m-2 0h2m-2 0h2m-2 1h2m-2 0h2m-2 2h2m-2 0h2m-2 1h2m-2 1h2m-2 1h2m-2 1h2m-2 0h2m-2 1h2m-2 1h2m-2 1h2m-2 2h2m-2 0h2m-2 2h2m-2 1h2m-2 0h2m-2 1h2m-2 0h2m-2 4h2m-2 1h2m-1-22h2m-2 1h2m-2 0h2m-2 1h2m-2 1h2m-2 0h2m-2 4h2m-2 2h2m-2 1h2m-2 3h2m-2 1h2m-2 1h2m-2 0h2m-2 1h2m-2 0h2m-2 1h2m-2 1h2m-2 1h2m-2 1h2m-2 2h2m-2 4h2m-1-28h2m-2 1h2m-2 0h2m-2 0h2m-2 0h2m-2 3h2m-2 0h2m-2 0h2m-2 0h2m-2 0h2m-2 1h2m-2 1h2m-2 2h2m-2 0h2m-2 0h2m-2 0h2m-2 2h2m-2 4h2m-2 1h2m-2 0h2m-2 6h2m-2 3h2m-2 2h2m-1-23h2m-2 2h2m-2 0h2m-2 2h2m-2 0h2m-2 0h2m-2 1h2m-2 0h2m-2 2h2m-2 4h2m-2 0h2m-2 2h2m-2 0h2m-2 2h2m-2 5h2m-2 0h2m-1-24h2m-2 0h2m-2 1h2m-2 0h2m-2 3h2m-2 4h2m-2 2h2m-2 2h2m-2 1h2m-2 1h2m-2 2h2m-2 0h2m-2 0h2m-2 0h2m-2 1h2m-2 0h2m-2 0h2m-2 0h2m-2 0h2m-2 2h2m-2 0h2m-2 3h2m-2 0h2m-2 2h2m-1-23h2m-2 0h2m-2 1h2m-2 2h2m-2 1h2m-2 1h2m-2 3h2m-2 1h2m-2 1h2m-2 2h2m-2 3h2m-2 3h2m-2 1h2m-2 2h2m-2 1h2m-2 0h2m-1-26h2m-2 7h2m-2 1h2m-2 1h2m-2 0h2m-2 1h2m-2 1h2m-2 2h2m-2 0h2m-2 1h2m-2 0h2m-2 3h2m-2 1h2m-2 1h2m-2 1h2m-2 0h2m-2 2h2m-2 1h2m-2 1h2m-2 0h2m-2 0h2m-2 1h2m-2 4h2m-1-24h2m-2 2h2m-2 1h2m-2 1h2m-2 0h2m-2 3h2m-2 2h2m-2 0h2m-2 2h2m-2 0h2m-2 2h2m-2 1h2m-2 0h2m-2 1h2m-2 0h2m-2 1h2m-2 2h2m-2 0h2m-2 2h2m-2 1h2m-1-25h2m-2 0h2m-2 10h2m-2 2h2m-2 3h2m-2 0h2m-2 1h2m-2 1h2m-2 0h2m-2 0h2m-2 1h2m-2 0h2m-2 2h2m-2 0h2m-2 2h2m-2 0h2m-2 3h2m-2 2h2m-2 1h2m-2 1h2m-2 23h2m-1-49h2m-2 7h2m-2 1h2m-2 0h2m-2 0h2m-2 0h2m-2 2h2m-2 1h2m-2 4h2m-2 0h2m-2 1h2m-2 0h2m-2 5h2m-2 3h2m-2 4h2m-1-35h2m-2 7h2m-2 1h2m-2 0h2m-2 4h2m-2 2h2m-2 0h2m-2 2h2m-2 4h2m-2 3h2m-2 4h2m-2 0h2m-2 3h2m-2 0h2m-1-18h2m-2 3h2m-2 2h2m-2 0h2m-2 1h2m-2 2h2m-2 0h2m-2 1h2m-2 0h2m-2 3h2m-2 0h2m-2 1h2m-2 0h2m-2 3h2m-2 0h2m-2 3h2m-1-1h2" stroke="#6c6c6c" stroke-width="2" stroke-opacity=".8" fill="none"/><path d="M547.7 349H680.6" stroke="#c878c8" stroke-width="1.15" fill="none"/><text x="677.6" y="348.4" font-size="2.3" text-anchor="middle" fill="#3a3a3a" textLength="4.8" lengthAdjust="spacingAndGlyphs" font-weight="bold">1500</text><path d="M547.7 291.4H680.6V406.6H547.7Z" stroke="#a2a2a2" stroke-width="1" fill="none"/><text x="1.8" y="18.7" font-size="17" fill="#111">A<tspan font-family="NanumGothic, sans-serif" font-size="16" dx=".4" stroke="#111" stroke-width="0.45">1</tspan></text><text x="341.3" y="18.6" font-size="17" fill="#111">A2</text><text x="515.8" y="18.6" font-size="17" fill="#111">A3</text><text x="2.2" y="160" font-size="17" fill="#111">B<tspan font-family="NanumGothic, sans-serif" font-size="16" dx="-.4" stroke="#111" stroke-width="0.45">1</tspan></text><text x="340.6" y="160" font-size="17" fill="#111">B2</text><text x="515.5" y="160" font-size="17" fill="#111">B3</text><text x="1.55" y="301.1" font-size="17.4" fill="#111">C<tspan font-family="NanumGothic, sans-serif" font-size="16" dx=".45" stroke="#111" stroke-width="0.45">1</tspan></text><text x="340.8" y="301.1" font-size="17.4" fill="#111">C2</text><text x="515.5" y="301.1" font-size="17.4" fill="#111">C3</text></svg></body></html>
